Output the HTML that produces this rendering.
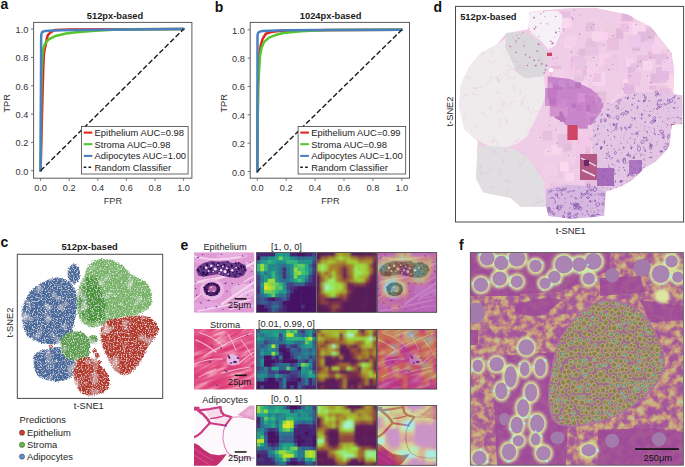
<!DOCTYPE html><html><head><meta charset="utf-8"><style>html,body{margin:0;padding:0;background:#fff;overflow:hidden}svg{display:block}</style></head><body><svg width="685" height="467" viewBox="0 0 685 467" font-family='"Liberation Sans", sans-serif'>
<rect width="685" height="467" fill="#fff"/>
<text x="115.0" y="19.0" font-size="9.3" text-anchor="middle" font-weight="bold" fill="#1a1a1a">512px-based</text>
<text x="0.4" y="8.7" font-size="14" text-anchor="start" font-weight="bold" fill="#111">a</text>
<g fill="none" stroke-width="2.5" stroke-linejoin="round" stroke-linecap="round">
<path d="M40.60,170.70 L41.32,142.38 L42.03,114.06 L42.60,92.82 L43.17,71.58 L43.75,56.00 L44.60,49.63 L45.61,45.24 L46.61,39.72 L47.61,35.61 L49.18,33.63 L50.75,32.36 L52.76,30.94 L55.33,29.95 L69.20,29.38 L183.60,29.10" stroke="#e0261d"/>
<path d="M40.60,170.70 L41.17,99.90 L41.74,71.58 L42.40,56.00 L43.17,49.63 L44.32,45.24 L46.32,41.84 L48.75,39.44 L52.04,37.60 L55.33,36.04 L66.05,33.49 L76.35,32.22 L91.79,30.94 L113.53,29.81 L140.70,29.24 L183.60,29.10" stroke="#57c52c"/>
<path d="M40.60,170.70 L40.89,99.90 L41.10,56.00 L41.14,39.01 L41.24,35.47 L41.53,33.63 L42.03,32.36 L43.46,31.37 L45.46,30.94 L48.75,30.66 L60.05,30.23 L99.94,29.81 L183.60,29.10" stroke="#4a80c0"/>
</g>
<line x1="40.60" y1="170.70" x2="183.60" y2="29.10" stroke="#1a1a1a" stroke-width="1.4" stroke-dasharray="5.2 2.4"/>
<rect x="33.6" y="22.4" width="158.3" height="155.8" fill="none" stroke="#5a5a5a" stroke-width="1"/>
<line x1="31.0" y1="170.70" x2="33.6" y2="170.70" stroke="#666" stroke-width="0.9"/>
<line x1="40.60" y1="178.2" x2="40.60" y2="180.8" stroke="#666" stroke-width="0.9"/>
<text x="28.3" y="174.7" font-size="9.2" text-anchor="end" font-weight="normal" fill="#333">0.0</text>
<text x="40.6" y="191.2" font-size="9.2" text-anchor="middle" font-weight="normal" fill="#333">0.0</text>
<line x1="31.0" y1="142.38" x2="33.6" y2="142.38" stroke="#666" stroke-width="0.9"/>
<line x1="69.20" y1="178.2" x2="69.20" y2="180.8" stroke="#666" stroke-width="0.9"/>
<text x="28.3" y="146.38" font-size="9.2" text-anchor="end" font-weight="normal" fill="#333">0.2</text>
<text x="69.2" y="191.2" font-size="9.2" text-anchor="middle" font-weight="normal" fill="#333">0.2</text>
<line x1="31.0" y1="114.06" x2="33.6" y2="114.06" stroke="#666" stroke-width="0.9"/>
<line x1="97.80" y1="178.2" x2="97.80" y2="180.8" stroke="#666" stroke-width="0.9"/>
<text x="28.3" y="118.06" font-size="9.2" text-anchor="end" font-weight="normal" fill="#333">0.4</text>
<text x="97.8" y="191.2" font-size="9.2" text-anchor="middle" font-weight="normal" fill="#333">0.4</text>
<line x1="31.0" y1="85.74" x2="33.6" y2="85.74" stroke="#666" stroke-width="0.9"/>
<line x1="126.40" y1="178.2" x2="126.40" y2="180.8" stroke="#666" stroke-width="0.9"/>
<text x="28.3" y="89.74" font-size="9.2" text-anchor="end" font-weight="normal" fill="#333">0.6</text>
<text x="126.4" y="191.2" font-size="9.2" text-anchor="middle" font-weight="normal" fill="#333">0.6</text>
<line x1="31.0" y1="57.42" x2="33.6" y2="57.42" stroke="#666" stroke-width="0.9"/>
<line x1="155.00" y1="178.2" x2="155.00" y2="180.8" stroke="#666" stroke-width="0.9"/>
<text x="28.3" y="61.42" font-size="9.2" text-anchor="end" font-weight="normal" fill="#333">0.8</text>
<text x="155.0" y="191.2" font-size="9.2" text-anchor="middle" font-weight="normal" fill="#333">0.8</text>
<line x1="31.0" y1="29.10" x2="33.6" y2="29.10" stroke="#666" stroke-width="0.9"/>
<line x1="183.60" y1="178.2" x2="183.60" y2="180.8" stroke="#666" stroke-width="0.9"/>
<text x="28.3" y="33.1" font-size="9.2" text-anchor="end" font-weight="normal" fill="#333">1.0</text>
<text x="183.6" y="191.2" font-size="9.2" text-anchor="middle" font-weight="normal" fill="#333">1.0</text>
<text x="112.9" y="204.1" font-size="9.2" text-anchor="middle" font-weight="normal" fill="#333">FPR</text>
<text x="10.1" y="103.3" font-size="9.2" text-anchor="middle" font-weight="normal" fill="#333" transform="rotate(-90 10.1 103.3)">TPR</text>
<rect x="81.5" y="126.5" width="106.6" height="47.5" fill="#fff" stroke="#444" stroke-width="0.8"/>
<line x1="83.7" y1="132.6" x2="92.3" y2="132.6" stroke="#e0261d" stroke-width="2.1"/>
<text x="94.6" y="135.9" font-size="9.4" text-anchor="start" font-weight="normal" fill="#222">Epithelium AUC=0.98</text>
<line x1="83.7" y1="144.2" x2="92.3" y2="144.2" stroke="#57c52c" stroke-width="2.1"/>
<text x="94.6" y="147.5" font-size="9.4" text-anchor="start" font-weight="normal" fill="#222">Stroma AUC=0.98</text>
<line x1="83.7" y1="155.9" x2="92.3" y2="155.9" stroke="#4a80c0" stroke-width="2.1"/>
<text x="94.6" y="159.2" font-size="9.4" text-anchor="start" font-weight="normal" fill="#222">Adipocytes AUC=1.00</text>
<line x1="83.7" y1="167.2" x2="92.3" y2="167.2" stroke="#1a1a1a" stroke-width="1.4" stroke-dasharray="2.6 2.2"/>
<text x="94.6" y="170.5" font-size="9.4" text-anchor="start" font-weight="normal" fill="#222">Random Classifier</text>
<text x="330.6" y="19.0" font-size="9.3" text-anchor="middle" font-weight="bold" fill="#1a1a1a">1024px-based</text>
<text x="214.8" y="11.6" font-size="14" text-anchor="start" font-weight="bold" fill="#111">b</text>
<g fill="none" stroke-width="2.5" stroke-linejoin="round" stroke-linecap="round">
<path d="M257.30,171.50 L257.59,128.99 L258.02,86.48 L259.11,56.01 L260.70,45.39 L262.65,38.87 L265.83,33.77 L271.03,32.07 L278.69,31.08 L300.65,30.23 L401.80,29.80" stroke="#e0261d"/>
<path d="M257.30,171.50 L257.59,128.99 L258.17,86.48 L260.05,56.01 L261.35,48.50 L263.95,42.13 L269.00,37.59 L275.51,35.04 L283.02,33.06 L301.23,31.22 L326.95,30.08 L401.80,29.80" stroke="#57c52c"/>
<path d="M257.30,171.50 L257.44,100.65 L257.50,43.97 L257.53,36.18 L257.73,33.77 L258.46,32.49 L259.90,31.64 L262.65,31.08 L283.02,30.37 L329.55,30.08 L401.80,29.80" stroke="#4a80c0"/>
</g>
<line x1="257.30" y1="171.50" x2="401.80" y2="29.80" stroke="#1a1a1a" stroke-width="1.4" stroke-dasharray="5.2 2.4"/>
<rect x="250.2" y="22.4" width="159.3" height="155.8" fill="none" stroke="#5a5a5a" stroke-width="1"/>
<line x1="247.6" y1="171.50" x2="250.2" y2="171.50" stroke="#666" stroke-width="0.9"/>
<line x1="257.30" y1="178.2" x2="257.30" y2="180.8" stroke="#666" stroke-width="0.9"/>
<text x="244.9" y="175.5" font-size="9.2" text-anchor="end" font-weight="normal" fill="#333">0.0</text>
<text x="257.3" y="191.2" font-size="9.2" text-anchor="middle" font-weight="normal" fill="#333">0.0</text>
<line x1="247.6" y1="143.16" x2="250.2" y2="143.16" stroke="#666" stroke-width="0.9"/>
<line x1="286.20" y1="178.2" x2="286.20" y2="180.8" stroke="#666" stroke-width="0.9"/>
<text x="244.9" y="147.16" font-size="9.2" text-anchor="end" font-weight="normal" fill="#333">0.2</text>
<text x="286.2" y="191.2" font-size="9.2" text-anchor="middle" font-weight="normal" fill="#333">0.2</text>
<line x1="247.6" y1="114.82" x2="250.2" y2="114.82" stroke="#666" stroke-width="0.9"/>
<line x1="315.10" y1="178.2" x2="315.10" y2="180.8" stroke="#666" stroke-width="0.9"/>
<text x="244.9" y="118.82" font-size="9.2" text-anchor="end" font-weight="normal" fill="#333">0.4</text>
<text x="315.1" y="191.2" font-size="9.2" text-anchor="middle" font-weight="normal" fill="#333">0.4</text>
<line x1="247.6" y1="86.48" x2="250.2" y2="86.48" stroke="#666" stroke-width="0.9"/>
<line x1="344.00" y1="178.2" x2="344.00" y2="180.8" stroke="#666" stroke-width="0.9"/>
<text x="244.9" y="90.48" font-size="9.2" text-anchor="end" font-weight="normal" fill="#333">0.6</text>
<text x="344.0" y="191.2" font-size="9.2" text-anchor="middle" font-weight="normal" fill="#333">0.6</text>
<line x1="247.6" y1="58.14" x2="250.2" y2="58.14" stroke="#666" stroke-width="0.9"/>
<line x1="372.90" y1="178.2" x2="372.90" y2="180.8" stroke="#666" stroke-width="0.9"/>
<text x="244.9" y="62.14" font-size="9.2" text-anchor="end" font-weight="normal" fill="#333">0.8</text>
<text x="372.9" y="191.2" font-size="9.2" text-anchor="middle" font-weight="normal" fill="#333">0.8</text>
<line x1="247.6" y1="29.80" x2="250.2" y2="29.80" stroke="#666" stroke-width="0.9"/>
<line x1="401.80" y1="178.2" x2="401.80" y2="180.8" stroke="#666" stroke-width="0.9"/>
<text x="244.9" y="33.8" font-size="9.2" text-anchor="end" font-weight="normal" fill="#333">1.0</text>
<text x="401.8" y="191.2" font-size="9.2" text-anchor="middle" font-weight="normal" fill="#333">1.0</text>
<text x="330.35" y="204.1" font-size="9.2" text-anchor="middle" font-weight="normal" fill="#333">FPR</text>
<text x="226.7" y="103.3" font-size="9.2" text-anchor="middle" font-weight="normal" fill="#333" transform="rotate(-90 226.7 103.3)">TPR</text>
<rect x="298.1" y="126.5" width="107.6" height="47.5" fill="#fff" stroke="#444" stroke-width="0.8"/>
<line x1="300.3" y1="132.6" x2="308.9" y2="132.6" stroke="#e0261d" stroke-width="2.1"/>
<text x="311.2" y="135.9" font-size="9.4" text-anchor="start" font-weight="normal" fill="#222">Epithelium AUC=0.99</text>
<line x1="300.3" y1="144.2" x2="308.9" y2="144.2" stroke="#57c52c" stroke-width="2.1"/>
<text x="311.2" y="147.5" font-size="9.4" text-anchor="start" font-weight="normal" fill="#222">Stroma AUC=0.98</text>
<line x1="300.3" y1="155.9" x2="308.9" y2="155.9" stroke="#4a80c0" stroke-width="2.1"/>
<text x="311.2" y="159.2" font-size="9.4" text-anchor="start" font-weight="normal" fill="#222">Adipocytes AUC=1.00</text>
<line x1="300.3" y1="167.2" x2="308.9" y2="167.2" stroke="#1a1a1a" stroke-width="1.4" stroke-dasharray="2.6 2.2"/>
<text x="311.2" y="170.5" font-size="9.4" text-anchor="start" font-weight="normal" fill="#222">Random Classifier</text>
<defs><filter id="speck" x="-5%" y="-5%" width="110%" height="110%"><feTurbulence type="fractalNoise" baseFrequency="0.75" numOctaves="2" seed="3" result="n"/><feTurbulence type="fractalNoise" baseFrequency="0.09" numOctaves="2" seed="8" result="n2"/><feDisplacementMap in="SourceGraphic" in2="n" scale="4" xChannelSelector="R" yChannelSelector="G" result="d"/><feColorMatrix in="n" type="matrix" values="0 0 0 0 1  0 0 0 0 1  0 0 0 0 1  2.3 0 0 0 -1.15" result="m1"/><feColorMatrix in="n2" type="matrix" values="0 0 0 0 1  0 0 0 0 1  0 0 0 0 1  1.6 0 0 0 -0.92" result="m2"/><feComposite in="m1" in2="m2" operator="arithmetic" k2="1" k3="1" result="m"/><feComposite in="m" in2="d" operator="in" result="w"/><feMerge><feMergeNode in="d"/><feMergeNode in="w"/></feMerge></filter></defs>
<text x="89.6" y="249.8" font-size="9.3" text-anchor="middle" font-weight="bold" fill="#1a1a1a">512px-based</text>
<text x="0.6" y="246.8" font-size="14" text-anchor="start" font-weight="bold" fill="#111">c</text>
<g filter="url(#speck)">
<path d="M23.2,325.4 C22.4,321.8 20.8,317.7 21.3,313.0 C21.9,308.3 23.9,301.9 26.3,297.5 C28.7,293.1 32.3,289.5 35.6,286.6 C39.0,283.8 43.1,282.0 46.5,280.4 C49.9,278.8 52.5,277.3 55.8,277.3 C59.2,277.3 63.5,278.6 66.7,280.4 C69.8,282.2 73.1,284.8 74.8,288.2 C76.5,291.5 76.7,296.4 76.9,300.6 C77.1,304.7 76.6,308.9 76.0,313.0 C75.4,317.1 74.6,321.8 73.5,325.4 C72.5,329.1 72.0,331.9 69.8,334.7 C67.6,337.6 64.1,341.0 60.5,342.5 C56.9,344.1 52.2,344.3 48.1,344.1 C43.9,343.8 39.3,342.5 35.6,341.0 C32.0,339.4 28.4,337.3 26.3,334.7 C24.2,332.2 24.0,329.1 23.2,325.4Z" fill="#46689a"/>
<ellipse cx="73.8" cy="273.9" rx="6.2" ry="10.0" fill="#46689a"/>
<path d="M35.0,354.0 C37.4,351.7 43.8,349.9 48.1,348.7 C52.3,347.6 56.8,346.5 60.5,347.2 C64.2,347.8 68.0,350.2 70.4,352.8 C72.8,355.3 74.3,359.2 74.8,362.7 C75.2,366.2 74.2,370.7 72.9,373.6 C71.6,376.4 69.8,378.5 66.7,379.8 C63.6,381.1 58.4,381.6 54.3,381.3 C50.1,381.1 45.0,379.8 41.8,378.2 C38.7,376.7 37.0,374.6 35.6,372.0 C34.3,369.4 33.9,365.7 33.8,362.7 C33.7,359.7 32.6,356.3 35.0,354.0Z" fill="#46689a"/>
<path d="M78.5,288.8 C79.4,285.2 81.3,282.5 82.8,278.8 C84.4,275.2 85.8,270.1 87.8,267.0 C89.8,263.9 90.9,261.5 94.6,260.2 C98.4,259.0 105.5,258.7 110.2,259.6 C114.8,260.5 118.9,263.2 122.6,265.8 C126.3,268.4 128.9,272.5 132.5,275.1 C136.2,277.7 141.2,278.6 144.3,281.3 C147.4,284.0 150.0,287.5 151.2,291.3 C152.3,295.0 152.2,300.5 151.2,303.7 C150.1,306.9 147.6,308.6 145.0,310.5 C142.3,312.4 138.7,314.1 135.0,315.2 C131.3,316.2 126.7,315.9 122.6,316.7 C118.4,317.6 113.8,319.0 110.2,320.5 C106.5,321.9 104.0,324.3 100.9,325.4 C97.7,326.6 94.6,327.8 91.5,327.3 C88.4,326.8 84.5,324.7 82.2,322.3 C79.9,319.9 78.7,316.6 77.9,313.0 C77.0,309.4 77.1,304.6 77.2,300.6 C77.4,296.5 77.6,292.4 78.5,288.8Z" fill="#78b468"/>
<path d="M80.7,288.2 C81.7,284.8 83.5,280.8 85.3,278.8 C87.1,276.9 89.4,275.8 91.5,276.4 C93.7,276.9 96.6,278.9 98.4,282.0 C100.2,285.0 101.2,290.2 102.4,294.4 C103.6,298.5 105.3,302.9 105.5,306.8 C105.8,310.7 105.5,315.1 104.0,317.7 C102.4,320.3 99.0,321.8 96.2,322.3 C93.3,322.8 89.5,322.6 86.9,320.8 C84.3,319.0 82.0,315.1 80.7,311.5 C79.4,307.8 79.1,302.9 79.1,299.0 C79.1,295.1 79.6,291.5 80.7,288.2Z" fill="#4a9438"/>
<path d="M100.9,329.2 C101.7,325.3 104.0,322.6 107.1,320.8 C110.2,318.9 115.3,318.8 119.5,318.0 C123.6,317.2 127.8,316.5 131.9,316.1 C136.0,315.7 140.7,315.1 144.3,315.8 C148.0,316.5 151.3,318.1 153.6,320.5 C156.0,322.8 158.5,327.1 158.6,330.1 C158.7,333.1 156.1,335.5 154.3,338.5 C152.4,341.4 149.5,344.3 147.4,347.8 C145.4,351.3 143.9,356.0 141.8,359.6 C139.8,363.2 137.7,366.9 135.0,369.5 C132.3,372.1 128.8,374.7 125.7,375.1 C122.6,375.5 119.0,374.1 116.4,372.0 C113.8,369.9 112.0,365.8 110.2,362.7 C108.4,359.6 106.9,356.5 105.5,353.4 C104.2,350.3 102.9,348.1 102.1,344.1 C101.3,340.0 100.0,333.0 100.9,329.2Z" fill="#b4372b"/>
<path d="M60.5,342.5 C60.5,339.2 61.5,337.2 63.6,335.4 C65.7,333.6 69.5,332.0 72.9,331.6 C76.3,331.3 80.9,331.4 83.8,333.2 C86.6,335.0 89.1,338.9 90.0,342.5 C90.9,346.1 90.3,352.1 89.0,354.9 C87.8,357.8 85.2,358.7 82.2,359.6 C79.3,360.5 74.5,361.0 71.3,360.2 C68.2,359.4 65.4,357.9 63.6,354.9 C61.8,352.0 60.5,345.8 60.5,342.5Z" fill="#5c9e4c"/>
<path d="M74.5,364.2 C75.4,361.6 76.5,360.0 79.1,359.0 C81.7,357.9 86.6,357.2 90.0,358.0 C93.3,358.9 96.5,361.7 99.3,364.2 C102.1,366.8 105.4,370.2 107.1,373.6 C108.8,376.9 110.1,381.3 109.5,384.4 C109.0,387.5 106.7,390.4 104.0,392.2 C101.2,394.0 96.7,395.0 93.1,395.3 C89.5,395.6 85.1,395.6 82.2,393.8 C79.4,391.9 77.5,387.5 76.0,384.4 C74.6,381.3 73.8,378.5 73.5,375.1 C73.3,371.8 73.5,366.9 74.5,364.2Z" fill="#b4372b"/>
<circle cx="93.1" cy="339.4" r="4.5" fill="#5c9e4c"/>
<circle cx="94.6" cy="350.9" r="2.2" fill="#b4372b"/>
<circle cx="97.1" cy="355.9" r="2.5" fill="#b4372b"/>
<circle cx="98.4" cy="362.7" r="2.6" fill="#b4372b"/>
<circle cx="95.3" cy="359.6" r="1.6" fill="#b4372b"/>
<circle cx="50.5" cy="346.5" r="1.6" fill="#b4372b"/>
<circle cx="51.8" cy="345.6" r="1.2" fill="#b4372b"/>
</g>
<rect x="17.3" y="254.3" width="145.4" height="144.1" fill="none" stroke="#4a4a4a" stroke-width="1"/>
<text x="88.8" y="409.3" font-size="9.3" text-anchor="middle" font-weight="normal" fill="#262626">t-SNE1</text>
<text x="12.9" y="322.6" font-size="9.3" text-anchor="middle" font-weight="normal" fill="#262626" transform="rotate(-90 12.9 322.6)">t-SNE2</text>
<text x="19.6" y="422.9" font-size="9.4" text-anchor="start" font-weight="normal" fill="#262626">Predictions</text>
<circle cx="22.0" cy="432.7" r="2.6" fill="#d93b2b" stroke="#333" stroke-width="0.5"/>
<text x="27.0" y="436.0" font-size="9.4" text-anchor="start" font-weight="normal" fill="#262626">Epithelium</text>
<circle cx="22.0" cy="444.8" r="2.6" fill="#5cc23a" stroke="#333" stroke-width="0.5"/>
<text x="27.0" y="448.1" font-size="9.4" text-anchor="start" font-weight="normal" fill="#262626">Stroma</text>
<circle cx="22.0" cy="456.6" r="2.6" fill="#5a8fd0" stroke="#333" stroke-width="0.5"/>
<text x="27.0" y="459.9" font-size="9.4" text-anchor="start" font-weight="normal" fill="#262626">Adipocytes</text>
<defs><clipPath id="dout"><polygon points="529.6,11.6 564.6,8.3 595.0,7.4 627.6,14.4 651.0,27.0 660.3,38.7 671.9,52.7 674.3,71.3 673.5,94.6 682.5,95.2 682.5,124.0 671.5,125.0 669.6,146.0 665.6,151.4 655.0,162.0 644.0,168.5 633.5,179.0 622.8,185.7 605.7,192.0 604.3,216.0 571.6,219.0 548.3,216.0 546.0,206.7 520.0,206.7 511.0,198.2 483.0,192.6 476.0,178.6 477.4,141.3 464.3,129.6 458.7,106.3 460.6,85.3 469.0,66.6 480.7,52.7 497.0,44.3 506.3,33.0 527.3,29.3 529.6,20.0"/></clipPath><filter id="hetex" x="0" y="0" width="100%" height="100%" color-interpolation-filters="sRGB"><feTurbulence type="fractalNoise" baseFrequency="0.3" numOctaves="2" seed="17" result="n"/><feColorMatrix in="n" type="matrix" values="0 0 0 0 0.52  0 0 0 0 0.28  0 0 0 0 0.66  4.0 0 0 0 -2.45" result="m"/><feComposite in="m" in2="SourceGraphic" operator="in" result="w"/><feMerge><feMergeNode in="SourceGraphic"/><feMergeNode in="w"/></feMerge></filter></defs>
<g clip-path="url(#dout)">
<polygon points="529.6,11.6 564.6,8.3 595.0,7.4 627.6,14.4 651.0,27.0 660.3,38.7 671.9,52.7 674.3,71.3 673.5,94.6 682.5,95.2 682.5,124.0 671.5,125.0 669.6,146.0 665.6,151.4 655.0,162.0 644.0,168.5 633.5,179.0 622.8,185.7 605.7,192.0 604.3,216.0 571.6,219.0 548.3,216.0 546.0,206.7 520.0,206.7 511.0,198.2 483.0,192.6 476.0,178.6 477.4,141.3 464.3,129.6 458.7,106.3 460.6,85.3 469.0,66.6 480.7,52.7 497.0,44.3 506.3,33.0 527.3,29.3 529.6,20.0" fill="#f0cde7"/>
<rect x="562.4" y="139.8" width="11.1" height="11.1" fill="#edc9e6"/>
<rect x="609.7" y="104.0" width="7.9" height="7.9" fill="#e1b8d8"/>
<rect x="648.0" y="51.1" width="7.9" height="7.9" fill="#e6bade"/>
<rect x="623.8" y="12.6" width="8.6" height="8.6" fill="#edcbe4"/>
<rect x="561.1" y="164.6" width="7.0" height="7.0" fill="#fad7ed"/>
<rect x="605.9" y="42.3" width="6.3" height="6.3" fill="#f7d6eb"/>
<rect x="643.7" y="118.7" width="11.8" height="11.8" fill="#e5bddb"/>
<rect x="589.7" y="93.6" width="9.1" height="9.1" fill="#fbd6ed"/>
<rect x="606.8" y="112.8" width="12.0" height="12.0" fill="#e8bfe0"/>
<rect x="564.6" y="39.0" width="8.8" height="8.8" fill="#f9d7ed"/>
<rect x="554.0" y="18.7" width="12.5" height="12.5" fill="#f5d2ec"/>
<rect x="660.1" y="101.2" width="9.0" height="9.0" fill="#ebbddd"/>
<rect x="649.5" y="156.1" width="9.9" height="9.9" fill="#f5d2eb"/>
<rect x="597.1" y="39.1" width="6.6" height="6.6" fill="#edc5e3"/>
<rect x="605.1" y="54.9" width="13.7" height="13.7" fill="#f1c6e4"/>
<rect x="621.8" y="88.7" width="10.6" height="10.6" fill="#f7d4eb"/>
<rect x="627.6" y="171.2" width="10.7" height="10.7" fill="#e8c3e2"/>
<rect x="558.2" y="24.4" width="6.8" height="6.8" fill="#e2b6dd"/>
<rect x="629.1" y="30.5" width="10.3" height="10.3" fill="#eac0df"/>
<rect x="565.0" y="79.3" width="11.7" height="11.7" fill="#eecbe8"/>
<rect x="645.3" y="159.4" width="6.1" height="6.1" fill="#ebc8e2"/>
<rect x="636.8" y="55.1" width="11.6" height="11.6" fill="#e7c1e0"/>
<rect x="662.5" y="63.2" width="10.0" height="10.0" fill="#f3c7e7"/>
<rect x="609.1" y="148.5" width="13.7" height="13.7" fill="#ebc2e1"/>
<rect x="548.7" y="164.0" width="13.8" height="13.8" fill="#eac6e0"/>
<rect x="550.4" y="20.2" width="12.5" height="12.5" fill="#f5d2e8"/>
<rect x="627.7" y="91.9" width="10.1" height="10.1" fill="#ecc3e0"/>
<rect x="599.0" y="53.9" width="11.6" height="11.6" fill="#f9d2ea"/>
<rect x="592.4" y="100.4" width="11.1" height="11.1" fill="#f9d8ef"/>
<rect x="625.2" y="153.2" width="11.3" height="11.3" fill="#fad5eb"/>
<rect x="664.7" y="80.9" width="10.9" height="10.9" fill="#fad6e9"/>
<rect x="582.5" y="66.5" width="9.1" height="9.1" fill="#e6b9dc"/>
<rect x="554.7" y="191.5" width="11.6" height="11.6" fill="#e6bfe0"/>
<rect x="575.5" y="190.5" width="8.6" height="8.6" fill="#ebbee1"/>
<rect x="567.2" y="122.0" width="8.2" height="8.2" fill="#eec4e2"/>
<rect x="623.9" y="60.4" width="7.4" height="7.4" fill="#ebc2e5"/>
<rect x="544.7" y="163.2" width="13.5" height="13.5" fill="#f1cfe6"/>
<rect x="622.7" y="141.9" width="7.9" height="7.9" fill="#e2b5da"/>
<rect x="601.8" y="179.5" width="9.0" height="9.0" fill="#e7bede"/>
<rect x="546.7" y="42.4" width="9.2" height="9.2" fill="#efcce8"/>
<rect x="619.2" y="21.6" width="13.2" height="13.2" fill="#f7cee7"/>
<rect x="650.9" y="123.7" width="11.0" height="11.0" fill="#f0c6e3"/>
<rect x="588.0" y="63.8" width="11.0" height="11.0" fill="#f7d3ed"/>
<rect x="632.2" y="42.8" width="8.2" height="8.2" fill="#e1b9dd"/>
<rect x="628.8" y="36.7" width="6.8" height="6.8" fill="#fad6ef"/>
<rect x="639.0" y="107.8" width="6.6" height="6.6" fill="#f6d0eb"/>
<rect x="612.4" y="127.9" width="7.4" height="7.4" fill="#f4cdeb"/>
<rect x="569.6" y="156.9" width="13.2" height="13.2" fill="#f2cce5"/>
<rect x="541.5" y="74.3" width="10.9" height="10.9" fill="#f3cde5"/>
<rect x="666.6" y="110.0" width="13.1" height="13.1" fill="#eabee1"/>
<rect x="551.3" y="84.7" width="7.4" height="7.4" fill="#f2c9e4"/>
<rect x="543.7" y="88.1" width="10.6" height="10.6" fill="#e4b6d9"/>
<rect x="666.2" y="107.5" width="13.2" height="13.2" fill="#edc7e5"/>
<rect x="627.2" y="155.6" width="12.0" height="12.0" fill="#f1cde7"/>
<rect x="606.6" y="57.5" width="10.3" height="10.3" fill="#ebc9e5"/>
<rect x="649.2" y="148.9" width="11.8" height="11.8" fill="#fbd8ec"/>
<rect x="630.4" y="118.8" width="10.6" height="10.6" fill="#fad7f1"/>
<rect x="650.5" y="99.7" width="6.4" height="6.4" fill="#eec4e2"/>
<rect x="593.0" y="127.9" width="10.8" height="10.8" fill="#f6d0e8"/>
<rect x="574.1" y="157.7" width="12.3" height="12.3" fill="#f8d9f0"/>
<rect x="550.5" y="65.7" width="11.1" height="11.1" fill="#e8bbdf"/>
<rect x="580.2" y="48.3" width="7.7" height="7.7" fill="#f0c6e6"/>
<rect x="585.6" y="132.0" width="8.9" height="8.9" fill="#e5bbe0"/>
<rect x="596.3" y="29.9" width="13.0" height="13.0" fill="#f0cfe9"/>
<rect x="600.4" y="103.1" width="13.7" height="13.7" fill="#edc5e2"/>
<rect x="587.1" y="152.5" width="11.1" height="11.1" fill="#eec5e6"/>
<rect x="542.7" y="130.8" width="9.6" height="9.6" fill="#e8bfdd"/>
<rect x="606.7" y="38.0" width="12.4" height="12.4" fill="#e9c0df"/>
<rect x="565.4" y="35.4" width="11.0" height="11.0" fill="#f6d1ec"/>
<rect x="555.7" y="84.6" width="12.1" height="12.1" fill="#e8bedc"/>
<rect x="573.0" y="122.3" width="6.8" height="6.8" fill="#e8c0df"/>
<rect x="583.3" y="183.2" width="8.9" height="8.9" fill="#f4d2ed"/>
<rect x="644.9" y="118.5" width="7.5" height="7.5" fill="#f8d9f0"/>
<rect x="637.9" y="108.9" width="7.3" height="7.3" fill="#ecc4e1"/>
<rect x="552.3" y="69.0" width="12.3" height="12.3" fill="#f3cfe8"/>
<rect x="630.0" y="91.9" width="7.9" height="7.9" fill="#eec3e4"/>
<rect x="625.4" y="97.9" width="10.5" height="10.5" fill="#eac3e1"/>
<rect x="584.9" y="42.2" width="13.3" height="13.3" fill="#ebc3e2"/>
<rect x="658.1" y="71.4" width="11.3" height="11.3" fill="#e9bfe1"/>
<rect x="611.9" y="78.8" width="8.2" height="8.2" fill="#f3cce7"/>
<rect x="584.7" y="178.9" width="12.8" height="12.8" fill="#e7bedf"/>
<rect x="625.1" y="58.9" width="8.1" height="8.1" fill="#f7d3ed"/>
<rect x="673.1" y="102.9" width="11.6" height="11.6" fill="#f2c9e5"/>
<rect x="630.3" y="63.2" width="7.0" height="7.0" fill="#eac1e0"/>
<rect x="601.8" y="154.1" width="6.4" height="6.4" fill="#f0cde7"/>
<rect x="600.6" y="144.1" width="9.3" height="9.3" fill="#eec2e2"/>
<rect x="575.0" y="127.3" width="8.5" height="8.5" fill="#f6cde8"/>
<rect x="667.3" y="74.4" width="11.1" height="11.1" fill="#f6d4e9"/>
<rect x="586.3" y="38.4" width="8.8" height="8.8" fill="#e5c0dd"/>
<rect x="618.0" y="113.5" width="12.8" height="12.8" fill="#f9d2ee"/>
<rect x="553.3" y="186.1" width="8.5" height="8.5" fill="#e7bfe2"/>
<rect x="573.2" y="68.3" width="8.4" height="8.4" fill="#f0c9e1"/>
<rect x="634.2" y="158.2" width="7.5" height="7.5" fill="#f5ceea"/>
<rect x="551.5" y="144.6" width="9.9" height="9.9" fill="#f8d6eb"/>
<rect x="649.4" y="146.2" width="6.2" height="6.2" fill="#e8c2e2"/>
<rect x="548.5" y="190.5" width="13.7" height="13.7" fill="#eec5e4"/>
<rect x="594.2" y="91.5" width="12.0" height="12.0" fill="#e6bfdd"/>
<rect x="549.4" y="182.8" width="7.3" height="7.3" fill="#ecc4e2"/>
<rect x="613.1" y="28.5" width="10.3" height="10.3" fill="#e1b7da"/>
<rect x="586.4" y="62.5" width="12.7" height="12.7" fill="#f3cfe9"/>
<rect x="582.9" y="125.5" width="12.0" height="12.0" fill="#f1cae8"/>
<rect x="575.9" y="136.3" width="13.8" height="13.8" fill="#f2c7e7"/>
<rect x="576.1" y="151.6" width="9.4" height="9.4" fill="#eec8e8"/>
<rect x="627.5" y="128.0" width="6.9" height="6.9" fill="#ecbfe1"/>
<rect x="634.7" y="105.0" width="10.4" height="10.4" fill="#fdd6ee"/>
<rect x="597.1" y="138.6" width="11.4" height="11.4" fill="#eac0dd"/>
<rect x="579.7" y="79.1" width="7.6" height="7.6" fill="#f6d0e9"/>
<rect x="656.6" y="101.4" width="10.7" height="10.7" fill="#f7d4ec"/>
<rect x="586.4" y="89.0" width="6.5" height="6.5" fill="#f6cce7"/>
<rect x="585.5" y="160.5" width="7.8" height="7.8" fill="#f4d2ec"/>
<rect x="631.6" y="22.4" width="13.7" height="13.7" fill="#f8d6ed"/>
<rect x="562.9" y="83.0" width="12.6" height="12.6" fill="#ebc5e2"/>
<rect x="619.7" y="130.9" width="9.6" height="9.6" fill="#efc4e4"/>
<rect x="567.8" y="105.7" width="7.4" height="7.4" fill="#e4b9dc"/>
<rect x="628.8" y="112.5" width="12.4" height="12.4" fill="#ecc9e4"/>
<rect x="574.1" y="75.4" width="10.0" height="10.0" fill="#e8c1e2"/>
<rect x="649.0" y="85.8" width="11.2" height="11.2" fill="#e5bada"/>
<rect x="604.2" y="58.7" width="12.4" height="12.4" fill="#efc8e5"/>
<rect x="591.7" y="72.4" width="13.6" height="13.6" fill="#f8d5ef"/>
<rect x="642.9" y="60.9" width="9.6" height="9.6" fill="#f9d6f0"/>
<rect x="570.9" y="56.4" width="12.3" height="12.3" fill="#e6bedc"/>
<rect x="625.5" y="108.8" width="13.7" height="13.7" fill="#efcbe7"/>
<rect x="559.7" y="161.9" width="9.2" height="9.2" fill="#fed8ee"/>
<rect x="570.9" y="59.6" width="7.6" height="7.6" fill="#e8badf"/>
<rect x="621.3" y="148.7" width="10.5" height="10.5" fill="#f9d4ee"/>
<rect x="576.6" y="197.7" width="13.4" height="13.4" fill="#f6cde9"/>
<rect x="592.1" y="73.0" width="9.0" height="9.0" fill="#efc4e5"/>
<rect x="557.4" y="193.9" width="10.4" height="10.4" fill="#f0cce8"/>
<rect x="663.8" y="118.6" width="8.2" height="8.2" fill="#f0cee7"/>
<rect x="637.8" y="31.6" width="10.8" height="10.8" fill="#e4bbe0"/>
<rect x="592.9" y="107.4" width="12.3" height="12.3" fill="#fad9f1"/>
<rect x="648.0" y="73.3" width="9.8" height="9.8" fill="#f5d2ec"/>
<rect x="655.8" y="53.3" width="11.3" height="11.3" fill="#e6bee0"/>
<rect x="612.1" y="99.1" width="8.1" height="8.1" fill="#f8d5eb"/>
<rect x="627.5" y="133.6" width="7.8" height="7.8" fill="#fbd4f0"/>
<rect x="656.1" y="66.9" width="12.9" height="12.9" fill="#e4bbe0"/>
<rect x="580.6" y="80.8" width="7.7" height="7.7" fill="#f5d5eb"/>
<rect x="614.8" y="176.1" width="8.1" height="8.1" fill="#f1c9e5"/>
<rect x="627.8" y="67.0" width="7.2" height="7.2" fill="#e3b8dd"/>
<rect x="561.3" y="136.5" width="9.6" height="9.6" fill="#f2c9e5"/>
<rect x="627.8" y="34.7" width="13.0" height="13.0" fill="#edc8e8"/>
<rect x="667.3" y="61.2" width="6.1" height="6.1" fill="#e8c0dd"/>
<rect x="585.5" y="147.2" width="8.8" height="8.8" fill="#e8bddf"/>
<rect x="605.9" y="163.6" width="10.1" height="10.1" fill="#fdd9ef"/>
<rect x="622.9" y="79.1" width="6.6" height="6.6" fill="#fbd7ef"/>
<rect x="617.7" y="164.8" width="10.2" height="10.2" fill="#f6d3ed"/>
<rect x="621.6" y="10.0" width="11.3" height="11.3" fill="#e1b5dc"/>
<rect x="562.9" y="145.5" width="6.6" height="6.6" fill="#e9c1dc"/>
<rect x="623.6" y="83.1" width="11.0" height="11.0" fill="#e1b7df"/>
<rect x="606.7" y="124.8" width="7.1" height="7.1" fill="#f6cceb"/>
<rect x="627.7" y="72.9" width="12.2" height="12.2" fill="#ebc2e4"/>
<rect x="647.1" y="24.6" width="7.4" height="7.4" fill="#ebc4e1"/>
<rect x="616.0" y="93.7" width="8.4" height="8.4" fill="#f2d0e6"/>
<rect x="662.2" y="129.6" width="9.7" height="9.7" fill="#e5bcdb"/>
<rect x="636.9" y="109.1" width="6.7" height="6.7" fill="#f7d4ee"/>
<rect x="655.2" y="35.6" width="10.4" height="10.4" fill="#efc7e5"/>
<rect x="650.3" y="73.4" width="9.6" height="9.6" fill="#e4b9de"/>
<rect x="557.6" y="183.5" width="10.8" height="10.8" fill="#ebc6e4"/>
<rect x="559.6" y="195.5" width="8.9" height="8.9" fill="#ecc5e2"/>
<rect x="621.3" y="99.0" width="8.6" height="8.6" fill="#ecc6e4"/>
<rect x="644.3" y="89.5" width="9.3" height="9.3" fill="#f2cee6"/>
<rect x="623.9" y="110.6" width="11.2" height="11.2" fill="#fbd8eb"/>
<rect x="669.7" y="92.3" width="8.9" height="8.9" fill="#f0c9e6"/>
<rect x="581.0" y="29.0" width="7.6" height="7.6" fill="#f5cbe6"/>
<rect x="603.3" y="25.0" width="12.5" height="12.5" fill="#f0cce3"/>
<rect x="569.3" y="158.7" width="10.9" height="10.9" fill="#edc7e6"/>
<rect x="557.9" y="11.5" width="12.6" height="12.6" fill="#e9bfe3"/>
<rect x="600.2" y="32.1" width="7.6" height="7.6" fill="#fbd3f0"/>
<rect x="590.6" y="147.1" width="10.5" height="10.5" fill="#f8d1ed"/>
<rect x="655.8" y="85.7" width="12.6" height="12.6" fill="#edc5e2"/>
<rect x="644.4" y="40.8" width="9.0" height="9.0" fill="#f0c8e9"/>
<rect x="557.6" y="133.8" width="13.8" height="13.8" fill="#e8c0e1"/>
<rect x="661.9" y="59.7" width="11.3" height="11.3" fill="#f2cdeb"/>
<rect x="553.7" y="108.2" width="6.9" height="6.9" fill="#e8c2e1"/>
<rect x="578.7" y="48.9" width="6.5" height="6.5" fill="#e0bbd8"/>
<rect x="637.4" y="94.5" width="10.7" height="10.7" fill="#edc3e0"/>
<rect x="598.7" y="184.1" width="7.3" height="7.3" fill="#f9d5ed"/>
<rect x="620.4" y="23.6" width="8.0" height="8.0" fill="#eac1e3"/>
<rect x="597.3" y="149.8" width="9.1" height="9.1" fill="#f9d7ee"/>
<rect x="647.6" y="31.4" width="10.4" height="10.4" fill="#efc5e4"/>
<rect x="671.5" y="92.9" width="6.6" height="6.6" fill="#f2c5e6"/>
<rect x="646.1" y="28.4" width="10.8" height="10.8" fill="#e3bcdc"/>
<rect x="629.6" y="108.2" width="7.8" height="7.8" fill="#f7d8ec"/>
<rect x="662.3" y="123.8" width="9.7" height="9.7" fill="#eac1e2"/>
<rect x="630.6" y="71.7" width="10.8" height="10.8" fill="#edc3e4"/>
<rect x="585.6" y="22.6" width="8.7" height="8.7" fill="#e5bedc"/>
<rect x="572.4" y="62.4" width="9.7" height="9.7" fill="#f5c9e5"/>
<rect x="565.3" y="195.4" width="9.8" height="9.8" fill="#f4cee7"/>
<rect x="602.6" y="159.0" width="8.1" height="8.1" fill="#ecc4e3"/>
<rect x="586.8" y="72.5" width="6.8" height="6.8" fill="#f5d1e9"/>
<rect x="574.3" y="58.0" width="11.6" height="11.6" fill="#e9c4e4"/>
<rect x="562.4" y="18.2" width="9.3" height="9.3" fill="#f8d5ef"/>
<rect x="643.5" y="93.7" width="6.4" height="6.4" fill="#eec7e3"/>
<rect x="651.7" y="44.9" width="9.1" height="9.1" fill="#f7d0eb"/>
<rect x="543.2" y="17.3" width="10.0" height="10.0" fill="#e5b6db"/>
<rect x="659.3" y="88.5" width="12.1" height="12.1" fill="#e6bede"/>
<rect x="565.2" y="172.6" width="8.9" height="8.9" fill="#f9d8eb"/>
<rect x="596.3" y="196.3" width="13.7" height="13.7" fill="#f6d0ec"/>
<rect x="558.2" y="17.7" width="10.4" height="10.4" fill="#f9d9f1"/>
<rect x="564.6" y="144.2" width="6.8" height="6.8" fill="#e3bbdc"/>
<rect x="654.6" y="35.7" width="13.2" height="13.2" fill="#f6d2ec"/>
<rect x="556.6" y="186.8" width="9.5" height="9.5" fill="#f2c6e4"/>
<rect x="544.2" y="148.9" width="7.7" height="7.7" fill="#f6d2e8"/>
<rect x="596.3" y="158.9" width="9.6" height="9.6" fill="#e8bfde"/>
<rect x="591.9" y="31.6" width="9.2" height="9.2" fill="#f7d6eb"/>
<rect x="604.7" y="157.1" width="13.3" height="13.3" fill="#f7d3ea"/>
<rect x="613.2" y="164.9" width="7.5" height="7.5" fill="#e8c1e1"/>
<rect x="567.2" y="90.9" width="11.6" height="11.6" fill="#e4bad9"/>
<rect x="567.6" y="158.1" width="7.3" height="7.3" fill="#f2ccea"/>
<polygon points="458.7,106.3 460.6,85.3 469.0,66.6 480.7,52.7 497.0,44.3 506.3,38.0 511.0,59.6 518.0,73.6 525.0,78.3 543.6,76.0 546.0,95.0 540.0,110.0 527.0,136.4 517.3,143.6 507.8,147.2 495.8,148.4 483.8,143.6 474.2,138.8 464.3,129.6" fill="#efebed"/>
<polygon points="506.3,32.8 522.6,31.7 532.0,35.2 541.3,44.5 547.1,52.7 547.1,66.6 543.6,76.0 525.0,78.3 518.0,73.6 511.0,59.6 505.2,48.0" fill="#dbd8db"/>
<polygon points="528.5,11.8 557.6,10.7 562.3,15.3 561.1,31.7 555.3,45.7 548.3,49.2 541.3,41.0 532.0,34.0 527.3,24.7" fill="#f6f1f6"/>
<polygon points="477.2,146.0 491.0,146.0 512.6,148.4 527.0,155.6 536.5,170.0 544.0,182.0 546.0,206.7 520.0,206.7 511.0,198.2 483.0,192.6 476.0,178.6" fill="#e0dee0"/>
<polygon points="547.7,76.3 570.0,79.0 591.4,89.1 601.6,99.4 601.6,111.4 591.4,125.0 565.7,125.0 550.3,108.0 547.7,94.2" fill="#c886ca"/>
<rect x="568.0" y="119.7" width="9.1" height="9.1" fill="#c786cd"/>
<rect x="560.3" y="104.7" width="6.0" height="6.0" fill="#d191d0"/>
<rect x="570.7" y="103.2" width="8.5" height="8.5" fill="#ce8bcb"/>
<rect x="594.8" y="111.0" width="5.8" height="5.8" fill="#c984c6"/>
<rect x="595.2" y="112.0" width="6.0" height="6.0" fill="#d08ed1"/>
<rect x="548.5" y="82.7" width="5.2" height="5.2" fill="#d799d6"/>
<rect x="571.3" y="103.3" width="5.1" height="5.1" fill="#bd74bf"/>
<rect x="575.1" y="82.4" width="5.9" height="5.9" fill="#ba76be"/>
<rect x="585.9" y="111.2" width="9.0" height="9.0" fill="#d18fcf"/>
<rect x="561.1" y="91.5" width="8.0" height="8.0" fill="#c783ca"/>
<rect x="585.3" y="115.6" width="7.7" height="7.7" fill="#ce8ace"/>
<rect x="556.1" y="106.5" width="9.1" height="9.1" fill="#c584cb"/>
<rect x="566.9" y="81.4" width="7.7" height="7.7" fill="#c17ec4"/>
<rect x="557.7" y="107.1" width="9.9" height="9.9" fill="#d392d0"/>
<rect x="557.7" y="113.8" width="6.1" height="6.1" fill="#b975bf"/>
<rect x="568.8" y="80.5" width="5.9" height="5.9" fill="#cb89cd"/>
<rect x="578.2" y="119.1" width="9.6" height="9.6" fill="#c886c8"/>
<rect x="555.2" y="111.5" width="7.2" height="7.2" fill="#b870ba"/>
<rect x="593.7" y="105.0" width="6.1" height="6.1" fill="#cb89cc"/>
<rect x="552.8" y="79.8" width="9.9" height="9.9" fill="#be75c0"/>
<rect x="551.5" y="109.4" width="6.0" height="6.0" fill="#c888c7"/>
<rect x="586.4" y="104.8" width="6.6" height="6.6" fill="#b673bb"/>
<rect x="549.1" y="89.2" width="6.1" height="6.1" fill="#c787cb"/>
<rect x="576.1" y="105.0" width="6.2" height="6.2" fill="#c67fc8"/>
<rect x="556.0" y="98.8" width="9.5" height="9.5" fill="#cc8bcc"/>
<rect x="588.6" y="93.0" width="9.2" height="9.2" fill="#d08dcd"/>
<rect x="584.9" y="96.7" width="5.3" height="5.3" fill="#c580c6"/>
<rect x="578.8" y="94.1" width="7.8" height="7.8" fill="#c27dc3"/>
<rect x="577.2" y="93.4" width="8.9" height="8.9" fill="#d591d4"/>
<rect x="557.7" y="79.8" width="7.1" height="7.1" fill="#ca8cd0"/>
<rect x="590.2" y="117.0" width="5.8" height="5.8" fill="#c17dc7"/>
<rect x="551.8" y="79.2" width="5.7" height="5.7" fill="#c585c7"/>
<rect x="588.8" y="104.0" width="6.9" height="6.9" fill="#bc74bd"/>
<rect x="549.8" y="106.8" width="9.7" height="9.7" fill="#d292cd"/>
<rect x="555.7" y="98.2" width="5.6" height="5.6" fill="#c983ca"/>
<rect x="559.8" y="116.4" width="5.4" height="5.4" fill="#b976bc"/>
<rect x="585.3" y="95.7" width="9.5" height="9.5" fill="#c682c5"/>
<rect x="590.2" y="105.2" width="8.0" height="8.0" fill="#c482c7"/>
<rect x="597.8" y="103.0" width="5.5" height="5.5" fill="#c888ca"/>
<rect x="549.7" y="98.1" width="5.2" height="5.2" fill="#bc74c0"/>
<g filter="url(#hetex)">
<polygon points="635.0,92.0 665.0,93.0 682.5,95.2 682.5,124.0 672.0,125.0 669.6,146.0 665.6,151.4 655.0,162.0 644.0,168.5 633.5,179.0 622.8,185.7 605.7,192.0 597.0,188.0 592.0,164.6 593.0,122.0 606.0,106.0 622.0,97.0" fill="#e2c6e4"/>
<polygon points="546.0,189.0 570.0,185.0 595.0,186.0 606.0,192.0 604.3,216.0 571.6,219.0 548.3,216.0 546.0,206.7" fill="#d6b8e0"/>
</g>
<ellipse cx="603.7" cy="176.6" rx="1.9" ry="0.7" transform="rotate(123 603.7 176.6)" fill="none" stroke="#9058b0" stroke-width="0.8" opacity="0.8"/>
<ellipse cx="548.5" cy="208.4" rx="1.4" ry="1.0" transform="rotate(83 548.5 208.4)" fill="none" stroke="#9058b0" stroke-width="0.8" opacity="0.8"/>
<ellipse cx="553.8" cy="214.1" rx="1.0" ry="1.2" transform="rotate(100 553.8 214.1)" fill="none" stroke="#9058b0" stroke-width="0.8" opacity="0.8"/>
<ellipse cx="575.8" cy="198.3" rx="1.1" ry="0.7" transform="rotate(42 575.8 198.3)" fill="none" stroke="#9058b0" stroke-width="0.8" opacity="0.8"/>
<ellipse cx="658.2" cy="107.8" rx="2.2" ry="0.7" transform="rotate(147 658.2 107.8)" fill="none" stroke="#9058b0" stroke-width="0.8" opacity="0.8"/>
<ellipse cx="569.4" cy="218.1" rx="1.5" ry="1.2" transform="rotate(149 569.4 218.1)" fill="none" stroke="#9058b0" stroke-width="0.8" opacity="0.8"/>
<ellipse cx="587.7" cy="192.7" rx="1.2" ry="1.1" transform="rotate(31 587.7 192.7)" fill="none" stroke="#9058b0" stroke-width="0.8" opacity="0.8"/>
<ellipse cx="609.3" cy="116.3" rx="1.0" ry="1.4" transform="rotate(152 609.3 116.3)" fill="none" stroke="#9058b0" stroke-width="0.8" opacity="0.8"/>
<ellipse cx="650.9" cy="147.1" rx="2.5" ry="1.1" transform="rotate(100 650.9 147.1)" fill="none" stroke="#9058b0" stroke-width="0.8" opacity="0.8"/>
<ellipse cx="559.0" cy="207.4" rx="2.5" ry="1.2" transform="rotate(57 559.0 207.4)" fill="none" stroke="#9058b0" stroke-width="0.8" opacity="0.8"/>
<ellipse cx="659.9" cy="100.4" rx="2.2" ry="0.6" transform="rotate(174 659.9 100.4)" fill="none" stroke="#9058b0" stroke-width="0.8" opacity="0.8"/>
<ellipse cx="574.9" cy="207.4" rx="1.5" ry="1.4" transform="rotate(97 574.9 207.4)" fill="none" stroke="#9058b0" stroke-width="0.8" opacity="0.8"/>
<ellipse cx="602.4" cy="194.5" rx="1.3" ry="1.6" transform="rotate(61 602.4 194.5)" fill="none" stroke="#9058b0" stroke-width="0.8" opacity="0.8"/>
<ellipse cx="618.1" cy="161.1" rx="1.3" ry="1.1" transform="rotate(49 618.1 161.1)" fill="none" stroke="#9058b0" stroke-width="0.8" opacity="0.8"/>
<ellipse cx="591.8" cy="216.6" rx="2.5" ry="0.9" transform="rotate(140 591.8 216.6)" fill="none" stroke="#9058b0" stroke-width="0.8" opacity="0.8"/>
<ellipse cx="575.3" cy="216.3" rx="1.8" ry="1.5" transform="rotate(19 575.3 216.3)" fill="none" stroke="#9058b0" stroke-width="0.8" opacity="0.8"/>
<ellipse cx="617.2" cy="107.3" rx="2.1" ry="1.1" transform="rotate(58 617.2 107.3)" fill="none" stroke="#9058b0" stroke-width="0.8" opacity="0.8"/>
<ellipse cx="615.3" cy="153.0" rx="1.4" ry="1.1" transform="rotate(112 615.3 153.0)" fill="none" stroke="#9058b0" stroke-width="0.8" opacity="0.8"/>
<ellipse cx="577.5" cy="207.5" rx="1.9" ry="1.3" transform="rotate(78 577.5 207.5)" fill="none" stroke="#9058b0" stroke-width="0.8" opacity="0.8"/>
<ellipse cx="576.3" cy="204.4" rx="2.2" ry="0.9" transform="rotate(51 576.3 204.4)" fill="none" stroke="#9058b0" stroke-width="0.8" opacity="0.8"/>
<ellipse cx="629.9" cy="155.8" rx="0.9" ry="1.1" transform="rotate(165 629.9 155.8)" fill="none" stroke="#9058b0" stroke-width="0.8" opacity="0.8"/>
<ellipse cx="588.0" cy="197.6" rx="0.9" ry="1.4" transform="rotate(97 588.0 197.6)" fill="none" stroke="#9058b0" stroke-width="0.8" opacity="0.8"/>
<ellipse cx="640.0" cy="169.7" rx="2.6" ry="0.9" transform="rotate(103 640.0 169.7)" fill="none" stroke="#9058b0" stroke-width="0.8" opacity="0.8"/>
<ellipse cx="656.7" cy="94.9" rx="1.4" ry="1.0" transform="rotate(144 656.7 94.9)" fill="none" stroke="#9058b0" stroke-width="0.8" opacity="0.8"/>
<ellipse cx="579.3" cy="207.6" rx="0.8" ry="1.0" transform="rotate(81 579.3 207.6)" fill="none" stroke="#9058b0" stroke-width="0.8" opacity="0.8"/>
<ellipse cx="562.8" cy="189.4" rx="1.1" ry="1.0" transform="rotate(119 562.8 189.4)" fill="none" stroke="#9058b0" stroke-width="0.8" opacity="0.8"/>
<ellipse cx="661.6" cy="131.5" rx="2.2" ry="1.3" transform="rotate(19 661.6 131.5)" fill="none" stroke="#9058b0" stroke-width="0.8" opacity="0.8"/>
<ellipse cx="603.0" cy="204.1" rx="1.1" ry="1.2" transform="rotate(105 603.0 204.1)" fill="none" stroke="#9058b0" stroke-width="0.8" opacity="0.8"/>
<ellipse cx="595.0" cy="189.6" rx="2.1" ry="1.5" transform="rotate(120 595.0 189.6)" fill="none" stroke="#9058b0" stroke-width="0.8" opacity="0.8"/>
<ellipse cx="671.2" cy="100.7" rx="1.6" ry="1.6" transform="rotate(54 671.2 100.7)" fill="none" stroke="#9058b0" stroke-width="0.8" opacity="0.8"/>
<ellipse cx="616.1" cy="128.3" rx="1.5" ry="1.0" transform="rotate(91 616.1 128.3)" fill="none" stroke="#9058b0" stroke-width="0.8" opacity="0.8"/>
<ellipse cx="608.1" cy="155.0" rx="2.5" ry="0.9" transform="rotate(45 608.1 155.0)" fill="none" stroke="#9058b0" stroke-width="0.8" opacity="0.8"/>
<ellipse cx="593.5" cy="216.1" rx="2.6" ry="0.9" transform="rotate(0 593.5 216.1)" fill="none" stroke="#9058b0" stroke-width="0.8" opacity="0.8"/>
<ellipse cx="569.3" cy="215.8" rx="2.2" ry="1.2" transform="rotate(110 569.3 215.8)" fill="none" stroke="#9058b0" stroke-width="0.8" opacity="0.8"/>
<ellipse cx="622.7" cy="113.8" rx="1.3" ry="1.3" transform="rotate(89 622.7 113.8)" fill="none" stroke="#9058b0" stroke-width="0.8" opacity="0.8"/>
<ellipse cx="631.9" cy="175.1" rx="2.5" ry="0.7" transform="rotate(17 631.9 175.1)" fill="none" stroke="#9058b0" stroke-width="0.8" opacity="0.8"/>
<ellipse cx="654.2" cy="118.2" rx="1.8" ry="1.1" transform="rotate(121 654.2 118.2)" fill="none" stroke="#9058b0" stroke-width="0.8" opacity="0.8"/>
<ellipse cx="642.5" cy="141.9" rx="1.9" ry="1.5" transform="rotate(151 642.5 141.9)" fill="none" stroke="#9058b0" stroke-width="0.8" opacity="0.8"/>
<ellipse cx="563.4" cy="216.4" rx="0.8" ry="1.2" transform="rotate(138 563.4 216.4)" fill="none" stroke="#9058b0" stroke-width="0.8" opacity="0.8"/>
<ellipse cx="576.7" cy="205.6" rx="2.2" ry="1.0" transform="rotate(115 576.7 205.6)" fill="none" stroke="#9058b0" stroke-width="0.8" opacity="0.8"/>
<ellipse cx="550.7" cy="191.1" rx="1.5" ry="0.7" transform="rotate(141 550.7 191.1)" fill="none" stroke="#9058b0" stroke-width="0.8" opacity="0.8"/>
<ellipse cx="646.7" cy="139.9" rx="1.1" ry="1.0" transform="rotate(157 646.7 139.9)" fill="none" stroke="#9058b0" stroke-width="0.8" opacity="0.8"/>
<ellipse cx="569.1" cy="213.4" rx="1.7" ry="0.9" transform="rotate(162 569.1 213.4)" fill="none" stroke="#9058b0" stroke-width="0.8" opacity="0.8"/>
<ellipse cx="645.4" cy="97.3" rx="0.9" ry="1.1" transform="rotate(140 645.4 97.3)" fill="none" stroke="#9058b0" stroke-width="0.8" opacity="0.8"/>
<ellipse cx="624.4" cy="159.0" rx="1.0" ry="1.2" transform="rotate(74 624.4 159.0)" fill="none" stroke="#9058b0" stroke-width="0.8" opacity="0.8"/>
<ellipse cx="617.5" cy="117.5" rx="1.9" ry="1.4" transform="rotate(96 617.5 117.5)" fill="none" stroke="#9058b0" stroke-width="0.8" opacity="0.8"/>
<ellipse cx="639.6" cy="162.4" rx="2.1" ry="1.3" transform="rotate(2 639.6 162.4)" fill="none" stroke="#9058b0" stroke-width="0.8" opacity="0.8"/>
<ellipse cx="549.0" cy="209.6" rx="2.2" ry="1.0" transform="rotate(108 549.0 209.6)" fill="none" stroke="#9058b0" stroke-width="0.8" opacity="0.8"/>
<ellipse cx="588.6" cy="185.9" rx="2.0" ry="1.4" transform="rotate(85 588.6 185.9)" fill="none" stroke="#9058b0" stroke-width="0.8" opacity="0.8"/>
<ellipse cx="667.8" cy="143.9" rx="0.8" ry="0.7" transform="rotate(58 667.8 143.9)" fill="none" stroke="#9058b0" stroke-width="0.8" opacity="0.8"/>
<ellipse cx="605.2" cy="120.0" rx="1.0" ry="1.2" transform="rotate(160 605.2 120.0)" fill="none" stroke="#9058b0" stroke-width="0.8" opacity="0.8"/>
<ellipse cx="668.6" cy="136.0" rx="1.7" ry="1.1" transform="rotate(108 668.6 136.0)" fill="none" stroke="#9058b0" stroke-width="0.8" opacity="0.8"/>
<ellipse cx="650.6" cy="146.2" rx="0.8" ry="0.9" transform="rotate(2 650.6 146.2)" fill="none" stroke="#9058b0" stroke-width="0.8" opacity="0.8"/>
<ellipse cx="580.3" cy="208.5" rx="1.8" ry="1.6" transform="rotate(30 580.3 208.5)" fill="none" stroke="#9058b0" stroke-width="0.8" opacity="0.8"/>
<ellipse cx="636.4" cy="133.3" rx="1.6" ry="0.8" transform="rotate(141 636.4 133.3)" fill="none" stroke="#9058b0" stroke-width="0.8" opacity="0.8"/>
<ellipse cx="615.0" cy="124.9" rx="2.3" ry="0.6" transform="rotate(34 615.0 124.9)" fill="none" stroke="#9058b0" stroke-width="0.8" opacity="0.8"/>
<ellipse cx="558.1" cy="189.5" rx="2.0" ry="1.4" transform="rotate(180 558.1 189.5)" fill="none" stroke="#9058b0" stroke-width="0.8" opacity="0.8"/>
<ellipse cx="551.1" cy="211.8" rx="1.6" ry="1.1" transform="rotate(4 551.1 211.8)" fill="none" stroke="#9058b0" stroke-width="0.8" opacity="0.8"/>
<ellipse cx="584.7" cy="194.2" rx="2.5" ry="0.7" transform="rotate(157 584.7 194.2)" fill="none" stroke="#9058b0" stroke-width="0.8" opacity="0.8"/>
<ellipse cx="668.9" cy="101.5" rx="2.3" ry="1.2" transform="rotate(78 668.9 101.5)" fill="none" stroke="#9058b0" stroke-width="0.8" opacity="0.8"/>
<ellipse cx="624.3" cy="161.1" rx="2.5" ry="1.4" transform="rotate(85 624.3 161.1)" fill="none" stroke="#9058b0" stroke-width="0.8" opacity="0.8"/>
<ellipse cx="626.3" cy="112.9" rx="1.8" ry="1.5" transform="rotate(114 626.3 112.9)" fill="none" stroke="#9058b0" stroke-width="0.8" opacity="0.8"/>
<ellipse cx="638.9" cy="148.7" rx="2.6" ry="1.5" transform="rotate(93 638.9 148.7)" fill="none" stroke="#9058b0" stroke-width="0.8" opacity="0.8"/>
<ellipse cx="561.4" cy="206.4" rx="1.3" ry="1.4" transform="rotate(55 561.4 206.4)" fill="none" stroke="#9058b0" stroke-width="0.8" opacity="0.8"/>
<ellipse cx="577.7" cy="204.3" rx="1.9" ry="0.9" transform="rotate(4 577.7 204.3)" fill="none" stroke="#9058b0" stroke-width="0.8" opacity="0.8"/>
<ellipse cx="625.7" cy="128.2" rx="1.6" ry="0.8" transform="rotate(37 625.7 128.2)" fill="none" stroke="#9058b0" stroke-width="0.8" opacity="0.8"/>
<ellipse cx="590.9" cy="189.8" rx="1.0" ry="1.3" transform="rotate(79 590.9 189.8)" fill="none" stroke="#9058b0" stroke-width="0.8" opacity="0.8"/>
<ellipse cx="657.0" cy="92.8" rx="1.7" ry="1.2" transform="rotate(40 657.0 92.8)" fill="none" stroke="#9058b0" stroke-width="0.8" opacity="0.8"/>
<ellipse cx="649.4" cy="115.5" rx="1.0" ry="0.8" transform="rotate(8 649.4 115.5)" fill="none" stroke="#9058b0" stroke-width="0.8" opacity="0.8"/>
<ellipse cx="556.4" cy="194.6" rx="1.4" ry="0.8" transform="rotate(157 556.4 194.6)" fill="none" stroke="#9058b0" stroke-width="0.8" opacity="0.8"/>
<ellipse cx="660.1" cy="105.6" rx="2.0" ry="1.5" transform="rotate(2 660.1 105.6)" fill="none" stroke="#9058b0" stroke-width="0.8" opacity="0.8"/>
<ellipse cx="565.0" cy="189.2" rx="1.6" ry="0.8" transform="rotate(132 565.0 189.2)" fill="none" stroke="#9058b0" stroke-width="0.8" opacity="0.8"/>
<ellipse cx="619.3" cy="100.8" rx="1.8" ry="1.1" transform="rotate(133 619.3 100.8)" fill="none" stroke="#9058b0" stroke-width="0.8" opacity="0.8"/>
<ellipse cx="652.0" cy="122.2" rx="1.5" ry="1.3" transform="rotate(174 652.0 122.2)" fill="none" stroke="#9058b0" stroke-width="0.8" opacity="0.8"/>
<ellipse cx="634.7" cy="169.3" rx="1.4" ry="1.0" transform="rotate(57 634.7 169.3)" fill="none" stroke="#9058b0" stroke-width="0.8" opacity="0.8"/>
<ellipse cx="629.6" cy="127.2" rx="1.4" ry="0.6" transform="rotate(16 629.6 127.2)" fill="none" stroke="#9058b0" stroke-width="0.8" opacity="0.8"/>
<ellipse cx="663.0" cy="135.1" rx="2.5" ry="0.8" transform="rotate(65 663.0 135.1)" fill="none" stroke="#9058b0" stroke-width="0.8" opacity="0.8"/>
<ellipse cx="665.4" cy="147.8" rx="2.0" ry="1.4" transform="rotate(70 665.4 147.8)" fill="none" stroke="#9058b0" stroke-width="0.8" opacity="0.8"/>
<ellipse cx="597.8" cy="204.5" rx="2.2" ry="1.6" transform="rotate(157 597.8 204.5)" fill="none" stroke="#9058b0" stroke-width="0.8" opacity="0.8"/>
<rect x="597" y="168" width="17" height="18" fill="#9a5cb4" opacity="0.85"/>
<rect x="629" y="160" width="13" height="14" fill="#a064b8" opacity="0.8"/>
<rect x="545" y="88" width="12" height="18" fill="#c070c0" opacity="0.6"/>
<rect x="567.4" y="125" width="10.3" height="15" fill="#cf4565"/>
<rect x="580" y="154" width="17" height="26" fill="#b25a84"/>
<path d="M581,158 L596,166 M582,170 L595,176" stroke="#f4e0f0" stroke-width="1.4"/>
<rect x="584" y="160" width="5" height="6" fill="#6a2a68"/>
<rect x="547" y="52.7" width="5" height="3.3" fill="#d04060"/>
<circle cx="551" cy="70" r="2.2" fill="#fff"/>
<rect x="671" y="124" width="3" height="12" fill="#c84870"/>
<g fill="none" stroke="#d890c8" stroke-width="0.5" opacity="0.35">
<path d="M511.5,49.4 L512.3,49.3 L508.3,44.5 L506.7,43.2"/>
<path d="M536.2,203.8 L540.4,202.0 L543.9,200.9 L542.6,201.6"/>
<path d="M525.0,40.6 L526.4,40.7 L524.9,43.5 L523.1,40.4"/>
<path d="M495.9,94.0 L499.1,91.0 L498.1,93.8 L497.7,92.2"/>
<path d="M472.8,91.5 L473.1,94.3 L478.1,94.7 L478.1,97.2"/>
<path d="M500.5,74.5 L502.5,77.8 L499.7,81.4 L495.3,78.3"/>
<path d="M492.8,188.4 L492.6,186.8 L490.0,186.5 L490.6,187.5"/>
<path d="M537.7,51.6 L539.8,56.3 L540.9,58.4 L544.0,62.2"/>
<path d="M487.7,109.3 L491.1,105.8 L490.6,110.5 L489.6,109.8"/>
<path d="M496.9,114.1 L499.6,110.2 L499.2,109.4 L503.8,113.0"/>
<path d="M485.6,85.8 L490.5,80.9 L492.5,76.0 L490.4,77.5"/>
<path d="M518.8,141.3 L516.0,140.4 L519.6,138.1 L520.0,138.7"/>
<path d="M534.6,170.8 L537.5,169.2 L539.9,173.1 L535.6,175.3"/>
<path d="M500.3,97.4 L501.7,100.5 L505.8,103.5 L510.1,107.1"/>
<path d="M504.4,151.1 L508.6,152.0 L504.3,151.0 L506.1,146.2"/>
<path d="M519.6,33.2 L522.4,34.3 L521.2,35.7 L517.1,32.1"/>
<path d="M513.7,106.4 L510.7,102.7 L515.1,100.6 L514.2,100.7"/>
<path d="M540.9,60.6 L538.8,58.3 L541.7,62.0 L543.0,63.3"/>
<path d="M512.2,35.2 L513.9,39.7 L517.7,43.9 L514.0,46.0"/>
<path d="M481.1,56.8 L482.8,55.0 L484.1,52.5 L481.4,53.4"/>
<path d="M497.8,146.9 L498.4,144.3 L495.5,140.1 L491.2,142.2"/>
<path d="M514.5,67.4 L517.4,71.3 L513.0,68.1 L514.7,70.9"/>
<path d="M483.1,114.3 L481.5,113.1 L484.8,113.9 L486.2,117.9"/>
<path d="M463.0,94.7 L467.7,94.4 L463.0,96.1 L463.6,98.4"/>
<path d="M508.4,79.4 L507.1,75.8 L506.3,75.8 L502.6,71.3"/>
<path d="M515.0,141.6 L517.8,141.3 L513.6,141.5 L511.6,145.5"/>
<path d="M478.9,171.6 L480.3,169.6 L481.3,165.2 L479.0,167.3"/>
<path d="M538.7,198.5 L541.4,201.8 L539.5,200.4 L537.2,196.0"/>
<path d="M479.0,88.0 L477.8,87.8 L481.1,86.5 L480.8,89.5"/>
<path d="M499.0,156.5 L503.7,160.5 L501.5,163.9 L505.8,161.3"/>
<path d="M517.7,66.0 L522.5,65.6 L527.3,65.6 L529.5,62.0"/>
<path d="M530.4,107.4 L527.6,106.6 L529.2,110.5 L531.8,114.7"/>
<path d="M526.2,95.4 L522.9,99.5 L522.3,104.1 L524.0,107.0"/>
<path d="M511.0,65.0 L510.9,66.7 L507.0,65.4 L509.9,62.5"/>
<path d="M497.8,79.2 L498.1,76.9 L497.4,81.1 L500.7,83.7"/>
<path d="M498.3,126.9 L501.3,123.9 L499.9,120.3 L499.5,118.4"/>
<path d="M518.5,93.5 L520.0,94.3 L520.9,93.6 L520.1,89.9"/>
<path d="M516.3,86.4 L514.1,90.3 L513.3,86.4 L514.5,85.4"/>
<path d="M493.5,135.8 L493.5,139.8 L491.5,142.9 L495.0,140.5"/>
<path d="M506.2,181.7 L505.9,179.1 L506.8,182.0 L511.0,182.6"/>
<path d="M476.7,127.2 L476.7,124.3 L472.7,128.0 L470.5,131.7"/>
<path d="M538.6,201.7 L535.4,203.6 L530.8,207.5 L527.2,208.7"/>
<path d="M525.1,133.0 L528.9,129.8 L533.6,131.3 L529.8,126.7"/>
<path d="M493.4,51.5 L491.3,55.1 L493.3,52.9 L489.5,48.8"/>
<path d="M488.4,175.4 L484.0,171.9 L479.5,172.3 L483.2,175.8"/>
<path d="M491.8,169.5 L490.7,169.7 L488.5,168.0 L489.9,166.9"/>
<path d="M477.3,88.9 L472.7,87.7 L476.8,88.3 L474.5,88.0"/>
<path d="M506.3,55.3 L506.7,53.1 L502.8,50.3 L501.2,52.5"/>
<path d="M464.2,114.6 L465.0,118.1 L461.4,120.9 L459.8,117.2"/>
<path d="M518.5,154.8 L523.4,152.3 L525.5,156.7 L525.8,158.7"/>
<path d="M470.7,80.8 L469.7,77.7 L465.9,76.4 L467.3,76.4"/>
<path d="M505.2,120.3 L507.7,122.7 L506.0,118.7 L502.3,117.3"/>
<path d="M496.5,152.3 L492.5,149.4 L494.9,152.9 L492.6,153.5"/>
<path d="M508.0,74.7 L507.9,70.2 L512.3,67.7 L516.4,71.6"/>
<path d="M495.7,59.2 L493.6,63.5 L489.1,61.2 L486.8,59.7"/>
<path d="M460.6,92.5 L459.0,89.4 L456.3,86.5 L460.2,87.2"/>
<path d="M498.8,81.5 L500.1,80.0 L495.3,76.6 L498.4,78.5"/>
<path d="M520.4,105.6 L521.6,100.8 L522.9,104.2 L524.1,104.4"/>
<path d="M520.3,167.0 L519.4,163.1 L520.7,164.5 L525.1,159.8"/>
<path d="M510.2,188.8 L505.6,190.6 L507.1,193.9 L507.5,195.7"/>
<path d="M528.6,67.8 L523.7,69.9 L520.3,66.1 L516.4,70.0"/>
<path d="M536.9,113.1 L539.2,111.0 L535.4,112.2 L533.1,107.7"/>
<path d="M517.3,62.5 L515.2,61.1 L517.6,62.5 L513.4,60.7"/>
<path d="M498.0,172.0 L501.2,174.5 L498.6,171.0 L501.6,168.2"/>
<path d="M502.9,103.5 L504.0,108.0 L501.2,103.7 L503.9,101.0"/>
<path d="M508.8,77.0 L512.4,78.3 L515.6,76.9 L512.6,78.6"/>
</g>
<circle cx="535.8" cy="65.6" r="0.9" fill="#b040a8" opacity="0.8"/>
<circle cx="554.2" cy="37.5" r="0.4" fill="#b040a8" opacity="0.8"/>
<circle cx="539.8" cy="44.1" r="0.5" fill="#b040a8" opacity="0.8"/>
<circle cx="556.0" cy="32.5" r="0.9" fill="#b040a8" opacity="0.8"/>
<circle cx="534.2" cy="60.4" r="0.8" fill="#b040a8" opacity="0.8"/>
<circle cx="555.7" cy="16.4" r="0.6" fill="#b040a8" opacity="0.8"/>
<circle cx="515.8" cy="52.2" r="0.8" fill="#b040a8" opacity="0.8"/>
<circle cx="552.2" cy="43.6" r="0.9" fill="#b040a8" opacity="0.8"/>
<circle cx="538.7" cy="60.6" r="0.6" fill="#b040a8" opacity="0.8"/>
<circle cx="537.2" cy="51.1" r="0.8" fill="#b040a8" opacity="0.8"/>
<circle cx="516.7" cy="34.9" r="0.5" fill="#b040a8" opacity="0.8"/>
<circle cx="559.6" cy="28.4" r="0.6" fill="#b040a8" opacity="0.8"/>
<circle cx="534.2" cy="33.8" r="0.4" fill="#b040a8" opacity="0.8"/>
<circle cx="535.7" cy="27.0" r="0.8" fill="#b040a8" opacity="0.8"/>
<circle cx="543.8" cy="11.8" r="0.6" fill="#b040a8" opacity="0.8"/>
<circle cx="553.2" cy="42.8" r="0.7" fill="#b040a8" opacity="0.8"/>
<circle cx="534.4" cy="28.8" r="0.9" fill="#b040a8" opacity="0.8"/>
<circle cx="529.0" cy="13.4" r="0.8" fill="#b040a8" opacity="0.8"/>
<circle cx="534.1" cy="17.6" r="0.9" fill="#b040a8" opacity="0.8"/>
<circle cx="546.4" cy="65.4" r="0.9" fill="#b040a8" opacity="0.8"/>
<circle cx="538.8" cy="36.6" r="0.6" fill="#b040a8" opacity="0.8"/>
<circle cx="524.0" cy="45.9" r="0.7" fill="#b040a8" opacity="0.8"/>
<circle cx="538.4" cy="44.2" r="0.8" fill="#b040a8" opacity="0.8"/>
<circle cx="518.7" cy="38.4" r="0.7" fill="#b040a8" opacity="0.8"/>
<circle cx="522.9" cy="32.3" r="0.5" fill="#b040a8" opacity="0.8"/>
<circle cx="544.1" cy="72.7" r="0.7" fill="#b040a8" opacity="0.8"/>
<circle cx="515.5" cy="41.9" r="0.5" fill="#b040a8" opacity="0.8"/>
<circle cx="529.8" cy="57.3" r="0.7" fill="#b040a8" opacity="0.8"/>
<circle cx="545.4" cy="70.0" r="0.8" fill="#b040a8" opacity="0.8"/>
<circle cx="525.5" cy="54.7" r="0.7" fill="#b040a8" opacity="0.8"/>
<circle cx="541.7" cy="63.9" r="0.8" fill="#b040a8" opacity="0.8"/>
<circle cx="527.5" cy="65.4" r="0.6" fill="#b040a8" opacity="0.8"/>
<circle cx="550.8" cy="41.2" r="0.8" fill="#b040a8" opacity="0.8"/>
<circle cx="545.0" cy="16.8" r="0.5" fill="#b040a8" opacity="0.8"/>
<circle cx="516.2" cy="40.3" r="0.5" fill="#b040a8" opacity="0.8"/>
<circle cx="510.2" cy="46.5" r="0.8" fill="#b040a8" opacity="0.8"/>
<circle cx="549.5" cy="171.1" r="0.4" fill="#9050a8" opacity="0.6"/>
<circle cx="594.0" cy="86.4" r="0.5" fill="#9050a8" opacity="0.6"/>
<circle cx="651.0" cy="132.0" r="0.4" fill="#9050a8" opacity="0.6"/>
<circle cx="548.5" cy="151.5" r="0.5" fill="#9050a8" opacity="0.6"/>
<circle cx="607.9" cy="30.6" r="0.4" fill="#9050a8" opacity="0.6"/>
<circle cx="585.4" cy="96.3" r="0.7" fill="#9050a8" opacity="0.6"/>
<circle cx="647.8" cy="75.7" r="0.6" fill="#9050a8" opacity="0.6"/>
<circle cx="579.6" cy="34.2" r="0.7" fill="#9050a8" opacity="0.6"/>
<circle cx="591.0" cy="212.0" r="0.6" fill="#9050a8" opacity="0.6"/>
<circle cx="596.7" cy="113.4" r="0.4" fill="#9050a8" opacity="0.6"/>
<circle cx="558.7" cy="85.7" r="0.5" fill="#9050a8" opacity="0.6"/>
<circle cx="587.3" cy="167.9" r="0.6" fill="#9050a8" opacity="0.6"/>
<circle cx="605.3" cy="121.4" r="0.7" fill="#9050a8" opacity="0.6"/>
<circle cx="608.0" cy="103.4" r="0.6" fill="#9050a8" opacity="0.6"/>
<circle cx="567.1" cy="115.3" r="0.3" fill="#9050a8" opacity="0.6"/>
<circle cx="602.9" cy="201.8" r="0.5" fill="#9050a8" opacity="0.6"/>
<circle cx="591.6" cy="27.6" r="0.5" fill="#9050a8" opacity="0.6"/>
<circle cx="588.1" cy="159.4" r="0.6" fill="#9050a8" opacity="0.6"/>
<circle cx="554.7" cy="116.9" r="0.5" fill="#9050a8" opacity="0.6"/>
<circle cx="593.4" cy="102.3" r="0.7" fill="#9050a8" opacity="0.6"/>
<circle cx="593.7" cy="93.4" r="0.5" fill="#9050a8" opacity="0.6"/>
<circle cx="662.3" cy="137.5" r="0.7" fill="#9050a8" opacity="0.6"/>
<circle cx="589.3" cy="174.2" r="0.6" fill="#9050a8" opacity="0.6"/>
<circle cx="612.6" cy="64.6" r="0.5" fill="#9050a8" opacity="0.6"/>
<circle cx="628.2" cy="27.6" r="0.6" fill="#9050a8" opacity="0.6"/>
<circle cx="639.4" cy="62.4" r="0.4" fill="#9050a8" opacity="0.6"/>
<circle cx="610.3" cy="123.4" r="0.4" fill="#9050a8" opacity="0.6"/>
<circle cx="650.5" cy="57.2" r="0.6" fill="#9050a8" opacity="0.6"/>
<circle cx="540.8" cy="13.7" r="0.7" fill="#9050a8" opacity="0.6"/>
<circle cx="540.7" cy="23.3" r="0.6" fill="#9050a8" opacity="0.6"/>
<circle cx="612.7" cy="35.8" r="0.6" fill="#9050a8" opacity="0.6"/>
<circle cx="554.8" cy="102.6" r="0.6" fill="#9050a8" opacity="0.6"/>
<circle cx="650.2" cy="152.6" r="0.5" fill="#9050a8" opacity="0.6"/>
<circle cx="556.7" cy="57.4" r="0.5" fill="#9050a8" opacity="0.6"/>
<circle cx="609.1" cy="69.5" r="0.7" fill="#9050a8" opacity="0.6"/>
<circle cx="570.1" cy="207.7" r="0.7" fill="#9050a8" opacity="0.6"/>
<circle cx="572.4" cy="50.7" r="0.3" fill="#9050a8" opacity="0.6"/>
<circle cx="664.4" cy="62.5" r="0.4" fill="#9050a8" opacity="0.6"/>
<circle cx="635.3" cy="120.2" r="0.3" fill="#9050a8" opacity="0.6"/>
<circle cx="623.5" cy="89.4" r="0.6" fill="#9050a8" opacity="0.6"/>
<circle cx="638.3" cy="85.3" r="0.4" fill="#9050a8" opacity="0.6"/>
<circle cx="540.4" cy="137.5" r="0.6" fill="#9050a8" opacity="0.6"/>
<circle cx="668.0" cy="146.0" r="0.7" fill="#9050a8" opacity="0.6"/>
<circle cx="607.9" cy="23.0" r="0.4" fill="#9050a8" opacity="0.6"/>
<circle cx="549.4" cy="125.4" r="0.5" fill="#9050a8" opacity="0.6"/>
<circle cx="613.2" cy="35.7" r="0.5" fill="#9050a8" opacity="0.6"/>
<circle cx="574.2" cy="10.2" r="0.6" fill="#9050a8" opacity="0.6"/>
<circle cx="581.0" cy="15.7" r="0.4" fill="#9050a8" opacity="0.6"/>
<circle cx="604.4" cy="45.0" r="0.6" fill="#9050a8" opacity="0.6"/>
<circle cx="632.1" cy="120.2" r="0.5" fill="#9050a8" opacity="0.6"/>
<circle cx="589.8" cy="111.5" r="0.4" fill="#9050a8" opacity="0.6"/>
<circle cx="637.5" cy="61.4" r="0.5" fill="#9050a8" opacity="0.6"/>
<circle cx="609.4" cy="100.0" r="0.3" fill="#9050a8" opacity="0.6"/>
<circle cx="649.0" cy="65.0" r="0.4" fill="#9050a8" opacity="0.6"/>
<circle cx="547.2" cy="23.7" r="0.7" fill="#9050a8" opacity="0.6"/>
<circle cx="637.3" cy="66.1" r="0.7" fill="#9050a8" opacity="0.6"/>
<circle cx="592.4" cy="178.4" r="0.3" fill="#9050a8" opacity="0.6"/>
<circle cx="594.3" cy="212.2" r="0.7" fill="#9050a8" opacity="0.6"/>
<circle cx="555.4" cy="63.5" r="0.4" fill="#9050a8" opacity="0.6"/>
<circle cx="657.4" cy="109.6" r="0.7" fill="#9050a8" opacity="0.6"/>
<circle cx="650.4" cy="37.7" r="0.5" fill="#9050a8" opacity="0.6"/>
<circle cx="566.1" cy="42.8" r="0.4" fill="#9050a8" opacity="0.6"/>
<circle cx="651.5" cy="82.7" r="0.5" fill="#9050a8" opacity="0.6"/>
<circle cx="596.6" cy="64.9" r="0.6" fill="#9050a8" opacity="0.6"/>
<circle cx="594.6" cy="92.0" r="0.4" fill="#9050a8" opacity="0.6"/>
<circle cx="570.8" cy="213.8" r="0.3" fill="#9050a8" opacity="0.6"/>
<circle cx="621.5" cy="153.0" r="0.6" fill="#9050a8" opacity="0.6"/>
<circle cx="572.9" cy="19.3" r="0.7" fill="#9050a8" opacity="0.6"/>
<circle cx="618.6" cy="170.5" r="0.7" fill="#9050a8" opacity="0.6"/>
<circle cx="572.0" cy="17.8" r="0.7" fill="#9050a8" opacity="0.6"/>
<circle cx="633.9" cy="105.7" r="0.3" fill="#9050a8" opacity="0.6"/>
<circle cx="590.6" cy="75.7" r="0.6" fill="#9050a8" opacity="0.6"/>
<circle cx="553.0" cy="58.6" r="0.6" fill="#9050a8" opacity="0.6"/>
<circle cx="578.9" cy="142.2" r="0.5" fill="#9050a8" opacity="0.6"/>
<circle cx="634.1" cy="52.8" r="0.4" fill="#9050a8" opacity="0.6"/>
<circle cx="590.9" cy="209.0" r="0.4" fill="#9050a8" opacity="0.6"/>
<circle cx="632.3" cy="173.3" r="0.7" fill="#9050a8" opacity="0.6"/>
<circle cx="559.0" cy="31.6" r="0.5" fill="#9050a8" opacity="0.6"/>
<circle cx="649.4" cy="142.8" r="0.6" fill="#9050a8" opacity="0.6"/>
<circle cx="600.4" cy="194.0" r="0.5" fill="#9050a8" opacity="0.6"/>
<circle cx="626.9" cy="31.1" r="0.4" fill="#9050a8" opacity="0.6"/>
<circle cx="667.6" cy="57.7" r="0.7" fill="#9050a8" opacity="0.6"/>
<circle cx="551.6" cy="151.3" r="0.3" fill="#9050a8" opacity="0.6"/>
<circle cx="572.6" cy="209.8" r="0.6" fill="#9050a8" opacity="0.6"/>
<circle cx="577.4" cy="52.9" r="0.5" fill="#9050a8" opacity="0.6"/>
<circle cx="557.3" cy="143.2" r="0.6" fill="#9050a8" opacity="0.6"/>
<circle cx="593.9" cy="24.6" r="0.6" fill="#9050a8" opacity="0.6"/>
<circle cx="586.1" cy="66.8" r="0.6" fill="#9050a8" opacity="0.6"/>
<circle cx="636.2" cy="24.4" r="0.6" fill="#9050a8" opacity="0.6"/>
<circle cx="664.5" cy="138.3" r="0.4" fill="#9050a8" opacity="0.6"/>
<circle cx="573.8" cy="89.7" r="0.5" fill="#9050a8" opacity="0.6"/>
<circle cx="555.7" cy="129.6" r="0.6" fill="#9050a8" opacity="0.6"/>
<circle cx="619.5" cy="149.3" r="0.7" fill="#9050a8" opacity="0.6"/>
<circle cx="612.1" cy="97.9" r="0.3" fill="#9050a8" opacity="0.6"/>
<circle cx="651.9" cy="93.5" r="0.3" fill="#9050a8" opacity="0.6"/>
<circle cx="621.2" cy="118.0" r="0.4" fill="#9050a8" opacity="0.6"/>
<circle cx="630.1" cy="75.7" r="0.7" fill="#9050a8" opacity="0.6"/>
<circle cx="571.2" cy="97.7" r="0.5" fill="#9050a8" opacity="0.6"/>
<circle cx="593.9" cy="130.3" r="0.5" fill="#9050a8" opacity="0.6"/>
<circle cx="649.9" cy="82.6" r="0.6" fill="#9050a8" opacity="0.6"/>
<circle cx="591.7" cy="99.1" r="0.3" fill="#9050a8" opacity="0.6"/>
<circle cx="597.0" cy="162.2" r="0.6" fill="#9050a8" opacity="0.6"/>
<circle cx="621.1" cy="109.6" r="0.5" fill="#9050a8" opacity="0.6"/>
<circle cx="627.9" cy="76.9" r="0.4" fill="#9050a8" opacity="0.6"/>
<circle cx="649.3" cy="37.2" r="0.6" fill="#9050a8" opacity="0.6"/>
<circle cx="640.5" cy="61.2" r="0.6" fill="#9050a8" opacity="0.6"/>
<circle cx="614.0" cy="149.2" r="0.6" fill="#9050a8" opacity="0.6"/>
<circle cx="603.1" cy="118.9" r="0.4" fill="#9050a8" opacity="0.6"/>
<circle cx="578.7" cy="14.5" r="0.5" fill="#9050a8" opacity="0.6"/>
<circle cx="629.8" cy="78.1" r="0.3" fill="#9050a8" opacity="0.6"/>
<circle cx="621.7" cy="88.0" r="0.6" fill="#9050a8" opacity="0.6"/>
<circle cx="543.5" cy="176.8" r="0.3" fill="#9050a8" opacity="0.6"/>
<circle cx="607.2" cy="169.1" r="0.5" fill="#9050a8" opacity="0.6"/>
<circle cx="568.5" cy="155.5" r="0.5" fill="#9050a8" opacity="0.6"/>
<circle cx="631.2" cy="109.9" r="0.7" fill="#9050a8" opacity="0.6"/>
<circle cx="593.5" cy="57.4" r="0.6" fill="#9050a8" opacity="0.6"/>
<circle cx="636.0" cy="118.4" r="0.3" fill="#9050a8" opacity="0.6"/>
<circle cx="571.4" cy="52.2" r="0.7" fill="#9050a8" opacity="0.6"/>
<circle cx="668.1" cy="50.2" r="0.5" fill="#9050a8" opacity="0.6"/>
</g>
<rect x="455.5" y="6.4" width="228.1" height="215.6" fill="none" stroke="#4a4a4a" stroke-width="1"/>
<text x="460.2" y="19.6" font-size="9.3" text-anchor="start" font-weight="bold" fill="#1a1a1a">512px-based</text>
<text x="433.6" y="11.6" font-size="14" text-anchor="start" font-weight="bold" fill="#111">d</text>
<text x="570.8" y="233.9" font-size="9.3" text-anchor="middle" font-weight="normal" fill="#262626">t-SNE1</text>
<text x="452.6" y="111.5" font-size="9.3" text-anchor="middle" font-weight="normal" fill="#262626" transform="rotate(-90 452.6 111.5)">t-SNE2</text>
<defs><filter id="hblur" x="-10%" y="-10%" width="120%" height="120%"><feGaussianBlur stdDeviation="1.1"/></filter>
<clipPath id="ce00"><rect x="194.0" y="252.2" width="60.4" height="60.5"/></clipPath>
<clipPath id="ce01"><rect x="256.6" y="252.7" width="59.4" height="59.5"/></clipPath>
<clipPath id="ce02"><rect x="317.0" y="252.7" width="59.3" height="59.5"/></clipPath>
<clipPath id="ce03"><rect x="377.3" y="252.7" width="59.3" height="59.5"/></clipPath>
<clipPath id="ce10"><rect x="194.0" y="329.0" width="60.4" height="60.5"/></clipPath>
<clipPath id="ce11"><rect x="256.6" y="329.5" width="59.4" height="59.5"/></clipPath>
<clipPath id="ce12"><rect x="317.0" y="329.5" width="59.3" height="59.5"/></clipPath>
<clipPath id="ce13"><rect x="377.3" y="329.5" width="59.3" height="59.5"/></clipPath>
<clipPath id="ce20"><rect x="194.0" y="405.2" width="60.4" height="60.5"/></clipPath>
<clipPath id="ce21"><rect x="256.6" y="405.7" width="59.4" height="59.5"/></clipPath>
<clipPath id="ce22"><rect x="317.0" y="405.7" width="59.3" height="59.5"/></clipPath>
<clipPath id="ce23"><rect x="377.3" y="405.7" width="59.3" height="59.5"/></clipPath>
<g id="hv0">
<rect x="0.00" y="0.00" width="4.31" height="4.32" fill="#482475"/>
<rect x="3.71" y="0.00" width="4.31" height="4.32" fill="#482475"/>
<rect x="7.42" y="0.00" width="4.31" height="4.32" fill="#482475"/>
<rect x="11.14" y="0.00" width="4.31" height="4.32" fill="#482475"/>
<rect x="14.85" y="0.00" width="4.31" height="4.32" fill="#482475"/>
<rect x="18.56" y="0.00" width="4.31" height="4.32" fill="#21918c"/>
<rect x="22.27" y="0.00" width="4.31" height="4.32" fill="#229c88"/>
<rect x="25.99" y="0.00" width="4.31" height="4.32" fill="#21918c"/>
<rect x="29.70" y="0.00" width="4.31" height="4.32" fill="#21918c"/>
<rect x="33.41" y="0.00" width="4.31" height="4.32" fill="#482475"/>
<rect x="37.12" y="0.00" width="4.31" height="4.32" fill="#482475"/>
<rect x="40.84" y="0.00" width="4.31" height="4.32" fill="#461264"/>
<rect x="44.55" y="0.00" width="4.31" height="4.32" fill="#461264"/>
<rect x="48.26" y="0.00" width="4.31" height="4.32" fill="#482475"/>
<rect x="51.98" y="0.00" width="4.31" height="4.32" fill="#482475"/>
<rect x="55.69" y="0.00" width="3.71" height="4.32" fill="#414487"/>
<rect x="0.00" y="3.72" width="4.31" height="4.32" fill="#461264"/>
<rect x="3.71" y="3.72" width="4.31" height="4.32" fill="#2a788e"/>
<rect x="7.42" y="3.72" width="4.31" height="4.32" fill="#2a788e"/>
<rect x="11.14" y="3.72" width="4.31" height="4.32" fill="#21918c"/>
<rect x="14.85" y="3.72" width="4.31" height="4.32" fill="#21918c"/>
<rect x="18.56" y="3.72" width="4.31" height="4.32" fill="#22a884"/>
<rect x="22.27" y="3.72" width="4.31" height="4.32" fill="#7ad151"/>
<rect x="25.99" y="3.72" width="4.31" height="4.32" fill="#22a884"/>
<rect x="29.70" y="3.72" width="4.31" height="4.32" fill="#22a884"/>
<rect x="33.41" y="3.72" width="4.31" height="4.32" fill="#21918c"/>
<rect x="37.12" y="3.72" width="4.31" height="4.32" fill="#26848d"/>
<rect x="40.84" y="3.72" width="4.31" height="4.32" fill="#306c8e"/>
<rect x="44.55" y="3.72" width="4.31" height="4.32" fill="#306c8e"/>
<rect x="48.26" y="3.72" width="4.31" height="4.32" fill="#2a788e"/>
<rect x="51.98" y="3.72" width="4.31" height="4.32" fill="#2a788e"/>
<rect x="55.69" y="3.72" width="3.71" height="4.32" fill="#355f8d"/>
<rect x="0.00" y="7.44" width="4.31" height="4.32" fill="#306c8e"/>
<rect x="3.71" y="7.44" width="4.31" height="4.32" fill="#229c88"/>
<rect x="7.42" y="7.44" width="4.31" height="4.32" fill="#229c88"/>
<rect x="11.14" y="7.44" width="4.31" height="4.32" fill="#33b47a"/>
<rect x="14.85" y="7.44" width="4.31" height="4.32" fill="#22a884"/>
<rect x="18.56" y="7.44" width="4.31" height="4.32" fill="#21918c"/>
<rect x="22.27" y="7.44" width="4.31" height="4.32" fill="#21918c"/>
<rect x="25.99" y="7.44" width="4.31" height="4.32" fill="#21918c"/>
<rect x="29.70" y="7.44" width="4.31" height="4.32" fill="#33b47a"/>
<rect x="33.41" y="7.44" width="4.31" height="4.32" fill="#33b47a"/>
<rect x="37.12" y="7.44" width="4.31" height="4.32" fill="#33b47a"/>
<rect x="40.84" y="7.44" width="4.31" height="4.32" fill="#21918c"/>
<rect x="44.55" y="7.44" width="4.31" height="4.32" fill="#21918c"/>
<rect x="48.26" y="7.44" width="4.31" height="4.32" fill="#21918c"/>
<rect x="51.98" y="7.44" width="4.31" height="4.32" fill="#21918c"/>
<rect x="55.69" y="7.44" width="3.71" height="4.32" fill="#414487"/>
<rect x="0.00" y="11.16" width="4.31" height="4.32" fill="#33b47a"/>
<rect x="3.71" y="11.16" width="4.31" height="4.32" fill="#9bd83c"/>
<rect x="7.42" y="11.16" width="4.31" height="4.32" fill="#33b47a"/>
<rect x="11.14" y="11.16" width="4.31" height="4.32" fill="#21918c"/>
<rect x="14.85" y="11.16" width="4.31" height="4.32" fill="#26848d"/>
<rect x="18.56" y="11.16" width="4.31" height="4.32" fill="#26848d"/>
<rect x="22.27" y="11.16" width="4.31" height="4.32" fill="#2a788e"/>
<rect x="25.99" y="11.16" width="4.31" height="4.32" fill="#306c8e"/>
<rect x="29.70" y="11.16" width="4.31" height="4.32" fill="#26848d"/>
<rect x="33.41" y="11.16" width="4.31" height="4.32" fill="#21918c"/>
<rect x="37.12" y="11.16" width="4.31" height="4.32" fill="#44bf70"/>
<rect x="40.84" y="11.16" width="4.31" height="4.32" fill="#5fc860"/>
<rect x="44.55" y="11.16" width="4.31" height="4.32" fill="#5fc860"/>
<rect x="48.26" y="11.16" width="4.31" height="4.32" fill="#22a884"/>
<rect x="51.98" y="11.16" width="4.31" height="4.32" fill="#306c8e"/>
<rect x="55.69" y="11.16" width="3.71" height="4.32" fill="#44347e"/>
<rect x="0.00" y="14.88" width="4.31" height="4.32" fill="#33b47a"/>
<rect x="3.71" y="14.88" width="4.31" height="4.32" fill="#9bd83c"/>
<rect x="7.42" y="14.88" width="4.31" height="4.32" fill="#33b47a"/>
<rect x="11.14" y="14.88" width="4.31" height="4.32" fill="#26848d"/>
<rect x="14.85" y="14.88" width="4.31" height="4.32" fill="#21918c"/>
<rect x="18.56" y="14.88" width="4.31" height="4.32" fill="#26848d"/>
<rect x="22.27" y="14.88" width="4.31" height="4.32" fill="#306c8e"/>
<rect x="25.99" y="14.88" width="4.31" height="4.32" fill="#44347e"/>
<rect x="29.70" y="14.88" width="4.31" height="4.32" fill="#2a788e"/>
<rect x="33.41" y="14.88" width="4.31" height="4.32" fill="#21918c"/>
<rect x="37.12" y="14.88" width="4.31" height="4.32" fill="#9bd83c"/>
<rect x="40.84" y="14.88" width="4.31" height="4.32" fill="#44bf70"/>
<rect x="44.55" y="14.88" width="4.31" height="4.32" fill="#44bf70"/>
<rect x="48.26" y="14.88" width="4.31" height="4.32" fill="#22a884"/>
<rect x="51.98" y="14.88" width="4.31" height="4.32" fill="#26848d"/>
<rect x="55.69" y="14.88" width="3.71" height="4.32" fill="#414487"/>
<rect x="0.00" y="18.59" width="4.31" height="4.32" fill="#306c8e"/>
<rect x="3.71" y="18.59" width="4.31" height="4.32" fill="#229c88"/>
<rect x="7.42" y="18.59" width="4.31" height="4.32" fill="#2a788e"/>
<rect x="11.14" y="18.59" width="4.31" height="4.32" fill="#21918c"/>
<rect x="14.85" y="18.59" width="4.31" height="4.32" fill="#33b47a"/>
<rect x="18.56" y="18.59" width="4.31" height="4.32" fill="#26848d"/>
<rect x="22.27" y="18.59" width="4.31" height="4.32" fill="#306c8e"/>
<rect x="25.99" y="18.59" width="4.31" height="4.32" fill="#44347e"/>
<rect x="29.70" y="18.59" width="4.31" height="4.32" fill="#2a788e"/>
<rect x="33.41" y="18.59" width="4.31" height="4.32" fill="#21918c"/>
<rect x="37.12" y="18.59" width="4.31" height="4.32" fill="#7ad151"/>
<rect x="40.84" y="18.59" width="4.31" height="4.32" fill="#9bd83c"/>
<rect x="44.55" y="18.59" width="4.31" height="4.32" fill="#44bf70"/>
<rect x="48.26" y="18.59" width="4.31" height="4.32" fill="#33b47a"/>
<rect x="51.98" y="18.59" width="4.31" height="4.32" fill="#2a788e"/>
<rect x="55.69" y="18.59" width="3.71" height="4.32" fill="#44347e"/>
<rect x="0.00" y="22.31" width="4.31" height="4.32" fill="#414487"/>
<rect x="3.71" y="22.31" width="4.31" height="4.32" fill="#26848d"/>
<rect x="7.42" y="22.31" width="4.31" height="4.32" fill="#229c88"/>
<rect x="11.14" y="22.31" width="4.31" height="4.32" fill="#26848d"/>
<rect x="14.85" y="22.31" width="4.31" height="4.32" fill="#33b47a"/>
<rect x="18.56" y="22.31" width="4.31" height="4.32" fill="#21918c"/>
<rect x="22.27" y="22.31" width="4.31" height="4.32" fill="#2a788e"/>
<rect x="25.99" y="22.31" width="4.31" height="4.32" fill="#44347e"/>
<rect x="29.70" y="22.31" width="4.31" height="4.32" fill="#306c8e"/>
<rect x="33.41" y="22.31" width="4.31" height="4.32" fill="#26848d"/>
<rect x="37.12" y="22.31" width="4.31" height="4.32" fill="#7ad151"/>
<rect x="40.84" y="22.31" width="4.31" height="4.32" fill="#22a884"/>
<rect x="44.55" y="22.31" width="4.31" height="4.32" fill="#22a884"/>
<rect x="48.26" y="22.31" width="4.31" height="4.32" fill="#21918c"/>
<rect x="51.98" y="22.31" width="4.31" height="4.32" fill="#414487"/>
<rect x="55.69" y="22.31" width="3.71" height="4.32" fill="#482475"/>
<rect x="0.00" y="26.03" width="4.31" height="4.32" fill="#414487"/>
<rect x="3.71" y="26.03" width="4.31" height="4.32" fill="#2a788e"/>
<rect x="7.42" y="26.03" width="4.31" height="4.32" fill="#229c88"/>
<rect x="11.14" y="26.03" width="4.31" height="4.32" fill="#9bd83c"/>
<rect x="14.85" y="26.03" width="4.31" height="4.32" fill="#9bd83c"/>
<rect x="18.56" y="26.03" width="4.31" height="4.32" fill="#21918c"/>
<rect x="22.27" y="26.03" width="4.31" height="4.32" fill="#2a788e"/>
<rect x="25.99" y="26.03" width="4.31" height="4.32" fill="#306c8e"/>
<rect x="29.70" y="26.03" width="4.31" height="4.32" fill="#2a788e"/>
<rect x="33.41" y="26.03" width="4.31" height="4.32" fill="#21918c"/>
<rect x="37.12" y="26.03" width="4.31" height="4.32" fill="#22a884"/>
<rect x="40.84" y="26.03" width="4.31" height="4.32" fill="#44bf70"/>
<rect x="44.55" y="26.03" width="4.31" height="4.32" fill="#22a884"/>
<rect x="48.26" y="26.03" width="4.31" height="4.32" fill="#306c8e"/>
<rect x="51.98" y="26.03" width="4.31" height="4.32" fill="#414487"/>
<rect x="55.69" y="26.03" width="3.71" height="4.32" fill="#482475"/>
<rect x="0.00" y="29.75" width="4.31" height="4.32" fill="#414487"/>
<rect x="3.71" y="29.75" width="4.31" height="4.32" fill="#229c88"/>
<rect x="7.42" y="29.75" width="4.31" height="4.32" fill="#bddf26"/>
<rect x="11.14" y="29.75" width="4.31" height="4.32" fill="#9bd83c"/>
<rect x="14.85" y="29.75" width="4.31" height="4.32" fill="#7ad151"/>
<rect x="18.56" y="29.75" width="4.31" height="4.32" fill="#5fc860"/>
<rect x="22.27" y="29.75" width="4.31" height="4.32" fill="#33b47a"/>
<rect x="25.99" y="29.75" width="4.31" height="4.32" fill="#21918c"/>
<rect x="29.70" y="29.75" width="4.31" height="4.32" fill="#414487"/>
<rect x="33.41" y="29.75" width="4.31" height="4.32" fill="#414487"/>
<rect x="37.12" y="29.75" width="4.31" height="4.32" fill="#355f8d"/>
<rect x="40.84" y="29.75" width="4.31" height="4.32" fill="#355f8d"/>
<rect x="44.55" y="29.75" width="4.31" height="4.32" fill="#355f8d"/>
<rect x="48.26" y="29.75" width="4.31" height="4.32" fill="#44347e"/>
<rect x="51.98" y="29.75" width="4.31" height="4.32" fill="#482475"/>
<rect x="55.69" y="29.75" width="3.71" height="4.32" fill="#482475"/>
<rect x="0.00" y="33.47" width="4.31" height="4.32" fill="#44347e"/>
<rect x="3.71" y="33.47" width="4.31" height="4.32" fill="#21918c"/>
<rect x="7.42" y="33.47" width="4.31" height="4.32" fill="#dde326"/>
<rect x="11.14" y="33.47" width="4.31" height="4.32" fill="#bddf26"/>
<rect x="14.85" y="33.47" width="4.31" height="4.32" fill="#9bd83c"/>
<rect x="18.56" y="33.47" width="4.31" height="4.32" fill="#44bf70"/>
<rect x="22.27" y="33.47" width="4.31" height="4.32" fill="#5fc860"/>
<rect x="25.99" y="33.47" width="4.31" height="4.32" fill="#21918c"/>
<rect x="29.70" y="33.47" width="4.31" height="4.32" fill="#414487"/>
<rect x="33.41" y="33.47" width="4.31" height="4.32" fill="#44347e"/>
<rect x="37.12" y="33.47" width="4.31" height="4.32" fill="#482475"/>
<rect x="40.84" y="33.47" width="4.31" height="4.32" fill="#461264"/>
<rect x="44.55" y="33.47" width="4.31" height="4.32" fill="#461264"/>
<rect x="48.26" y="33.47" width="4.31" height="4.32" fill="#461264"/>
<rect x="51.98" y="33.47" width="4.31" height="4.32" fill="#461264"/>
<rect x="55.69" y="33.47" width="3.71" height="4.32" fill="#461264"/>
<rect x="0.00" y="37.19" width="4.31" height="4.32" fill="#44347e"/>
<rect x="3.71" y="37.19" width="4.31" height="4.32" fill="#21918c"/>
<rect x="7.42" y="37.19" width="4.31" height="4.32" fill="#7ad151"/>
<rect x="11.14" y="37.19" width="4.31" height="4.32" fill="#7ad151"/>
<rect x="14.85" y="37.19" width="4.31" height="4.32" fill="#5fc860"/>
<rect x="18.56" y="37.19" width="4.31" height="4.32" fill="#33b47a"/>
<rect x="22.27" y="37.19" width="4.31" height="4.32" fill="#229c88"/>
<rect x="25.99" y="37.19" width="4.31" height="4.32" fill="#229c88"/>
<rect x="29.70" y="37.19" width="4.31" height="4.32" fill="#355f8d"/>
<rect x="33.41" y="37.19" width="4.31" height="4.32" fill="#44347e"/>
<rect x="37.12" y="37.19" width="4.31" height="4.32" fill="#461264"/>
<rect x="40.84" y="37.19" width="4.31" height="4.32" fill="#461264"/>
<rect x="44.55" y="37.19" width="4.31" height="4.32" fill="#461264"/>
<rect x="48.26" y="37.19" width="4.31" height="4.32" fill="#461264"/>
<rect x="51.98" y="37.19" width="4.31" height="4.32" fill="#461264"/>
<rect x="55.69" y="37.19" width="3.71" height="4.32" fill="#461264"/>
<rect x="0.00" y="40.91" width="4.31" height="4.32" fill="#3b528a"/>
<rect x="3.71" y="40.91" width="4.31" height="4.32" fill="#306c8e"/>
<rect x="7.42" y="40.91" width="4.31" height="4.32" fill="#26848d"/>
<rect x="11.14" y="40.91" width="4.31" height="4.32" fill="#22a884"/>
<rect x="14.85" y="40.91" width="4.31" height="4.32" fill="#5fc860"/>
<rect x="18.56" y="40.91" width="4.31" height="4.32" fill="#26848d"/>
<rect x="22.27" y="40.91" width="4.31" height="4.32" fill="#306c8e"/>
<rect x="25.99" y="40.91" width="4.31" height="4.32" fill="#2a788e"/>
<rect x="29.70" y="40.91" width="4.31" height="4.32" fill="#414487"/>
<rect x="33.41" y="40.91" width="4.31" height="4.32" fill="#461264"/>
<rect x="37.12" y="40.91" width="4.31" height="4.32" fill="#461264"/>
<rect x="40.84" y="40.91" width="4.31" height="4.32" fill="#461264"/>
<rect x="44.55" y="40.91" width="4.31" height="4.32" fill="#461264"/>
<rect x="48.26" y="40.91" width="4.31" height="4.32" fill="#461264"/>
<rect x="51.98" y="40.91" width="4.31" height="4.32" fill="#461264"/>
<rect x="55.69" y="40.91" width="3.71" height="4.32" fill="#461264"/>
<rect x="0.00" y="44.62" width="4.31" height="4.32" fill="#414487"/>
<rect x="3.71" y="44.62" width="4.31" height="4.32" fill="#355f8d"/>
<rect x="7.42" y="44.62" width="4.31" height="4.32" fill="#414487"/>
<rect x="11.14" y="44.62" width="4.31" height="4.32" fill="#482475"/>
<rect x="14.85" y="44.62" width="4.31" height="4.32" fill="#461264"/>
<rect x="18.56" y="44.62" width="4.31" height="4.32" fill="#44347e"/>
<rect x="22.27" y="44.62" width="4.31" height="4.32" fill="#414487"/>
<rect x="25.99" y="44.62" width="4.31" height="4.32" fill="#355f8d"/>
<rect x="29.70" y="44.62" width="4.31" height="4.32" fill="#44347e"/>
<rect x="33.41" y="44.62" width="4.31" height="4.32" fill="#461264"/>
<rect x="37.12" y="44.62" width="4.31" height="4.32" fill="#461264"/>
<rect x="40.84" y="44.62" width="4.31" height="4.32" fill="#461264"/>
<rect x="44.55" y="44.62" width="4.31" height="4.32" fill="#461264"/>
<rect x="48.26" y="44.62" width="4.31" height="4.32" fill="#461264"/>
<rect x="51.98" y="44.62" width="4.31" height="4.32" fill="#461264"/>
<rect x="55.69" y="44.62" width="3.71" height="4.32" fill="#461264"/>
<rect x="0.00" y="48.34" width="4.31" height="4.32" fill="#414487"/>
<rect x="3.71" y="48.34" width="4.31" height="4.32" fill="#355f8d"/>
<rect x="7.42" y="48.34" width="4.31" height="4.32" fill="#355f8d"/>
<rect x="11.14" y="48.34" width="4.31" height="4.32" fill="#414487"/>
<rect x="14.85" y="48.34" width="4.31" height="4.32" fill="#3b528a"/>
<rect x="18.56" y="48.34" width="4.31" height="4.32" fill="#3b528a"/>
<rect x="22.27" y="48.34" width="4.31" height="4.32" fill="#414487"/>
<rect x="25.99" y="48.34" width="4.31" height="4.32" fill="#461264"/>
<rect x="29.70" y="48.34" width="4.31" height="4.32" fill="#461264"/>
<rect x="33.41" y="48.34" width="4.31" height="4.32" fill="#461264"/>
<rect x="37.12" y="48.34" width="4.31" height="4.32" fill="#461264"/>
<rect x="40.84" y="48.34" width="4.31" height="4.32" fill="#461264"/>
<rect x="44.55" y="48.34" width="4.31" height="4.32" fill="#461264"/>
<rect x="48.26" y="48.34" width="4.31" height="4.32" fill="#461264"/>
<rect x="51.98" y="48.34" width="4.31" height="4.32" fill="#461264"/>
<rect x="55.69" y="48.34" width="3.71" height="4.32" fill="#461264"/>
<rect x="0.00" y="52.06" width="4.31" height="4.32" fill="#461264"/>
<rect x="3.71" y="52.06" width="4.31" height="4.32" fill="#461264"/>
<rect x="7.42" y="52.06" width="4.31" height="4.32" fill="#44347e"/>
<rect x="11.14" y="52.06" width="4.31" height="4.32" fill="#414487"/>
<rect x="14.85" y="52.06" width="4.31" height="4.32" fill="#306c8e"/>
<rect x="18.56" y="52.06" width="4.31" height="4.32" fill="#306c8e"/>
<rect x="22.27" y="52.06" width="4.31" height="4.32" fill="#414487"/>
<rect x="25.99" y="52.06" width="4.31" height="4.32" fill="#482475"/>
<rect x="29.70" y="52.06" width="4.31" height="4.32" fill="#461264"/>
<rect x="33.41" y="52.06" width="4.31" height="4.32" fill="#461264"/>
<rect x="37.12" y="52.06" width="4.31" height="4.32" fill="#461264"/>
<rect x="40.84" y="52.06" width="4.31" height="4.32" fill="#461264"/>
<rect x="44.55" y="52.06" width="4.31" height="4.32" fill="#44347e"/>
<rect x="48.26" y="52.06" width="4.31" height="4.32" fill="#461264"/>
<rect x="51.98" y="52.06" width="4.31" height="4.32" fill="#461264"/>
<rect x="55.69" y="52.06" width="3.71" height="4.32" fill="#461264"/>
<rect x="0.00" y="55.78" width="4.31" height="3.72" fill="#461264"/>
<rect x="3.71" y="55.78" width="4.31" height="3.72" fill="#461264"/>
<rect x="7.42" y="55.78" width="4.31" height="3.72" fill="#461264"/>
<rect x="11.14" y="55.78" width="4.31" height="3.72" fill="#44347e"/>
<rect x="14.85" y="55.78" width="4.31" height="3.72" fill="#355f8d"/>
<rect x="18.56" y="55.78" width="4.31" height="3.72" fill="#414487"/>
<rect x="22.27" y="55.78" width="4.31" height="3.72" fill="#44347e"/>
<rect x="25.99" y="55.78" width="4.31" height="3.72" fill="#482475"/>
<rect x="29.70" y="55.78" width="4.31" height="3.72" fill="#461264"/>
<rect x="33.41" y="55.78" width="4.31" height="3.72" fill="#461264"/>
<rect x="37.12" y="55.78" width="4.31" height="3.72" fill="#461264"/>
<rect x="40.84" y="55.78" width="4.31" height="3.72" fill="#461264"/>
<rect x="44.55" y="55.78" width="4.31" height="3.72" fill="#461264"/>
<rect x="48.26" y="55.78" width="4.31" height="3.72" fill="#461264"/>
<rect x="51.98" y="55.78" width="4.31" height="3.72" fill="#461264"/>
<rect x="55.69" y="55.78" width="3.71" height="3.72" fill="#461264"/>
</g>
<g id="hh0" filter="url(#hblur)">
<rect x="-4.00" y="-4.00" width="8.31" height="8.32" fill="#5a1c5a"/>
<rect x="3.71" y="-4.00" width="4.31" height="8.32" fill="#5a1c5a"/>
<rect x="7.41" y="-4.00" width="4.31" height="8.32" fill="#5a1c5a"/>
<rect x="11.12" y="-4.00" width="4.31" height="8.32" fill="#5a1c5a"/>
<rect x="14.82" y="-4.00" width="4.31" height="8.32" fill="#5a1c5a"/>
<rect x="18.53" y="-4.00" width="4.31" height="8.32" fill="#a4912d"/>
<rect x="22.24" y="-4.00" width="4.31" height="8.32" fill="#a6a82e"/>
<rect x="25.94" y="-4.00" width="4.31" height="8.32" fill="#a4912d"/>
<rect x="29.65" y="-4.00" width="4.31" height="8.32" fill="#a4912d"/>
<rect x="33.36" y="-4.00" width="4.31" height="8.32" fill="#5a1c5a"/>
<rect x="37.06" y="-4.00" width="4.31" height="8.32" fill="#5a1c5a"/>
<rect x="40.77" y="-4.00" width="4.31" height="8.32" fill="#561a58"/>
<rect x="44.47" y="-4.00" width="4.31" height="8.32" fill="#561a58"/>
<rect x="48.18" y="-4.00" width="4.31" height="8.32" fill="#5a1c5a"/>
<rect x="51.89" y="-4.00" width="4.31" height="8.32" fill="#5a1c5a"/>
<rect x="55.59" y="-4.00" width="7.71" height="8.32" fill="#702751"/>
<rect x="-4.00" y="3.72" width="8.31" height="4.32" fill="#561a58"/>
<rect x="3.71" y="3.72" width="4.31" height="4.32" fill="#9b6533"/>
<rect x="7.41" y="3.72" width="4.31" height="4.32" fill="#9b6533"/>
<rect x="11.12" y="3.72" width="4.31" height="4.32" fill="#a4912d"/>
<rect x="14.82" y="3.72" width="4.31" height="4.32" fill="#a4912d"/>
<rect x="18.53" y="3.72" width="4.31" height="4.32" fill="#a4ba32"/>
<rect x="22.24" y="3.72" width="4.31" height="4.32" fill="#98e448"/>
<rect x="25.94" y="3.72" width="4.31" height="4.32" fill="#a4ba32"/>
<rect x="29.65" y="3.72" width="4.31" height="4.32" fill="#a4ba32"/>
<rect x="33.36" y="3.72" width="4.31" height="4.32" fill="#a4912d"/>
<rect x="37.06" y="3.72" width="4.31" height="4.32" fill="#a27a2c"/>
<rect x="40.77" y="3.72" width="4.31" height="4.32" fill="#94503a"/>
<rect x="44.47" y="3.72" width="4.31" height="4.32" fill="#94503a"/>
<rect x="48.18" y="3.72" width="4.31" height="4.32" fill="#9b6533"/>
<rect x="51.89" y="3.72" width="4.31" height="4.32" fill="#9b6533"/>
<rect x="55.59" y="3.72" width="7.71" height="4.32" fill="#884142"/>
<rect x="-4.00" y="7.44" width="8.31" height="4.32" fill="#94503a"/>
<rect x="3.71" y="7.44" width="4.31" height="4.32" fill="#a6a82e"/>
<rect x="7.41" y="7.44" width="4.31" height="4.32" fill="#a6a82e"/>
<rect x="11.12" y="7.44" width="4.31" height="4.32" fill="#a2cc36"/>
<rect x="14.82" y="7.44" width="4.31" height="4.32" fill="#a4ba32"/>
<rect x="18.53" y="7.44" width="4.31" height="4.32" fill="#a4912d"/>
<rect x="22.24" y="7.44" width="4.31" height="4.32" fill="#a4912d"/>
<rect x="25.94" y="7.44" width="4.31" height="4.32" fill="#a4912d"/>
<rect x="29.65" y="7.44" width="4.31" height="4.32" fill="#a2cc36"/>
<rect x="33.36" y="7.44" width="4.31" height="4.32" fill="#a2cc36"/>
<rect x="37.06" y="7.44" width="4.31" height="4.32" fill="#a2cc36"/>
<rect x="40.77" y="7.44" width="4.31" height="4.32" fill="#a4912d"/>
<rect x="44.47" y="7.44" width="4.31" height="4.32" fill="#a4912d"/>
<rect x="48.18" y="7.44" width="4.31" height="4.32" fill="#a4912d"/>
<rect x="51.89" y="7.44" width="4.31" height="4.32" fill="#a4912d"/>
<rect x="55.59" y="7.44" width="7.71" height="4.32" fill="#702751"/>
<rect x="-4.00" y="11.16" width="8.31" height="4.32" fill="#a2cc36"/>
<rect x="3.71" y="11.16" width="4.31" height="4.32" fill="#96e869"/>
<rect x="7.41" y="11.16" width="4.31" height="4.32" fill="#a2cc36"/>
<rect x="11.12" y="11.16" width="4.31" height="4.32" fill="#a4912d"/>
<rect x="14.82" y="11.16" width="4.31" height="4.32" fill="#a27a2c"/>
<rect x="18.53" y="11.16" width="4.31" height="4.32" fill="#a27a2c"/>
<rect x="22.24" y="11.16" width="4.31" height="4.32" fill="#9b6533"/>
<rect x="25.94" y="11.16" width="4.31" height="4.32" fill="#94503a"/>
<rect x="29.65" y="11.16" width="4.31" height="4.32" fill="#a27a2c"/>
<rect x="33.36" y="11.16" width="4.31" height="4.32" fill="#a4912d"/>
<rect x="37.06" y="11.16" width="4.31" height="4.32" fill="#9fd43c"/>
<rect x="40.77" y="11.16" width="4.31" height="4.32" fill="#9bdc42"/>
<rect x="44.47" y="11.16" width="4.31" height="4.32" fill="#9bdc42"/>
<rect x="48.18" y="11.16" width="4.31" height="4.32" fill="#a4ba32"/>
<rect x="51.89" y="11.16" width="4.31" height="4.32" fill="#94503a"/>
<rect x="55.59" y="11.16" width="7.71" height="4.32" fill="#652155"/>
<rect x="-4.00" y="14.88" width="8.31" height="4.32" fill="#a2cc36"/>
<rect x="3.71" y="14.88" width="4.31" height="4.32" fill="#96e869"/>
<rect x="7.41" y="14.88" width="4.31" height="4.32" fill="#a2cc36"/>
<rect x="11.12" y="14.88" width="4.31" height="4.32" fill="#a27a2c"/>
<rect x="14.82" y="14.88" width="4.31" height="4.32" fill="#a4912d"/>
<rect x="18.53" y="14.88" width="4.31" height="4.32" fill="#a27a2c"/>
<rect x="22.24" y="14.88" width="4.31" height="4.32" fill="#94503a"/>
<rect x="25.94" y="14.88" width="4.31" height="4.32" fill="#652155"/>
<rect x="29.65" y="14.88" width="4.31" height="4.32" fill="#9b6533"/>
<rect x="33.36" y="14.88" width="4.31" height="4.32" fill="#a4912d"/>
<rect x="37.06" y="14.88" width="4.31" height="4.32" fill="#96e869"/>
<rect x="40.77" y="14.88" width="4.31" height="4.32" fill="#9fd43c"/>
<rect x="44.47" y="14.88" width="4.31" height="4.32" fill="#9fd43c"/>
<rect x="48.18" y="14.88" width="4.31" height="4.32" fill="#a4ba32"/>
<rect x="51.89" y="14.88" width="4.31" height="4.32" fill="#a27a2c"/>
<rect x="55.59" y="14.88" width="7.71" height="4.32" fill="#702751"/>
<rect x="-4.00" y="18.59" width="8.31" height="4.32" fill="#94503a"/>
<rect x="3.71" y="18.59" width="4.31" height="4.32" fill="#a6a82e"/>
<rect x="7.41" y="18.59" width="4.31" height="4.32" fill="#9b6533"/>
<rect x="11.12" y="18.59" width="4.31" height="4.32" fill="#a4912d"/>
<rect x="14.82" y="18.59" width="4.31" height="4.32" fill="#a2cc36"/>
<rect x="18.53" y="18.59" width="4.31" height="4.32" fill="#a27a2c"/>
<rect x="22.24" y="18.59" width="4.31" height="4.32" fill="#94503a"/>
<rect x="25.94" y="18.59" width="4.31" height="4.32" fill="#652155"/>
<rect x="29.65" y="18.59" width="4.31" height="4.32" fill="#9b6533"/>
<rect x="33.36" y="18.59" width="4.31" height="4.32" fill="#a4912d"/>
<rect x="37.06" y="18.59" width="4.31" height="4.32" fill="#98e448"/>
<rect x="40.77" y="18.59" width="4.31" height="4.32" fill="#96e869"/>
<rect x="44.47" y="18.59" width="4.31" height="4.32" fill="#9fd43c"/>
<rect x="48.18" y="18.59" width="4.31" height="4.32" fill="#a2cc36"/>
<rect x="51.89" y="18.59" width="4.31" height="4.32" fill="#9b6533"/>
<rect x="55.59" y="18.59" width="7.71" height="4.32" fill="#652155"/>
<rect x="-4.00" y="22.31" width="8.31" height="4.32" fill="#702751"/>
<rect x="3.71" y="22.31" width="4.31" height="4.32" fill="#a27a2c"/>
<rect x="7.41" y="22.31" width="4.31" height="4.32" fill="#a6a82e"/>
<rect x="11.12" y="22.31" width="4.31" height="4.32" fill="#a27a2c"/>
<rect x="14.82" y="22.31" width="4.31" height="4.32" fill="#a2cc36"/>
<rect x="18.53" y="22.31" width="4.31" height="4.32" fill="#a4912d"/>
<rect x="22.24" y="22.31" width="4.31" height="4.32" fill="#9b6533"/>
<rect x="25.94" y="22.31" width="4.31" height="4.32" fill="#652155"/>
<rect x="29.65" y="22.31" width="4.31" height="4.32" fill="#94503a"/>
<rect x="33.36" y="22.31" width="4.31" height="4.32" fill="#a27a2c"/>
<rect x="37.06" y="22.31" width="4.31" height="4.32" fill="#98e448"/>
<rect x="40.77" y="22.31" width="4.31" height="4.32" fill="#a4ba32"/>
<rect x="44.47" y="22.31" width="4.31" height="4.32" fill="#a4ba32"/>
<rect x="48.18" y="22.31" width="4.31" height="4.32" fill="#a4912d"/>
<rect x="51.89" y="22.31" width="4.31" height="4.32" fill="#702751"/>
<rect x="55.59" y="22.31" width="7.71" height="4.32" fill="#5a1c5a"/>
<rect x="-4.00" y="26.03" width="8.31" height="4.32" fill="#702751"/>
<rect x="3.71" y="26.03" width="4.31" height="4.32" fill="#9b6533"/>
<rect x="7.41" y="26.03" width="4.31" height="4.32" fill="#a6a82e"/>
<rect x="11.12" y="26.03" width="4.31" height="4.32" fill="#96e869"/>
<rect x="14.82" y="26.03" width="4.31" height="4.32" fill="#96e869"/>
<rect x="18.53" y="26.03" width="4.31" height="4.32" fill="#a4912d"/>
<rect x="22.24" y="26.03" width="4.31" height="4.32" fill="#9b6533"/>
<rect x="25.94" y="26.03" width="4.31" height="4.32" fill="#94503a"/>
<rect x="29.65" y="26.03" width="4.31" height="4.32" fill="#9b6533"/>
<rect x="33.36" y="26.03" width="4.31" height="4.32" fill="#a4912d"/>
<rect x="37.06" y="26.03" width="4.31" height="4.32" fill="#a4ba32"/>
<rect x="40.77" y="26.03" width="4.31" height="4.32" fill="#9fd43c"/>
<rect x="44.47" y="26.03" width="4.31" height="4.32" fill="#a4ba32"/>
<rect x="48.18" y="26.03" width="4.31" height="4.32" fill="#94503a"/>
<rect x="51.89" y="26.03" width="4.31" height="4.32" fill="#702751"/>
<rect x="55.59" y="26.03" width="7.71" height="4.32" fill="#5a1c5a"/>
<rect x="-4.00" y="29.75" width="8.31" height="4.32" fill="#702751"/>
<rect x="3.71" y="29.75" width="4.31" height="4.32" fill="#a6a82e"/>
<rect x="7.41" y="29.75" width="4.31" height="4.32" fill="#94ec8a"/>
<rect x="11.12" y="29.75" width="4.31" height="4.32" fill="#96e869"/>
<rect x="14.82" y="29.75" width="4.31" height="4.32" fill="#98e448"/>
<rect x="18.53" y="29.75" width="4.31" height="4.32" fill="#9bdc42"/>
<rect x="22.24" y="29.75" width="4.31" height="4.32" fill="#a2cc36"/>
<rect x="25.94" y="29.75" width="4.31" height="4.32" fill="#a4912d"/>
<rect x="29.65" y="29.75" width="4.31" height="4.32" fill="#702751"/>
<rect x="33.36" y="29.75" width="4.31" height="4.32" fill="#702751"/>
<rect x="37.06" y="29.75" width="4.31" height="4.32" fill="#884142"/>
<rect x="40.77" y="29.75" width="4.31" height="4.32" fill="#884142"/>
<rect x="44.47" y="29.75" width="4.31" height="4.32" fill="#884142"/>
<rect x="48.18" y="29.75" width="4.31" height="4.32" fill="#652155"/>
<rect x="51.89" y="29.75" width="4.31" height="4.32" fill="#5a1c5a"/>
<rect x="55.59" y="29.75" width="7.71" height="4.32" fill="#5a1c5a"/>
<rect x="-4.00" y="33.47" width="8.31" height="4.32" fill="#652155"/>
<rect x="3.71" y="33.47" width="4.31" height="4.32" fill="#a4912d"/>
<rect x="7.41" y="33.47" width="4.31" height="4.32" fill="#a4f0bd"/>
<rect x="11.12" y="33.47" width="4.31" height="4.32" fill="#94ec8a"/>
<rect x="14.82" y="33.47" width="4.31" height="4.32" fill="#96e869"/>
<rect x="18.53" y="33.47" width="4.31" height="4.32" fill="#9fd43c"/>
<rect x="22.24" y="33.47" width="4.31" height="4.32" fill="#9bdc42"/>
<rect x="25.94" y="33.47" width="4.31" height="4.32" fill="#a4912d"/>
<rect x="29.65" y="33.47" width="4.31" height="4.32" fill="#702751"/>
<rect x="33.36" y="33.47" width="4.31" height="4.32" fill="#652155"/>
<rect x="37.06" y="33.47" width="4.31" height="4.32" fill="#5a1c5a"/>
<rect x="40.77" y="33.47" width="4.31" height="4.32" fill="#561a58"/>
<rect x="44.47" y="33.47" width="4.31" height="4.32" fill="#561a58"/>
<rect x="48.18" y="33.47" width="4.31" height="4.32" fill="#561a58"/>
<rect x="51.89" y="33.47" width="4.31" height="4.32" fill="#561a58"/>
<rect x="55.59" y="33.47" width="7.71" height="4.32" fill="#561a58"/>
<rect x="-4.00" y="37.19" width="8.31" height="4.32" fill="#652155"/>
<rect x="3.71" y="37.19" width="4.31" height="4.32" fill="#a4912d"/>
<rect x="7.41" y="37.19" width="4.31" height="4.32" fill="#98e448"/>
<rect x="11.12" y="37.19" width="4.31" height="4.32" fill="#98e448"/>
<rect x="14.82" y="37.19" width="4.31" height="4.32" fill="#9bdc42"/>
<rect x="18.53" y="37.19" width="4.31" height="4.32" fill="#a2cc36"/>
<rect x="22.24" y="37.19" width="4.31" height="4.32" fill="#a6a82e"/>
<rect x="25.94" y="37.19" width="4.31" height="4.32" fill="#a6a82e"/>
<rect x="29.65" y="37.19" width="4.31" height="4.32" fill="#884142"/>
<rect x="33.36" y="37.19" width="4.31" height="4.32" fill="#652155"/>
<rect x="37.06" y="37.19" width="4.31" height="4.32" fill="#561a58"/>
<rect x="40.77" y="37.19" width="4.31" height="4.32" fill="#561a58"/>
<rect x="44.47" y="37.19" width="4.31" height="4.32" fill="#561a58"/>
<rect x="48.18" y="37.19" width="4.31" height="4.32" fill="#561a58"/>
<rect x="51.89" y="37.19" width="4.31" height="4.32" fill="#561a58"/>
<rect x="55.59" y="37.19" width="7.71" height="4.32" fill="#561a58"/>
<rect x="-4.00" y="40.91" width="8.31" height="4.32" fill="#7b324a"/>
<rect x="3.71" y="40.91" width="4.31" height="4.32" fill="#94503a"/>
<rect x="7.41" y="40.91" width="4.31" height="4.32" fill="#a27a2c"/>
<rect x="11.12" y="40.91" width="4.31" height="4.32" fill="#a4ba32"/>
<rect x="14.82" y="40.91" width="4.31" height="4.32" fill="#9bdc42"/>
<rect x="18.53" y="40.91" width="4.31" height="4.32" fill="#a27a2c"/>
<rect x="22.24" y="40.91" width="4.31" height="4.32" fill="#94503a"/>
<rect x="25.94" y="40.91" width="4.31" height="4.32" fill="#9b6533"/>
<rect x="29.65" y="40.91" width="4.31" height="4.32" fill="#702751"/>
<rect x="33.36" y="40.91" width="4.31" height="4.32" fill="#561a58"/>
<rect x="37.06" y="40.91" width="4.31" height="4.32" fill="#561a58"/>
<rect x="40.77" y="40.91" width="4.31" height="4.32" fill="#561a58"/>
<rect x="44.47" y="40.91" width="4.31" height="4.32" fill="#561a58"/>
<rect x="48.18" y="40.91" width="4.31" height="4.32" fill="#561a58"/>
<rect x="51.89" y="40.91" width="4.31" height="4.32" fill="#561a58"/>
<rect x="55.59" y="40.91" width="7.71" height="4.32" fill="#561a58"/>
<rect x="-4.00" y="44.62" width="8.31" height="4.32" fill="#702751"/>
<rect x="3.71" y="44.62" width="4.31" height="4.32" fill="#884142"/>
<rect x="7.41" y="44.62" width="4.31" height="4.32" fill="#702751"/>
<rect x="11.12" y="44.62" width="4.31" height="4.32" fill="#5a1c5a"/>
<rect x="14.82" y="44.62" width="4.31" height="4.32" fill="#561a58"/>
<rect x="18.53" y="44.62" width="4.31" height="4.32" fill="#652155"/>
<rect x="22.24" y="44.62" width="4.31" height="4.32" fill="#702751"/>
<rect x="25.94" y="44.62" width="4.31" height="4.32" fill="#884142"/>
<rect x="29.65" y="44.62" width="4.31" height="4.32" fill="#652155"/>
<rect x="33.36" y="44.62" width="4.31" height="4.32" fill="#561a58"/>
<rect x="37.06" y="44.62" width="4.31" height="4.32" fill="#561a58"/>
<rect x="40.77" y="44.62" width="4.31" height="4.32" fill="#561a58"/>
<rect x="44.47" y="44.62" width="4.31" height="4.32" fill="#561a58"/>
<rect x="48.18" y="44.62" width="4.31" height="4.32" fill="#561a58"/>
<rect x="51.89" y="44.62" width="4.31" height="4.32" fill="#561a58"/>
<rect x="55.59" y="44.62" width="7.71" height="4.32" fill="#561a58"/>
<rect x="-4.00" y="48.34" width="8.31" height="4.32" fill="#702751"/>
<rect x="3.71" y="48.34" width="4.31" height="4.32" fill="#884142"/>
<rect x="7.41" y="48.34" width="4.31" height="4.32" fill="#884142"/>
<rect x="11.12" y="48.34" width="4.31" height="4.32" fill="#702751"/>
<rect x="14.82" y="48.34" width="4.31" height="4.32" fill="#7b324a"/>
<rect x="18.53" y="48.34" width="4.31" height="4.32" fill="#7b324a"/>
<rect x="22.24" y="48.34" width="4.31" height="4.32" fill="#702751"/>
<rect x="25.94" y="48.34" width="4.31" height="4.32" fill="#561a58"/>
<rect x="29.65" y="48.34" width="4.31" height="4.32" fill="#561a58"/>
<rect x="33.36" y="48.34" width="4.31" height="4.32" fill="#561a58"/>
<rect x="37.06" y="48.34" width="4.31" height="4.32" fill="#561a58"/>
<rect x="40.77" y="48.34" width="4.31" height="4.32" fill="#561a58"/>
<rect x="44.47" y="48.34" width="4.31" height="4.32" fill="#561a58"/>
<rect x="48.18" y="48.34" width="4.31" height="4.32" fill="#561a58"/>
<rect x="51.89" y="48.34" width="4.31" height="4.32" fill="#561a58"/>
<rect x="55.59" y="48.34" width="7.71" height="4.32" fill="#561a58"/>
<rect x="-4.00" y="52.06" width="8.31" height="4.32" fill="#561a58"/>
<rect x="3.71" y="52.06" width="4.31" height="4.32" fill="#561a58"/>
<rect x="7.41" y="52.06" width="4.31" height="4.32" fill="#652155"/>
<rect x="11.12" y="52.06" width="4.31" height="4.32" fill="#702751"/>
<rect x="14.82" y="52.06" width="4.31" height="4.32" fill="#94503a"/>
<rect x="18.53" y="52.06" width="4.31" height="4.32" fill="#94503a"/>
<rect x="22.24" y="52.06" width="4.31" height="4.32" fill="#702751"/>
<rect x="25.94" y="52.06" width="4.31" height="4.32" fill="#5a1c5a"/>
<rect x="29.65" y="52.06" width="4.31" height="4.32" fill="#561a58"/>
<rect x="33.36" y="52.06" width="4.31" height="4.32" fill="#561a58"/>
<rect x="37.06" y="52.06" width="4.31" height="4.32" fill="#561a58"/>
<rect x="40.77" y="52.06" width="4.31" height="4.32" fill="#561a58"/>
<rect x="44.47" y="52.06" width="4.31" height="4.32" fill="#652155"/>
<rect x="48.18" y="52.06" width="4.31" height="4.32" fill="#561a58"/>
<rect x="51.89" y="52.06" width="4.31" height="4.32" fill="#561a58"/>
<rect x="55.59" y="52.06" width="7.71" height="4.32" fill="#561a58"/>
<rect x="-4.00" y="55.78" width="8.31" height="7.72" fill="#561a58"/>
<rect x="3.71" y="55.78" width="4.31" height="7.72" fill="#561a58"/>
<rect x="7.41" y="55.78" width="4.31" height="7.72" fill="#561a58"/>
<rect x="11.12" y="55.78" width="4.31" height="7.72" fill="#652155"/>
<rect x="14.82" y="55.78" width="4.31" height="7.72" fill="#884142"/>
<rect x="18.53" y="55.78" width="4.31" height="7.72" fill="#702751"/>
<rect x="22.24" y="55.78" width="4.31" height="7.72" fill="#652155"/>
<rect x="25.94" y="55.78" width="4.31" height="7.72" fill="#5a1c5a"/>
<rect x="29.65" y="55.78" width="4.31" height="7.72" fill="#561a58"/>
<rect x="33.36" y="55.78" width="4.31" height="7.72" fill="#561a58"/>
<rect x="37.06" y="55.78" width="4.31" height="7.72" fill="#561a58"/>
<rect x="40.77" y="55.78" width="4.31" height="7.72" fill="#561a58"/>
<rect x="44.47" y="55.78" width="4.31" height="7.72" fill="#561a58"/>
<rect x="48.18" y="55.78" width="4.31" height="7.72" fill="#561a58"/>
<rect x="51.89" y="55.78" width="4.31" height="7.72" fill="#561a58"/>
<rect x="55.59" y="55.78" width="7.71" height="7.72" fill="#561a58"/>
</g>
<g id="ho0" filter="url(#hblur)">
<rect x="-4.00" y="-4.00" width="8.31" height="8.32" fill="#983195"/>
<rect x="3.71" y="-4.00" width="4.31" height="8.32" fill="#983195"/>
<rect x="7.41" y="-4.00" width="4.31" height="8.32" fill="#983195"/>
<rect x="11.12" y="-4.00" width="4.31" height="8.32" fill="#983195"/>
<rect x="14.82" y="-4.00" width="4.31" height="8.32" fill="#983195"/>
<rect x="18.53" y="-4.00" width="4.31" height="8.32" fill="#b09d2f"/>
<rect x="22.24" y="-4.00" width="4.31" height="8.32" fill="#acb030"/>
<rect x="25.94" y="-4.00" width="4.31" height="8.32" fill="#b09d2f"/>
<rect x="29.65" y="-4.00" width="4.31" height="8.32" fill="#b09d2f"/>
<rect x="33.36" y="-4.00" width="4.31" height="8.32" fill="#983195"/>
<rect x="37.06" y="-4.00" width="4.31" height="8.32" fill="#983195"/>
<rect x="40.77" y="-4.00" width="4.31" height="8.32" fill="#96339b"/>
<rect x="44.47" y="-4.00" width="4.31" height="8.32" fill="#96339b"/>
<rect x="48.18" y="-4.00" width="4.31" height="8.32" fill="#983195"/>
<rect x="51.89" y="-4.00" width="4.31" height="8.32" fill="#983195"/>
<rect x="55.59" y="-4.00" width="7.71" height="8.32" fill="#9e367e"/>
<rect x="-4.00" y="3.72" width="8.31" height="4.32" fill="#96339b"/>
<rect x="3.71" y="3.72" width="4.31" height="4.32" fill="#b27536"/>
<rect x="7.41" y="3.72" width="4.31" height="4.32" fill="#b27536"/>
<rect x="11.12" y="3.72" width="4.31" height="4.32" fill="#b09d2f"/>
<rect x="14.82" y="3.72" width="4.31" height="4.32" fill="#b09d2f"/>
<rect x="18.53" y="3.72" width="4.31" height="4.32" fill="#a5c038"/>
<rect x="22.24" y="3.72" width="4.31" height="4.32" fill="#6be08c"/>
<rect x="25.94" y="3.72" width="4.31" height="4.32" fill="#a5c038"/>
<rect x="29.65" y="3.72" width="4.31" height="4.32" fill="#a5c038"/>
<rect x="33.36" y="3.72" width="4.31" height="4.32" fill="#b09d2f"/>
<rect x="37.06" y="3.72" width="4.31" height="4.32" fill="#b48a2e"/>
<rect x="40.77" y="3.72" width="4.31" height="4.32" fill="#b0603e"/>
<rect x="44.47" y="3.72" width="4.31" height="4.32" fill="#b0603e"/>
<rect x="48.18" y="3.72" width="4.31" height="4.32" fill="#b27536"/>
<rect x="51.89" y="3.72" width="4.31" height="4.32" fill="#b27536"/>
<rect x="55.59" y="3.72" width="7.71" height="4.32" fill="#a94e55"/>
<rect x="-4.00" y="7.44" width="8.31" height="4.32" fill="#b0603e"/>
<rect x="3.71" y="7.44" width="4.31" height="4.32" fill="#acb030"/>
<rect x="7.41" y="7.44" width="4.31" height="4.32" fill="#acb030"/>
<rect x="11.12" y="7.44" width="4.31" height="4.32" fill="#9ed040"/>
<rect x="14.82" y="7.44" width="4.31" height="4.32" fill="#a5c038"/>
<rect x="18.53" y="7.44" width="4.31" height="4.32" fill="#b09d2f"/>
<rect x="22.24" y="7.44" width="4.31" height="4.32" fill="#b09d2f"/>
<rect x="25.94" y="7.44" width="4.31" height="4.32" fill="#b09d2f"/>
<rect x="29.65" y="7.44" width="4.31" height="4.32" fill="#9ed040"/>
<rect x="33.36" y="7.44" width="4.31" height="4.32" fill="#9ed040"/>
<rect x="37.06" y="7.44" width="4.31" height="4.32" fill="#9ed040"/>
<rect x="40.77" y="7.44" width="4.31" height="4.32" fill="#b09d2f"/>
<rect x="44.47" y="7.44" width="4.31" height="4.32" fill="#b09d2f"/>
<rect x="48.18" y="7.44" width="4.31" height="4.32" fill="#b09d2f"/>
<rect x="51.89" y="7.44" width="4.31" height="4.32" fill="#b09d2f"/>
<rect x="55.59" y="7.44" width="7.71" height="4.32" fill="#9e367e"/>
<rect x="-4.00" y="11.16" width="8.31" height="4.32" fill="#9ed040"/>
<rect x="3.71" y="11.16" width="4.31" height="4.32" fill="#5de0aa"/>
<rect x="7.41" y="11.16" width="4.31" height="4.32" fill="#9ed040"/>
<rect x="11.12" y="11.16" width="4.31" height="4.32" fill="#b09d2f"/>
<rect x="14.82" y="11.16" width="4.31" height="4.32" fill="#b48a2e"/>
<rect x="18.53" y="11.16" width="4.31" height="4.32" fill="#b48a2e"/>
<rect x="22.24" y="11.16" width="4.31" height="4.32" fill="#b27536"/>
<rect x="25.94" y="11.16" width="4.31" height="4.32" fill="#b0603e"/>
<rect x="29.65" y="11.16" width="4.31" height="4.32" fill="#b48a2e"/>
<rect x="33.36" y="11.16" width="4.31" height="4.32" fill="#b09d2f"/>
<rect x="37.06" y="11.16" width="4.31" height="4.32" fill="#8cd659"/>
<rect x="40.77" y="11.16" width="4.31" height="4.32" fill="#7bdc71"/>
<rect x="44.47" y="11.16" width="4.31" height="4.32" fill="#7bdc71"/>
<rect x="48.18" y="11.16" width="4.31" height="4.32" fill="#a5c038"/>
<rect x="51.89" y="11.16" width="4.31" height="4.32" fill="#b0603e"/>
<rect x="55.59" y="11.16" width="7.71" height="4.32" fill="#9a3090"/>
<rect x="-4.00" y="14.88" width="8.31" height="4.32" fill="#9ed040"/>
<rect x="3.71" y="14.88" width="4.31" height="4.32" fill="#5de0aa"/>
<rect x="7.41" y="14.88" width="4.31" height="4.32" fill="#9ed040"/>
<rect x="11.12" y="14.88" width="4.31" height="4.32" fill="#b48a2e"/>
<rect x="14.82" y="14.88" width="4.31" height="4.32" fill="#b09d2f"/>
<rect x="18.53" y="14.88" width="4.31" height="4.32" fill="#b48a2e"/>
<rect x="22.24" y="14.88" width="4.31" height="4.32" fill="#b0603e"/>
<rect x="25.94" y="14.88" width="4.31" height="4.32" fill="#9a3090"/>
<rect x="29.65" y="14.88" width="4.31" height="4.32" fill="#b27536"/>
<rect x="33.36" y="14.88" width="4.31" height="4.32" fill="#b09d2f"/>
<rect x="37.06" y="14.88" width="4.31" height="4.32" fill="#5de0aa"/>
<rect x="40.77" y="14.88" width="4.31" height="4.32" fill="#8cd659"/>
<rect x="44.47" y="14.88" width="4.31" height="4.32" fill="#8cd659"/>
<rect x="48.18" y="14.88" width="4.31" height="4.32" fill="#a5c038"/>
<rect x="51.89" y="14.88" width="4.31" height="4.32" fill="#b48a2e"/>
<rect x="55.59" y="14.88" width="7.71" height="4.32" fill="#9e367e"/>
<rect x="-4.00" y="18.59" width="8.31" height="4.32" fill="#b0603e"/>
<rect x="3.71" y="18.59" width="4.31" height="4.32" fill="#acb030"/>
<rect x="7.41" y="18.59" width="4.31" height="4.32" fill="#b27536"/>
<rect x="11.12" y="18.59" width="4.31" height="4.32" fill="#b09d2f"/>
<rect x="14.82" y="18.59" width="4.31" height="4.32" fill="#9ed040"/>
<rect x="18.53" y="18.59" width="4.31" height="4.32" fill="#b48a2e"/>
<rect x="22.24" y="18.59" width="4.31" height="4.32" fill="#b0603e"/>
<rect x="25.94" y="18.59" width="4.31" height="4.32" fill="#9a3090"/>
<rect x="29.65" y="18.59" width="4.31" height="4.32" fill="#b27536"/>
<rect x="33.36" y="18.59" width="4.31" height="4.32" fill="#b09d2f"/>
<rect x="37.06" y="18.59" width="4.31" height="4.32" fill="#6be08c"/>
<rect x="40.77" y="18.59" width="4.31" height="4.32" fill="#5de0aa"/>
<rect x="44.47" y="18.59" width="4.31" height="4.32" fill="#8cd659"/>
<rect x="48.18" y="18.59" width="4.31" height="4.32" fill="#9ed040"/>
<rect x="51.89" y="18.59" width="4.31" height="4.32" fill="#b27536"/>
<rect x="55.59" y="18.59" width="7.71" height="4.32" fill="#9a3090"/>
<rect x="-4.00" y="22.31" width="8.31" height="4.32" fill="#9e367e"/>
<rect x="3.71" y="22.31" width="4.31" height="4.32" fill="#b48a2e"/>
<rect x="7.41" y="22.31" width="4.31" height="4.32" fill="#acb030"/>
<rect x="11.12" y="22.31" width="4.31" height="4.32" fill="#b48a2e"/>
<rect x="14.82" y="22.31" width="4.31" height="4.32" fill="#9ed040"/>
<rect x="18.53" y="22.31" width="4.31" height="4.32" fill="#b09d2f"/>
<rect x="22.24" y="22.31" width="4.31" height="4.32" fill="#b27536"/>
<rect x="25.94" y="22.31" width="4.31" height="4.32" fill="#9a3090"/>
<rect x="29.65" y="22.31" width="4.31" height="4.32" fill="#b0603e"/>
<rect x="33.36" y="22.31" width="4.31" height="4.32" fill="#b48a2e"/>
<rect x="37.06" y="22.31" width="4.31" height="4.32" fill="#6be08c"/>
<rect x="40.77" y="22.31" width="4.31" height="4.32" fill="#a5c038"/>
<rect x="44.47" y="22.31" width="4.31" height="4.32" fill="#a5c038"/>
<rect x="48.18" y="22.31" width="4.31" height="4.32" fill="#b09d2f"/>
<rect x="51.89" y="22.31" width="4.31" height="4.32" fill="#9e367e"/>
<rect x="55.59" y="22.31" width="7.71" height="4.32" fill="#983195"/>
<rect x="-4.00" y="26.03" width="8.31" height="4.32" fill="#9e367e"/>
<rect x="3.71" y="26.03" width="4.31" height="4.32" fill="#b27536"/>
<rect x="7.41" y="26.03" width="4.31" height="4.32" fill="#acb030"/>
<rect x="11.12" y="26.03" width="4.31" height="4.32" fill="#5de0aa"/>
<rect x="14.82" y="26.03" width="4.31" height="4.32" fill="#5de0aa"/>
<rect x="18.53" y="26.03" width="4.31" height="4.32" fill="#b09d2f"/>
<rect x="22.24" y="26.03" width="4.31" height="4.32" fill="#b27536"/>
<rect x="25.94" y="26.03" width="4.31" height="4.32" fill="#b0603e"/>
<rect x="29.65" y="26.03" width="4.31" height="4.32" fill="#b27536"/>
<rect x="33.36" y="26.03" width="4.31" height="4.32" fill="#b09d2f"/>
<rect x="37.06" y="26.03" width="4.31" height="4.32" fill="#a5c038"/>
<rect x="40.77" y="26.03" width="4.31" height="4.32" fill="#8cd659"/>
<rect x="44.47" y="26.03" width="4.31" height="4.32" fill="#a5c038"/>
<rect x="48.18" y="26.03" width="4.31" height="4.32" fill="#b0603e"/>
<rect x="51.89" y="26.03" width="4.31" height="4.32" fill="#9e367e"/>
<rect x="55.59" y="26.03" width="7.71" height="4.32" fill="#983195"/>
<rect x="-4.00" y="29.75" width="8.31" height="4.32" fill="#9e367e"/>
<rect x="3.71" y="29.75" width="4.31" height="4.32" fill="#acb030"/>
<rect x="7.41" y="29.75" width="4.31" height="4.32" fill="#50e0c8"/>
<rect x="11.12" y="29.75" width="4.31" height="4.32" fill="#5de0aa"/>
<rect x="14.82" y="29.75" width="4.31" height="4.32" fill="#6be08c"/>
<rect x="18.53" y="29.75" width="4.31" height="4.32" fill="#7bdc71"/>
<rect x="22.24" y="29.75" width="4.31" height="4.32" fill="#9ed040"/>
<rect x="25.94" y="29.75" width="4.31" height="4.32" fill="#b09d2f"/>
<rect x="29.65" y="29.75" width="4.31" height="4.32" fill="#9e367e"/>
<rect x="33.36" y="29.75" width="4.31" height="4.32" fill="#9e367e"/>
<rect x="37.06" y="29.75" width="4.31" height="4.32" fill="#a94e55"/>
<rect x="40.77" y="29.75" width="4.31" height="4.32" fill="#a94e55"/>
<rect x="44.47" y="29.75" width="4.31" height="4.32" fill="#a94e55"/>
<rect x="48.18" y="29.75" width="4.31" height="4.32" fill="#9a3090"/>
<rect x="51.89" y="29.75" width="4.31" height="4.32" fill="#983195"/>
<rect x="55.59" y="29.75" width="7.71" height="4.32" fill="#983195"/>
<rect x="-4.00" y="33.47" width="8.31" height="4.32" fill="#9a3090"/>
<rect x="3.71" y="33.47" width="4.31" height="4.32" fill="#b09d2f"/>
<rect x="7.41" y="33.47" width="4.31" height="4.32" fill="#58e8de"/>
<rect x="11.12" y="33.47" width="4.31" height="4.32" fill="#50e0c8"/>
<rect x="14.82" y="33.47" width="4.31" height="4.32" fill="#5de0aa"/>
<rect x="18.53" y="33.47" width="4.31" height="4.32" fill="#8cd659"/>
<rect x="22.24" y="33.47" width="4.31" height="4.32" fill="#7bdc71"/>
<rect x="25.94" y="33.47" width="4.31" height="4.32" fill="#b09d2f"/>
<rect x="29.65" y="33.47" width="4.31" height="4.32" fill="#9e367e"/>
<rect x="33.36" y="33.47" width="4.31" height="4.32" fill="#9a3090"/>
<rect x="37.06" y="33.47" width="4.31" height="4.32" fill="#983195"/>
<rect x="40.77" y="33.47" width="4.31" height="4.32" fill="#96339b"/>
<rect x="44.47" y="33.47" width="4.31" height="4.32" fill="#96339b"/>
<rect x="48.18" y="33.47" width="4.31" height="4.32" fill="#96339b"/>
<rect x="51.89" y="33.47" width="4.31" height="4.32" fill="#96339b"/>
<rect x="55.59" y="33.47" width="7.71" height="4.32" fill="#96339b"/>
<rect x="-4.00" y="37.19" width="8.31" height="4.32" fill="#9a3090"/>
<rect x="3.71" y="37.19" width="4.31" height="4.32" fill="#b09d2f"/>
<rect x="7.41" y="37.19" width="4.31" height="4.32" fill="#6be08c"/>
<rect x="11.12" y="37.19" width="4.31" height="4.32" fill="#6be08c"/>
<rect x="14.82" y="37.19" width="4.31" height="4.32" fill="#7bdc71"/>
<rect x="18.53" y="37.19" width="4.31" height="4.32" fill="#9ed040"/>
<rect x="22.24" y="37.19" width="4.31" height="4.32" fill="#acb030"/>
<rect x="25.94" y="37.19" width="4.31" height="4.32" fill="#acb030"/>
<rect x="29.65" y="37.19" width="4.31" height="4.32" fill="#a94e55"/>
<rect x="33.36" y="37.19" width="4.31" height="4.32" fill="#9a3090"/>
<rect x="37.06" y="37.19" width="4.31" height="4.32" fill="#96339b"/>
<rect x="40.77" y="37.19" width="4.31" height="4.32" fill="#96339b"/>
<rect x="44.47" y="37.19" width="4.31" height="4.32" fill="#96339b"/>
<rect x="48.18" y="37.19" width="4.31" height="4.32" fill="#96339b"/>
<rect x="51.89" y="37.19" width="4.31" height="4.32" fill="#96339b"/>
<rect x="55.59" y="37.19" width="7.71" height="4.32" fill="#96339b"/>
<rect x="-4.00" y="40.91" width="8.31" height="4.32" fill="#a23c6c"/>
<rect x="3.71" y="40.91" width="4.31" height="4.32" fill="#b0603e"/>
<rect x="7.41" y="40.91" width="4.31" height="4.32" fill="#b48a2e"/>
<rect x="11.12" y="40.91" width="4.31" height="4.32" fill="#a5c038"/>
<rect x="14.82" y="40.91" width="4.31" height="4.32" fill="#7bdc71"/>
<rect x="18.53" y="40.91" width="4.31" height="4.32" fill="#b48a2e"/>
<rect x="22.24" y="40.91" width="4.31" height="4.32" fill="#b0603e"/>
<rect x="25.94" y="40.91" width="4.31" height="4.32" fill="#b27536"/>
<rect x="29.65" y="40.91" width="4.31" height="4.32" fill="#9e367e"/>
<rect x="33.36" y="40.91" width="4.31" height="4.32" fill="#96339b"/>
<rect x="37.06" y="40.91" width="4.31" height="4.32" fill="#96339b"/>
<rect x="40.77" y="40.91" width="4.31" height="4.32" fill="#96339b"/>
<rect x="44.47" y="40.91" width="4.31" height="4.32" fill="#96339b"/>
<rect x="48.18" y="40.91" width="4.31" height="4.32" fill="#96339b"/>
<rect x="51.89" y="40.91" width="4.31" height="4.32" fill="#96339b"/>
<rect x="55.59" y="40.91" width="7.71" height="4.32" fill="#96339b"/>
<rect x="-4.00" y="44.62" width="8.31" height="4.32" fill="#9e367e"/>
<rect x="3.71" y="44.62" width="4.31" height="4.32" fill="#a94e55"/>
<rect x="7.41" y="44.62" width="4.31" height="4.32" fill="#9e367e"/>
<rect x="11.12" y="44.62" width="4.31" height="4.32" fill="#983195"/>
<rect x="14.82" y="44.62" width="4.31" height="4.32" fill="#96339b"/>
<rect x="18.53" y="44.62" width="4.31" height="4.32" fill="#9a3090"/>
<rect x="22.24" y="44.62" width="4.31" height="4.32" fill="#9e367e"/>
<rect x="25.94" y="44.62" width="4.31" height="4.32" fill="#a94e55"/>
<rect x="29.65" y="44.62" width="4.31" height="4.32" fill="#9a3090"/>
<rect x="33.36" y="44.62" width="4.31" height="4.32" fill="#96339b"/>
<rect x="37.06" y="44.62" width="4.31" height="4.32" fill="#96339b"/>
<rect x="40.77" y="44.62" width="4.31" height="4.32" fill="#96339b"/>
<rect x="44.47" y="44.62" width="4.31" height="4.32" fill="#96339b"/>
<rect x="48.18" y="44.62" width="4.31" height="4.32" fill="#96339b"/>
<rect x="51.89" y="44.62" width="4.31" height="4.32" fill="#96339b"/>
<rect x="55.59" y="44.62" width="7.71" height="4.32" fill="#96339b"/>
<rect x="-4.00" y="48.34" width="8.31" height="4.32" fill="#9e367e"/>
<rect x="3.71" y="48.34" width="4.31" height="4.32" fill="#a94e55"/>
<rect x="7.41" y="48.34" width="4.31" height="4.32" fill="#a94e55"/>
<rect x="11.12" y="48.34" width="4.31" height="4.32" fill="#9e367e"/>
<rect x="14.82" y="48.34" width="4.31" height="4.32" fill="#a23c6c"/>
<rect x="18.53" y="48.34" width="4.31" height="4.32" fill="#a23c6c"/>
<rect x="22.24" y="48.34" width="4.31" height="4.32" fill="#9e367e"/>
<rect x="25.94" y="48.34" width="4.31" height="4.32" fill="#96339b"/>
<rect x="29.65" y="48.34" width="4.31" height="4.32" fill="#96339b"/>
<rect x="33.36" y="48.34" width="4.31" height="4.32" fill="#96339b"/>
<rect x="37.06" y="48.34" width="4.31" height="4.32" fill="#96339b"/>
<rect x="40.77" y="48.34" width="4.31" height="4.32" fill="#96339b"/>
<rect x="44.47" y="48.34" width="4.31" height="4.32" fill="#96339b"/>
<rect x="48.18" y="48.34" width="4.31" height="4.32" fill="#96339b"/>
<rect x="51.89" y="48.34" width="4.31" height="4.32" fill="#96339b"/>
<rect x="55.59" y="48.34" width="7.71" height="4.32" fill="#96339b"/>
<rect x="-4.00" y="52.06" width="8.31" height="4.32" fill="#96339b"/>
<rect x="3.71" y="52.06" width="4.31" height="4.32" fill="#96339b"/>
<rect x="7.41" y="52.06" width="4.31" height="4.32" fill="#9a3090"/>
<rect x="11.12" y="52.06" width="4.31" height="4.32" fill="#9e367e"/>
<rect x="14.82" y="52.06" width="4.31" height="4.32" fill="#b0603e"/>
<rect x="18.53" y="52.06" width="4.31" height="4.32" fill="#b0603e"/>
<rect x="22.24" y="52.06" width="4.31" height="4.32" fill="#9e367e"/>
<rect x="25.94" y="52.06" width="4.31" height="4.32" fill="#983195"/>
<rect x="29.65" y="52.06" width="4.31" height="4.32" fill="#96339b"/>
<rect x="33.36" y="52.06" width="4.31" height="4.32" fill="#96339b"/>
<rect x="37.06" y="52.06" width="4.31" height="4.32" fill="#96339b"/>
<rect x="40.77" y="52.06" width="4.31" height="4.32" fill="#96339b"/>
<rect x="44.47" y="52.06" width="4.31" height="4.32" fill="#9a3090"/>
<rect x="48.18" y="52.06" width="4.31" height="4.32" fill="#96339b"/>
<rect x="51.89" y="52.06" width="4.31" height="4.32" fill="#96339b"/>
<rect x="55.59" y="52.06" width="7.71" height="4.32" fill="#96339b"/>
<rect x="-4.00" y="55.78" width="8.31" height="7.72" fill="#96339b"/>
<rect x="3.71" y="55.78" width="4.31" height="7.72" fill="#96339b"/>
<rect x="7.41" y="55.78" width="4.31" height="7.72" fill="#96339b"/>
<rect x="11.12" y="55.78" width="4.31" height="7.72" fill="#9a3090"/>
<rect x="14.82" y="55.78" width="4.31" height="7.72" fill="#a94e55"/>
<rect x="18.53" y="55.78" width="4.31" height="7.72" fill="#9e367e"/>
<rect x="22.24" y="55.78" width="4.31" height="7.72" fill="#9a3090"/>
<rect x="25.94" y="55.78" width="4.31" height="7.72" fill="#983195"/>
<rect x="29.65" y="55.78" width="4.31" height="7.72" fill="#96339b"/>
<rect x="33.36" y="55.78" width="4.31" height="7.72" fill="#96339b"/>
<rect x="37.06" y="55.78" width="4.31" height="7.72" fill="#96339b"/>
<rect x="40.77" y="55.78" width="4.31" height="7.72" fill="#96339b"/>
<rect x="44.47" y="55.78" width="4.31" height="7.72" fill="#96339b"/>
<rect x="48.18" y="55.78" width="4.31" height="7.72" fill="#96339b"/>
<rect x="51.89" y="55.78" width="4.31" height="7.72" fill="#96339b"/>
<rect x="55.59" y="55.78" width="7.71" height="7.72" fill="#96339b"/>
</g>
<g id="hv1">
<rect x="0.00" y="0.00" width="4.31" height="4.32" fill="#355f8d"/>
<rect x="3.71" y="0.00" width="4.31" height="4.32" fill="#21918c"/>
<rect x="7.42" y="0.00" width="4.31" height="4.32" fill="#229c88"/>
<rect x="11.14" y="0.00" width="4.31" height="4.32" fill="#21918c"/>
<rect x="14.85" y="0.00" width="4.31" height="4.32" fill="#229c88"/>
<rect x="18.56" y="0.00" width="4.31" height="4.32" fill="#229c88"/>
<rect x="22.27" y="0.00" width="4.31" height="4.32" fill="#21918c"/>
<rect x="25.99" y="0.00" width="4.31" height="4.32" fill="#21918c"/>
<rect x="29.70" y="0.00" width="4.31" height="4.32" fill="#5fc860"/>
<rect x="33.41" y="0.00" width="4.31" height="4.32" fill="#33b47a"/>
<rect x="37.12" y="0.00" width="4.31" height="4.32" fill="#5fc860"/>
<rect x="40.84" y="0.00" width="4.31" height="4.32" fill="#355f8d"/>
<rect x="44.55" y="0.00" width="4.31" height="4.32" fill="#44347e"/>
<rect x="48.26" y="0.00" width="4.31" height="4.32" fill="#26848d"/>
<rect x="51.98" y="0.00" width="4.31" height="4.32" fill="#229c88"/>
<rect x="55.69" y="0.00" width="3.71" height="4.32" fill="#355f8d"/>
<rect x="0.00" y="3.72" width="4.31" height="4.32" fill="#26848d"/>
<rect x="3.71" y="3.72" width="4.31" height="4.32" fill="#306c8e"/>
<rect x="7.42" y="3.72" width="4.31" height="4.32" fill="#26848d"/>
<rect x="11.14" y="3.72" width="4.31" height="4.32" fill="#21918c"/>
<rect x="14.85" y="3.72" width="4.31" height="4.32" fill="#229c88"/>
<rect x="18.56" y="3.72" width="4.31" height="4.32" fill="#22a884"/>
<rect x="22.27" y="3.72" width="4.31" height="4.32" fill="#414487"/>
<rect x="25.99" y="3.72" width="4.31" height="4.32" fill="#229c88"/>
<rect x="29.70" y="3.72" width="4.31" height="4.32" fill="#bddf26"/>
<rect x="33.41" y="3.72" width="4.31" height="4.32" fill="#bddf26"/>
<rect x="37.12" y="3.72" width="4.31" height="4.32" fill="#21918c"/>
<rect x="40.84" y="3.72" width="4.31" height="4.32" fill="#2a788e"/>
<rect x="44.55" y="3.72" width="4.31" height="4.32" fill="#355f8d"/>
<rect x="48.26" y="3.72" width="4.31" height="4.32" fill="#2a788e"/>
<rect x="51.98" y="3.72" width="4.31" height="4.32" fill="#229c88"/>
<rect x="55.69" y="3.72" width="3.71" height="4.32" fill="#44347e"/>
<rect x="0.00" y="7.44" width="4.31" height="4.32" fill="#229c88"/>
<rect x="3.71" y="7.44" width="4.31" height="4.32" fill="#21918c"/>
<rect x="7.42" y="7.44" width="4.31" height="4.32" fill="#2a788e"/>
<rect x="11.14" y="7.44" width="4.31" height="4.32" fill="#2a788e"/>
<rect x="14.85" y="7.44" width="4.31" height="4.32" fill="#2a788e"/>
<rect x="18.56" y="7.44" width="4.31" height="4.32" fill="#26848d"/>
<rect x="22.27" y="7.44" width="4.31" height="4.32" fill="#3b528a"/>
<rect x="25.99" y="7.44" width="4.31" height="4.32" fill="#26848d"/>
<rect x="29.70" y="7.44" width="4.31" height="4.32" fill="#33b47a"/>
<rect x="33.41" y="7.44" width="4.31" height="4.32" fill="#33b47a"/>
<rect x="37.12" y="7.44" width="4.31" height="4.32" fill="#33b47a"/>
<rect x="40.84" y="7.44" width="4.31" height="4.32" fill="#33b47a"/>
<rect x="44.55" y="7.44" width="4.31" height="4.32" fill="#22a884"/>
<rect x="48.26" y="7.44" width="4.31" height="4.32" fill="#5fc860"/>
<rect x="51.98" y="7.44" width="4.31" height="4.32" fill="#bddf26"/>
<rect x="55.69" y="7.44" width="3.71" height="4.32" fill="#21918c"/>
<rect x="0.00" y="11.16" width="4.31" height="4.32" fill="#2a788e"/>
<rect x="3.71" y="11.16" width="4.31" height="4.32" fill="#2a788e"/>
<rect x="7.42" y="11.16" width="4.31" height="4.32" fill="#414487"/>
<rect x="11.14" y="11.16" width="4.31" height="4.32" fill="#355f8d"/>
<rect x="14.85" y="11.16" width="4.31" height="4.32" fill="#306c8e"/>
<rect x="18.56" y="11.16" width="4.31" height="4.32" fill="#306c8e"/>
<rect x="22.27" y="11.16" width="4.31" height="4.32" fill="#306c8e"/>
<rect x="25.99" y="11.16" width="4.31" height="4.32" fill="#2a788e"/>
<rect x="29.70" y="11.16" width="4.31" height="4.32" fill="#21918c"/>
<rect x="33.41" y="11.16" width="4.31" height="4.32" fill="#21918c"/>
<rect x="37.12" y="11.16" width="4.31" height="4.32" fill="#2a788e"/>
<rect x="40.84" y="11.16" width="4.31" height="4.32" fill="#306c8e"/>
<rect x="44.55" y="11.16" width="4.31" height="4.32" fill="#2a788e"/>
<rect x="48.26" y="11.16" width="4.31" height="4.32" fill="#5fc860"/>
<rect x="51.98" y="11.16" width="4.31" height="4.32" fill="#22a884"/>
<rect x="55.69" y="11.16" width="3.71" height="4.32" fill="#355f8d"/>
<rect x="0.00" y="14.88" width="4.31" height="4.32" fill="#306c8e"/>
<rect x="3.71" y="14.88" width="4.31" height="4.32" fill="#3b528a"/>
<rect x="7.42" y="14.88" width="4.31" height="4.32" fill="#306c8e"/>
<rect x="11.14" y="14.88" width="4.31" height="4.32" fill="#21918c"/>
<rect x="14.85" y="14.88" width="4.31" height="4.32" fill="#bddf26"/>
<rect x="18.56" y="14.88" width="4.31" height="4.32" fill="#21918c"/>
<rect x="22.27" y="14.88" width="4.31" height="4.32" fill="#482475"/>
<rect x="25.99" y="14.88" width="4.31" height="4.32" fill="#482475"/>
<rect x="29.70" y="14.88" width="4.31" height="4.32" fill="#355f8d"/>
<rect x="33.41" y="14.88" width="4.31" height="4.32" fill="#414487"/>
<rect x="37.12" y="14.88" width="4.31" height="4.32" fill="#44347e"/>
<rect x="40.84" y="14.88" width="4.31" height="4.32" fill="#306c8e"/>
<rect x="44.55" y="14.88" width="4.31" height="4.32" fill="#21918c"/>
<rect x="48.26" y="14.88" width="4.31" height="4.32" fill="#229c88"/>
<rect x="51.98" y="14.88" width="4.31" height="4.32" fill="#229c88"/>
<rect x="55.69" y="14.88" width="3.71" height="4.32" fill="#306c8e"/>
<rect x="0.00" y="18.59" width="4.31" height="4.32" fill="#355f8d"/>
<rect x="3.71" y="18.59" width="4.31" height="4.32" fill="#26848d"/>
<rect x="7.42" y="18.59" width="4.31" height="4.32" fill="#2a788e"/>
<rect x="11.14" y="18.59" width="4.31" height="4.32" fill="#21918c"/>
<rect x="14.85" y="18.59" width="4.31" height="4.32" fill="#26848d"/>
<rect x="18.56" y="18.59" width="4.31" height="4.32" fill="#306c8e"/>
<rect x="22.27" y="18.59" width="4.31" height="4.32" fill="#461264"/>
<rect x="25.99" y="18.59" width="4.31" height="4.32" fill="#461264"/>
<rect x="29.70" y="18.59" width="4.31" height="4.32" fill="#482475"/>
<rect x="33.41" y="18.59" width="4.31" height="4.32" fill="#355f8d"/>
<rect x="37.12" y="18.59" width="4.31" height="4.32" fill="#355f8d"/>
<rect x="40.84" y="18.59" width="4.31" height="4.32" fill="#414487"/>
<rect x="44.55" y="18.59" width="4.31" height="4.32" fill="#2a788e"/>
<rect x="48.26" y="18.59" width="4.31" height="4.32" fill="#2a788e"/>
<rect x="51.98" y="18.59" width="4.31" height="4.32" fill="#355f8d"/>
<rect x="55.69" y="18.59" width="3.71" height="4.32" fill="#2a788e"/>
<rect x="0.00" y="22.31" width="4.31" height="4.32" fill="#355f8d"/>
<rect x="3.71" y="22.31" width="4.31" height="4.32" fill="#229c88"/>
<rect x="7.42" y="22.31" width="4.31" height="4.32" fill="#26848d"/>
<rect x="11.14" y="22.31" width="4.31" height="4.32" fill="#26848d"/>
<rect x="14.85" y="22.31" width="4.31" height="4.32" fill="#9bd83c"/>
<rect x="18.56" y="22.31" width="4.31" height="4.32" fill="#229c88"/>
<rect x="22.27" y="22.31" width="4.31" height="4.32" fill="#44347e"/>
<rect x="25.99" y="22.31" width="4.31" height="4.32" fill="#461264"/>
<rect x="29.70" y="22.31" width="4.31" height="4.32" fill="#461264"/>
<rect x="33.41" y="22.31" width="4.31" height="4.32" fill="#414487"/>
<rect x="37.12" y="22.31" width="4.31" height="4.32" fill="#355f8d"/>
<rect x="40.84" y="22.31" width="4.31" height="4.32" fill="#355f8d"/>
<rect x="44.55" y="22.31" width="4.31" height="4.32" fill="#2a788e"/>
<rect x="48.26" y="22.31" width="4.31" height="4.32" fill="#26848d"/>
<rect x="51.98" y="22.31" width="4.31" height="4.32" fill="#306c8e"/>
<rect x="55.69" y="22.31" width="3.71" height="4.32" fill="#26848d"/>
<rect x="0.00" y="26.03" width="4.31" height="4.32" fill="#355f8d"/>
<rect x="3.71" y="26.03" width="4.31" height="4.32" fill="#306c8e"/>
<rect x="7.42" y="26.03" width="4.31" height="4.32" fill="#461264"/>
<rect x="11.14" y="26.03" width="4.31" height="4.32" fill="#461264"/>
<rect x="14.85" y="26.03" width="4.31" height="4.32" fill="#3b528a"/>
<rect x="18.56" y="26.03" width="4.31" height="4.32" fill="#482475"/>
<rect x="22.27" y="26.03" width="4.31" height="4.32" fill="#2a788e"/>
<rect x="25.99" y="26.03" width="4.31" height="4.32" fill="#461264"/>
<rect x="29.70" y="26.03" width="4.31" height="4.32" fill="#461264"/>
<rect x="33.41" y="26.03" width="4.31" height="4.32" fill="#44347e"/>
<rect x="37.12" y="26.03" width="4.31" height="4.32" fill="#355f8d"/>
<rect x="40.84" y="26.03" width="4.31" height="4.32" fill="#26848d"/>
<rect x="44.55" y="26.03" width="4.31" height="4.32" fill="#306c8e"/>
<rect x="48.26" y="26.03" width="4.31" height="4.32" fill="#2a788e"/>
<rect x="51.98" y="26.03" width="4.31" height="4.32" fill="#414487"/>
<rect x="55.69" y="26.03" width="3.71" height="4.32" fill="#355f8d"/>
<rect x="0.00" y="29.75" width="4.31" height="4.32" fill="#355f8d"/>
<rect x="3.71" y="29.75" width="4.31" height="4.32" fill="#21918c"/>
<rect x="7.42" y="29.75" width="4.31" height="4.32" fill="#461264"/>
<rect x="11.14" y="29.75" width="4.31" height="4.32" fill="#461264"/>
<rect x="14.85" y="29.75" width="4.31" height="4.32" fill="#461264"/>
<rect x="18.56" y="29.75" width="4.31" height="4.32" fill="#482475"/>
<rect x="22.27" y="29.75" width="4.31" height="4.32" fill="#44347e"/>
<rect x="25.99" y="29.75" width="4.31" height="4.32" fill="#461264"/>
<rect x="29.70" y="29.75" width="4.31" height="4.32" fill="#461264"/>
<rect x="33.41" y="29.75" width="4.31" height="4.32" fill="#461264"/>
<rect x="37.12" y="29.75" width="4.31" height="4.32" fill="#461264"/>
<rect x="40.84" y="29.75" width="4.31" height="4.32" fill="#3b528a"/>
<rect x="44.55" y="29.75" width="4.31" height="4.32" fill="#3b528a"/>
<rect x="48.26" y="29.75" width="4.31" height="4.32" fill="#44347e"/>
<rect x="51.98" y="29.75" width="4.31" height="4.32" fill="#2a788e"/>
<rect x="55.69" y="29.75" width="3.71" height="4.32" fill="#414487"/>
<rect x="0.00" y="33.47" width="4.31" height="4.32" fill="#355f8d"/>
<rect x="3.71" y="33.47" width="4.31" height="4.32" fill="#26848d"/>
<rect x="7.42" y="33.47" width="4.31" height="4.32" fill="#461264"/>
<rect x="11.14" y="33.47" width="4.31" height="4.32" fill="#461264"/>
<rect x="14.85" y="33.47" width="4.31" height="4.32" fill="#44347e"/>
<rect x="18.56" y="33.47" width="4.31" height="4.32" fill="#3b528a"/>
<rect x="22.27" y="33.47" width="4.31" height="4.32" fill="#306c8e"/>
<rect x="25.99" y="33.47" width="4.31" height="4.32" fill="#306c8e"/>
<rect x="29.70" y="33.47" width="4.31" height="4.32" fill="#306c8e"/>
<rect x="33.41" y="33.47" width="4.31" height="4.32" fill="#44347e"/>
<rect x="37.12" y="33.47" width="4.31" height="4.32" fill="#3b528a"/>
<rect x="40.84" y="33.47" width="4.31" height="4.32" fill="#26848d"/>
<rect x="44.55" y="33.47" width="4.31" height="4.32" fill="#7ad151"/>
<rect x="48.26" y="33.47" width="4.31" height="4.32" fill="#44bf70"/>
<rect x="51.98" y="33.47" width="4.31" height="4.32" fill="#21918c"/>
<rect x="55.69" y="33.47" width="3.71" height="4.32" fill="#44347e"/>
<rect x="0.00" y="37.19" width="4.31" height="4.32" fill="#414487"/>
<rect x="3.71" y="37.19" width="4.31" height="4.32" fill="#355f8d"/>
<rect x="7.42" y="37.19" width="4.31" height="4.32" fill="#26848d"/>
<rect x="11.14" y="37.19" width="4.31" height="4.32" fill="#414487"/>
<rect x="14.85" y="37.19" width="4.31" height="4.32" fill="#22a884"/>
<rect x="18.56" y="37.19" width="4.31" height="4.32" fill="#22a884"/>
<rect x="22.27" y="37.19" width="4.31" height="4.32" fill="#355f8d"/>
<rect x="25.99" y="37.19" width="4.31" height="4.32" fill="#355f8d"/>
<rect x="29.70" y="37.19" width="4.31" height="4.32" fill="#5fc860"/>
<rect x="33.41" y="37.19" width="4.31" height="4.32" fill="#26848d"/>
<rect x="37.12" y="37.19" width="4.31" height="4.32" fill="#306c8e"/>
<rect x="40.84" y="37.19" width="4.31" height="4.32" fill="#461264"/>
<rect x="44.55" y="37.19" width="4.31" height="4.32" fill="#229c88"/>
<rect x="48.26" y="37.19" width="4.31" height="4.32" fill="#21918c"/>
<rect x="51.98" y="37.19" width="4.31" height="4.32" fill="#2a788e"/>
<rect x="55.69" y="37.19" width="3.71" height="4.32" fill="#44347e"/>
<rect x="0.00" y="40.91" width="4.31" height="4.32" fill="#355f8d"/>
<rect x="3.71" y="40.91" width="4.31" height="4.32" fill="#2a788e"/>
<rect x="7.42" y="40.91" width="4.31" height="4.32" fill="#2a788e"/>
<rect x="11.14" y="40.91" width="4.31" height="4.32" fill="#414487"/>
<rect x="14.85" y="40.91" width="4.31" height="4.32" fill="#414487"/>
<rect x="18.56" y="40.91" width="4.31" height="4.32" fill="#3b528a"/>
<rect x="22.27" y="40.91" width="4.31" height="4.32" fill="#482475"/>
<rect x="25.99" y="40.91" width="4.31" height="4.32" fill="#482475"/>
<rect x="29.70" y="40.91" width="4.31" height="4.32" fill="#482475"/>
<rect x="33.41" y="40.91" width="4.31" height="4.32" fill="#414487"/>
<rect x="37.12" y="40.91" width="4.31" height="4.32" fill="#414487"/>
<rect x="40.84" y="40.91" width="4.31" height="4.32" fill="#3b528a"/>
<rect x="44.55" y="40.91" width="4.31" height="4.32" fill="#21918c"/>
<rect x="48.26" y="40.91" width="4.31" height="4.32" fill="#21918c"/>
<rect x="51.98" y="40.91" width="4.31" height="4.32" fill="#33b47a"/>
<rect x="55.69" y="40.91" width="3.71" height="4.32" fill="#355f8d"/>
<rect x="0.00" y="44.62" width="4.31" height="4.32" fill="#26848d"/>
<rect x="3.71" y="44.62" width="4.31" height="4.32" fill="#21918c"/>
<rect x="7.42" y="44.62" width="4.31" height="4.32" fill="#26848d"/>
<rect x="11.14" y="44.62" width="4.31" height="4.32" fill="#355f8d"/>
<rect x="14.85" y="44.62" width="4.31" height="4.32" fill="#355f8d"/>
<rect x="18.56" y="44.62" width="4.31" height="4.32" fill="#229c88"/>
<rect x="22.27" y="44.62" width="4.31" height="4.32" fill="#2a788e"/>
<rect x="25.99" y="44.62" width="4.31" height="4.32" fill="#355f8d"/>
<rect x="29.70" y="44.62" width="4.31" height="4.32" fill="#414487"/>
<rect x="33.41" y="44.62" width="4.31" height="4.32" fill="#44347e"/>
<rect x="37.12" y="44.62" width="4.31" height="4.32" fill="#44347e"/>
<rect x="40.84" y="44.62" width="4.31" height="4.32" fill="#3b528a"/>
<rect x="44.55" y="44.62" width="4.31" height="4.32" fill="#2a788e"/>
<rect x="48.26" y="44.62" width="4.31" height="4.32" fill="#26848d"/>
<rect x="51.98" y="44.62" width="4.31" height="4.32" fill="#22a884"/>
<rect x="55.69" y="44.62" width="3.71" height="4.32" fill="#229c88"/>
<rect x="0.00" y="48.34" width="4.31" height="4.32" fill="#355f8d"/>
<rect x="3.71" y="48.34" width="4.31" height="4.32" fill="#2a788e"/>
<rect x="7.42" y="48.34" width="4.31" height="4.32" fill="#44347e"/>
<rect x="11.14" y="48.34" width="4.31" height="4.32" fill="#461264"/>
<rect x="14.85" y="48.34" width="4.31" height="4.32" fill="#461264"/>
<rect x="18.56" y="48.34" width="4.31" height="4.32" fill="#414487"/>
<rect x="22.27" y="48.34" width="4.31" height="4.32" fill="#44347e"/>
<rect x="25.99" y="48.34" width="4.31" height="4.32" fill="#2a788e"/>
<rect x="29.70" y="48.34" width="4.31" height="4.32" fill="#44347e"/>
<rect x="33.41" y="48.34" width="4.31" height="4.32" fill="#482475"/>
<rect x="37.12" y="48.34" width="4.31" height="4.32" fill="#482475"/>
<rect x="40.84" y="48.34" width="4.31" height="4.32" fill="#461264"/>
<rect x="44.55" y="48.34" width="4.31" height="4.32" fill="#3b528a"/>
<rect x="48.26" y="48.34" width="4.31" height="4.32" fill="#2a788e"/>
<rect x="51.98" y="48.34" width="4.31" height="4.32" fill="#482475"/>
<rect x="55.69" y="48.34" width="3.71" height="4.32" fill="#355f8d"/>
<rect x="0.00" y="52.06" width="4.31" height="4.32" fill="#461264"/>
<rect x="3.71" y="52.06" width="4.31" height="4.32" fill="#461264"/>
<rect x="7.42" y="52.06" width="4.31" height="4.32" fill="#461264"/>
<rect x="11.14" y="52.06" width="4.31" height="4.32" fill="#461264"/>
<rect x="14.85" y="52.06" width="4.31" height="4.32" fill="#461264"/>
<rect x="18.56" y="52.06" width="4.31" height="4.32" fill="#461264"/>
<rect x="22.27" y="52.06" width="4.31" height="4.32" fill="#414487"/>
<rect x="25.99" y="52.06" width="4.31" height="4.32" fill="#2a788e"/>
<rect x="29.70" y="52.06" width="4.31" height="4.32" fill="#461264"/>
<rect x="33.41" y="52.06" width="4.31" height="4.32" fill="#461264"/>
<rect x="37.12" y="52.06" width="4.31" height="4.32" fill="#461264"/>
<rect x="40.84" y="52.06" width="4.31" height="4.32" fill="#414487"/>
<rect x="44.55" y="52.06" width="4.31" height="4.32" fill="#3b528a"/>
<rect x="48.26" y="52.06" width="4.31" height="4.32" fill="#2a788e"/>
<rect x="51.98" y="52.06" width="4.31" height="4.32" fill="#482475"/>
<rect x="55.69" y="52.06" width="3.71" height="4.32" fill="#3b528a"/>
<rect x="0.00" y="55.78" width="4.31" height="3.72" fill="#461264"/>
<rect x="3.71" y="55.78" width="4.31" height="3.72" fill="#414487"/>
<rect x="7.42" y="55.78" width="4.31" height="3.72" fill="#461264"/>
<rect x="11.14" y="55.78" width="4.31" height="3.72" fill="#461264"/>
<rect x="14.85" y="55.78" width="4.31" height="3.72" fill="#461264"/>
<rect x="18.56" y="55.78" width="4.31" height="3.72" fill="#461264"/>
<rect x="22.27" y="55.78" width="4.31" height="3.72" fill="#414487"/>
<rect x="25.99" y="55.78" width="4.31" height="3.72" fill="#2a788e"/>
<rect x="29.70" y="55.78" width="4.31" height="3.72" fill="#461264"/>
<rect x="33.41" y="55.78" width="4.31" height="3.72" fill="#414487"/>
<rect x="37.12" y="55.78" width="4.31" height="3.72" fill="#461264"/>
<rect x="40.84" y="55.78" width="4.31" height="3.72" fill="#355f8d"/>
<rect x="44.55" y="55.78" width="4.31" height="3.72" fill="#44347e"/>
<rect x="48.26" y="55.78" width="4.31" height="3.72" fill="#482475"/>
<rect x="51.98" y="55.78" width="4.31" height="3.72" fill="#482475"/>
<rect x="55.69" y="55.78" width="3.71" height="3.72" fill="#482475"/>
</g>
<g id="hh1" filter="url(#hblur)">
<rect x="-4.00" y="-4.00" width="8.31" height="8.32" fill="#94503a"/>
<rect x="3.71" y="-4.00" width="4.31" height="8.32" fill="#a6a82e"/>
<rect x="7.41" y="-4.00" width="4.31" height="8.32" fill="#a4ba32"/>
<rect x="11.12" y="-4.00" width="4.31" height="8.32" fill="#a6a82e"/>
<rect x="14.82" y="-4.00" width="4.31" height="8.32" fill="#a4ba32"/>
<rect x="18.53" y="-4.00" width="4.31" height="8.32" fill="#a4ba32"/>
<rect x="22.24" y="-4.00" width="4.31" height="8.32" fill="#a6a82e"/>
<rect x="25.94" y="-4.00" width="4.31" height="8.32" fill="#a6a82e"/>
<rect x="29.65" y="-4.00" width="4.31" height="8.32" fill="#98e448"/>
<rect x="33.36" y="-4.00" width="4.31" height="8.32" fill="#9fd43c"/>
<rect x="37.06" y="-4.00" width="4.31" height="8.32" fill="#98e448"/>
<rect x="40.77" y="-4.00" width="4.31" height="8.32" fill="#94503a"/>
<rect x="44.47" y="-4.00" width="4.31" height="8.32" fill="#702751"/>
<rect x="48.18" y="-4.00" width="4.31" height="8.32" fill="#a4912d"/>
<rect x="51.89" y="-4.00" width="4.31" height="8.32" fill="#a4ba32"/>
<rect x="55.59" y="-4.00" width="7.71" height="8.32" fill="#94503a"/>
<rect x="-4.00" y="3.72" width="8.31" height="4.32" fill="#a4912d"/>
<rect x="3.71" y="3.72" width="4.31" height="4.32" fill="#9b6533"/>
<rect x="7.41" y="3.72" width="4.31" height="4.32" fill="#a4912d"/>
<rect x="11.12" y="3.72" width="4.31" height="4.32" fill="#a6a82e"/>
<rect x="14.82" y="3.72" width="4.31" height="4.32" fill="#a4ba32"/>
<rect x="18.53" y="3.72" width="4.31" height="4.32" fill="#a2cc36"/>
<rect x="22.24" y="3.72" width="4.31" height="4.32" fill="#7b324a"/>
<rect x="25.94" y="3.72" width="4.31" height="4.32" fill="#a4ba32"/>
<rect x="29.65" y="3.72" width="4.31" height="4.32" fill="#a4f0bd"/>
<rect x="33.36" y="3.72" width="4.31" height="4.32" fill="#a4f0bd"/>
<rect x="37.06" y="3.72" width="4.31" height="4.32" fill="#a6a82e"/>
<rect x="40.77" y="3.72" width="4.31" height="4.32" fill="#a27a2c"/>
<rect x="44.47" y="3.72" width="4.31" height="4.32" fill="#94503a"/>
<rect x="48.18" y="3.72" width="4.31" height="4.32" fill="#a27a2c"/>
<rect x="51.89" y="3.72" width="4.31" height="4.32" fill="#a4ba32"/>
<rect x="55.59" y="3.72" width="7.71" height="4.32" fill="#702751"/>
<rect x="-4.00" y="7.44" width="8.31" height="4.32" fill="#a4ba32"/>
<rect x="3.71" y="7.44" width="4.31" height="4.32" fill="#a6a82e"/>
<rect x="7.41" y="7.44" width="4.31" height="4.32" fill="#a27a2c"/>
<rect x="11.12" y="7.44" width="4.31" height="4.32" fill="#a27a2c"/>
<rect x="14.82" y="7.44" width="4.31" height="4.32" fill="#a27a2c"/>
<rect x="18.53" y="7.44" width="4.31" height="4.32" fill="#a4912d"/>
<rect x="22.24" y="7.44" width="4.31" height="4.32" fill="#884142"/>
<rect x="25.94" y="7.44" width="4.31" height="4.32" fill="#a4912d"/>
<rect x="29.65" y="7.44" width="4.31" height="4.32" fill="#9fd43c"/>
<rect x="33.36" y="7.44" width="4.31" height="4.32" fill="#9fd43c"/>
<rect x="37.06" y="7.44" width="4.31" height="4.32" fill="#9fd43c"/>
<rect x="40.77" y="7.44" width="4.31" height="4.32" fill="#9fd43c"/>
<rect x="44.47" y="7.44" width="4.31" height="4.32" fill="#a2cc36"/>
<rect x="48.18" y="7.44" width="4.31" height="4.32" fill="#98e448"/>
<rect x="51.89" y="7.44" width="4.31" height="4.32" fill="#a4f0bd"/>
<rect x="55.59" y="7.44" width="7.71" height="4.32" fill="#a6a82e"/>
<rect x="-4.00" y="11.16" width="8.31" height="4.32" fill="#a27a2c"/>
<rect x="3.71" y="11.16" width="4.31" height="4.32" fill="#a27a2c"/>
<rect x="7.41" y="11.16" width="4.31" height="4.32" fill="#7b324a"/>
<rect x="11.12" y="11.16" width="4.31" height="4.32" fill="#94503a"/>
<rect x="14.82" y="11.16" width="4.31" height="4.32" fill="#9b6533"/>
<rect x="18.53" y="11.16" width="4.31" height="4.32" fill="#9b6533"/>
<rect x="22.24" y="11.16" width="4.31" height="4.32" fill="#9b6533"/>
<rect x="25.94" y="11.16" width="4.31" height="4.32" fill="#a27a2c"/>
<rect x="29.65" y="11.16" width="4.31" height="4.32" fill="#a6a82e"/>
<rect x="33.36" y="11.16" width="4.31" height="4.32" fill="#a6a82e"/>
<rect x="37.06" y="11.16" width="4.31" height="4.32" fill="#a27a2c"/>
<rect x="40.77" y="11.16" width="4.31" height="4.32" fill="#9b6533"/>
<rect x="44.47" y="11.16" width="4.31" height="4.32" fill="#a27a2c"/>
<rect x="48.18" y="11.16" width="4.31" height="4.32" fill="#98e448"/>
<rect x="51.89" y="11.16" width="4.31" height="4.32" fill="#a2cc36"/>
<rect x="55.59" y="11.16" width="7.71" height="4.32" fill="#94503a"/>
<rect x="-4.00" y="14.88" width="8.31" height="4.32" fill="#9b6533"/>
<rect x="3.71" y="14.88" width="4.31" height="4.32" fill="#884142"/>
<rect x="7.41" y="14.88" width="4.31" height="4.32" fill="#9b6533"/>
<rect x="11.12" y="14.88" width="4.31" height="4.32" fill="#a6a82e"/>
<rect x="14.82" y="14.88" width="4.31" height="4.32" fill="#a4f0bd"/>
<rect x="18.53" y="14.88" width="4.31" height="4.32" fill="#a6a82e"/>
<rect x="22.24" y="14.88" width="4.31" height="4.32" fill="#652155"/>
<rect x="25.94" y="14.88" width="4.31" height="4.32" fill="#652155"/>
<rect x="29.65" y="14.88" width="4.31" height="4.32" fill="#94503a"/>
<rect x="33.36" y="14.88" width="4.31" height="4.32" fill="#7b324a"/>
<rect x="37.06" y="14.88" width="4.31" height="4.32" fill="#702751"/>
<rect x="40.77" y="14.88" width="4.31" height="4.32" fill="#9b6533"/>
<rect x="44.47" y="14.88" width="4.31" height="4.32" fill="#a6a82e"/>
<rect x="48.18" y="14.88" width="4.31" height="4.32" fill="#a4ba32"/>
<rect x="51.89" y="14.88" width="4.31" height="4.32" fill="#a4ba32"/>
<rect x="55.59" y="14.88" width="7.71" height="4.32" fill="#9b6533"/>
<rect x="-4.00" y="18.59" width="8.31" height="4.32" fill="#94503a"/>
<rect x="3.71" y="18.59" width="4.31" height="4.32" fill="#a4912d"/>
<rect x="7.41" y="18.59" width="4.31" height="4.32" fill="#a27a2c"/>
<rect x="11.12" y="18.59" width="4.31" height="4.32" fill="#a6a82e"/>
<rect x="14.82" y="18.59" width="4.31" height="4.32" fill="#a4912d"/>
<rect x="18.53" y="18.59" width="4.31" height="4.32" fill="#9b6533"/>
<rect x="22.24" y="18.59" width="4.31" height="4.32" fill="#5a1c5a"/>
<rect x="25.94" y="18.59" width="4.31" height="4.32" fill="#5a1c5a"/>
<rect x="29.65" y="18.59" width="4.31" height="4.32" fill="#652155"/>
<rect x="33.36" y="18.59" width="4.31" height="4.32" fill="#94503a"/>
<rect x="37.06" y="18.59" width="4.31" height="4.32" fill="#94503a"/>
<rect x="40.77" y="18.59" width="4.31" height="4.32" fill="#7b324a"/>
<rect x="44.47" y="18.59" width="4.31" height="4.32" fill="#a27a2c"/>
<rect x="48.18" y="18.59" width="4.31" height="4.32" fill="#a27a2c"/>
<rect x="51.89" y="18.59" width="4.31" height="4.32" fill="#94503a"/>
<rect x="55.59" y="18.59" width="7.71" height="4.32" fill="#a27a2c"/>
<rect x="-4.00" y="22.31" width="8.31" height="4.32" fill="#94503a"/>
<rect x="3.71" y="22.31" width="4.31" height="4.32" fill="#a4ba32"/>
<rect x="7.41" y="22.31" width="4.31" height="4.32" fill="#a4912d"/>
<rect x="11.12" y="22.31" width="4.31" height="4.32" fill="#a4912d"/>
<rect x="14.82" y="22.31" width="4.31" height="4.32" fill="#94ec8a"/>
<rect x="18.53" y="22.31" width="4.31" height="4.32" fill="#a4ba32"/>
<rect x="22.24" y="22.31" width="4.31" height="4.32" fill="#702751"/>
<rect x="25.94" y="22.31" width="4.31" height="4.32" fill="#5a1c5a"/>
<rect x="29.65" y="22.31" width="4.31" height="4.32" fill="#5a1c5a"/>
<rect x="33.36" y="22.31" width="4.31" height="4.32" fill="#7b324a"/>
<rect x="37.06" y="22.31" width="4.31" height="4.32" fill="#94503a"/>
<rect x="40.77" y="22.31" width="4.31" height="4.32" fill="#94503a"/>
<rect x="44.47" y="22.31" width="4.31" height="4.32" fill="#a27a2c"/>
<rect x="48.18" y="22.31" width="4.31" height="4.32" fill="#a4912d"/>
<rect x="51.89" y="22.31" width="4.31" height="4.32" fill="#9b6533"/>
<rect x="55.59" y="22.31" width="7.71" height="4.32" fill="#a4912d"/>
<rect x="-4.00" y="26.03" width="8.31" height="4.32" fill="#94503a"/>
<rect x="3.71" y="26.03" width="4.31" height="4.32" fill="#9b6533"/>
<rect x="7.41" y="26.03" width="4.31" height="4.32" fill="#5a1c5a"/>
<rect x="11.12" y="26.03" width="4.31" height="4.32" fill="#5a1c5a"/>
<rect x="14.82" y="26.03" width="4.31" height="4.32" fill="#884142"/>
<rect x="18.53" y="26.03" width="4.31" height="4.32" fill="#652155"/>
<rect x="22.24" y="26.03" width="4.31" height="4.32" fill="#a27a2c"/>
<rect x="25.94" y="26.03" width="4.31" height="4.32" fill="#5a1c5a"/>
<rect x="29.65" y="26.03" width="4.31" height="4.32" fill="#5a1c5a"/>
<rect x="33.36" y="26.03" width="4.31" height="4.32" fill="#702751"/>
<rect x="37.06" y="26.03" width="4.31" height="4.32" fill="#94503a"/>
<rect x="40.77" y="26.03" width="4.31" height="4.32" fill="#a4912d"/>
<rect x="44.47" y="26.03" width="4.31" height="4.32" fill="#9b6533"/>
<rect x="48.18" y="26.03" width="4.31" height="4.32" fill="#a27a2c"/>
<rect x="51.89" y="26.03" width="4.31" height="4.32" fill="#7b324a"/>
<rect x="55.59" y="26.03" width="7.71" height="4.32" fill="#94503a"/>
<rect x="-4.00" y="29.75" width="8.31" height="4.32" fill="#94503a"/>
<rect x="3.71" y="29.75" width="4.31" height="4.32" fill="#a6a82e"/>
<rect x="7.41" y="29.75" width="4.31" height="4.32" fill="#5a1c5a"/>
<rect x="11.12" y="29.75" width="4.31" height="4.32" fill="#5a1c5a"/>
<rect x="14.82" y="29.75" width="4.31" height="4.32" fill="#5a1c5a"/>
<rect x="18.53" y="29.75" width="4.31" height="4.32" fill="#652155"/>
<rect x="22.24" y="29.75" width="4.31" height="4.32" fill="#702751"/>
<rect x="25.94" y="29.75" width="4.31" height="4.32" fill="#5a1c5a"/>
<rect x="29.65" y="29.75" width="4.31" height="4.32" fill="#5a1c5a"/>
<rect x="33.36" y="29.75" width="4.31" height="4.32" fill="#5a1c5a"/>
<rect x="37.06" y="29.75" width="4.31" height="4.32" fill="#5a1c5a"/>
<rect x="40.77" y="29.75" width="4.31" height="4.32" fill="#884142"/>
<rect x="44.47" y="29.75" width="4.31" height="4.32" fill="#884142"/>
<rect x="48.18" y="29.75" width="4.31" height="4.32" fill="#702751"/>
<rect x="51.89" y="29.75" width="4.31" height="4.32" fill="#a27a2c"/>
<rect x="55.59" y="29.75" width="7.71" height="4.32" fill="#7b324a"/>
<rect x="-4.00" y="33.47" width="8.31" height="4.32" fill="#94503a"/>
<rect x="3.71" y="33.47" width="4.31" height="4.32" fill="#a4912d"/>
<rect x="7.41" y="33.47" width="4.31" height="4.32" fill="#5a1c5a"/>
<rect x="11.12" y="33.47" width="4.31" height="4.32" fill="#5a1c5a"/>
<rect x="14.82" y="33.47" width="4.31" height="4.32" fill="#702751"/>
<rect x="18.53" y="33.47" width="4.31" height="4.32" fill="#884142"/>
<rect x="22.24" y="33.47" width="4.31" height="4.32" fill="#9b6533"/>
<rect x="25.94" y="33.47" width="4.31" height="4.32" fill="#9b6533"/>
<rect x="29.65" y="33.47" width="4.31" height="4.32" fill="#9b6533"/>
<rect x="33.36" y="33.47" width="4.31" height="4.32" fill="#702751"/>
<rect x="37.06" y="33.47" width="4.31" height="4.32" fill="#884142"/>
<rect x="40.77" y="33.47" width="4.31" height="4.32" fill="#a4912d"/>
<rect x="44.47" y="33.47" width="4.31" height="4.32" fill="#96e869"/>
<rect x="48.18" y="33.47" width="4.31" height="4.32" fill="#9bdc42"/>
<rect x="51.89" y="33.47" width="4.31" height="4.32" fill="#a6a82e"/>
<rect x="55.59" y="33.47" width="7.71" height="4.32" fill="#702751"/>
<rect x="-4.00" y="37.19" width="8.31" height="4.32" fill="#7b324a"/>
<rect x="3.71" y="37.19" width="4.31" height="4.32" fill="#94503a"/>
<rect x="7.41" y="37.19" width="4.31" height="4.32" fill="#a4912d"/>
<rect x="11.12" y="37.19" width="4.31" height="4.32" fill="#7b324a"/>
<rect x="14.82" y="37.19" width="4.31" height="4.32" fill="#a2cc36"/>
<rect x="18.53" y="37.19" width="4.31" height="4.32" fill="#a2cc36"/>
<rect x="22.24" y="37.19" width="4.31" height="4.32" fill="#94503a"/>
<rect x="25.94" y="37.19" width="4.31" height="4.32" fill="#94503a"/>
<rect x="29.65" y="37.19" width="4.31" height="4.32" fill="#98e448"/>
<rect x="33.36" y="37.19" width="4.31" height="4.32" fill="#a4912d"/>
<rect x="37.06" y="37.19" width="4.31" height="4.32" fill="#9b6533"/>
<rect x="40.77" y="37.19" width="4.31" height="4.32" fill="#5a1c5a"/>
<rect x="44.47" y="37.19" width="4.31" height="4.32" fill="#a4ba32"/>
<rect x="48.18" y="37.19" width="4.31" height="4.32" fill="#a6a82e"/>
<rect x="51.89" y="37.19" width="4.31" height="4.32" fill="#a27a2c"/>
<rect x="55.59" y="37.19" width="7.71" height="4.32" fill="#702751"/>
<rect x="-4.00" y="40.91" width="8.31" height="4.32" fill="#94503a"/>
<rect x="3.71" y="40.91" width="4.31" height="4.32" fill="#a27a2c"/>
<rect x="7.41" y="40.91" width="4.31" height="4.32" fill="#a27a2c"/>
<rect x="11.12" y="40.91" width="4.31" height="4.32" fill="#7b324a"/>
<rect x="14.82" y="40.91" width="4.31" height="4.32" fill="#7b324a"/>
<rect x="18.53" y="40.91" width="4.31" height="4.32" fill="#884142"/>
<rect x="22.24" y="40.91" width="4.31" height="4.32" fill="#652155"/>
<rect x="25.94" y="40.91" width="4.31" height="4.32" fill="#652155"/>
<rect x="29.65" y="40.91" width="4.31" height="4.32" fill="#652155"/>
<rect x="33.36" y="40.91" width="4.31" height="4.32" fill="#7b324a"/>
<rect x="37.06" y="40.91" width="4.31" height="4.32" fill="#7b324a"/>
<rect x="40.77" y="40.91" width="4.31" height="4.32" fill="#884142"/>
<rect x="44.47" y="40.91" width="4.31" height="4.32" fill="#a6a82e"/>
<rect x="48.18" y="40.91" width="4.31" height="4.32" fill="#a6a82e"/>
<rect x="51.89" y="40.91" width="4.31" height="4.32" fill="#9fd43c"/>
<rect x="55.59" y="40.91" width="7.71" height="4.32" fill="#94503a"/>
<rect x="-4.00" y="44.62" width="8.31" height="4.32" fill="#a4912d"/>
<rect x="3.71" y="44.62" width="4.31" height="4.32" fill="#a6a82e"/>
<rect x="7.41" y="44.62" width="4.31" height="4.32" fill="#a4912d"/>
<rect x="11.12" y="44.62" width="4.31" height="4.32" fill="#94503a"/>
<rect x="14.82" y="44.62" width="4.31" height="4.32" fill="#94503a"/>
<rect x="18.53" y="44.62" width="4.31" height="4.32" fill="#a4ba32"/>
<rect x="22.24" y="44.62" width="4.31" height="4.32" fill="#a27a2c"/>
<rect x="25.94" y="44.62" width="4.31" height="4.32" fill="#94503a"/>
<rect x="29.65" y="44.62" width="4.31" height="4.32" fill="#7b324a"/>
<rect x="33.36" y="44.62" width="4.31" height="4.32" fill="#702751"/>
<rect x="37.06" y="44.62" width="4.31" height="4.32" fill="#702751"/>
<rect x="40.77" y="44.62" width="4.31" height="4.32" fill="#884142"/>
<rect x="44.47" y="44.62" width="4.31" height="4.32" fill="#a27a2c"/>
<rect x="48.18" y="44.62" width="4.31" height="4.32" fill="#a4912d"/>
<rect x="51.89" y="44.62" width="4.31" height="4.32" fill="#a2cc36"/>
<rect x="55.59" y="44.62" width="7.71" height="4.32" fill="#a4ba32"/>
<rect x="-4.00" y="48.34" width="8.31" height="4.32" fill="#94503a"/>
<rect x="3.71" y="48.34" width="4.31" height="4.32" fill="#a27a2c"/>
<rect x="7.41" y="48.34" width="4.31" height="4.32" fill="#702751"/>
<rect x="11.12" y="48.34" width="4.31" height="4.32" fill="#5a1c5a"/>
<rect x="14.82" y="48.34" width="4.31" height="4.32" fill="#5a1c5a"/>
<rect x="18.53" y="48.34" width="4.31" height="4.32" fill="#7b324a"/>
<rect x="22.24" y="48.34" width="4.31" height="4.32" fill="#702751"/>
<rect x="25.94" y="48.34" width="4.31" height="4.32" fill="#a27a2c"/>
<rect x="29.65" y="48.34" width="4.31" height="4.32" fill="#702751"/>
<rect x="33.36" y="48.34" width="4.31" height="4.32" fill="#652155"/>
<rect x="37.06" y="48.34" width="4.31" height="4.32" fill="#652155"/>
<rect x="40.77" y="48.34" width="4.31" height="4.32" fill="#5a1c5a"/>
<rect x="44.47" y="48.34" width="4.31" height="4.32" fill="#884142"/>
<rect x="48.18" y="48.34" width="4.31" height="4.32" fill="#a27a2c"/>
<rect x="51.89" y="48.34" width="4.31" height="4.32" fill="#652155"/>
<rect x="55.59" y="48.34" width="7.71" height="4.32" fill="#94503a"/>
<rect x="-4.00" y="52.06" width="8.31" height="4.32" fill="#5a1c5a"/>
<rect x="3.71" y="52.06" width="4.31" height="4.32" fill="#5a1c5a"/>
<rect x="7.41" y="52.06" width="4.31" height="4.32" fill="#5a1c5a"/>
<rect x="11.12" y="52.06" width="4.31" height="4.32" fill="#5a1c5a"/>
<rect x="14.82" y="52.06" width="4.31" height="4.32" fill="#5a1c5a"/>
<rect x="18.53" y="52.06" width="4.31" height="4.32" fill="#5a1c5a"/>
<rect x="22.24" y="52.06" width="4.31" height="4.32" fill="#7b324a"/>
<rect x="25.94" y="52.06" width="4.31" height="4.32" fill="#a27a2c"/>
<rect x="29.65" y="52.06" width="4.31" height="4.32" fill="#5a1c5a"/>
<rect x="33.36" y="52.06" width="4.31" height="4.32" fill="#5a1c5a"/>
<rect x="37.06" y="52.06" width="4.31" height="4.32" fill="#5a1c5a"/>
<rect x="40.77" y="52.06" width="4.31" height="4.32" fill="#7b324a"/>
<rect x="44.47" y="52.06" width="4.31" height="4.32" fill="#884142"/>
<rect x="48.18" y="52.06" width="4.31" height="4.32" fill="#a27a2c"/>
<rect x="51.89" y="52.06" width="4.31" height="4.32" fill="#652155"/>
<rect x="55.59" y="52.06" width="7.71" height="4.32" fill="#884142"/>
<rect x="-4.00" y="55.78" width="8.31" height="7.72" fill="#5a1c5a"/>
<rect x="3.71" y="55.78" width="4.31" height="7.72" fill="#7b324a"/>
<rect x="7.41" y="55.78" width="4.31" height="7.72" fill="#5a1c5a"/>
<rect x="11.12" y="55.78" width="4.31" height="7.72" fill="#5a1c5a"/>
<rect x="14.82" y="55.78" width="4.31" height="7.72" fill="#5a1c5a"/>
<rect x="18.53" y="55.78" width="4.31" height="7.72" fill="#5a1c5a"/>
<rect x="22.24" y="55.78" width="4.31" height="7.72" fill="#7b324a"/>
<rect x="25.94" y="55.78" width="4.31" height="7.72" fill="#a27a2c"/>
<rect x="29.65" y="55.78" width="4.31" height="7.72" fill="#5a1c5a"/>
<rect x="33.36" y="55.78" width="4.31" height="7.72" fill="#7b324a"/>
<rect x="37.06" y="55.78" width="4.31" height="7.72" fill="#5a1c5a"/>
<rect x="40.77" y="55.78" width="4.31" height="7.72" fill="#94503a"/>
<rect x="44.47" y="55.78" width="4.31" height="7.72" fill="#702751"/>
<rect x="48.18" y="55.78" width="4.31" height="7.72" fill="#652155"/>
<rect x="51.89" y="55.78" width="4.31" height="7.72" fill="#652155"/>
<rect x="55.59" y="55.78" width="7.71" height="7.72" fill="#652155"/>
</g>
<g id="ho1" filter="url(#hblur)">
<rect x="-4.00" y="-4.00" width="8.31" height="8.32" fill="#b0603e"/>
<rect x="3.71" y="-4.00" width="4.31" height="8.32" fill="#acb030"/>
<rect x="7.41" y="-4.00" width="4.31" height="8.32" fill="#a5c038"/>
<rect x="11.12" y="-4.00" width="4.31" height="8.32" fill="#acb030"/>
<rect x="14.82" y="-4.00" width="4.31" height="8.32" fill="#a5c038"/>
<rect x="18.53" y="-4.00" width="4.31" height="8.32" fill="#a5c038"/>
<rect x="22.24" y="-4.00" width="4.31" height="8.32" fill="#acb030"/>
<rect x="25.94" y="-4.00" width="4.31" height="8.32" fill="#acb030"/>
<rect x="29.65" y="-4.00" width="4.31" height="8.32" fill="#6be08c"/>
<rect x="33.36" y="-4.00" width="4.31" height="8.32" fill="#8cd659"/>
<rect x="37.06" y="-4.00" width="4.31" height="8.32" fill="#6be08c"/>
<rect x="40.77" y="-4.00" width="4.31" height="8.32" fill="#b0603e"/>
<rect x="44.47" y="-4.00" width="4.31" height="8.32" fill="#9e367e"/>
<rect x="48.18" y="-4.00" width="4.31" height="8.32" fill="#b09d2f"/>
<rect x="51.89" y="-4.00" width="4.31" height="8.32" fill="#a5c038"/>
<rect x="55.59" y="-4.00" width="7.71" height="8.32" fill="#b0603e"/>
<rect x="-4.00" y="3.72" width="8.31" height="4.32" fill="#b09d2f"/>
<rect x="3.71" y="3.72" width="4.31" height="4.32" fill="#b27536"/>
<rect x="7.41" y="3.72" width="4.31" height="4.32" fill="#b09d2f"/>
<rect x="11.12" y="3.72" width="4.31" height="4.32" fill="#acb030"/>
<rect x="14.82" y="3.72" width="4.31" height="4.32" fill="#a5c038"/>
<rect x="18.53" y="3.72" width="4.31" height="4.32" fill="#9ed040"/>
<rect x="22.24" y="3.72" width="4.31" height="4.32" fill="#a23c6c"/>
<rect x="25.94" y="3.72" width="4.31" height="4.32" fill="#a5c038"/>
<rect x="29.65" y="3.72" width="4.31" height="4.32" fill="#58e8de"/>
<rect x="33.36" y="3.72" width="4.31" height="4.32" fill="#58e8de"/>
<rect x="37.06" y="3.72" width="4.31" height="4.32" fill="#acb030"/>
<rect x="40.77" y="3.72" width="4.31" height="4.32" fill="#b48a2e"/>
<rect x="44.47" y="3.72" width="4.31" height="4.32" fill="#b0603e"/>
<rect x="48.18" y="3.72" width="4.31" height="4.32" fill="#b48a2e"/>
<rect x="51.89" y="3.72" width="4.31" height="4.32" fill="#a5c038"/>
<rect x="55.59" y="3.72" width="7.71" height="4.32" fill="#9e367e"/>
<rect x="-4.00" y="7.44" width="8.31" height="4.32" fill="#a5c038"/>
<rect x="3.71" y="7.44" width="4.31" height="4.32" fill="#acb030"/>
<rect x="7.41" y="7.44" width="4.31" height="4.32" fill="#b48a2e"/>
<rect x="11.12" y="7.44" width="4.31" height="4.32" fill="#b48a2e"/>
<rect x="14.82" y="7.44" width="4.31" height="4.32" fill="#b48a2e"/>
<rect x="18.53" y="7.44" width="4.31" height="4.32" fill="#b09d2f"/>
<rect x="22.24" y="7.44" width="4.31" height="4.32" fill="#a94e55"/>
<rect x="25.94" y="7.44" width="4.31" height="4.32" fill="#b09d2f"/>
<rect x="29.65" y="7.44" width="4.31" height="4.32" fill="#8cd659"/>
<rect x="33.36" y="7.44" width="4.31" height="4.32" fill="#8cd659"/>
<rect x="37.06" y="7.44" width="4.31" height="4.32" fill="#8cd659"/>
<rect x="40.77" y="7.44" width="4.31" height="4.32" fill="#8cd659"/>
<rect x="44.47" y="7.44" width="4.31" height="4.32" fill="#9ed040"/>
<rect x="48.18" y="7.44" width="4.31" height="4.32" fill="#6be08c"/>
<rect x="51.89" y="7.44" width="4.31" height="4.32" fill="#58e8de"/>
<rect x="55.59" y="7.44" width="7.71" height="4.32" fill="#acb030"/>
<rect x="-4.00" y="11.16" width="8.31" height="4.32" fill="#b48a2e"/>
<rect x="3.71" y="11.16" width="4.31" height="4.32" fill="#b48a2e"/>
<rect x="7.41" y="11.16" width="4.31" height="4.32" fill="#a23c6c"/>
<rect x="11.12" y="11.16" width="4.31" height="4.32" fill="#b0603e"/>
<rect x="14.82" y="11.16" width="4.31" height="4.32" fill="#b27536"/>
<rect x="18.53" y="11.16" width="4.31" height="4.32" fill="#b27536"/>
<rect x="22.24" y="11.16" width="4.31" height="4.32" fill="#b27536"/>
<rect x="25.94" y="11.16" width="4.31" height="4.32" fill="#b48a2e"/>
<rect x="29.65" y="11.16" width="4.31" height="4.32" fill="#acb030"/>
<rect x="33.36" y="11.16" width="4.31" height="4.32" fill="#acb030"/>
<rect x="37.06" y="11.16" width="4.31" height="4.32" fill="#b48a2e"/>
<rect x="40.77" y="11.16" width="4.31" height="4.32" fill="#b27536"/>
<rect x="44.47" y="11.16" width="4.31" height="4.32" fill="#b48a2e"/>
<rect x="48.18" y="11.16" width="4.31" height="4.32" fill="#6be08c"/>
<rect x="51.89" y="11.16" width="4.31" height="4.32" fill="#9ed040"/>
<rect x="55.59" y="11.16" width="7.71" height="4.32" fill="#b0603e"/>
<rect x="-4.00" y="14.88" width="8.31" height="4.32" fill="#b27536"/>
<rect x="3.71" y="14.88" width="4.31" height="4.32" fill="#a94e55"/>
<rect x="7.41" y="14.88" width="4.31" height="4.32" fill="#b27536"/>
<rect x="11.12" y="14.88" width="4.31" height="4.32" fill="#acb030"/>
<rect x="14.82" y="14.88" width="4.31" height="4.32" fill="#58e8de"/>
<rect x="18.53" y="14.88" width="4.31" height="4.32" fill="#acb030"/>
<rect x="22.24" y="14.88" width="4.31" height="4.32" fill="#9a3090"/>
<rect x="25.94" y="14.88" width="4.31" height="4.32" fill="#9a3090"/>
<rect x="29.65" y="14.88" width="4.31" height="4.32" fill="#b0603e"/>
<rect x="33.36" y="14.88" width="4.31" height="4.32" fill="#a23c6c"/>
<rect x="37.06" y="14.88" width="4.31" height="4.32" fill="#9e367e"/>
<rect x="40.77" y="14.88" width="4.31" height="4.32" fill="#b27536"/>
<rect x="44.47" y="14.88" width="4.31" height="4.32" fill="#acb030"/>
<rect x="48.18" y="14.88" width="4.31" height="4.32" fill="#a5c038"/>
<rect x="51.89" y="14.88" width="4.31" height="4.32" fill="#a5c038"/>
<rect x="55.59" y="14.88" width="7.71" height="4.32" fill="#b27536"/>
<rect x="-4.00" y="18.59" width="8.31" height="4.32" fill="#b0603e"/>
<rect x="3.71" y="18.59" width="4.31" height="4.32" fill="#b09d2f"/>
<rect x="7.41" y="18.59" width="4.31" height="4.32" fill="#b48a2e"/>
<rect x="11.12" y="18.59" width="4.31" height="4.32" fill="#acb030"/>
<rect x="14.82" y="18.59" width="4.31" height="4.32" fill="#b09d2f"/>
<rect x="18.53" y="18.59" width="4.31" height="4.32" fill="#b27536"/>
<rect x="22.24" y="18.59" width="4.31" height="4.32" fill="#983195"/>
<rect x="25.94" y="18.59" width="4.31" height="4.32" fill="#983195"/>
<rect x="29.65" y="18.59" width="4.31" height="4.32" fill="#9a3090"/>
<rect x="33.36" y="18.59" width="4.31" height="4.32" fill="#b0603e"/>
<rect x="37.06" y="18.59" width="4.31" height="4.32" fill="#b0603e"/>
<rect x="40.77" y="18.59" width="4.31" height="4.32" fill="#a23c6c"/>
<rect x="44.47" y="18.59" width="4.31" height="4.32" fill="#b48a2e"/>
<rect x="48.18" y="18.59" width="4.31" height="4.32" fill="#b48a2e"/>
<rect x="51.89" y="18.59" width="4.31" height="4.32" fill="#b0603e"/>
<rect x="55.59" y="18.59" width="7.71" height="4.32" fill="#b48a2e"/>
<rect x="-4.00" y="22.31" width="8.31" height="4.32" fill="#b0603e"/>
<rect x="3.71" y="22.31" width="4.31" height="4.32" fill="#a5c038"/>
<rect x="7.41" y="22.31" width="4.31" height="4.32" fill="#b09d2f"/>
<rect x="11.12" y="22.31" width="4.31" height="4.32" fill="#b09d2f"/>
<rect x="14.82" y="22.31" width="4.31" height="4.32" fill="#50e0c8"/>
<rect x="18.53" y="22.31" width="4.31" height="4.32" fill="#a5c038"/>
<rect x="22.24" y="22.31" width="4.31" height="4.32" fill="#9e367e"/>
<rect x="25.94" y="22.31" width="4.31" height="4.32" fill="#983195"/>
<rect x="29.65" y="22.31" width="4.31" height="4.32" fill="#983195"/>
<rect x="33.36" y="22.31" width="4.31" height="4.32" fill="#a23c6c"/>
<rect x="37.06" y="22.31" width="4.31" height="4.32" fill="#b0603e"/>
<rect x="40.77" y="22.31" width="4.31" height="4.32" fill="#b0603e"/>
<rect x="44.47" y="22.31" width="4.31" height="4.32" fill="#b48a2e"/>
<rect x="48.18" y="22.31" width="4.31" height="4.32" fill="#b09d2f"/>
<rect x="51.89" y="22.31" width="4.31" height="4.32" fill="#b27536"/>
<rect x="55.59" y="22.31" width="7.71" height="4.32" fill="#b09d2f"/>
<rect x="-4.00" y="26.03" width="8.31" height="4.32" fill="#b0603e"/>
<rect x="3.71" y="26.03" width="4.31" height="4.32" fill="#b27536"/>
<rect x="7.41" y="26.03" width="4.31" height="4.32" fill="#983195"/>
<rect x="11.12" y="26.03" width="4.31" height="4.32" fill="#983195"/>
<rect x="14.82" y="26.03" width="4.31" height="4.32" fill="#a94e55"/>
<rect x="18.53" y="26.03" width="4.31" height="4.32" fill="#9a3090"/>
<rect x="22.24" y="26.03" width="4.31" height="4.32" fill="#b48a2e"/>
<rect x="25.94" y="26.03" width="4.31" height="4.32" fill="#983195"/>
<rect x="29.65" y="26.03" width="4.31" height="4.32" fill="#983195"/>
<rect x="33.36" y="26.03" width="4.31" height="4.32" fill="#9e367e"/>
<rect x="37.06" y="26.03" width="4.31" height="4.32" fill="#b0603e"/>
<rect x="40.77" y="26.03" width="4.31" height="4.32" fill="#b09d2f"/>
<rect x="44.47" y="26.03" width="4.31" height="4.32" fill="#b27536"/>
<rect x="48.18" y="26.03" width="4.31" height="4.32" fill="#b48a2e"/>
<rect x="51.89" y="26.03" width="4.31" height="4.32" fill="#a23c6c"/>
<rect x="55.59" y="26.03" width="7.71" height="4.32" fill="#b0603e"/>
<rect x="-4.00" y="29.75" width="8.31" height="4.32" fill="#b0603e"/>
<rect x="3.71" y="29.75" width="4.31" height="4.32" fill="#acb030"/>
<rect x="7.41" y="29.75" width="4.31" height="4.32" fill="#983195"/>
<rect x="11.12" y="29.75" width="4.31" height="4.32" fill="#983195"/>
<rect x="14.82" y="29.75" width="4.31" height="4.32" fill="#983195"/>
<rect x="18.53" y="29.75" width="4.31" height="4.32" fill="#9a3090"/>
<rect x="22.24" y="29.75" width="4.31" height="4.32" fill="#9e367e"/>
<rect x="25.94" y="29.75" width="4.31" height="4.32" fill="#983195"/>
<rect x="29.65" y="29.75" width="4.31" height="4.32" fill="#983195"/>
<rect x="33.36" y="29.75" width="4.31" height="4.32" fill="#983195"/>
<rect x="37.06" y="29.75" width="4.31" height="4.32" fill="#983195"/>
<rect x="40.77" y="29.75" width="4.31" height="4.32" fill="#a94e55"/>
<rect x="44.47" y="29.75" width="4.31" height="4.32" fill="#a94e55"/>
<rect x="48.18" y="29.75" width="4.31" height="4.32" fill="#9e367e"/>
<rect x="51.89" y="29.75" width="4.31" height="4.32" fill="#b48a2e"/>
<rect x="55.59" y="29.75" width="7.71" height="4.32" fill="#a23c6c"/>
<rect x="-4.00" y="33.47" width="8.31" height="4.32" fill="#b0603e"/>
<rect x="3.71" y="33.47" width="4.31" height="4.32" fill="#b09d2f"/>
<rect x="7.41" y="33.47" width="4.31" height="4.32" fill="#983195"/>
<rect x="11.12" y="33.47" width="4.31" height="4.32" fill="#983195"/>
<rect x="14.82" y="33.47" width="4.31" height="4.32" fill="#9e367e"/>
<rect x="18.53" y="33.47" width="4.31" height="4.32" fill="#a94e55"/>
<rect x="22.24" y="33.47" width="4.31" height="4.32" fill="#b27536"/>
<rect x="25.94" y="33.47" width="4.31" height="4.32" fill="#b27536"/>
<rect x="29.65" y="33.47" width="4.31" height="4.32" fill="#b27536"/>
<rect x="33.36" y="33.47" width="4.31" height="4.32" fill="#9e367e"/>
<rect x="37.06" y="33.47" width="4.31" height="4.32" fill="#a94e55"/>
<rect x="40.77" y="33.47" width="4.31" height="4.32" fill="#b09d2f"/>
<rect x="44.47" y="33.47" width="4.31" height="4.32" fill="#5de0aa"/>
<rect x="48.18" y="33.47" width="4.31" height="4.32" fill="#7bdc71"/>
<rect x="51.89" y="33.47" width="4.31" height="4.32" fill="#acb030"/>
<rect x="55.59" y="33.47" width="7.71" height="4.32" fill="#9e367e"/>
<rect x="-4.00" y="37.19" width="8.31" height="4.32" fill="#a23c6c"/>
<rect x="3.71" y="37.19" width="4.31" height="4.32" fill="#b0603e"/>
<rect x="7.41" y="37.19" width="4.31" height="4.32" fill="#b09d2f"/>
<rect x="11.12" y="37.19" width="4.31" height="4.32" fill="#a23c6c"/>
<rect x="14.82" y="37.19" width="4.31" height="4.32" fill="#9ed040"/>
<rect x="18.53" y="37.19" width="4.31" height="4.32" fill="#9ed040"/>
<rect x="22.24" y="37.19" width="4.31" height="4.32" fill="#b0603e"/>
<rect x="25.94" y="37.19" width="4.31" height="4.32" fill="#b0603e"/>
<rect x="29.65" y="37.19" width="4.31" height="4.32" fill="#6be08c"/>
<rect x="33.36" y="37.19" width="4.31" height="4.32" fill="#b09d2f"/>
<rect x="37.06" y="37.19" width="4.31" height="4.32" fill="#b27536"/>
<rect x="40.77" y="37.19" width="4.31" height="4.32" fill="#983195"/>
<rect x="44.47" y="37.19" width="4.31" height="4.32" fill="#a5c038"/>
<rect x="48.18" y="37.19" width="4.31" height="4.32" fill="#acb030"/>
<rect x="51.89" y="37.19" width="4.31" height="4.32" fill="#b48a2e"/>
<rect x="55.59" y="37.19" width="7.71" height="4.32" fill="#9e367e"/>
<rect x="-4.00" y="40.91" width="8.31" height="4.32" fill="#b0603e"/>
<rect x="3.71" y="40.91" width="4.31" height="4.32" fill="#b48a2e"/>
<rect x="7.41" y="40.91" width="4.31" height="4.32" fill="#b48a2e"/>
<rect x="11.12" y="40.91" width="4.31" height="4.32" fill="#a23c6c"/>
<rect x="14.82" y="40.91" width="4.31" height="4.32" fill="#a23c6c"/>
<rect x="18.53" y="40.91" width="4.31" height="4.32" fill="#a94e55"/>
<rect x="22.24" y="40.91" width="4.31" height="4.32" fill="#9a3090"/>
<rect x="25.94" y="40.91" width="4.31" height="4.32" fill="#9a3090"/>
<rect x="29.65" y="40.91" width="4.31" height="4.32" fill="#9a3090"/>
<rect x="33.36" y="40.91" width="4.31" height="4.32" fill="#a23c6c"/>
<rect x="37.06" y="40.91" width="4.31" height="4.32" fill="#a23c6c"/>
<rect x="40.77" y="40.91" width="4.31" height="4.32" fill="#a94e55"/>
<rect x="44.47" y="40.91" width="4.31" height="4.32" fill="#acb030"/>
<rect x="48.18" y="40.91" width="4.31" height="4.32" fill="#acb030"/>
<rect x="51.89" y="40.91" width="4.31" height="4.32" fill="#8cd659"/>
<rect x="55.59" y="40.91" width="7.71" height="4.32" fill="#b0603e"/>
<rect x="-4.00" y="44.62" width="8.31" height="4.32" fill="#b09d2f"/>
<rect x="3.71" y="44.62" width="4.31" height="4.32" fill="#acb030"/>
<rect x="7.41" y="44.62" width="4.31" height="4.32" fill="#b09d2f"/>
<rect x="11.12" y="44.62" width="4.31" height="4.32" fill="#b0603e"/>
<rect x="14.82" y="44.62" width="4.31" height="4.32" fill="#b0603e"/>
<rect x="18.53" y="44.62" width="4.31" height="4.32" fill="#a5c038"/>
<rect x="22.24" y="44.62" width="4.31" height="4.32" fill="#b48a2e"/>
<rect x="25.94" y="44.62" width="4.31" height="4.32" fill="#b0603e"/>
<rect x="29.65" y="44.62" width="4.31" height="4.32" fill="#a23c6c"/>
<rect x="33.36" y="44.62" width="4.31" height="4.32" fill="#9e367e"/>
<rect x="37.06" y="44.62" width="4.31" height="4.32" fill="#9e367e"/>
<rect x="40.77" y="44.62" width="4.31" height="4.32" fill="#a94e55"/>
<rect x="44.47" y="44.62" width="4.31" height="4.32" fill="#b48a2e"/>
<rect x="48.18" y="44.62" width="4.31" height="4.32" fill="#b09d2f"/>
<rect x="51.89" y="44.62" width="4.31" height="4.32" fill="#9ed040"/>
<rect x="55.59" y="44.62" width="7.71" height="4.32" fill="#a5c038"/>
<rect x="-4.00" y="48.34" width="8.31" height="4.32" fill="#b0603e"/>
<rect x="3.71" y="48.34" width="4.31" height="4.32" fill="#b48a2e"/>
<rect x="7.41" y="48.34" width="4.31" height="4.32" fill="#9e367e"/>
<rect x="11.12" y="48.34" width="4.31" height="4.32" fill="#983195"/>
<rect x="14.82" y="48.34" width="4.31" height="4.32" fill="#983195"/>
<rect x="18.53" y="48.34" width="4.31" height="4.32" fill="#a23c6c"/>
<rect x="22.24" y="48.34" width="4.31" height="4.32" fill="#9e367e"/>
<rect x="25.94" y="48.34" width="4.31" height="4.32" fill="#b48a2e"/>
<rect x="29.65" y="48.34" width="4.31" height="4.32" fill="#9e367e"/>
<rect x="33.36" y="48.34" width="4.31" height="4.32" fill="#9a3090"/>
<rect x="37.06" y="48.34" width="4.31" height="4.32" fill="#9a3090"/>
<rect x="40.77" y="48.34" width="4.31" height="4.32" fill="#983195"/>
<rect x="44.47" y="48.34" width="4.31" height="4.32" fill="#a94e55"/>
<rect x="48.18" y="48.34" width="4.31" height="4.32" fill="#b48a2e"/>
<rect x="51.89" y="48.34" width="4.31" height="4.32" fill="#9a3090"/>
<rect x="55.59" y="48.34" width="7.71" height="4.32" fill="#b0603e"/>
<rect x="-4.00" y="52.06" width="8.31" height="4.32" fill="#983195"/>
<rect x="3.71" y="52.06" width="4.31" height="4.32" fill="#983195"/>
<rect x="7.41" y="52.06" width="4.31" height="4.32" fill="#983195"/>
<rect x="11.12" y="52.06" width="4.31" height="4.32" fill="#983195"/>
<rect x="14.82" y="52.06" width="4.31" height="4.32" fill="#983195"/>
<rect x="18.53" y="52.06" width="4.31" height="4.32" fill="#983195"/>
<rect x="22.24" y="52.06" width="4.31" height="4.32" fill="#a23c6c"/>
<rect x="25.94" y="52.06" width="4.31" height="4.32" fill="#b48a2e"/>
<rect x="29.65" y="52.06" width="4.31" height="4.32" fill="#983195"/>
<rect x="33.36" y="52.06" width="4.31" height="4.32" fill="#983195"/>
<rect x="37.06" y="52.06" width="4.31" height="4.32" fill="#983195"/>
<rect x="40.77" y="52.06" width="4.31" height="4.32" fill="#a23c6c"/>
<rect x="44.47" y="52.06" width="4.31" height="4.32" fill="#a94e55"/>
<rect x="48.18" y="52.06" width="4.31" height="4.32" fill="#b48a2e"/>
<rect x="51.89" y="52.06" width="4.31" height="4.32" fill="#9a3090"/>
<rect x="55.59" y="52.06" width="7.71" height="4.32" fill="#a94e55"/>
<rect x="-4.00" y="55.78" width="8.31" height="7.72" fill="#983195"/>
<rect x="3.71" y="55.78" width="4.31" height="7.72" fill="#a23c6c"/>
<rect x="7.41" y="55.78" width="4.31" height="7.72" fill="#983195"/>
<rect x="11.12" y="55.78" width="4.31" height="7.72" fill="#983195"/>
<rect x="14.82" y="55.78" width="4.31" height="7.72" fill="#983195"/>
<rect x="18.53" y="55.78" width="4.31" height="7.72" fill="#983195"/>
<rect x="22.24" y="55.78" width="4.31" height="7.72" fill="#a23c6c"/>
<rect x="25.94" y="55.78" width="4.31" height="7.72" fill="#b48a2e"/>
<rect x="29.65" y="55.78" width="4.31" height="7.72" fill="#983195"/>
<rect x="33.36" y="55.78" width="4.31" height="7.72" fill="#a23c6c"/>
<rect x="37.06" y="55.78" width="4.31" height="7.72" fill="#983195"/>
<rect x="40.77" y="55.78" width="4.31" height="7.72" fill="#b0603e"/>
<rect x="44.47" y="55.78" width="4.31" height="7.72" fill="#9e367e"/>
<rect x="48.18" y="55.78" width="4.31" height="7.72" fill="#9a3090"/>
<rect x="51.89" y="55.78" width="4.31" height="7.72" fill="#9a3090"/>
<rect x="55.59" y="55.78" width="7.71" height="7.72" fill="#9a3090"/>
</g>
<g id="hv2">
<rect x="0.00" y="0.00" width="4.31" height="4.32" fill="#9bd83c"/>
<rect x="3.71" y="0.00" width="4.31" height="4.32" fill="#33b47a"/>
<rect x="7.42" y="0.00" width="4.31" height="4.32" fill="#22a884"/>
<rect x="11.14" y="0.00" width="4.31" height="4.32" fill="#21918c"/>
<rect x="14.85" y="0.00" width="4.31" height="4.32" fill="#21918c"/>
<rect x="18.56" y="0.00" width="4.31" height="4.32" fill="#22a884"/>
<rect x="22.27" y="0.00" width="4.31" height="4.32" fill="#229c88"/>
<rect x="25.99" y="0.00" width="4.31" height="4.32" fill="#2a788e"/>
<rect x="29.70" y="0.00" width="4.31" height="4.32" fill="#44347e"/>
<rect x="33.41" y="0.00" width="4.31" height="4.32" fill="#461264"/>
<rect x="37.12" y="0.00" width="4.31" height="4.32" fill="#461264"/>
<rect x="40.84" y="0.00" width="4.31" height="4.32" fill="#482475"/>
<rect x="44.55" y="0.00" width="4.31" height="4.32" fill="#355f8d"/>
<rect x="48.26" y="0.00" width="4.31" height="4.32" fill="#21918c"/>
<rect x="51.98" y="0.00" width="4.31" height="4.32" fill="#26848d"/>
<rect x="55.69" y="0.00" width="3.71" height="4.32" fill="#414487"/>
<rect x="0.00" y="3.72" width="4.31" height="4.32" fill="#9bd83c"/>
<rect x="3.71" y="3.72" width="4.31" height="4.32" fill="#44bf70"/>
<rect x="7.42" y="3.72" width="4.31" height="4.32" fill="#9bd83c"/>
<rect x="11.14" y="3.72" width="4.31" height="4.32" fill="#22a884"/>
<rect x="14.85" y="3.72" width="4.31" height="4.32" fill="#22a884"/>
<rect x="18.56" y="3.72" width="4.31" height="4.32" fill="#33b47a"/>
<rect x="22.27" y="3.72" width="4.31" height="4.32" fill="#22a884"/>
<rect x="25.99" y="3.72" width="4.31" height="4.32" fill="#22a884"/>
<rect x="29.70" y="3.72" width="4.31" height="4.32" fill="#22a884"/>
<rect x="33.41" y="3.72" width="4.31" height="4.32" fill="#3b528a"/>
<rect x="37.12" y="3.72" width="4.31" height="4.32" fill="#2a788e"/>
<rect x="40.84" y="3.72" width="4.31" height="4.32" fill="#21918c"/>
<rect x="44.55" y="3.72" width="4.31" height="4.32" fill="#21918c"/>
<rect x="48.26" y="3.72" width="4.31" height="4.32" fill="#26848d"/>
<rect x="51.98" y="3.72" width="4.31" height="4.32" fill="#26848d"/>
<rect x="55.69" y="3.72" width="3.71" height="4.32" fill="#355f8d"/>
<rect x="0.00" y="7.44" width="4.31" height="4.32" fill="#229c88"/>
<rect x="3.71" y="7.44" width="4.31" height="4.32" fill="#22a884"/>
<rect x="7.42" y="7.44" width="4.31" height="4.32" fill="#22a884"/>
<rect x="11.14" y="7.44" width="4.31" height="4.32" fill="#26848d"/>
<rect x="14.85" y="7.44" width="4.31" height="4.32" fill="#21918c"/>
<rect x="18.56" y="7.44" width="4.31" height="4.32" fill="#2a788e"/>
<rect x="22.27" y="7.44" width="4.31" height="4.32" fill="#26848d"/>
<rect x="25.99" y="7.44" width="4.31" height="4.32" fill="#21918c"/>
<rect x="29.70" y="7.44" width="4.31" height="4.32" fill="#229c88"/>
<rect x="33.41" y="7.44" width="4.31" height="4.32" fill="#229c88"/>
<rect x="37.12" y="7.44" width="4.31" height="4.32" fill="#229c88"/>
<rect x="40.84" y="7.44" width="4.31" height="4.32" fill="#2a788e"/>
<rect x="44.55" y="7.44" width="4.31" height="4.32" fill="#21918c"/>
<rect x="48.26" y="7.44" width="4.31" height="4.32" fill="#21918c"/>
<rect x="51.98" y="7.44" width="4.31" height="4.32" fill="#2a788e"/>
<rect x="55.69" y="7.44" width="3.71" height="4.32" fill="#355f8d"/>
<rect x="0.00" y="11.16" width="4.31" height="4.32" fill="#482475"/>
<rect x="3.71" y="11.16" width="4.31" height="4.32" fill="#2a788e"/>
<rect x="7.42" y="11.16" width="4.31" height="4.32" fill="#5fc860"/>
<rect x="11.14" y="11.16" width="4.31" height="4.32" fill="#22a884"/>
<rect x="14.85" y="11.16" width="4.31" height="4.32" fill="#33b47a"/>
<rect x="18.56" y="11.16" width="4.31" height="4.32" fill="#26848d"/>
<rect x="22.27" y="11.16" width="4.31" height="4.32" fill="#21918c"/>
<rect x="25.99" y="11.16" width="4.31" height="4.32" fill="#26848d"/>
<rect x="29.70" y="11.16" width="4.31" height="4.32" fill="#33b47a"/>
<rect x="33.41" y="11.16" width="4.31" height="4.32" fill="#33b47a"/>
<rect x="37.12" y="11.16" width="4.31" height="4.32" fill="#229c88"/>
<rect x="40.84" y="11.16" width="4.31" height="4.32" fill="#21918c"/>
<rect x="44.55" y="11.16" width="4.31" height="4.32" fill="#21918c"/>
<rect x="48.26" y="11.16" width="4.31" height="4.32" fill="#229c88"/>
<rect x="51.98" y="11.16" width="4.31" height="4.32" fill="#21918c"/>
<rect x="55.69" y="11.16" width="3.71" height="4.32" fill="#355f8d"/>
<rect x="0.00" y="14.88" width="4.31" height="4.32" fill="#482475"/>
<rect x="3.71" y="14.88" width="4.31" height="4.32" fill="#2a788e"/>
<rect x="7.42" y="14.88" width="4.31" height="4.32" fill="#22a884"/>
<rect x="11.14" y="14.88" width="4.31" height="4.32" fill="#21918c"/>
<rect x="14.85" y="14.88" width="4.31" height="4.32" fill="#229c88"/>
<rect x="18.56" y="14.88" width="4.31" height="4.32" fill="#306c8e"/>
<rect x="22.27" y="14.88" width="4.31" height="4.32" fill="#229c88"/>
<rect x="25.99" y="14.88" width="4.31" height="4.32" fill="#9bd83c"/>
<rect x="29.70" y="14.88" width="4.31" height="4.32" fill="#dde326"/>
<rect x="33.41" y="14.88" width="4.31" height="4.32" fill="#bddf26"/>
<rect x="37.12" y="14.88" width="4.31" height="4.32" fill="#2a788e"/>
<rect x="40.84" y="14.88" width="4.31" height="4.32" fill="#306c8e"/>
<rect x="44.55" y="14.88" width="4.31" height="4.32" fill="#355f8d"/>
<rect x="48.26" y="14.88" width="4.31" height="4.32" fill="#306c8e"/>
<rect x="51.98" y="14.88" width="4.31" height="4.32" fill="#2a788e"/>
<rect x="55.69" y="14.88" width="3.71" height="4.32" fill="#414487"/>
<rect x="0.00" y="18.59" width="4.31" height="4.32" fill="#44347e"/>
<rect x="3.71" y="18.59" width="4.31" height="4.32" fill="#306c8e"/>
<rect x="7.42" y="18.59" width="4.31" height="4.32" fill="#26848d"/>
<rect x="11.14" y="18.59" width="4.31" height="4.32" fill="#21918c"/>
<rect x="14.85" y="18.59" width="4.31" height="4.32" fill="#22a884"/>
<rect x="18.56" y="18.59" width="4.31" height="4.32" fill="#2a788e"/>
<rect x="22.27" y="18.59" width="4.31" height="4.32" fill="#22a884"/>
<rect x="25.99" y="18.59" width="4.31" height="4.32" fill="#dde326"/>
<rect x="29.70" y="18.59" width="4.31" height="4.32" fill="#dde326"/>
<rect x="33.41" y="18.59" width="4.31" height="4.32" fill="#bddf26"/>
<rect x="37.12" y="18.59" width="4.31" height="4.32" fill="#414487"/>
<rect x="40.84" y="18.59" width="4.31" height="4.32" fill="#482475"/>
<rect x="44.55" y="18.59" width="4.31" height="4.32" fill="#482475"/>
<rect x="48.26" y="18.59" width="4.31" height="4.32" fill="#482475"/>
<rect x="51.98" y="18.59" width="4.31" height="4.32" fill="#44347e"/>
<rect x="55.69" y="18.59" width="3.71" height="4.32" fill="#482475"/>
<rect x="0.00" y="22.31" width="4.31" height="4.32" fill="#2a788e"/>
<rect x="3.71" y="22.31" width="4.31" height="4.32" fill="#26848d"/>
<rect x="7.42" y="22.31" width="4.31" height="4.32" fill="#355f8d"/>
<rect x="11.14" y="22.31" width="4.31" height="4.32" fill="#44347e"/>
<rect x="14.85" y="22.31" width="4.31" height="4.32" fill="#44347e"/>
<rect x="18.56" y="22.31" width="4.31" height="4.32" fill="#414487"/>
<rect x="22.27" y="22.31" width="4.31" height="4.32" fill="#22a884"/>
<rect x="25.99" y="22.31" width="4.31" height="4.32" fill="#5fc860"/>
<rect x="29.70" y="22.31" width="4.31" height="4.32" fill="#7ad151"/>
<rect x="33.41" y="22.31" width="4.31" height="4.32" fill="#33b47a"/>
<rect x="37.12" y="22.31" width="4.31" height="4.32" fill="#482475"/>
<rect x="40.84" y="22.31" width="4.31" height="4.32" fill="#482475"/>
<rect x="44.55" y="22.31" width="4.31" height="4.32" fill="#482475"/>
<rect x="48.26" y="22.31" width="4.31" height="4.32" fill="#482475"/>
<rect x="51.98" y="22.31" width="4.31" height="4.32" fill="#482475"/>
<rect x="55.69" y="22.31" width="3.71" height="4.32" fill="#482475"/>
<rect x="0.00" y="26.03" width="4.31" height="4.32" fill="#229c88"/>
<rect x="3.71" y="26.03" width="4.31" height="4.32" fill="#21918c"/>
<rect x="7.42" y="26.03" width="4.31" height="4.32" fill="#414487"/>
<rect x="11.14" y="26.03" width="4.31" height="4.32" fill="#461264"/>
<rect x="14.85" y="26.03" width="4.31" height="4.32" fill="#461264"/>
<rect x="18.56" y="26.03" width="4.31" height="4.32" fill="#482475"/>
<rect x="22.27" y="26.03" width="4.31" height="4.32" fill="#2a788e"/>
<rect x="25.99" y="26.03" width="4.31" height="4.32" fill="#2a788e"/>
<rect x="29.70" y="26.03" width="4.31" height="4.32" fill="#2a788e"/>
<rect x="33.41" y="26.03" width="4.31" height="4.32" fill="#2a788e"/>
<rect x="37.12" y="26.03" width="4.31" height="4.32" fill="#482475"/>
<rect x="40.84" y="26.03" width="4.31" height="4.32" fill="#482475"/>
<rect x="44.55" y="26.03" width="4.31" height="4.32" fill="#482475"/>
<rect x="48.26" y="26.03" width="4.31" height="4.32" fill="#461264"/>
<rect x="51.98" y="26.03" width="4.31" height="4.32" fill="#482475"/>
<rect x="55.69" y="26.03" width="3.71" height="4.32" fill="#482475"/>
<rect x="0.00" y="29.75" width="4.31" height="4.32" fill="#229c88"/>
<rect x="3.71" y="29.75" width="4.31" height="4.32" fill="#44bf70"/>
<rect x="7.42" y="29.75" width="4.31" height="4.32" fill="#355f8d"/>
<rect x="11.14" y="29.75" width="4.31" height="4.32" fill="#461264"/>
<rect x="14.85" y="29.75" width="4.31" height="4.32" fill="#461264"/>
<rect x="18.56" y="29.75" width="4.31" height="4.32" fill="#461264"/>
<rect x="22.27" y="29.75" width="4.31" height="4.32" fill="#306c8e"/>
<rect x="25.99" y="29.75" width="4.31" height="4.32" fill="#355f8d"/>
<rect x="29.70" y="29.75" width="4.31" height="4.32" fill="#355f8d"/>
<rect x="33.41" y="29.75" width="4.31" height="4.32" fill="#355f8d"/>
<rect x="37.12" y="29.75" width="4.31" height="4.32" fill="#482475"/>
<rect x="40.84" y="29.75" width="4.31" height="4.32" fill="#461264"/>
<rect x="44.55" y="29.75" width="4.31" height="4.32" fill="#482475"/>
<rect x="48.26" y="29.75" width="4.31" height="4.32" fill="#482475"/>
<rect x="51.98" y="29.75" width="4.31" height="4.32" fill="#482475"/>
<rect x="55.69" y="29.75" width="3.71" height="4.32" fill="#461264"/>
<rect x="0.00" y="33.47" width="4.31" height="4.32" fill="#bddf26"/>
<rect x="3.71" y="33.47" width="4.31" height="4.32" fill="#bddf26"/>
<rect x="7.42" y="33.47" width="4.31" height="4.32" fill="#355f8d"/>
<rect x="11.14" y="33.47" width="4.31" height="4.32" fill="#461264"/>
<rect x="14.85" y="33.47" width="4.31" height="4.32" fill="#461264"/>
<rect x="18.56" y="33.47" width="4.31" height="4.32" fill="#461264"/>
<rect x="22.27" y="33.47" width="4.31" height="4.32" fill="#355f8d"/>
<rect x="25.99" y="33.47" width="4.31" height="4.32" fill="#355f8d"/>
<rect x="29.70" y="33.47" width="4.31" height="4.32" fill="#355f8d"/>
<rect x="33.41" y="33.47" width="4.31" height="4.32" fill="#355f8d"/>
<rect x="37.12" y="33.47" width="4.31" height="4.32" fill="#482475"/>
<rect x="40.84" y="33.47" width="4.31" height="4.32" fill="#461264"/>
<rect x="44.55" y="33.47" width="4.31" height="4.32" fill="#461264"/>
<rect x="48.26" y="33.47" width="4.31" height="4.32" fill="#482475"/>
<rect x="51.98" y="33.47" width="4.31" height="4.32" fill="#482475"/>
<rect x="55.69" y="33.47" width="3.71" height="4.32" fill="#461264"/>
<rect x="0.00" y="37.19" width="4.31" height="4.32" fill="#5fc860"/>
<rect x="3.71" y="37.19" width="4.31" height="4.32" fill="#22a884"/>
<rect x="7.42" y="37.19" width="4.31" height="4.32" fill="#2a788e"/>
<rect x="11.14" y="37.19" width="4.31" height="4.32" fill="#44347e"/>
<rect x="14.85" y="37.19" width="4.31" height="4.32" fill="#482475"/>
<rect x="18.56" y="37.19" width="4.31" height="4.32" fill="#44347e"/>
<rect x="22.27" y="37.19" width="4.31" height="4.32" fill="#26848d"/>
<rect x="25.99" y="37.19" width="4.31" height="4.32" fill="#229c88"/>
<rect x="29.70" y="37.19" width="4.31" height="4.32" fill="#229c88"/>
<rect x="33.41" y="37.19" width="4.31" height="4.32" fill="#229c88"/>
<rect x="37.12" y="37.19" width="4.31" height="4.32" fill="#355f8d"/>
<rect x="40.84" y="37.19" width="4.31" height="4.32" fill="#461264"/>
<rect x="44.55" y="37.19" width="4.31" height="4.32" fill="#482475"/>
<rect x="48.26" y="37.19" width="4.31" height="4.32" fill="#482475"/>
<rect x="51.98" y="37.19" width="4.31" height="4.32" fill="#482475"/>
<rect x="55.69" y="37.19" width="3.71" height="4.32" fill="#461264"/>
<rect x="0.00" y="40.91" width="4.31" height="4.32" fill="#2a788e"/>
<rect x="3.71" y="40.91" width="4.31" height="4.32" fill="#306c8e"/>
<rect x="7.42" y="40.91" width="4.31" height="4.32" fill="#2a788e"/>
<rect x="11.14" y="40.91" width="4.31" height="4.32" fill="#306c8e"/>
<rect x="14.85" y="40.91" width="4.31" height="4.32" fill="#3b528a"/>
<rect x="18.56" y="40.91" width="4.31" height="4.32" fill="#306c8e"/>
<rect x="22.27" y="40.91" width="4.31" height="4.32" fill="#21918c"/>
<rect x="25.99" y="40.91" width="4.31" height="4.32" fill="#33b47a"/>
<rect x="29.70" y="40.91" width="4.31" height="4.32" fill="#22a884"/>
<rect x="33.41" y="40.91" width="4.31" height="4.32" fill="#5fc860"/>
<rect x="37.12" y="40.91" width="4.31" height="4.32" fill="#7ad151"/>
<rect x="40.84" y="40.91" width="4.31" height="4.32" fill="#2a788e"/>
<rect x="44.55" y="40.91" width="4.31" height="4.32" fill="#355f8d"/>
<rect x="48.26" y="40.91" width="4.31" height="4.32" fill="#306c8e"/>
<rect x="51.98" y="40.91" width="4.31" height="4.32" fill="#355f8d"/>
<rect x="55.69" y="40.91" width="3.71" height="4.32" fill="#414487"/>
<rect x="0.00" y="44.62" width="4.31" height="4.32" fill="#44347e"/>
<rect x="3.71" y="44.62" width="4.31" height="4.32" fill="#44347e"/>
<rect x="7.42" y="44.62" width="4.31" height="4.32" fill="#44347e"/>
<rect x="11.14" y="44.62" width="4.31" height="4.32" fill="#2a788e"/>
<rect x="14.85" y="44.62" width="4.31" height="4.32" fill="#21918c"/>
<rect x="18.56" y="44.62" width="4.31" height="4.32" fill="#44bf70"/>
<rect x="22.27" y="44.62" width="4.31" height="4.32" fill="#9bd83c"/>
<rect x="25.99" y="44.62" width="4.31" height="4.32" fill="#9bd83c"/>
<rect x="29.70" y="44.62" width="4.31" height="4.32" fill="#5fc860"/>
<rect x="33.41" y="44.62" width="4.31" height="4.32" fill="#44bf70"/>
<rect x="37.12" y="44.62" width="4.31" height="4.32" fill="#22a884"/>
<rect x="40.84" y="44.62" width="4.31" height="4.32" fill="#2a788e"/>
<rect x="44.55" y="44.62" width="4.31" height="4.32" fill="#2a788e"/>
<rect x="48.26" y="44.62" width="4.31" height="4.32" fill="#9bd83c"/>
<rect x="51.98" y="44.62" width="4.31" height="4.32" fill="#bddf26"/>
<rect x="55.69" y="44.62" width="3.71" height="4.32" fill="#9bd83c"/>
<rect x="0.00" y="48.34" width="4.31" height="4.32" fill="#461264"/>
<rect x="3.71" y="48.34" width="4.31" height="4.32" fill="#482475"/>
<rect x="7.42" y="48.34" width="4.31" height="4.32" fill="#482475"/>
<rect x="11.14" y="48.34" width="4.31" height="4.32" fill="#306c8e"/>
<rect x="14.85" y="48.34" width="4.31" height="4.32" fill="#306c8e"/>
<rect x="18.56" y="48.34" width="4.31" height="4.32" fill="#229c88"/>
<rect x="22.27" y="48.34" width="4.31" height="4.32" fill="#44bf70"/>
<rect x="25.99" y="48.34" width="4.31" height="4.32" fill="#bddf26"/>
<rect x="29.70" y="48.34" width="4.31" height="4.32" fill="#bddf26"/>
<rect x="33.41" y="48.34" width="4.31" height="4.32" fill="#bddf26"/>
<rect x="37.12" y="48.34" width="4.31" height="4.32" fill="#22a884"/>
<rect x="40.84" y="48.34" width="4.31" height="4.32" fill="#2a788e"/>
<rect x="44.55" y="48.34" width="4.31" height="4.32" fill="#2a788e"/>
<rect x="48.26" y="48.34" width="4.31" height="4.32" fill="#9bd83c"/>
<rect x="51.98" y="48.34" width="4.31" height="4.32" fill="#bddf26"/>
<rect x="55.69" y="48.34" width="3.71" height="4.32" fill="#9bd83c"/>
<rect x="0.00" y="52.06" width="4.31" height="4.32" fill="#44347e"/>
<rect x="3.71" y="52.06" width="4.31" height="4.32" fill="#44347e"/>
<rect x="7.42" y="52.06" width="4.31" height="4.32" fill="#482475"/>
<rect x="11.14" y="52.06" width="4.31" height="4.32" fill="#482475"/>
<rect x="14.85" y="52.06" width="4.31" height="4.32" fill="#414487"/>
<rect x="18.56" y="52.06" width="4.31" height="4.32" fill="#26848d"/>
<rect x="22.27" y="52.06" width="4.31" height="4.32" fill="#21918c"/>
<rect x="25.99" y="52.06" width="4.31" height="4.32" fill="#5fc860"/>
<rect x="29.70" y="52.06" width="4.31" height="4.32" fill="#26848d"/>
<rect x="33.41" y="52.06" width="4.31" height="4.32" fill="#44347e"/>
<rect x="37.12" y="52.06" width="4.31" height="4.32" fill="#44347e"/>
<rect x="40.84" y="52.06" width="4.31" height="4.32" fill="#306c8e"/>
<rect x="44.55" y="52.06" width="4.31" height="4.32" fill="#3b528a"/>
<rect x="48.26" y="52.06" width="4.31" height="4.32" fill="#22a884"/>
<rect x="51.98" y="52.06" width="4.31" height="4.32" fill="#229c88"/>
<rect x="55.69" y="52.06" width="3.71" height="4.32" fill="#44bf70"/>
<rect x="0.00" y="55.78" width="4.31" height="3.72" fill="#482475"/>
<rect x="3.71" y="55.78" width="4.31" height="3.72" fill="#482475"/>
<rect x="7.42" y="55.78" width="4.31" height="3.72" fill="#482475"/>
<rect x="11.14" y="55.78" width="4.31" height="3.72" fill="#482475"/>
<rect x="14.85" y="55.78" width="4.31" height="3.72" fill="#482475"/>
<rect x="18.56" y="55.78" width="4.31" height="3.72" fill="#355f8d"/>
<rect x="22.27" y="55.78" width="4.31" height="3.72" fill="#2a788e"/>
<rect x="25.99" y="55.78" width="4.31" height="3.72" fill="#2a788e"/>
<rect x="29.70" y="55.78" width="4.31" height="3.72" fill="#482475"/>
<rect x="33.41" y="55.78" width="4.31" height="3.72" fill="#461264"/>
<rect x="37.12" y="55.78" width="4.31" height="3.72" fill="#461264"/>
<rect x="40.84" y="55.78" width="4.31" height="3.72" fill="#482475"/>
<rect x="44.55" y="55.78" width="4.31" height="3.72" fill="#482475"/>
<rect x="48.26" y="55.78" width="4.31" height="3.72" fill="#355f8d"/>
<rect x="51.98" y="55.78" width="4.31" height="3.72" fill="#355f8d"/>
<rect x="55.69" y="55.78" width="3.71" height="3.72" fill="#414487"/>
</g>
<g id="hh2" filter="url(#hblur)">
<rect x="-4.00" y="-4.00" width="8.31" height="8.32" fill="#95ea76"/>
<rect x="3.71" y="-4.00" width="4.31" height="8.32" fill="#a1cf38"/>
<rect x="7.41" y="-4.00" width="4.31" height="8.32" fill="#a3c134"/>
<rect x="11.12" y="-4.00" width="4.31" height="8.32" fill="#a59a2d"/>
<rect x="14.82" y="-4.00" width="4.31" height="8.32" fill="#a59a2d"/>
<rect x="18.53" y="-4.00" width="4.31" height="8.32" fill="#a3c134"/>
<rect x="22.24" y="-4.00" width="4.31" height="8.32" fill="#a5af30"/>
<rect x="25.94" y="-4.00" width="4.31" height="8.32" fill="#9e6d30"/>
<rect x="29.65" y="-4.00" width="4.31" height="8.32" fill="#692454"/>
<rect x="33.36" y="-4.00" width="4.31" height="8.32" fill="#581a58"/>
<rect x="37.06" y="-4.00" width="4.31" height="8.32" fill="#581a58"/>
<rect x="40.77" y="-4.00" width="4.31" height="8.32" fill="#5e1e58"/>
<rect x="44.47" y="-4.00" width="4.31" height="8.32" fill="#8d473f"/>
<rect x="48.18" y="-4.00" width="4.31" height="8.32" fill="#a59a2d"/>
<rect x="51.89" y="-4.00" width="4.31" height="8.32" fill="#a3832c"/>
<rect x="55.59" y="-4.00" width="7.71" height="8.32" fill="#74294f"/>
<rect x="-4.00" y="3.72" width="8.31" height="4.32" fill="#95ea76"/>
<rect x="3.71" y="3.72" width="4.31" height="4.32" fill="#9dd73e"/>
<rect x="7.41" y="3.72" width="4.31" height="4.32" fill="#95ea76"/>
<rect x="11.12" y="3.72" width="4.31" height="4.32" fill="#a3c134"/>
<rect x="14.82" y="3.72" width="4.31" height="4.32" fill="#a3c134"/>
<rect x="18.53" y="3.72" width="4.31" height="4.32" fill="#a1cf38"/>
<rect x="22.24" y="3.72" width="4.31" height="4.32" fill="#a3c134"/>
<rect x="25.94" y="3.72" width="4.31" height="4.32" fill="#a3c134"/>
<rect x="29.65" y="3.72" width="4.31" height="4.32" fill="#a3c134"/>
<rect x="33.36" y="3.72" width="4.31" height="4.32" fill="#803847"/>
<rect x="37.06" y="3.72" width="4.31" height="4.32" fill="#9e6d30"/>
<rect x="40.77" y="3.72" width="4.31" height="4.32" fill="#a59a2d"/>
<rect x="44.47" y="3.72" width="4.31" height="4.32" fill="#a59a2d"/>
<rect x="48.18" y="3.72" width="4.31" height="4.32" fill="#a3832c"/>
<rect x="51.89" y="3.72" width="4.31" height="4.32" fill="#a3832c"/>
<rect x="55.59" y="3.72" width="7.71" height="4.32" fill="#8d473f"/>
<rect x="-4.00" y="7.44" width="8.31" height="4.32" fill="#a5af30"/>
<rect x="3.71" y="7.44" width="4.31" height="4.32" fill="#a3c134"/>
<rect x="7.41" y="7.44" width="4.31" height="4.32" fill="#a3c134"/>
<rect x="11.12" y="7.44" width="4.31" height="4.32" fill="#a3832c"/>
<rect x="14.82" y="7.44" width="4.31" height="4.32" fill="#a59a2d"/>
<rect x="18.53" y="7.44" width="4.31" height="4.32" fill="#9e6d30"/>
<rect x="22.24" y="7.44" width="4.31" height="4.32" fill="#a3832c"/>
<rect x="25.94" y="7.44" width="4.31" height="4.32" fill="#a59a2d"/>
<rect x="29.65" y="7.44" width="4.31" height="4.32" fill="#a5af30"/>
<rect x="33.36" y="7.44" width="4.31" height="4.32" fill="#a5af30"/>
<rect x="37.06" y="7.44" width="4.31" height="4.32" fill="#a5af30"/>
<rect x="40.77" y="7.44" width="4.31" height="4.32" fill="#9e6d30"/>
<rect x="44.47" y="7.44" width="4.31" height="4.32" fill="#a59a2d"/>
<rect x="48.18" y="7.44" width="4.31" height="4.32" fill="#a59a2d"/>
<rect x="51.89" y="7.44" width="4.31" height="4.32" fill="#9e6d30"/>
<rect x="55.59" y="7.44" width="7.71" height="4.32" fill="#8d473f"/>
<rect x="-4.00" y="11.16" width="8.31" height="4.32" fill="#5e1e58"/>
<rect x="3.71" y="11.16" width="4.31" height="4.32" fill="#9e6d30"/>
<rect x="7.41" y="11.16" width="4.31" height="4.32" fill="#9adf44"/>
<rect x="11.12" y="11.16" width="4.31" height="4.32" fill="#a3c134"/>
<rect x="14.82" y="11.16" width="4.31" height="4.32" fill="#a1cf38"/>
<rect x="18.53" y="11.16" width="4.31" height="4.32" fill="#a3832c"/>
<rect x="22.24" y="11.16" width="4.31" height="4.32" fill="#a59a2d"/>
<rect x="25.94" y="11.16" width="4.31" height="4.32" fill="#a3832c"/>
<rect x="29.65" y="11.16" width="4.31" height="4.32" fill="#a1cf38"/>
<rect x="33.36" y="11.16" width="4.31" height="4.32" fill="#a1cf38"/>
<rect x="37.06" y="11.16" width="4.31" height="4.32" fill="#a5af30"/>
<rect x="40.77" y="11.16" width="4.31" height="4.32" fill="#a59a2d"/>
<rect x="44.47" y="11.16" width="4.31" height="4.32" fill="#a59a2d"/>
<rect x="48.18" y="11.16" width="4.31" height="4.32" fill="#a5af30"/>
<rect x="51.89" y="11.16" width="4.31" height="4.32" fill="#a59a2d"/>
<rect x="55.59" y="11.16" width="7.71" height="4.32" fill="#8d473f"/>
<rect x="-4.00" y="14.88" width="8.31" height="4.32" fill="#5e1e58"/>
<rect x="3.71" y="14.88" width="4.31" height="4.32" fill="#9e6d30"/>
<rect x="7.41" y="14.88" width="4.31" height="4.32" fill="#a3c134"/>
<rect x="11.12" y="14.88" width="4.31" height="4.32" fill="#a59a2d"/>
<rect x="14.82" y="14.88" width="4.31" height="4.32" fill="#a5af30"/>
<rect x="18.53" y="14.88" width="4.31" height="4.32" fill="#975837"/>
<rect x="22.24" y="14.88" width="4.31" height="4.32" fill="#a5af30"/>
<rect x="25.94" y="14.88" width="4.31" height="4.32" fill="#95ea76"/>
<rect x="29.65" y="14.88" width="4.31" height="4.32" fill="#aaf2d1"/>
<rect x="33.36" y="14.88" width="4.31" height="4.32" fill="#9aee9e"/>
<rect x="37.06" y="14.88" width="4.31" height="4.32" fill="#9e6d30"/>
<rect x="40.77" y="14.88" width="4.31" height="4.32" fill="#975837"/>
<rect x="44.47" y="14.88" width="4.31" height="4.32" fill="#8d473f"/>
<rect x="48.18" y="14.88" width="4.31" height="4.32" fill="#975837"/>
<rect x="51.89" y="14.88" width="4.31" height="4.32" fill="#9e6d30"/>
<rect x="55.59" y="14.88" width="7.71" height="4.32" fill="#74294f"/>
<rect x="-4.00" y="18.59" width="8.31" height="4.32" fill="#692454"/>
<rect x="3.71" y="18.59" width="4.31" height="4.32" fill="#975837"/>
<rect x="7.41" y="18.59" width="4.31" height="4.32" fill="#a3832c"/>
<rect x="11.12" y="18.59" width="4.31" height="4.32" fill="#a59a2d"/>
<rect x="14.82" y="18.59" width="4.31" height="4.32" fill="#a3c134"/>
<rect x="18.53" y="18.59" width="4.31" height="4.32" fill="#9e6d30"/>
<rect x="22.24" y="18.59" width="4.31" height="4.32" fill="#a3c134"/>
<rect x="25.94" y="18.59" width="4.31" height="4.32" fill="#aaf2d1"/>
<rect x="29.65" y="18.59" width="4.31" height="4.32" fill="#aaf2d1"/>
<rect x="33.36" y="18.59" width="4.31" height="4.32" fill="#9aee9e"/>
<rect x="37.06" y="18.59" width="4.31" height="4.32" fill="#74294f"/>
<rect x="40.77" y="18.59" width="4.31" height="4.32" fill="#5e1e58"/>
<rect x="44.47" y="18.59" width="4.31" height="4.32" fill="#5e1e58"/>
<rect x="48.18" y="18.59" width="4.31" height="4.32" fill="#5e1e58"/>
<rect x="51.89" y="18.59" width="4.31" height="4.32" fill="#692454"/>
<rect x="55.59" y="18.59" width="7.71" height="4.32" fill="#5e1e58"/>
<rect x="-4.00" y="22.31" width="8.31" height="4.32" fill="#9e6d30"/>
<rect x="3.71" y="22.31" width="4.31" height="4.32" fill="#a3832c"/>
<rect x="7.41" y="22.31" width="4.31" height="4.32" fill="#8d473f"/>
<rect x="11.12" y="22.31" width="4.31" height="4.32" fill="#692454"/>
<rect x="14.82" y="22.31" width="4.31" height="4.32" fill="#692454"/>
<rect x="18.53" y="22.31" width="4.31" height="4.32" fill="#74294f"/>
<rect x="22.24" y="22.31" width="4.31" height="4.32" fill="#a3c134"/>
<rect x="25.94" y="22.31" width="4.31" height="4.32" fill="#9adf44"/>
<rect x="29.65" y="22.31" width="4.31" height="4.32" fill="#97e655"/>
<rect x="33.36" y="22.31" width="4.31" height="4.32" fill="#a1cf38"/>
<rect x="37.06" y="22.31" width="4.31" height="4.32" fill="#5e1e58"/>
<rect x="40.77" y="22.31" width="4.31" height="4.32" fill="#5e1e58"/>
<rect x="44.47" y="22.31" width="4.31" height="4.32" fill="#5e1e58"/>
<rect x="48.18" y="22.31" width="4.31" height="4.32" fill="#5e1e58"/>
<rect x="51.89" y="22.31" width="4.31" height="4.32" fill="#5e1e58"/>
<rect x="55.59" y="22.31" width="7.71" height="4.32" fill="#5e1e58"/>
<rect x="-4.00" y="26.03" width="8.31" height="4.32" fill="#a5af30"/>
<rect x="3.71" y="26.03" width="4.31" height="4.32" fill="#a59a2d"/>
<rect x="7.41" y="26.03" width="4.31" height="4.32" fill="#74294f"/>
<rect x="11.12" y="26.03" width="4.31" height="4.32" fill="#581a58"/>
<rect x="14.82" y="26.03" width="4.31" height="4.32" fill="#581a58"/>
<rect x="18.53" y="26.03" width="4.31" height="4.32" fill="#5e1e58"/>
<rect x="22.24" y="26.03" width="4.31" height="4.32" fill="#9e6d30"/>
<rect x="25.94" y="26.03" width="4.31" height="4.32" fill="#9e6d30"/>
<rect x="29.65" y="26.03" width="4.31" height="4.32" fill="#9e6d30"/>
<rect x="33.36" y="26.03" width="4.31" height="4.32" fill="#9e6d30"/>
<rect x="37.06" y="26.03" width="4.31" height="4.32" fill="#5e1e58"/>
<rect x="40.77" y="26.03" width="4.31" height="4.32" fill="#5e1e58"/>
<rect x="44.47" y="26.03" width="4.31" height="4.32" fill="#5e1e58"/>
<rect x="48.18" y="26.03" width="4.31" height="4.32" fill="#581a58"/>
<rect x="51.89" y="26.03" width="4.31" height="4.32" fill="#5e1e58"/>
<rect x="55.59" y="26.03" width="7.71" height="4.32" fill="#5e1e58"/>
<rect x="-4.00" y="29.75" width="8.31" height="4.32" fill="#a5af30"/>
<rect x="3.71" y="29.75" width="4.31" height="4.32" fill="#9dd73e"/>
<rect x="7.41" y="29.75" width="4.31" height="4.32" fill="#8d473f"/>
<rect x="11.12" y="29.75" width="4.31" height="4.32" fill="#581a58"/>
<rect x="14.82" y="29.75" width="4.31" height="4.32" fill="#581a58"/>
<rect x="18.53" y="29.75" width="4.31" height="4.32" fill="#581a58"/>
<rect x="22.24" y="29.75" width="4.31" height="4.32" fill="#975837"/>
<rect x="25.94" y="29.75" width="4.31" height="4.32" fill="#8d473f"/>
<rect x="29.65" y="29.75" width="4.31" height="4.32" fill="#8d473f"/>
<rect x="33.36" y="29.75" width="4.31" height="4.32" fill="#8d473f"/>
<rect x="37.06" y="29.75" width="4.31" height="4.32" fill="#5e1e58"/>
<rect x="40.77" y="29.75" width="4.31" height="4.32" fill="#581a58"/>
<rect x="44.47" y="29.75" width="4.31" height="4.32" fill="#5e1e58"/>
<rect x="48.18" y="29.75" width="4.31" height="4.32" fill="#5e1e58"/>
<rect x="51.89" y="29.75" width="4.31" height="4.32" fill="#5e1e58"/>
<rect x="55.59" y="29.75" width="7.71" height="4.32" fill="#581a58"/>
<rect x="-4.00" y="33.47" width="8.31" height="4.32" fill="#9aee9e"/>
<rect x="3.71" y="33.47" width="4.31" height="4.32" fill="#9aee9e"/>
<rect x="7.41" y="33.47" width="4.31" height="4.32" fill="#8d473f"/>
<rect x="11.12" y="33.47" width="4.31" height="4.32" fill="#581a58"/>
<rect x="14.82" y="33.47" width="4.31" height="4.32" fill="#581a58"/>
<rect x="18.53" y="33.47" width="4.31" height="4.32" fill="#581a58"/>
<rect x="22.24" y="33.47" width="4.31" height="4.32" fill="#8d473f"/>
<rect x="25.94" y="33.47" width="4.31" height="4.32" fill="#8d473f"/>
<rect x="29.65" y="33.47" width="4.31" height="4.32" fill="#8d473f"/>
<rect x="33.36" y="33.47" width="4.31" height="4.32" fill="#8d473f"/>
<rect x="37.06" y="33.47" width="4.31" height="4.32" fill="#5e1e58"/>
<rect x="40.77" y="33.47" width="4.31" height="4.32" fill="#581a58"/>
<rect x="44.47" y="33.47" width="4.31" height="4.32" fill="#581a58"/>
<rect x="48.18" y="33.47" width="4.31" height="4.32" fill="#5e1e58"/>
<rect x="51.89" y="33.47" width="4.31" height="4.32" fill="#5e1e58"/>
<rect x="55.59" y="33.47" width="7.71" height="4.32" fill="#581a58"/>
<rect x="-4.00" y="37.19" width="8.31" height="4.32" fill="#9adf44"/>
<rect x="3.71" y="37.19" width="4.31" height="4.32" fill="#a3c134"/>
<rect x="7.41" y="37.19" width="4.31" height="4.32" fill="#9e6d30"/>
<rect x="11.12" y="37.19" width="4.31" height="4.32" fill="#692454"/>
<rect x="14.82" y="37.19" width="4.31" height="4.32" fill="#5e1e58"/>
<rect x="18.53" y="37.19" width="4.31" height="4.32" fill="#692454"/>
<rect x="22.24" y="37.19" width="4.31" height="4.32" fill="#a3832c"/>
<rect x="25.94" y="37.19" width="4.31" height="4.32" fill="#a5af30"/>
<rect x="29.65" y="37.19" width="4.31" height="4.32" fill="#a5af30"/>
<rect x="33.36" y="37.19" width="4.31" height="4.32" fill="#a5af30"/>
<rect x="37.06" y="37.19" width="4.31" height="4.32" fill="#8d473f"/>
<rect x="40.77" y="37.19" width="4.31" height="4.32" fill="#581a58"/>
<rect x="44.47" y="37.19" width="4.31" height="4.32" fill="#5e1e58"/>
<rect x="48.18" y="37.19" width="4.31" height="4.32" fill="#5e1e58"/>
<rect x="51.89" y="37.19" width="4.31" height="4.32" fill="#5e1e58"/>
<rect x="55.59" y="37.19" width="7.71" height="4.32" fill="#581a58"/>
<rect x="-4.00" y="40.91" width="8.31" height="4.32" fill="#9e6d30"/>
<rect x="3.71" y="40.91" width="4.31" height="4.32" fill="#975837"/>
<rect x="7.41" y="40.91" width="4.31" height="4.32" fill="#9e6d30"/>
<rect x="11.12" y="40.91" width="4.31" height="4.32" fill="#975837"/>
<rect x="14.82" y="40.91" width="4.31" height="4.32" fill="#803847"/>
<rect x="18.53" y="40.91" width="4.31" height="4.32" fill="#975837"/>
<rect x="22.24" y="40.91" width="4.31" height="4.32" fill="#a59a2d"/>
<rect x="25.94" y="40.91" width="4.31" height="4.32" fill="#a1cf38"/>
<rect x="29.65" y="40.91" width="4.31" height="4.32" fill="#a3c134"/>
<rect x="33.36" y="40.91" width="4.31" height="4.32" fill="#9adf44"/>
<rect x="37.06" y="40.91" width="4.31" height="4.32" fill="#97e655"/>
<rect x="40.77" y="40.91" width="4.31" height="4.32" fill="#9e6d30"/>
<rect x="44.47" y="40.91" width="4.31" height="4.32" fill="#8d473f"/>
<rect x="48.18" y="40.91" width="4.31" height="4.32" fill="#975837"/>
<rect x="51.89" y="40.91" width="4.31" height="4.32" fill="#8d473f"/>
<rect x="55.59" y="40.91" width="7.71" height="4.32" fill="#74294f"/>
<rect x="-4.00" y="44.62" width="8.31" height="4.32" fill="#692454"/>
<rect x="3.71" y="44.62" width="4.31" height="4.32" fill="#692454"/>
<rect x="7.41" y="44.62" width="4.31" height="4.32" fill="#692454"/>
<rect x="11.12" y="44.62" width="4.31" height="4.32" fill="#9e6d30"/>
<rect x="14.82" y="44.62" width="4.31" height="4.32" fill="#a59a2d"/>
<rect x="18.53" y="44.62" width="4.31" height="4.32" fill="#9dd73e"/>
<rect x="22.24" y="44.62" width="4.31" height="4.32" fill="#95ea76"/>
<rect x="25.94" y="44.62" width="4.31" height="4.32" fill="#95ea76"/>
<rect x="29.65" y="44.62" width="4.31" height="4.32" fill="#9adf44"/>
<rect x="33.36" y="44.62" width="4.31" height="4.32" fill="#9dd73e"/>
<rect x="37.06" y="44.62" width="4.31" height="4.32" fill="#a3c134"/>
<rect x="40.77" y="44.62" width="4.31" height="4.32" fill="#9e6d30"/>
<rect x="44.47" y="44.62" width="4.31" height="4.32" fill="#9e6d30"/>
<rect x="48.18" y="44.62" width="4.31" height="4.32" fill="#95ea76"/>
<rect x="51.89" y="44.62" width="4.31" height="4.32" fill="#9aee9e"/>
<rect x="55.59" y="44.62" width="7.71" height="4.32" fill="#95ea76"/>
<rect x="-4.00" y="48.34" width="8.31" height="4.32" fill="#581a58"/>
<rect x="3.71" y="48.34" width="4.31" height="4.32" fill="#5e1e58"/>
<rect x="7.41" y="48.34" width="4.31" height="4.32" fill="#5e1e58"/>
<rect x="11.12" y="48.34" width="4.31" height="4.32" fill="#975837"/>
<rect x="14.82" y="48.34" width="4.31" height="4.32" fill="#975837"/>
<rect x="18.53" y="48.34" width="4.31" height="4.32" fill="#a5af30"/>
<rect x="22.24" y="48.34" width="4.31" height="4.32" fill="#9dd73e"/>
<rect x="25.94" y="48.34" width="4.31" height="4.32" fill="#9aee9e"/>
<rect x="29.65" y="48.34" width="4.31" height="4.32" fill="#9aee9e"/>
<rect x="33.36" y="48.34" width="4.31" height="4.32" fill="#9aee9e"/>
<rect x="37.06" y="48.34" width="4.31" height="4.32" fill="#a3c134"/>
<rect x="40.77" y="48.34" width="4.31" height="4.32" fill="#9e6d30"/>
<rect x="44.47" y="48.34" width="4.31" height="4.32" fill="#9e6d30"/>
<rect x="48.18" y="48.34" width="4.31" height="4.32" fill="#95ea76"/>
<rect x="51.89" y="48.34" width="4.31" height="4.32" fill="#9aee9e"/>
<rect x="55.59" y="48.34" width="7.71" height="4.32" fill="#95ea76"/>
<rect x="-4.00" y="52.06" width="8.31" height="4.32" fill="#692454"/>
<rect x="3.71" y="52.06" width="4.31" height="4.32" fill="#692454"/>
<rect x="7.41" y="52.06" width="4.31" height="4.32" fill="#5e1e58"/>
<rect x="11.12" y="52.06" width="4.31" height="4.32" fill="#5e1e58"/>
<rect x="14.82" y="52.06" width="4.31" height="4.32" fill="#74294f"/>
<rect x="18.53" y="52.06" width="4.31" height="4.32" fill="#a3832c"/>
<rect x="22.24" y="52.06" width="4.31" height="4.32" fill="#a59a2d"/>
<rect x="25.94" y="52.06" width="4.31" height="4.32" fill="#9adf44"/>
<rect x="29.65" y="52.06" width="4.31" height="4.32" fill="#a3832c"/>
<rect x="33.36" y="52.06" width="4.31" height="4.32" fill="#692454"/>
<rect x="37.06" y="52.06" width="4.31" height="4.32" fill="#692454"/>
<rect x="40.77" y="52.06" width="4.31" height="4.32" fill="#975837"/>
<rect x="44.47" y="52.06" width="4.31" height="4.32" fill="#803847"/>
<rect x="48.18" y="52.06" width="4.31" height="4.32" fill="#a3c134"/>
<rect x="51.89" y="52.06" width="4.31" height="4.32" fill="#a5af30"/>
<rect x="55.59" y="52.06" width="7.71" height="4.32" fill="#9dd73e"/>
<rect x="-4.00" y="55.78" width="8.31" height="7.72" fill="#5e1e58"/>
<rect x="3.71" y="55.78" width="4.31" height="7.72" fill="#5e1e58"/>
<rect x="7.41" y="55.78" width="4.31" height="7.72" fill="#5e1e58"/>
<rect x="11.12" y="55.78" width="4.31" height="7.72" fill="#5e1e58"/>
<rect x="14.82" y="55.78" width="4.31" height="7.72" fill="#5e1e58"/>
<rect x="18.53" y="55.78" width="4.31" height="7.72" fill="#8d473f"/>
<rect x="22.24" y="55.78" width="4.31" height="7.72" fill="#9e6d30"/>
<rect x="25.94" y="55.78" width="4.31" height="7.72" fill="#9e6d30"/>
<rect x="29.65" y="55.78" width="4.31" height="7.72" fill="#5e1e58"/>
<rect x="33.36" y="55.78" width="4.31" height="7.72" fill="#581a58"/>
<rect x="37.06" y="55.78" width="4.31" height="7.72" fill="#581a58"/>
<rect x="40.77" y="55.78" width="4.31" height="7.72" fill="#5e1e58"/>
<rect x="44.47" y="55.78" width="4.31" height="7.72" fill="#5e1e58"/>
<rect x="48.18" y="55.78" width="4.31" height="7.72" fill="#8d473f"/>
<rect x="51.89" y="55.78" width="4.31" height="7.72" fill="#8d473f"/>
<rect x="55.59" y="55.78" width="7.71" height="7.72" fill="#74294f"/>
</g>
<g id="ho2" filter="url(#hblur)">
<rect x="-4.00" y="-4.00" width="8.31" height="8.32" fill="#58e0b6"/>
<rect x="3.71" y="-4.00" width="4.31" height="8.32" fill="#97d24a"/>
<rect x="7.41" y="-4.00" width="4.31" height="8.32" fill="#a2c63b"/>
<rect x="11.12" y="-4.00" width="4.31" height="8.32" fill="#aea52f"/>
<rect x="14.82" y="-4.00" width="4.31" height="8.32" fill="#aea52f"/>
<rect x="18.53" y="-4.00" width="4.31" height="8.32" fill="#a2c63b"/>
<rect x="22.24" y="-4.00" width="4.31" height="8.32" fill="#a9b633"/>
<rect x="25.94" y="-4.00" width="4.31" height="8.32" fill="#b37d33"/>
<rect x="29.65" y="-4.00" width="4.31" height="8.32" fill="#9c3289"/>
<rect x="33.36" y="-4.00" width="4.31" height="8.32" fill="#973299"/>
<rect x="37.06" y="-4.00" width="4.31" height="8.32" fill="#973299"/>
<rect x="40.77" y="-4.00" width="4.31" height="8.32" fill="#993193"/>
<rect x="44.47" y="-4.00" width="4.31" height="8.32" fill="#ac554c"/>
<rect x="48.18" y="-4.00" width="4.31" height="8.32" fill="#aea52f"/>
<rect x="51.89" y="-4.00" width="4.31" height="8.32" fill="#b2922e"/>
<rect x="55.59" y="-4.00" width="7.71" height="8.32" fill="#a03877"/>
<rect x="-4.00" y="3.72" width="8.31" height="4.32" fill="#58e0b6"/>
<rect x="3.71" y="3.72" width="4.31" height="4.32" fill="#85d962"/>
<rect x="7.41" y="3.72" width="4.31" height="4.32" fill="#58e0b6"/>
<rect x="11.12" y="3.72" width="4.31" height="4.32" fill="#a2c63b"/>
<rect x="14.82" y="3.72" width="4.31" height="4.32" fill="#a2c63b"/>
<rect x="18.53" y="3.72" width="4.31" height="4.32" fill="#97d24a"/>
<rect x="22.24" y="3.72" width="4.31" height="4.32" fill="#a2c63b"/>
<rect x="25.94" y="3.72" width="4.31" height="4.32" fill="#a2c63b"/>
<rect x="29.65" y="3.72" width="4.31" height="4.32" fill="#a2c63b"/>
<rect x="33.36" y="3.72" width="4.31" height="4.32" fill="#a54363"/>
<rect x="37.06" y="3.72" width="4.31" height="4.32" fill="#b37d33"/>
<rect x="40.77" y="3.72" width="4.31" height="4.32" fill="#aea52f"/>
<rect x="44.47" y="3.72" width="4.31" height="4.32" fill="#aea52f"/>
<rect x="48.18" y="3.72" width="4.31" height="4.32" fill="#b2922e"/>
<rect x="51.89" y="3.72" width="4.31" height="4.32" fill="#b2922e"/>
<rect x="55.59" y="3.72" width="7.71" height="4.32" fill="#ac554c"/>
<rect x="-4.00" y="7.44" width="8.31" height="4.32" fill="#a9b633"/>
<rect x="3.71" y="7.44" width="4.31" height="4.32" fill="#a2c63b"/>
<rect x="7.41" y="7.44" width="4.31" height="4.32" fill="#a2c63b"/>
<rect x="11.12" y="7.44" width="4.31" height="4.32" fill="#b2922e"/>
<rect x="14.82" y="7.44" width="4.31" height="4.32" fill="#aea52f"/>
<rect x="18.53" y="7.44" width="4.31" height="4.32" fill="#b37d33"/>
<rect x="22.24" y="7.44" width="4.31" height="4.32" fill="#b2922e"/>
<rect x="25.94" y="7.44" width="4.31" height="4.32" fill="#aea52f"/>
<rect x="29.65" y="7.44" width="4.31" height="4.32" fill="#a9b633"/>
<rect x="33.36" y="7.44" width="4.31" height="4.32" fill="#a9b633"/>
<rect x="37.06" y="7.44" width="4.31" height="4.32" fill="#a9b633"/>
<rect x="40.77" y="7.44" width="4.31" height="4.32" fill="#b37d33"/>
<rect x="44.47" y="7.44" width="4.31" height="4.32" fill="#aea52f"/>
<rect x="48.18" y="7.44" width="4.31" height="4.32" fill="#aea52f"/>
<rect x="51.89" y="7.44" width="4.31" height="4.32" fill="#b37d33"/>
<rect x="55.59" y="7.44" width="7.71" height="4.32" fill="#ac554c"/>
<rect x="-4.00" y="11.16" width="8.31" height="4.32" fill="#993193"/>
<rect x="3.71" y="11.16" width="4.31" height="4.32" fill="#b37d33"/>
<rect x="7.41" y="11.16" width="4.31" height="4.32" fill="#74df7b"/>
<rect x="11.12" y="11.16" width="4.31" height="4.32" fill="#a2c63b"/>
<rect x="14.82" y="11.16" width="4.31" height="4.32" fill="#97d24a"/>
<rect x="18.53" y="11.16" width="4.31" height="4.32" fill="#b2922e"/>
<rect x="22.24" y="11.16" width="4.31" height="4.32" fill="#aea52f"/>
<rect x="25.94" y="11.16" width="4.31" height="4.32" fill="#b2922e"/>
<rect x="29.65" y="11.16" width="4.31" height="4.32" fill="#97d24a"/>
<rect x="33.36" y="11.16" width="4.31" height="4.32" fill="#97d24a"/>
<rect x="37.06" y="11.16" width="4.31" height="4.32" fill="#a9b633"/>
<rect x="40.77" y="11.16" width="4.31" height="4.32" fill="#aea52f"/>
<rect x="44.47" y="11.16" width="4.31" height="4.32" fill="#aea52f"/>
<rect x="48.18" y="11.16" width="4.31" height="4.32" fill="#a9b633"/>
<rect x="51.89" y="11.16" width="4.31" height="4.32" fill="#aea52f"/>
<rect x="55.59" y="11.16" width="7.71" height="4.32" fill="#ac554c"/>
<rect x="-4.00" y="14.88" width="8.31" height="4.32" fill="#993193"/>
<rect x="3.71" y="14.88" width="4.31" height="4.32" fill="#b37d33"/>
<rect x="7.41" y="14.88" width="4.31" height="4.32" fill="#a2c63b"/>
<rect x="11.12" y="14.88" width="4.31" height="4.32" fill="#aea52f"/>
<rect x="14.82" y="14.88" width="4.31" height="4.32" fill="#a9b633"/>
<rect x="18.53" y="14.88" width="4.31" height="4.32" fill="#b1683b"/>
<rect x="22.24" y="14.88" width="4.31" height="4.32" fill="#a9b633"/>
<rect x="25.94" y="14.88" width="4.31" height="4.32" fill="#58e0b6"/>
<rect x="29.65" y="14.88" width="4.31" height="4.32" fill="#5bebe7"/>
<rect x="33.36" y="14.88" width="4.31" height="4.32" fill="#53e3d1"/>
<rect x="37.06" y="14.88" width="4.31" height="4.32" fill="#b37d33"/>
<rect x="40.77" y="14.88" width="4.31" height="4.32" fill="#b1683b"/>
<rect x="44.47" y="14.88" width="4.31" height="4.32" fill="#ac554c"/>
<rect x="48.18" y="14.88" width="4.31" height="4.32" fill="#b1683b"/>
<rect x="51.89" y="14.88" width="4.31" height="4.32" fill="#b37d33"/>
<rect x="55.59" y="14.88" width="7.71" height="4.32" fill="#a03877"/>
<rect x="-4.00" y="18.59" width="8.31" height="4.32" fill="#9c3289"/>
<rect x="3.71" y="18.59" width="4.31" height="4.32" fill="#b1683b"/>
<rect x="7.41" y="18.59" width="4.31" height="4.32" fill="#b2922e"/>
<rect x="11.12" y="18.59" width="4.31" height="4.32" fill="#aea52f"/>
<rect x="14.82" y="18.59" width="4.31" height="4.32" fill="#a2c63b"/>
<rect x="18.53" y="18.59" width="4.31" height="4.32" fill="#b37d33"/>
<rect x="22.24" y="18.59" width="4.31" height="4.32" fill="#a2c63b"/>
<rect x="25.94" y="18.59" width="4.31" height="4.32" fill="#5bebe7"/>
<rect x="29.65" y="18.59" width="4.31" height="4.32" fill="#5bebe7"/>
<rect x="33.36" y="18.59" width="4.31" height="4.32" fill="#53e3d1"/>
<rect x="37.06" y="18.59" width="4.31" height="4.32" fill="#a03877"/>
<rect x="40.77" y="18.59" width="4.31" height="4.32" fill="#993193"/>
<rect x="44.47" y="18.59" width="4.31" height="4.32" fill="#993193"/>
<rect x="48.18" y="18.59" width="4.31" height="4.32" fill="#993193"/>
<rect x="51.89" y="18.59" width="4.31" height="4.32" fill="#9c3289"/>
<rect x="55.59" y="18.59" width="7.71" height="4.32" fill="#993193"/>
<rect x="-4.00" y="22.31" width="8.31" height="4.32" fill="#b37d33"/>
<rect x="3.71" y="22.31" width="4.31" height="4.32" fill="#b2922e"/>
<rect x="7.41" y="22.31" width="4.31" height="4.32" fill="#ac554c"/>
<rect x="11.12" y="22.31" width="4.31" height="4.32" fill="#9c3289"/>
<rect x="14.82" y="22.31" width="4.31" height="4.32" fill="#9c3289"/>
<rect x="18.53" y="22.31" width="4.31" height="4.32" fill="#a03877"/>
<rect x="22.24" y="22.31" width="4.31" height="4.32" fill="#a2c63b"/>
<rect x="25.94" y="22.31" width="4.31" height="4.32" fill="#74df7b"/>
<rect x="29.65" y="22.31" width="4.31" height="4.32" fill="#65e098"/>
<rect x="33.36" y="22.31" width="4.31" height="4.32" fill="#97d24a"/>
<rect x="37.06" y="22.31" width="4.31" height="4.32" fill="#993193"/>
<rect x="40.77" y="22.31" width="4.31" height="4.32" fill="#993193"/>
<rect x="44.47" y="22.31" width="4.31" height="4.32" fill="#993193"/>
<rect x="48.18" y="22.31" width="4.31" height="4.32" fill="#993193"/>
<rect x="51.89" y="22.31" width="4.31" height="4.32" fill="#993193"/>
<rect x="55.59" y="22.31" width="7.71" height="4.32" fill="#993193"/>
<rect x="-4.00" y="26.03" width="8.31" height="4.32" fill="#a9b633"/>
<rect x="3.71" y="26.03" width="4.31" height="4.32" fill="#aea52f"/>
<rect x="7.41" y="26.03" width="4.31" height="4.32" fill="#a03877"/>
<rect x="11.12" y="26.03" width="4.31" height="4.32" fill="#973299"/>
<rect x="14.82" y="26.03" width="4.31" height="4.32" fill="#973299"/>
<rect x="18.53" y="26.03" width="4.31" height="4.32" fill="#993193"/>
<rect x="22.24" y="26.03" width="4.31" height="4.32" fill="#b37d33"/>
<rect x="25.94" y="26.03" width="4.31" height="4.32" fill="#b37d33"/>
<rect x="29.65" y="26.03" width="4.31" height="4.32" fill="#b37d33"/>
<rect x="33.36" y="26.03" width="4.31" height="4.32" fill="#b37d33"/>
<rect x="37.06" y="26.03" width="4.31" height="4.32" fill="#993193"/>
<rect x="40.77" y="26.03" width="4.31" height="4.32" fill="#993193"/>
<rect x="44.47" y="26.03" width="4.31" height="4.32" fill="#993193"/>
<rect x="48.18" y="26.03" width="4.31" height="4.32" fill="#973299"/>
<rect x="51.89" y="26.03" width="4.31" height="4.32" fill="#993193"/>
<rect x="55.59" y="26.03" width="7.71" height="4.32" fill="#993193"/>
<rect x="-4.00" y="29.75" width="8.31" height="4.32" fill="#a9b633"/>
<rect x="3.71" y="29.75" width="4.31" height="4.32" fill="#85d962"/>
<rect x="7.41" y="29.75" width="4.31" height="4.32" fill="#ac554c"/>
<rect x="11.12" y="29.75" width="4.31" height="4.32" fill="#973299"/>
<rect x="14.82" y="29.75" width="4.31" height="4.32" fill="#973299"/>
<rect x="18.53" y="29.75" width="4.31" height="4.32" fill="#973299"/>
<rect x="22.24" y="29.75" width="4.31" height="4.32" fill="#b1683b"/>
<rect x="25.94" y="29.75" width="4.31" height="4.32" fill="#ac554c"/>
<rect x="29.65" y="29.75" width="4.31" height="4.32" fill="#ac554c"/>
<rect x="33.36" y="29.75" width="4.31" height="4.32" fill="#ac554c"/>
<rect x="37.06" y="29.75" width="4.31" height="4.32" fill="#993193"/>
<rect x="40.77" y="29.75" width="4.31" height="4.32" fill="#973299"/>
<rect x="44.47" y="29.75" width="4.31" height="4.32" fill="#993193"/>
<rect x="48.18" y="29.75" width="4.31" height="4.32" fill="#993193"/>
<rect x="51.89" y="29.75" width="4.31" height="4.32" fill="#993193"/>
<rect x="55.59" y="29.75" width="7.71" height="4.32" fill="#973299"/>
<rect x="-4.00" y="33.47" width="8.31" height="4.32" fill="#53e3d1"/>
<rect x="3.71" y="33.47" width="4.31" height="4.32" fill="#53e3d1"/>
<rect x="7.41" y="33.47" width="4.31" height="4.32" fill="#ac554c"/>
<rect x="11.12" y="33.47" width="4.31" height="4.32" fill="#973299"/>
<rect x="14.82" y="33.47" width="4.31" height="4.32" fill="#973299"/>
<rect x="18.53" y="33.47" width="4.31" height="4.32" fill="#973299"/>
<rect x="22.24" y="33.47" width="4.31" height="4.32" fill="#ac554c"/>
<rect x="25.94" y="33.47" width="4.31" height="4.32" fill="#ac554c"/>
<rect x="29.65" y="33.47" width="4.31" height="4.32" fill="#ac554c"/>
<rect x="33.36" y="33.47" width="4.31" height="4.32" fill="#ac554c"/>
<rect x="37.06" y="33.47" width="4.31" height="4.32" fill="#993193"/>
<rect x="40.77" y="33.47" width="4.31" height="4.32" fill="#973299"/>
<rect x="44.47" y="33.47" width="4.31" height="4.32" fill="#973299"/>
<rect x="48.18" y="33.47" width="4.31" height="4.32" fill="#993193"/>
<rect x="51.89" y="33.47" width="4.31" height="4.32" fill="#993193"/>
<rect x="55.59" y="33.47" width="7.71" height="4.32" fill="#973299"/>
<rect x="-4.00" y="37.19" width="8.31" height="4.32" fill="#74df7b"/>
<rect x="3.71" y="37.19" width="4.31" height="4.32" fill="#a2c63b"/>
<rect x="7.41" y="37.19" width="4.31" height="4.32" fill="#b37d33"/>
<rect x="11.12" y="37.19" width="4.31" height="4.32" fill="#9c3289"/>
<rect x="14.82" y="37.19" width="4.31" height="4.32" fill="#993193"/>
<rect x="18.53" y="37.19" width="4.31" height="4.32" fill="#9c3289"/>
<rect x="22.24" y="37.19" width="4.31" height="4.32" fill="#b2922e"/>
<rect x="25.94" y="37.19" width="4.31" height="4.32" fill="#a9b633"/>
<rect x="29.65" y="37.19" width="4.31" height="4.32" fill="#a9b633"/>
<rect x="33.36" y="37.19" width="4.31" height="4.32" fill="#a9b633"/>
<rect x="37.06" y="37.19" width="4.31" height="4.32" fill="#ac554c"/>
<rect x="40.77" y="37.19" width="4.31" height="4.32" fill="#973299"/>
<rect x="44.47" y="37.19" width="4.31" height="4.32" fill="#993193"/>
<rect x="48.18" y="37.19" width="4.31" height="4.32" fill="#993193"/>
<rect x="51.89" y="37.19" width="4.31" height="4.32" fill="#993193"/>
<rect x="55.59" y="37.19" width="7.71" height="4.32" fill="#973299"/>
<rect x="-4.00" y="40.91" width="8.31" height="4.32" fill="#b37d33"/>
<rect x="3.71" y="40.91" width="4.31" height="4.32" fill="#b1683b"/>
<rect x="7.41" y="40.91" width="4.31" height="4.32" fill="#b37d33"/>
<rect x="11.12" y="40.91" width="4.31" height="4.32" fill="#b1683b"/>
<rect x="14.82" y="40.91" width="4.31" height="4.32" fill="#a54363"/>
<rect x="18.53" y="40.91" width="4.31" height="4.32" fill="#b1683b"/>
<rect x="22.24" y="40.91" width="4.31" height="4.32" fill="#aea52f"/>
<rect x="25.94" y="40.91" width="4.31" height="4.32" fill="#97d24a"/>
<rect x="29.65" y="40.91" width="4.31" height="4.32" fill="#a2c63b"/>
<rect x="33.36" y="40.91" width="4.31" height="4.32" fill="#74df7b"/>
<rect x="37.06" y="40.91" width="4.31" height="4.32" fill="#65e098"/>
<rect x="40.77" y="40.91" width="4.31" height="4.32" fill="#b37d33"/>
<rect x="44.47" y="40.91" width="4.31" height="4.32" fill="#ac554c"/>
<rect x="48.18" y="40.91" width="4.31" height="4.32" fill="#b1683b"/>
<rect x="51.89" y="40.91" width="4.31" height="4.32" fill="#ac554c"/>
<rect x="55.59" y="40.91" width="7.71" height="4.32" fill="#a03877"/>
<rect x="-4.00" y="44.62" width="8.31" height="4.32" fill="#9c3289"/>
<rect x="3.71" y="44.62" width="4.31" height="4.32" fill="#9c3289"/>
<rect x="7.41" y="44.62" width="4.31" height="4.32" fill="#9c3289"/>
<rect x="11.12" y="44.62" width="4.31" height="4.32" fill="#b37d33"/>
<rect x="14.82" y="44.62" width="4.31" height="4.32" fill="#aea52f"/>
<rect x="18.53" y="44.62" width="4.31" height="4.32" fill="#85d962"/>
<rect x="22.24" y="44.62" width="4.31" height="4.32" fill="#58e0b6"/>
<rect x="25.94" y="44.62" width="4.31" height="4.32" fill="#58e0b6"/>
<rect x="29.65" y="44.62" width="4.31" height="4.32" fill="#74df7b"/>
<rect x="33.36" y="44.62" width="4.31" height="4.32" fill="#85d962"/>
<rect x="37.06" y="44.62" width="4.31" height="4.32" fill="#a2c63b"/>
<rect x="40.77" y="44.62" width="4.31" height="4.32" fill="#b37d33"/>
<rect x="44.47" y="44.62" width="4.31" height="4.32" fill="#b37d33"/>
<rect x="48.18" y="44.62" width="4.31" height="4.32" fill="#58e0b6"/>
<rect x="51.89" y="44.62" width="4.31" height="4.32" fill="#53e3d1"/>
<rect x="55.59" y="44.62" width="7.71" height="4.32" fill="#58e0b6"/>
<rect x="-4.00" y="48.34" width="8.31" height="4.32" fill="#973299"/>
<rect x="3.71" y="48.34" width="4.31" height="4.32" fill="#993193"/>
<rect x="7.41" y="48.34" width="4.31" height="4.32" fill="#993193"/>
<rect x="11.12" y="48.34" width="4.31" height="4.32" fill="#b1683b"/>
<rect x="14.82" y="48.34" width="4.31" height="4.32" fill="#b1683b"/>
<rect x="18.53" y="48.34" width="4.31" height="4.32" fill="#a9b633"/>
<rect x="22.24" y="48.34" width="4.31" height="4.32" fill="#85d962"/>
<rect x="25.94" y="48.34" width="4.31" height="4.32" fill="#53e3d1"/>
<rect x="29.65" y="48.34" width="4.31" height="4.32" fill="#53e3d1"/>
<rect x="33.36" y="48.34" width="4.31" height="4.32" fill="#53e3d1"/>
<rect x="37.06" y="48.34" width="4.31" height="4.32" fill="#a2c63b"/>
<rect x="40.77" y="48.34" width="4.31" height="4.32" fill="#b37d33"/>
<rect x="44.47" y="48.34" width="4.31" height="4.32" fill="#b37d33"/>
<rect x="48.18" y="48.34" width="4.31" height="4.32" fill="#58e0b6"/>
<rect x="51.89" y="48.34" width="4.31" height="4.32" fill="#53e3d1"/>
<rect x="55.59" y="48.34" width="7.71" height="4.32" fill="#58e0b6"/>
<rect x="-4.00" y="52.06" width="8.31" height="4.32" fill="#9c3289"/>
<rect x="3.71" y="52.06" width="4.31" height="4.32" fill="#9c3289"/>
<rect x="7.41" y="52.06" width="4.31" height="4.32" fill="#993193"/>
<rect x="11.12" y="52.06" width="4.31" height="4.32" fill="#993193"/>
<rect x="14.82" y="52.06" width="4.31" height="4.32" fill="#a03877"/>
<rect x="18.53" y="52.06" width="4.31" height="4.32" fill="#b2922e"/>
<rect x="22.24" y="52.06" width="4.31" height="4.32" fill="#aea52f"/>
<rect x="25.94" y="52.06" width="4.31" height="4.32" fill="#74df7b"/>
<rect x="29.65" y="52.06" width="4.31" height="4.32" fill="#b2922e"/>
<rect x="33.36" y="52.06" width="4.31" height="4.32" fill="#9c3289"/>
<rect x="37.06" y="52.06" width="4.31" height="4.32" fill="#9c3289"/>
<rect x="40.77" y="52.06" width="4.31" height="4.32" fill="#b1683b"/>
<rect x="44.47" y="52.06" width="4.31" height="4.32" fill="#a54363"/>
<rect x="48.18" y="52.06" width="4.31" height="4.32" fill="#a2c63b"/>
<rect x="51.89" y="52.06" width="4.31" height="4.32" fill="#a9b633"/>
<rect x="55.59" y="52.06" width="7.71" height="4.32" fill="#85d962"/>
<rect x="-4.00" y="55.78" width="8.31" height="7.72" fill="#993193"/>
<rect x="3.71" y="55.78" width="4.31" height="7.72" fill="#993193"/>
<rect x="7.41" y="55.78" width="4.31" height="7.72" fill="#993193"/>
<rect x="11.12" y="55.78" width="4.31" height="7.72" fill="#993193"/>
<rect x="14.82" y="55.78" width="4.31" height="7.72" fill="#993193"/>
<rect x="18.53" y="55.78" width="4.31" height="7.72" fill="#ac554c"/>
<rect x="22.24" y="55.78" width="4.31" height="7.72" fill="#b37d33"/>
<rect x="25.94" y="55.78" width="4.31" height="7.72" fill="#b37d33"/>
<rect x="29.65" y="55.78" width="4.31" height="7.72" fill="#993193"/>
<rect x="33.36" y="55.78" width="4.31" height="7.72" fill="#973299"/>
<rect x="37.06" y="55.78" width="4.31" height="7.72" fill="#973299"/>
<rect x="40.77" y="55.78" width="4.31" height="7.72" fill="#993193"/>
<rect x="44.47" y="55.78" width="4.31" height="7.72" fill="#993193"/>
<rect x="48.18" y="55.78" width="4.31" height="7.72" fill="#ac554c"/>
<rect x="51.89" y="55.78" width="4.31" height="7.72" fill="#ac554c"/>
<rect x="55.59" y="55.78" width="7.71" height="7.72" fill="#a03877"/>
</g>
</defs>
<g clip-path="url(#ce00)">
<g id="he0">
<rect x="194" y="252.2" width="60.4" height="60.5" fill="#df9ad4"/>
<ellipse cx="242.6" cy="291.2" rx="11.7" ry="7.8" fill="#eab8e4" opacity="0.8"/>
<ellipse cx="200.8" cy="259.8" rx="9.1" ry="3.9" fill="#e6aade" opacity="0.8"/>
<ellipse cx="232.2" cy="255.9" rx="15.7" ry="3.3" fill="#e8b2e0" opacity="0.8"/>
<ellipse cx="206.1" cy="306.8" rx="15.7" ry="5.2" fill="#e4a8dc" opacity="0.8"/>
<g fill="none" stroke="#f4d4ee" stroke-linecap="round">
<path d="M194,283 Q205,280 215,279 Q230,276 240,270 T256,262" stroke-width="2.6"/>
<path d="M222,304 Q238,293 256,281" stroke-width="2.2"/>
<path d="M194,256 Q215,262 240,257" stroke-width="1.8"/>
<path d="M198,311 Q225,306 250,300" stroke-width="1.3"/>
<path d="M236,300 Q245,291 256,289" stroke-width="1.5"/>
<path d="M244,282 Q250,278 256,275" stroke-width="1.2"/>
<path d="M194,300 Q200,296 204,290" stroke-width="1.2"/>
<path d="M230,310 Q242,305 254,306" stroke-width="1.0"/>
<path d="M246,262 Q250,268 256,270" stroke-width="1.0"/>
</g>
<ellipse cx="212" cy="289.5" rx="12" ry="10.5" fill="#eab6e2"/>
<polygon points="196.3,270.3 198.2,266.4 203.4,263.1 211.3,261.1 219.1,261.8 226.9,261.1 232.2,263.1 238.7,262.4 245.2,265.1 246.5,270.3 243.9,275.5 237.4,278.1 230.9,277.5 224.3,276.2 217.8,274.2 210.0,275.5 203.4,276.8 198.2,275.5" fill="#6a3c8c"/>
<circle cx="228.4" cy="274.8" r="1.0" fill="#2e0e4e"/>
<circle cx="201.9" cy="269.4" r="0.6" fill="#2e0e4e"/>
<circle cx="224.3" cy="271.5" r="0.5" fill="#2e0e4e"/>
<circle cx="207.3" cy="265.6" r="1.0" fill="#2e0e4e"/>
<circle cx="235.8" cy="263.2" r="1.0" fill="#2e0e4e"/>
<circle cx="203.2" cy="272.3" r="0.6" fill="#2e0e4e"/>
<circle cx="206.9" cy="264.3" r="1.1" fill="#2e0e4e"/>
<circle cx="241.4" cy="265.8" r="1.1" fill="#2e0e4e"/>
<circle cx="224.0" cy="273.6" r="0.6" fill="#2e0e4e"/>
<circle cx="211.5" cy="267.2" r="0.6" fill="#2e0e4e"/>
<circle cx="211.7" cy="272.1" r="0.5" fill="#2e0e4e"/>
<circle cx="231.3" cy="266.8" r="0.7" fill="#2e0e4e"/>
<circle cx="238.6" cy="269.6" r="0.7" fill="#2e0e4e"/>
<circle cx="221.0" cy="274.1" r="0.5" fill="#2e0e4e"/>
<circle cx="235.0" cy="276.9" r="0.5" fill="#2e0e4e"/>
<circle cx="237.0" cy="267.3" r="0.8" fill="#2e0e4e"/>
<circle cx="206.2" cy="275.1" r="1.1" fill="#2e0e4e"/>
<circle cx="245.0" cy="266.9" r="0.7" fill="#2e0e4e"/>
<circle cx="223.3" cy="275.5" r="0.6" fill="#2e0e4e"/>
<circle cx="234.9" cy="275.9" r="1.0" fill="#2e0e4e"/>
<circle cx="200.7" cy="266.8" r="0.9" fill="#2e0e4e"/>
<circle cx="243.7" cy="266.8" r="1.1" fill="#2e0e4e"/>
<circle cx="224.3" cy="266.2" r="0.7" fill="#2e0e4e"/>
<circle cx="203.7" cy="273.8" r="1.1" fill="#2e0e4e"/>
<circle cx="217.1" cy="264.7" r="0.9" fill="#2e0e4e"/>
<circle cx="239.0" cy="269.1" r="0.8" fill="#2e0e4e"/>
<circle cx="197.7" cy="269.9" r="1.0" fill="#2e0e4e"/>
<circle cx="202.8" cy="274.6" r="1.1" fill="#2e0e4e"/>
<circle cx="228.8" cy="275.8" r="0.6" fill="#2e0e4e"/>
<circle cx="218.6" cy="263.0" r="1.0" fill="#2e0e4e"/>
<circle cx="211.3" cy="269.1" r="1.1" fill="#2e0e4e"/>
<circle cx="219.6" cy="269.8" r="0.9" fill="#2e0e4e"/>
<circle cx="220.9" cy="265.8" r="0.7" fill="#2e0e4e"/>
<circle cx="203.6" cy="267.5" r="1.1" fill="#2e0e4e"/>
<circle cx="222.0" cy="266.8" r="0.6" fill="#2e0e4e"/>
<circle cx="241.1" cy="267.2" r="1.0" fill="#2e0e4e"/>
<circle cx="236.3" cy="273.9" r="0.9" fill="#2e0e4e"/>
<circle cx="235.5" cy="267.3" r="0.9" fill="#2e0e4e"/>
<circle cx="210.6" cy="269.7" r="1.0" fill="#2e0e4e"/>
<circle cx="231.9" cy="265.9" r="1.1" fill="#2e0e4e"/>
<circle cx="229.8" cy="271.6" r="0.5" fill="#2e0e4e"/>
<circle cx="224.4" cy="265.0" r="0.9" fill="#2e0e4e"/>
<circle cx="229.7" cy="276.0" r="0.7" fill="#2e0e4e"/>
<circle cx="229.5" cy="274.8" r="1.0" fill="#2e0e4e"/>
<circle cx="241.2" cy="273.8" r="1.1" fill="#2e0e4e"/>
<circle cx="245.7" cy="270.4" r="0.8" fill="#2e0e4e"/>
<circle cx="244.7" cy="269.5" r="0.9" fill="#2e0e4e"/>
<circle cx="233.4" cy="274.6" r="0.6" fill="#2e0e4e"/>
<circle cx="236.6" cy="271.6" r="0.9" fill="#2e0e4e"/>
<circle cx="217.9" cy="272.5" r="1.0" fill="#2e0e4e"/>
<circle cx="229.1" cy="274.4" r="0.5" fill="#2e0e4e"/>
<circle cx="204.3" cy="268.8" r="0.9" fill="#2e0e4e"/>
<circle cx="207.4" cy="273.7" r="0.9" fill="#2e0e4e"/>
<circle cx="198.2" cy="269.4" r="0.6" fill="#2e0e4e"/>
<circle cx="212.5" cy="263.6" r="0.6" fill="#2e0e4e"/>
<circle cx="197.9" cy="269.3" r="0.7" fill="#2e0e4e"/>
<circle cx="227.8" cy="271.8" r="0.6" fill="#2e0e4e"/>
<circle cx="217.1" cy="265.6" r="0.7" fill="#2e0e4e"/>
<circle cx="227.9" cy="261.9" r="0.8" fill="#2e0e4e"/>
<circle cx="213.6" cy="271.6" r="1.1" fill="#2e0e4e"/>
<circle cx="238.6" cy="268.4" r="1.0" fill="#2e0e4e"/>
<circle cx="229.4" cy="267.4" r="0.6" fill="#2e0e4e"/>
<circle cx="227.0" cy="271.3" r="1.1" fill="#2e0e4e"/>
<circle cx="225.4" cy="272.3" r="0.6" fill="#2e0e4e"/>
<circle cx="215.5" cy="268.6" r="0.6" fill="#2e0e4e"/>
<circle cx="243.5" cy="271.9" r="0.7" fill="#2e0e4e"/>
<circle cx="217.6" cy="266.4" r="1.1" fill="#2e0e4e"/>
<circle cx="221.6" cy="265.7" r="0.8" fill="#2e0e4e"/>
<circle cx="202.3" cy="272.4" r="0.8" fill="#2e0e4e"/>
<circle cx="223.7" cy="265.5" r="1.1" fill="#2e0e4e"/>
<circle cx="236.7" cy="264.9" r="0.7" fill="#2e0e4e"/>
<circle cx="211.2" cy="272.2" r="0.8" fill="#2e0e4e"/>
<circle cx="229.5" cy="272.1" r="0.9" fill="#2e0e4e"/>
<circle cx="202.1" cy="275.2" r="0.7" fill="#2e0e4e"/>
<circle cx="223.7" cy="266.7" r="0.7" fill="#2e0e4e"/>
<circle cx="223.6" cy="269.3" r="0.7" fill="#2e0e4e"/>
<circle cx="234.7" cy="271.8" r="0.5" fill="#2e0e4e"/>
<circle cx="209.1" cy="269.1" r="1.0" fill="#2e0e4e"/>
<circle cx="242.2" cy="270.9" r="0.5" fill="#2e0e4e"/>
<circle cx="236.5" cy="268.6" r="0.8" fill="#2e0e4e"/>
<circle cx="232.8" cy="272.6" r="0.8" fill="#2e0e4e"/>
<circle cx="243.4" cy="267.7" r="0.7" fill="#2e0e4e"/>
<circle cx="240.3" cy="263.9" r="0.7" fill="#2e0e4e"/>
<circle cx="239.5" cy="273.9" r="0.8" fill="#2e0e4e"/>
<circle cx="220.9" cy="271.0" r="0.8" fill="#2e0e4e"/>
<circle cx="213.2" cy="263.1" r="0.9" fill="#2e0e4e"/>
<circle cx="237.2" cy="273.3" r="0.5" fill="#2e0e4e"/>
<circle cx="207.4" cy="272.9" r="1.1" fill="#2e0e4e"/>
<circle cx="203.8" cy="272.2" r="0.7" fill="#2e0e4e"/>
<circle cx="204.4" cy="272.4" r="0.5" fill="#2e0e4e"/>
<circle cx="201.6" cy="267.6" r="0.5" fill="#2e0e4e"/>
<circle cx="199.0" cy="271.5" r="0.9" fill="#2e0e4e"/>
<circle cx="218.4" cy="266.3" r="0.9" fill="#2e0e4e"/>
<circle cx="228.8" cy="270.1" r="1.0" fill="#2e0e4e"/>
<circle cx="224.9" cy="272.4" r="0.7" fill="#2e0e4e"/>
<circle cx="224.7" cy="265.1" r="1.0" fill="#2e0e4e"/>
<circle cx="222.9" cy="262.7" r="0.6" fill="#2e0e4e"/>
<circle cx="205.3" cy="274.3" r="0.9" fill="#2e0e4e"/>
<circle cx="200.4" cy="273.4" r="0.6" fill="#2e0e4e"/>
<circle cx="202.5" cy="271.9" r="0.6" fill="#2e0e4e"/>
<circle cx="241.6" cy="269.6" r="0.7" fill="#2e0e4e"/>
<circle cx="231.4" cy="264.5" r="0.6" fill="#2e0e4e"/>
<circle cx="238.7" cy="262.8" r="0.9" fill="#2e0e4e"/>
<circle cx="214.4" cy="264.7" r="0.7" fill="#2e0e4e"/>
<circle cx="227.9" cy="267.0" r="0.7" fill="#2e0e4e"/>
<circle cx="206.1" cy="267.7" r="1.3" fill="#f2e2f2"/>
<circle cx="211.3" cy="265.7" r="1.2" fill="#f2e2f2"/>
<circle cx="215.2" cy="269.0" r="1.6" fill="#f2e2f2"/>
<circle cx="221.1" cy="270.3" r="1.3" fill="#f2e2f2"/>
<circle cx="225.0" cy="271.6" r="1.6" fill="#f2e2f2"/>
<circle cx="226.9" cy="268.3" r="1.0" fill="#f2e2f2"/>
<circle cx="232.2" cy="270.3" r="1.2" fill="#f2e2f2"/>
<circle cx="217.8" cy="265.1" r="0.9" fill="#f2e2f2"/>
<circle cx="208.7" cy="270.9" r="0.9" fill="#f2e2f2"/>
<circle cx="236.1" cy="267.7" r="0.9" fill="#f2e2f2"/>
<circle cx="228.2" cy="274.2" r="0.8" fill="#f2e2f2"/>
<circle cx="223.0" cy="266.4" r="0.9" fill="#f2e2f2"/>
<circle cx="213.2" cy="271.6" r="0.8" fill="#f2e2f2"/>
<circle cx="219.1" cy="272.9" r="0.8" fill="#f2e2f2"/>
<ellipse cx="211.9" cy="289.2" rx="8.3" ry="7.0" fill="#52246e"/>
<circle cx="216.9" cy="294.1" r="0.8" fill="#2e0e4e"/>
<circle cx="214.1" cy="283.9" r="0.9" fill="#2e0e4e"/>
<circle cx="205.0" cy="288.5" r="0.8" fill="#2e0e4e"/>
<circle cx="211.5" cy="283.7" r="0.5" fill="#2e0e4e"/>
<circle cx="217.8" cy="290.3" r="0.5" fill="#2e0e4e"/>
<circle cx="217.0" cy="285.5" r="0.9" fill="#2e0e4e"/>
<circle cx="218.6" cy="289.2" r="0.9" fill="#2e0e4e"/>
<circle cx="207.1" cy="285.4" r="0.7" fill="#2e0e4e"/>
<circle cx="216.7" cy="292.1" r="0.6" fill="#2e0e4e"/>
<circle cx="207.3" cy="293.1" r="0.9" fill="#2e0e4e"/>
<circle cx="215.4" cy="293.5" r="0.6" fill="#2e0e4e"/>
<circle cx="215.2" cy="293.7" r="0.6" fill="#2e0e4e"/>
<circle cx="206.4" cy="289.7" r="1.0" fill="#2e0e4e"/>
<circle cx="206.6" cy="294.1" r="0.8" fill="#2e0e4e"/>
<circle cx="208.8" cy="284.2" r="1.0" fill="#2e0e4e"/>
<circle cx="217.2" cy="293.3" r="0.6" fill="#2e0e4e"/>
<circle cx="208.6" cy="283.7" r="0.6" fill="#2e0e4e"/>
<circle cx="213.6" cy="293.7" r="0.6" fill="#2e0e4e"/>
<circle cx="217.6" cy="291.8" r="1.0" fill="#2e0e4e"/>
<circle cx="207.8" cy="293.2" r="0.7" fill="#2e0e4e"/>
<circle cx="210.4" cy="295.3" r="0.9" fill="#2e0e4e"/>
<circle cx="215.1" cy="293.6" r="0.8" fill="#2e0e4e"/>
<circle cx="218.5" cy="287.0" r="0.7" fill="#2e0e4e"/>
<circle cx="217.3" cy="288.5" r="0.5" fill="#2e0e4e"/>
<circle cx="213.1" cy="283.7" r="0.5" fill="#2e0e4e"/>
<circle cx="204.3" cy="287.2" r="0.8" fill="#2e0e4e"/>
<circle cx="208.5" cy="293.1" r="0.5" fill="#2e0e4e"/>
<circle cx="217.3" cy="285.8" r="1.0" fill="#2e0e4e"/>
<circle cx="217.7" cy="290.9" r="0.5" fill="#2e0e4e"/>
<circle cx="207.4" cy="292.1" r="0.6" fill="#2e0e4e"/>
<circle cx="206.7" cy="292.1" r="0.5" fill="#2e0e4e"/>
<circle cx="219.6" cy="290.8" r="0.6" fill="#2e0e4e"/>
<circle cx="205.4" cy="288.9" r="0.8" fill="#2e0e4e"/>
<circle cx="217.3" cy="291.9" r="0.6" fill="#2e0e4e"/>
<circle cx="204.4" cy="287.5" r="0.8" fill="#2e0e4e"/>
<circle cx="215.7" cy="285.2" r="0.5" fill="#2e0e4e"/>
<circle cx="205.4" cy="287.8" r="0.8" fill="#2e0e4e"/>
<circle cx="206.9" cy="293.4" r="0.9" fill="#2e0e4e"/>
<circle cx="217.3" cy="286.4" r="0.7" fill="#2e0e4e"/>
<circle cx="214.7" cy="284.6" r="0.6" fill="#2e0e4e"/>
<ellipse cx="212.5" cy="288.8" rx="4" ry="3.2" fill="#b868a8"/>
<circle cx="211.3" cy="287.2" r="0.8" fill="#f2e2f2"/>
<circle cx="213.9" cy="291.2" r="0.8" fill="#f2e2f2"/>
<circle cx="208.7" cy="291.2" r="0.8" fill="#f2e2f2"/>
<ellipse cx="198.2" cy="257.2" rx="1.3" ry="0.5" transform="rotate(-30 198.2 257.2)" fill="#5a2888"/>
<ellipse cx="202.8" cy="254.6" rx="1.0" ry="0.4" transform="rotate(-20 202.8 254.6)" fill="#5a2888"/>
<ellipse cx="221.7" cy="254.6" rx="1.2" ry="0.4" transform="rotate(0 221.7 254.6)" fill="#5a2888"/>
<ellipse cx="242.6" cy="255.9" rx="1.0" ry="0.4" transform="rotate(20 242.6 255.9)" fill="#5a2888"/>
<ellipse cx="195.6" cy="282.0" rx="1.0" ry="0.5" transform="rotate(0 195.6 282.0)" fill="#5a2888"/>
<ellipse cx="225.6" cy="283.3" rx="1.2" ry="0.5" transform="rotate(-30 225.6 283.3)" fill="#5a2888"/>
<ellipse cx="232.2" cy="283.3" rx="1.0" ry="0.4" transform="rotate(20 232.2 283.3)" fill="#5a2888"/>
<ellipse cx="226.9" cy="291.2" rx="0.8" ry="0.5" transform="rotate(0 226.9 291.2)" fill="#5a2888"/>
<ellipse cx="196.9" cy="295.1" rx="1.0" ry="0.4" transform="rotate(-20 196.9 295.1)" fill="#5a2888"/>
<ellipse cx="208.7" cy="300.3" rx="1.3" ry="0.5" transform="rotate(-10 208.7 300.3)" fill="#5a2888"/>
<ellipse cx="200.8" cy="302.9" rx="1.3" ry="0.5" transform="rotate(20 200.8 302.9)" fill="#5a2888"/>
<ellipse cx="216.5" cy="306.8" rx="1.2" ry="0.5" transform="rotate(0 216.5 306.8)" fill="#5a2888"/>
<ellipse cx="250.4" cy="282.0" rx="0.9" ry="0.4" transform="rotate(-40 250.4 282.0)" fill="#5a2888"/>
<ellipse cx="247.8" cy="295.1" rx="1.0" ry="0.4" transform="rotate(0 247.8 295.1)" fill="#5a2888"/>
<ellipse cx="206.1" cy="308.1" rx="1.0" ry="0.4" transform="rotate(10 206.1 308.1)" fill="#5a2888"/>
<ellipse cx="238.7" cy="284.6" rx="0.9" ry="0.4" transform="rotate(0 238.7 284.6)" fill="#5a2888"/>
<ellipse cx="250.4" cy="262.4" rx="0.8" ry="0.4" transform="rotate(0 250.4 262.4)" fill="#5a2888"/>
<ellipse cx="195.6" cy="288.6" rx="0.9" ry="0.4" transform="rotate(30 195.6 288.6)" fill="#5a2888"/>
<ellipse cx="251.7" cy="271.6" rx="0.8" ry="0.4" transform="rotate(-30 251.7 271.6)" fill="#5a2888"/>
<ellipse cx="236.1" cy="306.8" rx="0.9" ry="0.4" transform="rotate(10 236.1 306.8)" fill="#5a2888"/>
<ellipse cx="223.0" cy="309.4" rx="0.9" ry="0.4" transform="rotate(0 223.0 309.4)" fill="#5a2888"/>
</g>
</g>
<g clip-path="url(#ce01)"><use href="#hv0" transform="translate(256.60,252.70)"/></g>
<g clip-path="url(#ce02)"><use href="#hh0" transform="translate(317.00,252.70)"/></g>
<g clip-path="url(#ce03)"><use href="#he0" transform="translate(182.80,0)"/><use href="#ho0" opacity="0.5" transform="translate(377.30,252.70)"/></g>
<rect x="256.5" y="252.6" width="59.6" height="59.7" fill="none" stroke="#3a3a3a" stroke-width="0.8"/>
<rect x="316.9" y="252.6" width="59.5" height="59.7" fill="none" stroke="#3a3a3a" stroke-width="0.8"/>
<rect x="377.2" y="252.6" width="59.5" height="59.7" fill="none" stroke="#3a3a3a" stroke-width="0.8"/>
<rect x="234.7" y="298.1" width="11.9" height="1.5" fill="#111"/>
<text x="239.7" y="308.2" font-size="9.2" text-anchor="middle" fill="#111">25μm</text>
<text x="225.1" y="250.1" font-size="9.3" text-anchor="middle" fill="#262626">Epithelium</text>
<text x="286.4" y="249.6" font-size="9.3" text-anchor="middle" fill="#262626">[1, 0, 0]</text>
<g clip-path="url(#ce10)">
<g id="he1">
<clipPath id="cstr"><rect x="194" y="329" width="60.4" height="60.5"/></clipPath>
<filter id="fib" x="0" y="0" width="100%" height="100%" color-interpolation-filters="sRGB"><feTurbulence type="fractalNoise" baseFrequency="0.05 0.26" numOctaves="2" seed="4" result="n"/><feColorMatrix in="n" type="matrix" values="1 0 0 0 0  1 0 0 0 0  1 0 0 0 0  0 0 0 0 1" result="g"/><feComponentTransfer in="g" result="c"><feFuncR type="table" tableValues="0.86 0.86 0.87 0.89 0.93 0.98 0.99"/><feFuncG type="table" tableValues="0.22 0.22 0.25 0.33 0.50 0.80 0.88"/><feFuncB type="table" tableValues="0.45 0.45 0.47 0.53 0.64 0.88 0.92"/></feComponentTransfer><feComposite in="c" in2="SourceGraphic" operator="in"/></filter>
<g clip-path="url(#cstr)"><rect x="170" y="310" width="110" height="100" fill="#fff" filter="url(#fib)" transform="rotate(-22 224 359)"/></g>
<g fill="none" stroke="#f8d2e6" stroke-linecap="round" opacity="0.85">
<path d="M196,340 Q206,344 216,352" stroke-width="1.3"/>
<path d="M200,333 Q212,336 222,345" stroke-width="1.0"/>
<path d="M222,346 Q236,338 252,333" stroke-width="1.2"/>
<path d="M228,334 Q233,343 236,350" stroke-width="1.0"/>
<path d="M241,340 Q247,347 252,356" stroke-width="1.0"/>
<path d="M195,364 Q208,358 222,359" stroke-width="1.0"/>
<path d="M238,364 Q246,357 254,352" stroke-width="1.2"/>
<path d="M222,373 Q236,369 250,367" stroke-width="1.1"/>
<path d="M199,377 Q207,373 216,369" stroke-width="0.9"/>
<path d="M204,356 Q213,350 221,347" stroke-width="0.9"/>
</g>
<ellipse cx="233" cy="360" rx="6.5" ry="5.5" fill="#e6c4ea" opacity="0.9"/>
<ellipse cx="229" cy="357" rx="2.2" ry="1" transform="rotate(60 229 357)" fill="#5a2a80"/>
<ellipse cx="235" cy="362" rx="2" ry="1.2" transform="rotate(0 235 362)" fill="#5a2a80"/>
<ellipse cx="238" cy="358" rx="1.5" ry="1" transform="rotate(30 238 358)" fill="#5a2a80"/>
<ellipse cx="231" cy="363" rx="1.5" ry="0.8" transform="rotate(0 231 363)" fill="#5a2a80"/>
<ellipse cx="221" cy="348" rx="1.2" ry="0.6" transform="rotate(-40 221 348)" fill="#5a2a80"/>
<ellipse cx="212" cy="346" rx="1" ry="0.6" transform="rotate(0 212 346)" fill="#5a2a80"/>
<ellipse cx="210" cy="362" rx="1.5" ry="0.6" transform="rotate(-10 210 362)" fill="#5a2a80"/>
<ellipse cx="226" cy="371" rx="2" ry="0.6" transform="rotate(30 226 371)" fill="#5a2a80"/>
<ellipse cx="217" cy="385" rx="1.2" ry="0.6" transform="rotate(0 217 385)" fill="#5a2a80"/>
<ellipse cx="247" cy="335" rx="1" ry="0.5" transform="rotate(0 247 335)" fill="#5a2a80"/>
</g>
</g>
<g clip-path="url(#ce11)"><use href="#hv1" transform="translate(256.60,329.50)"/></g>
<g clip-path="url(#ce12)"><use href="#hh1" transform="translate(317.00,329.50)"/></g>
<g clip-path="url(#ce13)"><use href="#he1" transform="translate(182.80,0)"/><use href="#ho1" opacity="0.5" transform="translate(377.30,329.50)"/></g>
<rect x="256.5" y="329.4" width="59.6" height="59.7" fill="none" stroke="#3a3a3a" stroke-width="0.8"/>
<rect x="316.9" y="329.4" width="59.5" height="59.7" fill="none" stroke="#3a3a3a" stroke-width="0.8"/>
<rect x="377.2" y="329.4" width="59.5" height="59.7" fill="none" stroke="#3a3a3a" stroke-width="0.8"/>
<rect x="234.7" y="374.6" width="11.9" height="1.5" fill="#111"/>
<text x="239.7" y="384.7" font-size="9.2" text-anchor="middle" fill="#111">25μm</text>
<text x="225.1" y="327.8" font-size="9.3" text-anchor="middle" fill="#262626">Stroma</text>
<text x="286.4" y="327.3" font-size="9.3" text-anchor="middle" fill="#262626">[0.01, 0.99, 0]</text>
<g clip-path="url(#ce20)">
<g id="he2">
<rect x="194" y="405.2" width="60.4" height="60.6" fill="#fcf8fb"/>
<polygon points="237.5,414.8 244.2,410.1 249.6,405.6 256.3,405.3 256.3,420.8 252.3,419.5 246.9,417.5 240.2,416.1" fill="#e6a0cc"/>
<polygon points="242.9,413.4 249.6,408.7 253.7,409.4 252.3,416.1 246.9,415.5" fill="#eeb8da" opacity="0.8"/>
<polygon points="205.8,410.1 220.0,407.8 221.6,416.8 213.2,418.8 208.5,416.8" fill="#f6dcea"/>
<polygon points="213.2,419.1 222.0,416.8 228.7,418.8 226.0,424.2 214.6,422.9" fill="#f8e4ef"/>
<polygon points="193.0,442.4 198.4,445.1 203.8,449.8 210.5,453.9 218.6,455.2 226.7,454.1 222.9,459.3 219.3,463.3 214.6,467.3 193.0,467.3" fill="#c52f72"/>
<g fill="none" stroke="#e07aa8" stroke-width="0.8" opacity="0.7">
<path d="M194.3,448.5 L203.8,455.2 L213.2,460.6"/><path d="M194.3,455.2 L201.1,459.3 L209.2,464.7"/>
</g>
<g fill="none" stroke="#cc3c82" stroke-linecap="round" stroke-linejoin="round">
<path d="M193.0,409.4 L201.1,410.1 L209.2,409.1 L220.6,407.0" stroke-width="2.2"/>
<path d="M193.0,408.0 L198.4,408.0" stroke-width="2.5"/>
<path d="M198.4,410.7 L203.8,415.1 L207.8,419.5 L209.8,423.1" stroke-width="2.6"/>
<path d="M220.2,407.4 L221.6,412.4 L224.3,415.1 L231.4,417.2" stroke-width="2.4"/>
<path d="M209.4,423.1 L217.3,424.2 L225.3,425.6 L229.1,420.4 L231.4,417.5" stroke-width="2.0"/>
<path d="M209.4,423.5 L205.1,428.0 L201.1,432.6 L197.0,435.8 L193.0,437.7" stroke-width="2.2"/>
<path d="M210.5,418.6 L216.6,417.7 L222.0,416.4 L224.3,415.3" stroke-width="1.4"/>
</g>
<g fill="none" stroke="#d987c0" stroke-linecap="round">
<path d="M225.3,425.6 L223.5,431.0 L222.9,439.0 L224.7,447.1 L227.4,452.5 L229.7,454.4" stroke-width="1.1"/>
<path d="M231.4,417.5 L237.5,416.8 L246.9,417.7 L256.3,419.9" stroke-width="0.9"/>
<path d="M229.7,454.4 L236.1,456.8 L246.9,458.2 L256.3,457.9" stroke-width="0.9"/>
</g>
<circle cx="225.6" cy="425.8" r="1.0" fill="#5a2a80"/>
</g>
</g>
<g clip-path="url(#ce21)"><use href="#hv2" transform="translate(256.60,405.70)"/></g>
<g clip-path="url(#ce22)"><use href="#hh2" transform="translate(317.00,405.70)"/></g>
<g clip-path="url(#ce23)"><use href="#he2" transform="translate(182.80,0)"/><use href="#ho2" opacity="0.5" transform="translate(377.30,405.70)"/></g>
<rect x="256.5" y="405.6" width="59.6" height="59.7" fill="none" stroke="#3a3a3a" stroke-width="0.8"/>
<rect x="316.9" y="405.6" width="59.5" height="59.7" fill="none" stroke="#3a3a3a" stroke-width="0.8"/>
<rect x="377.2" y="405.6" width="59.5" height="59.7" fill="none" stroke="#3a3a3a" stroke-width="0.8"/>
<rect x="234.7" y="451.2" width="11.9" height="1.5" fill="#111"/>
<text x="239.7" y="461.3" font-size="9.2" text-anchor="middle" fill="#111">25μm</text>
<text x="225.1" y="402.9" font-size="9.3" text-anchor="middle" fill="#262626">Adipocytes</text>
<text x="286.4" y="402.4" font-size="9.3" text-anchor="middle" fill="#262626">[0, 0, 1]</text>
<text x="180.6" y="249.8" font-size="14" font-weight="bold" fill="#111">e</text>
<defs><clipPath id="fclip"><rect x="470.3" y="252.4" width="213.1" height="212.8"/></clipPath><clipPath id="lobclip"><path d="M612.4,300.0 C620.4,301.7 634.4,305.2 642.8,313.8 C651.2,322.4 660.0,341.2 663.0,351.8 C666.0,362.4 664.0,369.6 660.6,377.2 C657.2,384.8 650.0,391.1 642.8,397.5 C635.6,403.9 627.5,410.7 617.4,415.3 C607.2,419.9 592.0,424.1 581.9,425.4 C571.8,426.7 562.0,426.7 556.5,422.9 C551.0,419.1 549.8,411.1 548.9,402.6 C548.0,394.1 549.7,382.2 551.4,372.1 C553.1,362.0 554.8,351.0 559.0,341.7 C563.2,332.4 570.9,322.6 576.8,316.3 C582.7,310.0 588.7,306.3 594.6,303.6 C600.5,300.9 604.4,298.3 612.4,300.0Z"/></clipPath><filter id="mottle" x="0" y="0" width="100%" height="100%" color-interpolation-filters="sRGB"><feTurbulence type="fractalNoise" baseFrequency="0.13" numOctaves="3" seed="5" result="n"/><feColorMatrix in="n" type="matrix" values="1 0 0 0 0  1 0 0 0 0  1 0 0 0 0  0 0 0 0 1" result="g"/><feComponentTransfer in="g" result="c"><feFuncR type="table" tableValues="0.63 0.63 0.64 0.68 0.78 0.80 0.70 0.62"/><feFuncG type="table" tableValues="0.32 0.32 0.34 0.40 0.57 0.70 0.78 0.80"/><feFuncB type="table" tableValues="0.61 0.61 0.61 0.59 0.50 0.49 0.65 0.78"/></feComponentTransfer><feComposite in="c" in2="SourceGraphic" operator="in"/></filter><filter id="lob" x="0" y="0" width="100%" height="100%" color-interpolation-filters="sRGB"><feTurbulence type="fractalNoise" baseFrequency="0.13" numOctaves="2" seed="9" result="n"/><feColorMatrix in="n" type="matrix" values="1 0 0 0 0  1 0 0 0 0  1 0 0 0 0  0 0 0 0 1" result="g"/><feComponentTransfer in="g" result="c1"><feFuncR type="table" tableValues="0.52 0.52 0.56 0.64 0.66 0.66"/><feFuncG type="table" tableValues="0.50 0.50 0.46 0.40 0.36 0.36"/><feFuncB type="table" tableValues="0.34 0.34 0.42 0.54 0.58 0.58"/></feComponentTransfer><feTurbulence type="turbulence" baseFrequency="0.19" numOctaves="1" seed="3" result="n2"/><feColorMatrix in="n2" type="matrix" values="0 0 0 0 0.80  0 0 0 0 0.72  0 0 0 0 0.5  -4.5 0 0 0 0.72" result="ln"/><feComposite in="ln" in2="c1" operator="over" result="c"/><feComposite in="c" in2="SourceGraphic" operator="in"/></filter><filter id="lsoft" x="-5%" y="-5%" width="110%" height="110%"><feGaussianBlur stdDeviation="0.55"/></filter><filter id="fsoft" x="-20%" y="-20%" width="140%" height="140%"><feGaussianBlur stdDeviation="0.7"/></filter><filter id="fglow" x="-30%" y="-30%" width="160%" height="160%"><feGaussianBlur stdDeviation="1.7"/></filter></defs>
<g clip-path="url(#fclip)">
<rect x="470.3" y="252.4" width="213.1" height="212.8" fill="#fff" filter="url(#mottle)"/>
<g fill="#9e4a99" opacity="0.85" filter="url(#fsoft)">
<path d="M470,252 L610,252 L610,270 L560,292 L470,296 Z"/>
<path d="M470,289 L520,289 L520,296 L470,296 Z"/>
<path d="M515,305 Q530,300 550,297 L562,300 L545,315 Q528,318 515,312 Z"/>
<path d="M496,356 L560,352 L570,372 L566,466 L497,466 L494,400 Z"/>
<path d="M600,278 L640,276 L645,292 L600,296 Z"/>
<path d="M640,300 L684,306 L684,320 L650,322 Z"/>
<path d="M598,430 L650,428 L684,432 L684,466 L598,466 Z"/>
<path d="M470,330 L478,330 L478,345 L470,345 Z"/>
<path d="M560,330 L575,320 L578,340 L565,350 Z"/>
</g>
<path d="M612.4,300.0 C620.4,301.7 634.4,305.2 642.8,313.8 C651.2,322.4 660.0,341.2 663.0,351.8 C666.0,362.4 664.0,369.6 660.6,377.2 C657.2,384.8 650.0,391.1 642.8,397.5 C635.6,403.9 627.5,410.7 617.4,415.3 C607.2,419.9 592.0,424.1 581.9,425.4 C571.8,426.7 562.0,426.7 556.5,422.9 C551.0,419.1 549.8,411.1 548.9,402.6 C548.0,394.1 549.7,382.2 551.4,372.1 C553.1,362.0 554.8,351.0 559.0,341.7 C563.2,332.4 570.9,322.6 576.8,316.3 C582.7,310.0 588.7,306.3 594.6,303.6 C600.5,300.9 604.4,298.3 612.4,300.0Z" fill="#9c6e8c"/>
<g clip-path="url(#lobclip)" filter="url(#lsoft)">
<circle cx="545.9" cy="298.5" r="2.5" fill="#88844f" stroke="#c4ac7c" stroke-width="0.8"/>
<circle cx="545.3" cy="298.4" r="0.9" fill="#66b6c6"/>
<circle cx="552.8" cy="298.6" r="2.5" fill="#88844f" stroke="#c4ac7c" stroke-width="0.8"/>
<circle cx="558.1" cy="296.9" r="2.4" fill="#88844f" stroke="#c4ac7c" stroke-width="0.8"/>
<circle cx="558.6" cy="296.3" r="1.2" fill="#66b6c6"/>
<circle cx="562.0" cy="298.6" r="2.3" fill="#88844f" stroke="#c4ac7c" stroke-width="0.8"/>
<circle cx="570.3" cy="296.5" r="2.0" fill="#88844f" stroke="#c4ac7c" stroke-width="0.8"/>
<circle cx="575.0" cy="296.7" r="2.8" fill="#88844f" stroke="#c4ac7c" stroke-width="0.8"/>
<circle cx="579.6" cy="297.8" r="2.1" fill="#88844f" stroke="#c4ac7c" stroke-width="0.8"/>
<circle cx="579.7" cy="297.4" r="1.1" fill="#66b6c6"/>
<circle cx="585.2" cy="296.9" r="2.7" fill="#88844f" stroke="#c4ac7c" stroke-width="0.8"/>
<circle cx="592.1" cy="298.3" r="2.4" fill="#88844f" stroke="#c4ac7c" stroke-width="0.8"/>
<circle cx="591.6" cy="298.6" r="1.3" fill="#66b6c6"/>
<circle cx="599.7" cy="298.5" r="2.3" fill="#88844f" stroke="#c4ac7c" stroke-width="0.8"/>
<circle cx="600.0" cy="298.7" r="0.9" fill="#66b6c6"/>
<circle cx="603.2" cy="297.6" r="2.4" fill="#88844f" stroke="#c4ac7c" stroke-width="0.8"/>
<circle cx="609.8" cy="296.5" r="2.7" fill="#88844f" stroke="#c4ac7c" stroke-width="0.8"/>
<circle cx="615.7" cy="297.1" r="2.3" fill="#88844f" stroke="#c4ac7c" stroke-width="0.8"/>
<circle cx="616.0" cy="296.6" r="1.1" fill="#66b6c6"/>
<circle cx="620.4" cy="298.6" r="2.0" fill="#88844f" stroke="#c4ac7c" stroke-width="0.8"/>
<circle cx="620.2" cy="298.8" r="0.8" fill="#66b6c6"/>
<circle cx="627.1" cy="297.1" r="2.2" fill="#88844f" stroke="#c4ac7c" stroke-width="0.8"/>
<circle cx="634.5" cy="297.9" r="2.8" fill="#88844f" stroke="#c4ac7c" stroke-width="0.8"/>
<circle cx="635.0" cy="297.8" r="0.9" fill="#66b6c6"/>
<circle cx="639.6" cy="299.3" r="2.0" fill="#88844f" stroke="#c4ac7c" stroke-width="0.8"/>
<circle cx="639.9" cy="299.1" r="0.9" fill="#66b6c6"/>
<circle cx="643.0" cy="296.5" r="2.5" fill="#88844f" stroke="#c4ac7c" stroke-width="0.8"/>
<circle cx="652.0" cy="298.0" r="2.0" fill="#88844f" stroke="#c4ac7c" stroke-width="0.8"/>
<circle cx="652.3" cy="298.4" r="1.1" fill="#66b6c6"/>
<circle cx="655.3" cy="298.1" r="2.4" fill="#88844f" stroke="#c4ac7c" stroke-width="0.8"/>
<circle cx="661.2" cy="299.4" r="2.7" fill="#88844f" stroke="#c4ac7c" stroke-width="0.8"/>
<circle cx="661.0" cy="299.9" r="0.9" fill="#66b6c6"/>
<circle cx="550.2" cy="303.2" r="2.6" fill="#88844f" stroke="#c4ac7c" stroke-width="0.8"/>
<circle cx="553.7" cy="302.5" r="2.2" fill="#88844f" stroke="#c4ac7c" stroke-width="0.8"/>
<circle cx="561.0" cy="302.0" r="2.7" fill="#88844f" stroke="#c4ac7c" stroke-width="0.8"/>
<circle cx="565.4" cy="303.0" r="2.8" fill="#88844f" stroke="#c4ac7c" stroke-width="0.8"/>
<circle cx="572.4" cy="304.5" r="2.8" fill="#88844f" stroke="#c4ac7c" stroke-width="0.8"/>
<circle cx="577.5" cy="303.5" r="2.7" fill="#88844f" stroke="#c4ac7c" stroke-width="0.8"/>
<circle cx="583.9" cy="302.7" r="2.3" fill="#88844f" stroke="#c4ac7c" stroke-width="0.8"/>
<circle cx="589.6" cy="301.7" r="2.6" fill="#88844f" stroke="#c4ac7c" stroke-width="0.8"/>
<circle cx="596.2" cy="304.5" r="2.7" fill="#88844f" stroke="#c4ac7c" stroke-width="0.8"/>
<circle cx="601.9" cy="302.8" r="2.1" fill="#88844f" stroke="#c4ac7c" stroke-width="0.8"/>
<circle cx="601.7" cy="303.3" r="1.1" fill="#66b6c6"/>
<circle cx="606.9" cy="303.6" r="2.1" fill="#88844f" stroke="#c4ac7c" stroke-width="0.8"/>
<circle cx="613.2" cy="302.9" r="2.2" fill="#88844f" stroke="#c4ac7c" stroke-width="0.8"/>
<circle cx="617.8" cy="303.8" r="2.1" fill="#88844f" stroke="#c4ac7c" stroke-width="0.8"/>
<circle cx="617.6" cy="304.0" r="1.2" fill="#66b6c6"/>
<circle cx="624.7" cy="304.6" r="2.3" fill="#88844f" stroke="#c4ac7c" stroke-width="0.8"/>
<circle cx="624.7" cy="304.5" r="0.9" fill="#66b6c6"/>
<circle cx="630.5" cy="302.7" r="2.2" fill="#88844f" stroke="#c4ac7c" stroke-width="0.8"/>
<circle cx="631.1" cy="302.1" r="1.0" fill="#66b6c6"/>
<circle cx="635.1" cy="302.2" r="2.3" fill="#88844f" stroke="#c4ac7c" stroke-width="0.8"/>
<circle cx="635.6" cy="302.2" r="1.1" fill="#66b6c6"/>
<circle cx="640.5" cy="303.1" r="2.5" fill="#88844f" stroke="#c4ac7c" stroke-width="0.8"/>
<circle cx="646.6" cy="303.1" r="2.7" fill="#88844f" stroke="#c4ac7c" stroke-width="0.8"/>
<circle cx="652.3" cy="303.3" r="2.6" fill="#88844f" stroke="#c4ac7c" stroke-width="0.8"/>
<circle cx="652.5" cy="303.5" r="1.3" fill="#66b6c6"/>
<circle cx="659.2" cy="303.8" r="2.3" fill="#88844f" stroke="#c4ac7c" stroke-width="0.8"/>
<circle cx="664.2" cy="303.2" r="2.3" fill="#88844f" stroke="#c4ac7c" stroke-width="0.8"/>
<circle cx="663.8" cy="302.9" r="1.1" fill="#66b6c6"/>
<circle cx="545.2" cy="306.9" r="2.6" fill="#88844f" stroke="#c4ac7c" stroke-width="0.8"/>
<circle cx="545.7" cy="307.1" r="1.0" fill="#66b6c6"/>
<circle cx="553.0" cy="309.7" r="2.3" fill="#88844f" stroke="#c4ac7c" stroke-width="0.8"/>
<circle cx="553.2" cy="310.1" r="1.1" fill="#66b6c6"/>
<circle cx="558.5" cy="308.1" r="2.5" fill="#88844f" stroke="#c4ac7c" stroke-width="0.8"/>
<circle cx="558.4" cy="308.0" r="1.0" fill="#66b6c6"/>
<circle cx="563.1" cy="309.4" r="2.1" fill="#88844f" stroke="#c4ac7c" stroke-width="0.8"/>
<circle cx="562.8" cy="309.9" r="1.1" fill="#66b6c6"/>
<circle cx="567.8" cy="309.5" r="2.7" fill="#88844f" stroke="#c4ac7c" stroke-width="0.8"/>
<circle cx="574.5" cy="309.2" r="2.2" fill="#88844f" stroke="#c4ac7c" stroke-width="0.8"/>
<circle cx="575.0" cy="309.6" r="0.9" fill="#66b6c6"/>
<circle cx="582.0" cy="306.9" r="2.2" fill="#88844f" stroke="#c4ac7c" stroke-width="0.8"/>
<circle cx="581.6" cy="306.5" r="1.2" fill="#66b6c6"/>
<circle cx="585.9" cy="307.4" r="2.1" fill="#88844f" stroke="#c4ac7c" stroke-width="0.8"/>
<circle cx="586.4" cy="307.5" r="0.9" fill="#66b6c6"/>
<circle cx="593.0" cy="308.5" r="2.4" fill="#88844f" stroke="#c4ac7c" stroke-width="0.8"/>
<circle cx="598.7" cy="309.4" r="2.4" fill="#88844f" stroke="#c4ac7c" stroke-width="0.8"/>
<circle cx="603.9" cy="308.8" r="2.3" fill="#88844f" stroke="#c4ac7c" stroke-width="0.8"/>
<circle cx="609.9" cy="309.1" r="2.2" fill="#88844f" stroke="#c4ac7c" stroke-width="0.8"/>
<circle cx="615.6" cy="309.5" r="2.6" fill="#88844f" stroke="#c4ac7c" stroke-width="0.8"/>
<circle cx="622.0" cy="308.2" r="2.3" fill="#88844f" stroke="#c4ac7c" stroke-width="0.8"/>
<circle cx="628.0" cy="309.5" r="2.1" fill="#88844f" stroke="#c4ac7c" stroke-width="0.8"/>
<circle cx="627.5" cy="309.0" r="0.8" fill="#66b6c6"/>
<circle cx="631.4" cy="307.6" r="2.1" fill="#88844f" stroke="#c4ac7c" stroke-width="0.8"/>
<circle cx="639.2" cy="309.9" r="2.8" fill="#88844f" stroke="#c4ac7c" stroke-width="0.8"/>
<circle cx="646.0" cy="306.9" r="2.2" fill="#88844f" stroke="#c4ac7c" stroke-width="0.8"/>
<circle cx="650.3" cy="307.5" r="2.6" fill="#88844f" stroke="#c4ac7c" stroke-width="0.8"/>
<circle cx="656.3" cy="307.8" r="2.2" fill="#88844f" stroke="#c4ac7c" stroke-width="0.8"/>
<circle cx="656.5" cy="308.4" r="1.3" fill="#66b6c6"/>
<circle cx="662.8" cy="309.8" r="2.3" fill="#88844f" stroke="#c4ac7c" stroke-width="0.8"/>
<circle cx="663.4" cy="309.9" r="1.1" fill="#66b6c6"/>
<circle cx="547.2" cy="312.7" r="2.4" fill="#88844f" stroke="#c4ac7c" stroke-width="0.8"/>
<circle cx="555.6" cy="314.4" r="2.3" fill="#88844f" stroke="#c4ac7c" stroke-width="0.8"/>
<circle cx="556.1" cy="315.0" r="1.0" fill="#66b6c6"/>
<circle cx="559.4" cy="314.0" r="2.4" fill="#88844f" stroke="#c4ac7c" stroke-width="0.8"/>
<circle cx="559.1" cy="313.9" r="1.1" fill="#66b6c6"/>
<circle cx="565.0" cy="313.7" r="2.8" fill="#88844f" stroke="#c4ac7c" stroke-width="0.8"/>
<circle cx="571.2" cy="313.3" r="2.1" fill="#88844f" stroke="#c4ac7c" stroke-width="0.8"/>
<circle cx="578.2" cy="312.6" r="2.4" fill="#88844f" stroke="#c4ac7c" stroke-width="0.8"/>
<circle cx="583.8" cy="313.2" r="2.2" fill="#88844f" stroke="#c4ac7c" stroke-width="0.8"/>
<circle cx="584.4" cy="313.0" r="1.1" fill="#66b6c6"/>
<circle cx="589.3" cy="312.6" r="2.3" fill="#88844f" stroke="#c4ac7c" stroke-width="0.8"/>
<circle cx="589.1" cy="312.4" r="1.0" fill="#66b6c6"/>
<circle cx="596.6" cy="312.9" r="2.3" fill="#88844f" stroke="#c4ac7c" stroke-width="0.8"/>
<circle cx="600.7" cy="313.7" r="2.5" fill="#88844f" stroke="#c4ac7c" stroke-width="0.8"/>
<circle cx="600.9" cy="313.2" r="0.9" fill="#66b6c6"/>
<circle cx="607.8" cy="315.2" r="2.5" fill="#88844f" stroke="#c4ac7c" stroke-width="0.8"/>
<circle cx="607.7" cy="314.9" r="1.2" fill="#66b6c6"/>
<circle cx="611.7" cy="312.6" r="2.5" fill="#88844f" stroke="#c4ac7c" stroke-width="0.8"/>
<circle cx="618.7" cy="313.5" r="2.8" fill="#88844f" stroke="#c4ac7c" stroke-width="0.8"/>
<circle cx="625.6" cy="313.3" r="2.4" fill="#88844f" stroke="#c4ac7c" stroke-width="0.8"/>
<circle cx="625.9" cy="313.6" r="0.9" fill="#66b6c6"/>
<circle cx="630.1" cy="314.3" r="2.4" fill="#88844f" stroke="#c4ac7c" stroke-width="0.8"/>
<circle cx="636.2" cy="314.3" r="2.3" fill="#88844f" stroke="#c4ac7c" stroke-width="0.8"/>
<circle cx="635.6" cy="314.8" r="1.2" fill="#66b6c6"/>
<circle cx="641.2" cy="315.1" r="2.7" fill="#88844f" stroke="#c4ac7c" stroke-width="0.8"/>
<circle cx="641.7" cy="315.0" r="1.0" fill="#66b6c6"/>
<circle cx="646.6" cy="313.3" r="2.0" fill="#88844f" stroke="#c4ac7c" stroke-width="0.8"/>
<circle cx="646.2" cy="313.1" r="0.9" fill="#66b6c6"/>
<circle cx="652.0" cy="314.7" r="2.3" fill="#88844f" stroke="#c4ac7c" stroke-width="0.8"/>
<circle cx="659.3" cy="315.0" r="2.1" fill="#88844f" stroke="#c4ac7c" stroke-width="0.8"/>
<circle cx="659.8" cy="315.5" r="1.3" fill="#66b6c6"/>
<circle cx="664.9" cy="313.2" r="2.2" fill="#88844f" stroke="#c4ac7c" stroke-width="0.8"/>
<circle cx="546.8" cy="319.0" r="2.6" fill="#88844f" stroke="#c4ac7c" stroke-width="0.8"/>
<circle cx="546.9" cy="319.5" r="0.9" fill="#66b6c6"/>
<circle cx="552.2" cy="317.8" r="2.7" fill="#88844f" stroke="#c4ac7c" stroke-width="0.8"/>
<circle cx="558.1" cy="318.6" r="2.0" fill="#88844f" stroke="#c4ac7c" stroke-width="0.8"/>
<circle cx="562.9" cy="318.5" r="2.1" fill="#88844f" stroke="#c4ac7c" stroke-width="0.8"/>
<circle cx="569.3" cy="319.0" r="2.7" fill="#88844f" stroke="#c4ac7c" stroke-width="0.8"/>
<circle cx="575.2" cy="318.9" r="2.7" fill="#88844f" stroke="#c4ac7c" stroke-width="0.8"/>
<circle cx="575.6" cy="318.4" r="1.2" fill="#66b6c6"/>
<circle cx="580.9" cy="319.2" r="2.8" fill="#88844f" stroke="#c4ac7c" stroke-width="0.8"/>
<circle cx="580.8" cy="319.6" r="1.2" fill="#66b6c6"/>
<circle cx="586.7" cy="319.7" r="2.5" fill="#88844f" stroke="#c4ac7c" stroke-width="0.8"/>
<circle cx="592.9" cy="318.4" r="2.2" fill="#88844f" stroke="#c4ac7c" stroke-width="0.8"/>
<circle cx="592.4" cy="317.8" r="1.3" fill="#66b6c6"/>
<circle cx="597.1" cy="319.1" r="2.1" fill="#88844f" stroke="#c4ac7c" stroke-width="0.8"/>
<circle cx="604.1" cy="317.8" r="2.7" fill="#88844f" stroke="#c4ac7c" stroke-width="0.8"/>
<circle cx="611.3" cy="317.9" r="2.3" fill="#88844f" stroke="#c4ac7c" stroke-width="0.8"/>
<circle cx="614.9" cy="319.0" r="2.6" fill="#88844f" stroke="#c4ac7c" stroke-width="0.8"/>
<circle cx="622.4" cy="319.6" r="2.2" fill="#88844f" stroke="#c4ac7c" stroke-width="0.8"/>
<circle cx="627.0" cy="317.7" r="2.0" fill="#88844f" stroke="#c4ac7c" stroke-width="0.8"/>
<circle cx="632.5" cy="317.5" r="2.4" fill="#88844f" stroke="#c4ac7c" stroke-width="0.8"/>
<circle cx="638.2" cy="319.0" r="2.4" fill="#88844f" stroke="#c4ac7c" stroke-width="0.8"/>
<circle cx="646.2" cy="320.1" r="2.2" fill="#88844f" stroke="#c4ac7c" stroke-width="0.8"/>
<circle cx="649.8" cy="320.2" r="2.0" fill="#88844f" stroke="#c4ac7c" stroke-width="0.8"/>
<circle cx="650.3" cy="320.4" r="1.2" fill="#66b6c6"/>
<circle cx="655.3" cy="317.6" r="2.8" fill="#88844f" stroke="#c4ac7c" stroke-width="0.8"/>
<circle cx="654.9" cy="317.5" r="1.2" fill="#66b6c6"/>
<circle cx="662.6" cy="320.4" r="2.6" fill="#88844f" stroke="#c4ac7c" stroke-width="0.8"/>
<circle cx="550.1" cy="323.4" r="2.0" fill="#88844f" stroke="#c4ac7c" stroke-width="0.8"/>
<circle cx="555.8" cy="324.5" r="2.4" fill="#88844f" stroke="#c4ac7c" stroke-width="0.8"/>
<circle cx="555.5" cy="324.0" r="0.8" fill="#66b6c6"/>
<circle cx="560.3" cy="325.3" r="2.7" fill="#88844f" stroke="#c4ac7c" stroke-width="0.8"/>
<circle cx="566.8" cy="323.9" r="2.6" fill="#88844f" stroke="#c4ac7c" stroke-width="0.8"/>
<circle cx="573.6" cy="325.1" r="2.5" fill="#88844f" stroke="#c4ac7c" stroke-width="0.8"/>
<circle cx="576.7" cy="323.9" r="2.4" fill="#88844f" stroke="#c4ac7c" stroke-width="0.8"/>
<circle cx="576.4" cy="323.8" r="0.9" fill="#66b6c6"/>
<circle cx="584.0" cy="323.4" r="2.8" fill="#88844f" stroke="#c4ac7c" stroke-width="0.8"/>
<circle cx="589.5" cy="323.8" r="2.3" fill="#88844f" stroke="#c4ac7c" stroke-width="0.8"/>
<circle cx="590.0" cy="324.3" r="1.1" fill="#66b6c6"/>
<circle cx="595.7" cy="322.9" r="2.4" fill="#88844f" stroke="#c4ac7c" stroke-width="0.8"/>
<circle cx="595.5" cy="323.0" r="0.9" fill="#66b6c6"/>
<circle cx="600.1" cy="324.7" r="2.4" fill="#88844f" stroke="#c4ac7c" stroke-width="0.8"/>
<circle cx="605.7" cy="322.7" r="2.8" fill="#88844f" stroke="#c4ac7c" stroke-width="0.8"/>
<circle cx="613.2" cy="324.2" r="2.1" fill="#88844f" stroke="#c4ac7c" stroke-width="0.8"/>
<circle cx="618.4" cy="325.3" r="2.1" fill="#88844f" stroke="#c4ac7c" stroke-width="0.8"/>
<circle cx="618.4" cy="325.0" r="1.2" fill="#66b6c6"/>
<circle cx="623.4" cy="322.7" r="2.1" fill="#88844f" stroke="#c4ac7c" stroke-width="0.8"/>
<circle cx="624.0" cy="323.1" r="1.1" fill="#66b6c6"/>
<circle cx="629.8" cy="322.5" r="2.7" fill="#88844f" stroke="#c4ac7c" stroke-width="0.8"/>
<circle cx="629.4" cy="322.5" r="1.2" fill="#66b6c6"/>
<circle cx="634.8" cy="322.6" r="2.7" fill="#88844f" stroke="#c4ac7c" stroke-width="0.8"/>
<circle cx="635.1" cy="322.2" r="0.9" fill="#66b6c6"/>
<circle cx="640.7" cy="323.8" r="2.7" fill="#88844f" stroke="#c4ac7c" stroke-width="0.8"/>
<circle cx="647.5" cy="322.7" r="2.1" fill="#88844f" stroke="#c4ac7c" stroke-width="0.8"/>
<circle cx="647.9" cy="323.2" r="0.8" fill="#66b6c6"/>
<circle cx="652.7" cy="325.5" r="2.1" fill="#88844f" stroke="#c4ac7c" stroke-width="0.8"/>
<circle cx="652.4" cy="325.9" r="0.9" fill="#66b6c6"/>
<circle cx="659.7" cy="322.8" r="2.5" fill="#88844f" stroke="#c4ac7c" stroke-width="0.8"/>
<circle cx="659.8" cy="323.1" r="1.2" fill="#66b6c6"/>
<circle cx="664.6" cy="325.6" r="2.3" fill="#88844f" stroke="#c4ac7c" stroke-width="0.8"/>
<circle cx="547.3" cy="330.8" r="2.1" fill="#88844f" stroke="#c4ac7c" stroke-width="0.8"/>
<circle cx="547.6" cy="331.3" r="0.9" fill="#66b6c6"/>
<circle cx="552.7" cy="329.1" r="2.0" fill="#88844f" stroke="#c4ac7c" stroke-width="0.8"/>
<circle cx="552.1" cy="328.8" r="1.3" fill="#66b6c6"/>
<circle cx="558.2" cy="330.4" r="2.7" fill="#88844f" stroke="#c4ac7c" stroke-width="0.8"/>
<circle cx="558.4" cy="330.5" r="1.1" fill="#66b6c6"/>
<circle cx="562.1" cy="330.4" r="2.1" fill="#88844f" stroke="#c4ac7c" stroke-width="0.8"/>
<circle cx="569.8" cy="330.0" r="2.7" fill="#88844f" stroke="#c4ac7c" stroke-width="0.8"/>
<circle cx="569.6" cy="330.3" r="0.8" fill="#66b6c6"/>
<circle cx="576.2" cy="328.6" r="2.3" fill="#88844f" stroke="#c4ac7c" stroke-width="0.8"/>
<circle cx="576.5" cy="328.2" r="0.9" fill="#66b6c6"/>
<circle cx="579.4" cy="328.0" r="2.5" fill="#88844f" stroke="#c4ac7c" stroke-width="0.8"/>
<circle cx="585.0" cy="329.1" r="2.3" fill="#88844f" stroke="#c4ac7c" stroke-width="0.8"/>
<circle cx="584.8" cy="328.6" r="1.0" fill="#66b6c6"/>
<circle cx="591.7" cy="327.8" r="2.1" fill="#88844f" stroke="#c4ac7c" stroke-width="0.8"/>
<circle cx="598.9" cy="330.7" r="2.7" fill="#88844f" stroke="#c4ac7c" stroke-width="0.8"/>
<circle cx="603.1" cy="327.9" r="2.8" fill="#88844f" stroke="#c4ac7c" stroke-width="0.8"/>
<circle cx="610.5" cy="328.1" r="2.6" fill="#88844f" stroke="#c4ac7c" stroke-width="0.8"/>
<circle cx="614.3" cy="328.3" r="2.8" fill="#88844f" stroke="#c4ac7c" stroke-width="0.8"/>
<circle cx="620.1" cy="327.9" r="2.6" fill="#88844f" stroke="#c4ac7c" stroke-width="0.8"/>
<circle cx="620.1" cy="327.4" r="0.9" fill="#66b6c6"/>
<circle cx="627.2" cy="329.0" r="2.1" fill="#88844f" stroke="#c4ac7c" stroke-width="0.8"/>
<circle cx="627.1" cy="328.5" r="0.8" fill="#66b6c6"/>
<circle cx="632.9" cy="327.8" r="2.6" fill="#88844f" stroke="#c4ac7c" stroke-width="0.8"/>
<circle cx="639.5" cy="330.6" r="2.1" fill="#88844f" stroke="#c4ac7c" stroke-width="0.8"/>
<circle cx="644.3" cy="327.8" r="2.7" fill="#88844f" stroke="#c4ac7c" stroke-width="0.8"/>
<circle cx="644.9" cy="328.0" r="1.3" fill="#66b6c6"/>
<circle cx="649.0" cy="330.5" r="2.8" fill="#88844f" stroke="#c4ac7c" stroke-width="0.8"/>
<circle cx="656.5" cy="329.7" r="2.4" fill="#88844f" stroke="#c4ac7c" stroke-width="0.8"/>
<circle cx="662.3" cy="329.4" r="2.3" fill="#88844f" stroke="#c4ac7c" stroke-width="0.8"/>
<circle cx="549.1" cy="335.8" r="2.6" fill="#88844f" stroke="#c4ac7c" stroke-width="0.8"/>
<circle cx="549.3" cy="335.5" r="1.0" fill="#66b6c6"/>
<circle cx="554.7" cy="335.1" r="2.1" fill="#88844f" stroke="#c4ac7c" stroke-width="0.8"/>
<circle cx="554.3" cy="335.3" r="0.9" fill="#66b6c6"/>
<circle cx="560.6" cy="335.6" r="2.3" fill="#88844f" stroke="#c4ac7c" stroke-width="0.8"/>
<circle cx="560.7" cy="335.5" r="1.0" fill="#66b6c6"/>
<circle cx="565.2" cy="335.0" r="2.3" fill="#88844f" stroke="#c4ac7c" stroke-width="0.8"/>
<circle cx="572.0" cy="335.0" r="2.7" fill="#88844f" stroke="#c4ac7c" stroke-width="0.8"/>
<circle cx="576.3" cy="335.8" r="2.1" fill="#88844f" stroke="#c4ac7c" stroke-width="0.8"/>
<circle cx="584.5" cy="333.6" r="2.6" fill="#88844f" stroke="#c4ac7c" stroke-width="0.8"/>
<circle cx="589.2" cy="334.8" r="2.4" fill="#88844f" stroke="#c4ac7c" stroke-width="0.8"/>
<circle cx="595.8" cy="332.8" r="2.5" fill="#88844f" stroke="#c4ac7c" stroke-width="0.8"/>
<circle cx="602.2" cy="334.5" r="2.4" fill="#88844f" stroke="#c4ac7c" stroke-width="0.8"/>
<circle cx="601.8" cy="335.0" r="0.8" fill="#66b6c6"/>
<circle cx="608.1" cy="333.2" r="2.3" fill="#88844f" stroke="#c4ac7c" stroke-width="0.8"/>
<circle cx="611.1" cy="334.2" r="2.6" fill="#88844f" stroke="#c4ac7c" stroke-width="0.8"/>
<circle cx="610.7" cy="333.7" r="1.3" fill="#66b6c6"/>
<circle cx="617.1" cy="334.9" r="2.5" fill="#88844f" stroke="#c4ac7c" stroke-width="0.8"/>
<circle cx="617.2" cy="335.2" r="0.9" fill="#66b6c6"/>
<circle cx="623.4" cy="335.8" r="2.2" fill="#88844f" stroke="#c4ac7c" stroke-width="0.8"/>
<circle cx="629.9" cy="335.3" r="2.7" fill="#88844f" stroke="#c4ac7c" stroke-width="0.8"/>
<circle cx="636.2" cy="334.5" r="2.1" fill="#88844f" stroke="#c4ac7c" stroke-width="0.8"/>
<circle cx="641.4" cy="335.2" r="2.3" fill="#88844f" stroke="#c4ac7c" stroke-width="0.8"/>
<circle cx="641.2" cy="335.6" r="1.0" fill="#66b6c6"/>
<circle cx="647.9" cy="333.0" r="2.2" fill="#88844f" stroke="#c4ac7c" stroke-width="0.8"/>
<circle cx="647.9" cy="332.5" r="1.3" fill="#66b6c6"/>
<circle cx="652.7" cy="332.8" r="2.2" fill="#88844f" stroke="#c4ac7c" stroke-width="0.8"/>
<circle cx="659.4" cy="335.4" r="2.1" fill="#88844f" stroke="#c4ac7c" stroke-width="0.8"/>
<circle cx="665.9" cy="334.4" r="2.5" fill="#88844f" stroke="#c4ac7c" stroke-width="0.8"/>
<circle cx="665.5" cy="333.9" r="1.3" fill="#66b6c6"/>
<circle cx="547.2" cy="339.4" r="2.5" fill="#88844f" stroke="#c4ac7c" stroke-width="0.8"/>
<circle cx="552.4" cy="338.3" r="2.6" fill="#88844f" stroke="#c4ac7c" stroke-width="0.8"/>
<circle cx="552.5" cy="338.5" r="1.2" fill="#66b6c6"/>
<circle cx="558.0" cy="338.6" r="2.7" fill="#88844f" stroke="#c4ac7c" stroke-width="0.8"/>
<circle cx="558.0" cy="338.9" r="1.3" fill="#66b6c6"/>
<circle cx="562.1" cy="339.5" r="2.3" fill="#88844f" stroke="#c4ac7c" stroke-width="0.8"/>
<circle cx="568.9" cy="340.9" r="2.6" fill="#88844f" stroke="#c4ac7c" stroke-width="0.8"/>
<circle cx="575.8" cy="340.2" r="2.1" fill="#88844f" stroke="#c4ac7c" stroke-width="0.8"/>
<circle cx="575.4" cy="340.6" r="1.0" fill="#66b6c6"/>
<circle cx="580.2" cy="340.3" r="2.8" fill="#88844f" stroke="#c4ac7c" stroke-width="0.8"/>
<circle cx="580.4" cy="340.0" r="1.2" fill="#66b6c6"/>
<circle cx="587.4" cy="340.5" r="2.5" fill="#88844f" stroke="#c4ac7c" stroke-width="0.8"/>
<circle cx="587.8" cy="340.0" r="1.1" fill="#66b6c6"/>
<circle cx="593.9" cy="338.9" r="2.4" fill="#88844f" stroke="#c4ac7c" stroke-width="0.8"/>
<circle cx="598.7" cy="339.0" r="2.3" fill="#88844f" stroke="#c4ac7c" stroke-width="0.8"/>
<circle cx="604.7" cy="338.6" r="2.5" fill="#88844f" stroke="#c4ac7c" stroke-width="0.8"/>
<circle cx="610.1" cy="340.9" r="2.2" fill="#88844f" stroke="#c4ac7c" stroke-width="0.8"/>
<circle cx="610.6" cy="340.6" r="0.9" fill="#66b6c6"/>
<circle cx="614.5" cy="340.8" r="2.7" fill="#88844f" stroke="#c4ac7c" stroke-width="0.8"/>
<circle cx="614.8" cy="340.5" r="1.1" fill="#66b6c6"/>
<circle cx="619.8" cy="339.8" r="2.6" fill="#88844f" stroke="#c4ac7c" stroke-width="0.8"/>
<circle cx="627.6" cy="338.4" r="2.4" fill="#88844f" stroke="#c4ac7c" stroke-width="0.8"/>
<circle cx="632.6" cy="340.4" r="2.5" fill="#88844f" stroke="#c4ac7c" stroke-width="0.8"/>
<circle cx="639.6" cy="339.0" r="2.7" fill="#88844f" stroke="#c4ac7c" stroke-width="0.8"/>
<circle cx="644.4" cy="340.3" r="2.3" fill="#88844f" stroke="#c4ac7c" stroke-width="0.8"/>
<circle cx="649.8" cy="339.5" r="2.2" fill="#88844f" stroke="#c4ac7c" stroke-width="0.8"/>
<circle cx="656.6" cy="340.0" r="2.4" fill="#88844f" stroke="#c4ac7c" stroke-width="0.8"/>
<circle cx="661.0" cy="340.1" r="2.4" fill="#88844f" stroke="#c4ac7c" stroke-width="0.8"/>
<circle cx="661.0" cy="339.6" r="1.1" fill="#66b6c6"/>
<circle cx="549.7" cy="344.4" r="2.1" fill="#88844f" stroke="#c4ac7c" stroke-width="0.8"/>
<circle cx="555.0" cy="344.2" r="2.1" fill="#88844f" stroke="#c4ac7c" stroke-width="0.8"/>
<circle cx="559.5" cy="346.1" r="2.6" fill="#88844f" stroke="#c4ac7c" stroke-width="0.8"/>
<circle cx="559.4" cy="345.6" r="0.9" fill="#66b6c6"/>
<circle cx="566.4" cy="346.0" r="2.3" fill="#88844f" stroke="#c4ac7c" stroke-width="0.8"/>
<circle cx="571.2" cy="343.5" r="2.7" fill="#88844f" stroke="#c4ac7c" stroke-width="0.8"/>
<circle cx="571.0" cy="343.5" r="1.1" fill="#66b6c6"/>
<circle cx="576.9" cy="343.5" r="2.5" fill="#88844f" stroke="#c4ac7c" stroke-width="0.8"/>
<circle cx="583.8" cy="343.7" r="2.7" fill="#88844f" stroke="#c4ac7c" stroke-width="0.8"/>
<circle cx="589.5" cy="346.0" r="2.1" fill="#88844f" stroke="#c4ac7c" stroke-width="0.8"/>
<circle cx="595.0" cy="345.2" r="2.2" fill="#88844f" stroke="#c4ac7c" stroke-width="0.8"/>
<circle cx="594.6" cy="345.3" r="1.0" fill="#66b6c6"/>
<circle cx="602.4" cy="346.0" r="2.6" fill="#88844f" stroke="#c4ac7c" stroke-width="0.8"/>
<circle cx="607.8" cy="345.0" r="2.6" fill="#88844f" stroke="#c4ac7c" stroke-width="0.8"/>
<circle cx="611.4" cy="345.6" r="2.7" fill="#88844f" stroke="#c4ac7c" stroke-width="0.8"/>
<circle cx="617.9" cy="343.3" r="2.7" fill="#88844f" stroke="#c4ac7c" stroke-width="0.8"/>
<circle cx="617.3" cy="342.8" r="1.1" fill="#66b6c6"/>
<circle cx="624.8" cy="346.1" r="2.5" fill="#88844f" stroke="#c4ac7c" stroke-width="0.8"/>
<circle cx="625.3" cy="346.5" r="1.2" fill="#66b6c6"/>
<circle cx="631.3" cy="345.9" r="2.5" fill="#88844f" stroke="#c4ac7c" stroke-width="0.8"/>
<circle cx="634.3" cy="346.4" r="2.0" fill="#88844f" stroke="#c4ac7c" stroke-width="0.8"/>
<circle cx="641.8" cy="344.8" r="2.3" fill="#88844f" stroke="#c4ac7c" stroke-width="0.8"/>
<circle cx="646.8" cy="345.3" r="2.0" fill="#88844f" stroke="#c4ac7c" stroke-width="0.8"/>
<circle cx="647.0" cy="345.3" r="0.8" fill="#66b6c6"/>
<circle cx="653.1" cy="346.2" r="2.4" fill="#88844f" stroke="#c4ac7c" stroke-width="0.8"/>
<circle cx="658.6" cy="346.3" r="2.4" fill="#88844f" stroke="#c4ac7c" stroke-width="0.8"/>
<circle cx="665.2" cy="345.8" r="2.3" fill="#88844f" stroke="#c4ac7c" stroke-width="0.8"/>
<circle cx="547.6" cy="351.3" r="2.7" fill="#88844f" stroke="#c4ac7c" stroke-width="0.8"/>
<circle cx="547.4" cy="351.7" r="1.2" fill="#66b6c6"/>
<circle cx="552.1" cy="350.2" r="2.0" fill="#88844f" stroke="#c4ac7c" stroke-width="0.8"/>
<circle cx="556.2" cy="350.1" r="2.2" fill="#88844f" stroke="#c4ac7c" stroke-width="0.8"/>
<circle cx="562.3" cy="349.4" r="2.6" fill="#88844f" stroke="#c4ac7c" stroke-width="0.8"/>
<circle cx="568.0" cy="351.6" r="2.0" fill="#88844f" stroke="#c4ac7c" stroke-width="0.8"/>
<circle cx="575.7" cy="350.3" r="2.5" fill="#88844f" stroke="#c4ac7c" stroke-width="0.8"/>
<circle cx="579.5" cy="350.0" r="2.2" fill="#88844f" stroke="#c4ac7c" stroke-width="0.8"/>
<circle cx="586.5" cy="350.4" r="2.6" fill="#88844f" stroke="#c4ac7c" stroke-width="0.8"/>
<circle cx="592.2" cy="350.2" r="2.1" fill="#88844f" stroke="#c4ac7c" stroke-width="0.8"/>
<circle cx="597.8" cy="350.0" r="2.7" fill="#88844f" stroke="#c4ac7c" stroke-width="0.8"/>
<circle cx="605.6" cy="350.7" r="2.4" fill="#88844f" stroke="#c4ac7c" stroke-width="0.8"/>
<circle cx="610.7" cy="350.4" r="2.0" fill="#88844f" stroke="#c4ac7c" stroke-width="0.8"/>
<circle cx="616.1" cy="349.5" r="2.7" fill="#88844f" stroke="#c4ac7c" stroke-width="0.8"/>
<circle cx="622.6" cy="349.3" r="2.5" fill="#88844f" stroke="#c4ac7c" stroke-width="0.8"/>
<circle cx="626.7" cy="349.4" r="2.1" fill="#88844f" stroke="#c4ac7c" stroke-width="0.8"/>
<circle cx="632.3" cy="349.5" r="2.2" fill="#88844f" stroke="#c4ac7c" stroke-width="0.8"/>
<circle cx="638.8" cy="351.2" r="2.1" fill="#88844f" stroke="#c4ac7c" stroke-width="0.8"/>
<circle cx="639.2" cy="351.5" r="0.8" fill="#66b6c6"/>
<circle cx="644.4" cy="351.6" r="2.8" fill="#88844f" stroke="#c4ac7c" stroke-width="0.8"/>
<circle cx="644.7" cy="351.4" r="0.8" fill="#66b6c6"/>
<circle cx="651.7" cy="348.8" r="2.8" fill="#88844f" stroke="#c4ac7c" stroke-width="0.8"/>
<circle cx="657.3" cy="349.9" r="2.7" fill="#88844f" stroke="#c4ac7c" stroke-width="0.8"/>
<circle cx="661.0" cy="348.5" r="2.1" fill="#88844f" stroke="#c4ac7c" stroke-width="0.8"/>
<circle cx="547.6" cy="353.8" r="2.3" fill="#88844f" stroke="#c4ac7c" stroke-width="0.8"/>
<circle cx="547.3" cy="354.0" r="0.9" fill="#66b6c6"/>
<circle cx="555.5" cy="354.4" r="2.3" fill="#88844f" stroke="#c4ac7c" stroke-width="0.8"/>
<circle cx="561.5" cy="353.8" r="2.6" fill="#88844f" stroke="#c4ac7c" stroke-width="0.8"/>
<circle cx="562.1" cy="353.8" r="1.2" fill="#66b6c6"/>
<circle cx="566.2" cy="355.7" r="2.5" fill="#88844f" stroke="#c4ac7c" stroke-width="0.8"/>
<circle cx="565.9" cy="356.2" r="0.9" fill="#66b6c6"/>
<circle cx="571.2" cy="353.8" r="2.6" fill="#88844f" stroke="#c4ac7c" stroke-width="0.8"/>
<circle cx="576.3" cy="356.4" r="2.1" fill="#88844f" stroke="#c4ac7c" stroke-width="0.8"/>
<circle cx="583.6" cy="354.4" r="2.3" fill="#88844f" stroke="#c4ac7c" stroke-width="0.8"/>
<circle cx="590.3" cy="354.4" r="2.2" fill="#88844f" stroke="#c4ac7c" stroke-width="0.8"/>
<circle cx="594.4" cy="353.9" r="2.7" fill="#88844f" stroke="#c4ac7c" stroke-width="0.8"/>
<circle cx="600.1" cy="355.3" r="2.7" fill="#88844f" stroke="#c4ac7c" stroke-width="0.8"/>
<circle cx="599.9" cy="354.7" r="0.9" fill="#66b6c6"/>
<circle cx="607.1" cy="355.2" r="2.7" fill="#88844f" stroke="#c4ac7c" stroke-width="0.8"/>
<circle cx="611.9" cy="354.9" r="2.1" fill="#88844f" stroke="#c4ac7c" stroke-width="0.8"/>
<circle cx="619.0" cy="354.2" r="2.5" fill="#88844f" stroke="#c4ac7c" stroke-width="0.8"/>
<circle cx="624.8" cy="354.6" r="2.5" fill="#88844f" stroke="#c4ac7c" stroke-width="0.8"/>
<circle cx="624.4" cy="355.0" r="1.2" fill="#66b6c6"/>
<circle cx="630.4" cy="355.4" r="2.3" fill="#88844f" stroke="#c4ac7c" stroke-width="0.8"/>
<circle cx="635.8" cy="356.2" r="2.6" fill="#88844f" stroke="#c4ac7c" stroke-width="0.8"/>
<circle cx="636.2" cy="356.1" r="1.1" fill="#66b6c6"/>
<circle cx="642.7" cy="356.6" r="2.5" fill="#88844f" stroke="#c4ac7c" stroke-width="0.8"/>
<circle cx="642.3" cy="357.0" r="1.0" fill="#66b6c6"/>
<circle cx="646.3" cy="355.5" r="2.3" fill="#88844f" stroke="#c4ac7c" stroke-width="0.8"/>
<circle cx="652.2" cy="355.2" r="2.8" fill="#88844f" stroke="#c4ac7c" stroke-width="0.8"/>
<circle cx="652.0" cy="355.1" r="0.9" fill="#66b6c6"/>
<circle cx="657.9" cy="354.6" r="2.4" fill="#88844f" stroke="#c4ac7c" stroke-width="0.8"/>
<circle cx="658.0" cy="354.5" r="1.0" fill="#66b6c6"/>
<circle cx="665.9" cy="356.0" r="2.4" fill="#88844f" stroke="#c4ac7c" stroke-width="0.8"/>
<circle cx="665.9" cy="356.2" r="1.2" fill="#66b6c6"/>
<circle cx="546.5" cy="358.8" r="2.1" fill="#88844f" stroke="#c4ac7c" stroke-width="0.8"/>
<circle cx="551.9" cy="360.4" r="2.1" fill="#88844f" stroke="#c4ac7c" stroke-width="0.8"/>
<circle cx="558.6" cy="359.8" r="2.2" fill="#88844f" stroke="#c4ac7c" stroke-width="0.8"/>
<circle cx="558.4" cy="359.8" r="1.0" fill="#66b6c6"/>
<circle cx="561.8" cy="359.1" r="2.2" fill="#88844f" stroke="#c4ac7c" stroke-width="0.8"/>
<circle cx="570.7" cy="361.6" r="2.4" fill="#88844f" stroke="#c4ac7c" stroke-width="0.8"/>
<circle cx="571.2" cy="361.9" r="1.1" fill="#66b6c6"/>
<circle cx="575.6" cy="361.8" r="2.4" fill="#88844f" stroke="#c4ac7c" stroke-width="0.8"/>
<circle cx="575.9" cy="362.3" r="0.9" fill="#66b6c6"/>
<circle cx="580.4" cy="361.2" r="2.6" fill="#88844f" stroke="#c4ac7c" stroke-width="0.8"/>
<circle cx="580.8" cy="360.9" r="0.9" fill="#66b6c6"/>
<circle cx="585.2" cy="360.3" r="2.4" fill="#88844f" stroke="#c4ac7c" stroke-width="0.8"/>
<circle cx="585.4" cy="359.9" r="1.3" fill="#66b6c6"/>
<circle cx="594.0" cy="359.9" r="2.0" fill="#88844f" stroke="#c4ac7c" stroke-width="0.8"/>
<circle cx="594.0" cy="359.7" r="1.2" fill="#66b6c6"/>
<circle cx="597.9" cy="359.6" r="2.1" fill="#88844f" stroke="#c4ac7c" stroke-width="0.8"/>
<circle cx="604.8" cy="361.0" r="2.2" fill="#88844f" stroke="#c4ac7c" stroke-width="0.8"/>
<circle cx="610.6" cy="360.9" r="2.2" fill="#88844f" stroke="#c4ac7c" stroke-width="0.8"/>
<circle cx="611.0" cy="360.3" r="1.1" fill="#66b6c6"/>
<circle cx="616.3" cy="360.5" r="2.4" fill="#88844f" stroke="#c4ac7c" stroke-width="0.8"/>
<circle cx="620.8" cy="361.2" r="2.6" fill="#88844f" stroke="#c4ac7c" stroke-width="0.8"/>
<circle cx="625.8" cy="361.0" r="2.3" fill="#88844f" stroke="#c4ac7c" stroke-width="0.8"/>
<circle cx="626.3" cy="360.7" r="1.0" fill="#66b6c6"/>
<circle cx="632.4" cy="359.2" r="2.2" fill="#88844f" stroke="#c4ac7c" stroke-width="0.8"/>
<circle cx="639.2" cy="361.2" r="2.1" fill="#88844f" stroke="#c4ac7c" stroke-width="0.8"/>
<circle cx="639.6" cy="361.2" r="1.2" fill="#66b6c6"/>
<circle cx="644.5" cy="360.1" r="2.0" fill="#88844f" stroke="#c4ac7c" stroke-width="0.8"/>
<circle cx="651.7" cy="361.1" r="2.2" fill="#88844f" stroke="#c4ac7c" stroke-width="0.8"/>
<circle cx="656.8" cy="359.7" r="2.3" fill="#88844f" stroke="#c4ac7c" stroke-width="0.8"/>
<circle cx="661.2" cy="360.8" r="2.0" fill="#88844f" stroke="#c4ac7c" stroke-width="0.8"/>
<circle cx="660.7" cy="360.5" r="1.3" fill="#66b6c6"/>
<circle cx="549.0" cy="365.5" r="2.1" fill="#88844f" stroke="#c4ac7c" stroke-width="0.8"/>
<circle cx="553.4" cy="364.2" r="2.3" fill="#88844f" stroke="#c4ac7c" stroke-width="0.8"/>
<circle cx="553.8" cy="364.3" r="1.1" fill="#66b6c6"/>
<circle cx="559.7" cy="365.3" r="2.1" fill="#88844f" stroke="#c4ac7c" stroke-width="0.8"/>
<circle cx="560.3" cy="365.5" r="1.0" fill="#66b6c6"/>
<circle cx="566.6" cy="366.9" r="2.6" fill="#88844f" stroke="#c4ac7c" stroke-width="0.8"/>
<circle cx="570.9" cy="364.2" r="2.1" fill="#88844f" stroke="#c4ac7c" stroke-width="0.8"/>
<circle cx="578.7" cy="366.2" r="2.6" fill="#88844f" stroke="#c4ac7c" stroke-width="0.8"/>
<circle cx="578.8" cy="365.7" r="0.8" fill="#66b6c6"/>
<circle cx="584.0" cy="364.0" r="2.3" fill="#88844f" stroke="#c4ac7c" stroke-width="0.8"/>
<circle cx="584.4" cy="363.8" r="0.9" fill="#66b6c6"/>
<circle cx="590.0" cy="364.5" r="2.8" fill="#88844f" stroke="#c4ac7c" stroke-width="0.8"/>
<circle cx="596.8" cy="366.0" r="2.1" fill="#88844f" stroke="#c4ac7c" stroke-width="0.8"/>
<circle cx="597.0" cy="365.9" r="1.2" fill="#66b6c6"/>
<circle cx="600.1" cy="365.8" r="2.7" fill="#88844f" stroke="#c4ac7c" stroke-width="0.8"/>
<circle cx="600.5" cy="365.4" r="1.1" fill="#66b6c6"/>
<circle cx="605.3" cy="364.8" r="2.1" fill="#88844f" stroke="#c4ac7c" stroke-width="0.8"/>
<circle cx="605.4" cy="365.2" r="1.2" fill="#66b6c6"/>
<circle cx="613.9" cy="364.8" r="2.7" fill="#88844f" stroke="#c4ac7c" stroke-width="0.8"/>
<circle cx="618.9" cy="366.3" r="2.2" fill="#88844f" stroke="#c4ac7c" stroke-width="0.8"/>
<circle cx="618.9" cy="366.1" r="1.2" fill="#66b6c6"/>
<circle cx="625.4" cy="366.1" r="2.0" fill="#88844f" stroke="#c4ac7c" stroke-width="0.8"/>
<circle cx="630.9" cy="367.1" r="2.2" fill="#88844f" stroke="#c4ac7c" stroke-width="0.8"/>
<circle cx="635.5" cy="365.8" r="2.2" fill="#88844f" stroke="#c4ac7c" stroke-width="0.8"/>
<circle cx="635.4" cy="365.9" r="0.9" fill="#66b6c6"/>
<circle cx="641.8" cy="365.4" r="2.2" fill="#88844f" stroke="#c4ac7c" stroke-width="0.8"/>
<circle cx="646.8" cy="364.1" r="2.2" fill="#88844f" stroke="#c4ac7c" stroke-width="0.8"/>
<circle cx="653.6" cy="364.2" r="2.7" fill="#88844f" stroke="#c4ac7c" stroke-width="0.8"/>
<circle cx="654.1" cy="363.7" r="1.0" fill="#66b6c6"/>
<circle cx="658.5" cy="366.2" r="2.1" fill="#88844f" stroke="#c4ac7c" stroke-width="0.8"/>
<circle cx="658.9" cy="366.7" r="0.8" fill="#66b6c6"/>
<circle cx="663.5" cy="365.1" r="2.3" fill="#88844f" stroke="#c4ac7c" stroke-width="0.8"/>
<circle cx="547.4" cy="371.2" r="2.3" fill="#88844f" stroke="#c4ac7c" stroke-width="0.8"/>
<circle cx="546.9" cy="370.7" r="1.2" fill="#66b6c6"/>
<circle cx="553.0" cy="370.4" r="2.2" fill="#88844f" stroke="#c4ac7c" stroke-width="0.8"/>
<circle cx="556.7" cy="370.5" r="2.7" fill="#88844f" stroke="#c4ac7c" stroke-width="0.8"/>
<circle cx="556.6" cy="370.1" r="1.0" fill="#66b6c6"/>
<circle cx="564.8" cy="372.3" r="2.6" fill="#88844f" stroke="#c4ac7c" stroke-width="0.8"/>
<circle cx="568.8" cy="371.6" r="2.6" fill="#88844f" stroke="#c4ac7c" stroke-width="0.8"/>
<circle cx="574.6" cy="371.9" r="2.2" fill="#88844f" stroke="#c4ac7c" stroke-width="0.8"/>
<circle cx="582.2" cy="371.6" r="2.6" fill="#88844f" stroke="#c4ac7c" stroke-width="0.8"/>
<circle cx="582.1" cy="371.7" r="1.2" fill="#66b6c6"/>
<circle cx="585.8" cy="370.9" r="2.6" fill="#88844f" stroke="#c4ac7c" stroke-width="0.8"/>
<circle cx="591.6" cy="369.5" r="2.3" fill="#88844f" stroke="#c4ac7c" stroke-width="0.8"/>
<circle cx="591.7" cy="369.5" r="0.8" fill="#66b6c6"/>
<circle cx="599.6" cy="372.1" r="2.2" fill="#88844f" stroke="#c4ac7c" stroke-width="0.8"/>
<circle cx="600.1" cy="371.6" r="0.9" fill="#66b6c6"/>
<circle cx="603.6" cy="371.9" r="2.0" fill="#88844f" stroke="#c4ac7c" stroke-width="0.8"/>
<circle cx="610.6" cy="371.2" r="2.4" fill="#88844f" stroke="#c4ac7c" stroke-width="0.8"/>
<circle cx="616.3" cy="370.7" r="2.2" fill="#88844f" stroke="#c4ac7c" stroke-width="0.8"/>
<circle cx="622.4" cy="369.5" r="2.5" fill="#88844f" stroke="#c4ac7c" stroke-width="0.8"/>
<circle cx="626.1" cy="370.2" r="2.1" fill="#88844f" stroke="#c4ac7c" stroke-width="0.8"/>
<circle cx="633.2" cy="370.6" r="2.7" fill="#88844f" stroke="#c4ac7c" stroke-width="0.8"/>
<circle cx="638.5" cy="369.3" r="2.5" fill="#88844f" stroke="#c4ac7c" stroke-width="0.8"/>
<circle cx="638.6" cy="368.8" r="1.2" fill="#66b6c6"/>
<circle cx="645.7" cy="369.8" r="2.7" fill="#88844f" stroke="#c4ac7c" stroke-width="0.8"/>
<circle cx="645.3" cy="369.9" r="0.9" fill="#66b6c6"/>
<circle cx="650.1" cy="370.4" r="2.6" fill="#88844f" stroke="#c4ac7c" stroke-width="0.8"/>
<circle cx="657.4" cy="370.0" r="2.2" fill="#88844f" stroke="#c4ac7c" stroke-width="0.8"/>
<circle cx="661.7" cy="369.6" r="2.4" fill="#88844f" stroke="#c4ac7c" stroke-width="0.8"/>
<circle cx="661.8" cy="369.5" r="0.9" fill="#66b6c6"/>
<circle cx="549.6" cy="377.3" r="2.1" fill="#88844f" stroke="#c4ac7c" stroke-width="0.8"/>
<circle cx="549.6" cy="376.8" r="1.3" fill="#66b6c6"/>
<circle cx="554.4" cy="374.6" r="2.2" fill="#88844f" stroke="#c4ac7c" stroke-width="0.8"/>
<circle cx="554.1" cy="374.8" r="1.2" fill="#66b6c6"/>
<circle cx="560.1" cy="376.2" r="2.8" fill="#88844f" stroke="#c4ac7c" stroke-width="0.8"/>
<circle cx="565.8" cy="377.2" r="2.5" fill="#88844f" stroke="#c4ac7c" stroke-width="0.8"/>
<circle cx="573.0" cy="375.2" r="2.1" fill="#88844f" stroke="#c4ac7c" stroke-width="0.8"/>
<circle cx="572.8" cy="375.6" r="0.9" fill="#66b6c6"/>
<circle cx="576.4" cy="374.7" r="2.6" fill="#88844f" stroke="#c4ac7c" stroke-width="0.8"/>
<circle cx="585.0" cy="375.5" r="2.1" fill="#88844f" stroke="#c4ac7c" stroke-width="0.8"/>
<circle cx="585.3" cy="375.5" r="1.2" fill="#66b6c6"/>
<circle cx="590.8" cy="376.0" r="2.1" fill="#88844f" stroke="#c4ac7c" stroke-width="0.8"/>
<circle cx="596.4" cy="376.2" r="2.4" fill="#88844f" stroke="#c4ac7c" stroke-width="0.8"/>
<circle cx="600.5" cy="374.5" r="2.8" fill="#88844f" stroke="#c4ac7c" stroke-width="0.8"/>
<circle cx="606.3" cy="377.2" r="2.7" fill="#88844f" stroke="#c4ac7c" stroke-width="0.8"/>
<circle cx="613.4" cy="377.6" r="2.4" fill="#88844f" stroke="#c4ac7c" stroke-width="0.8"/>
<circle cx="619.8" cy="374.8" r="2.6" fill="#88844f" stroke="#c4ac7c" stroke-width="0.8"/>
<circle cx="619.6" cy="375.2" r="0.8" fill="#66b6c6"/>
<circle cx="625.5" cy="376.7" r="2.7" fill="#88844f" stroke="#c4ac7c" stroke-width="0.8"/>
<circle cx="630.3" cy="375.7" r="2.1" fill="#88844f" stroke="#c4ac7c" stroke-width="0.8"/>
<circle cx="636.7" cy="375.4" r="2.2" fill="#88844f" stroke="#c4ac7c" stroke-width="0.8"/>
<circle cx="641.1" cy="374.9" r="2.2" fill="#88844f" stroke="#c4ac7c" stroke-width="0.8"/>
<circle cx="648.4" cy="375.3" r="2.5" fill="#88844f" stroke="#c4ac7c" stroke-width="0.8"/>
<circle cx="653.7" cy="374.9" r="2.6" fill="#88844f" stroke="#c4ac7c" stroke-width="0.8"/>
<circle cx="653.3" cy="375.0" r="1.3" fill="#66b6c6"/>
<circle cx="659.6" cy="377.1" r="2.7" fill="#88844f" stroke="#c4ac7c" stroke-width="0.8"/>
<circle cx="666.2" cy="377.5" r="2.7" fill="#88844f" stroke="#c4ac7c" stroke-width="0.8"/>
<circle cx="665.9" cy="377.4" r="1.1" fill="#66b6c6"/>
<circle cx="545.9" cy="382.5" r="2.5" fill="#88844f" stroke="#c4ac7c" stroke-width="0.8"/>
<circle cx="553.4" cy="379.7" r="2.2" fill="#88844f" stroke="#c4ac7c" stroke-width="0.8"/>
<circle cx="556.3" cy="380.8" r="2.1" fill="#88844f" stroke="#c4ac7c" stroke-width="0.8"/>
<circle cx="563.3" cy="382.4" r="2.8" fill="#88844f" stroke="#c4ac7c" stroke-width="0.8"/>
<circle cx="568.6" cy="381.6" r="2.8" fill="#88844f" stroke="#c4ac7c" stroke-width="0.8"/>
<circle cx="574.8" cy="382.8" r="2.5" fill="#88844f" stroke="#c4ac7c" stroke-width="0.8"/>
<circle cx="574.9" cy="382.3" r="0.8" fill="#66b6c6"/>
<circle cx="582.0" cy="382.0" r="2.3" fill="#88844f" stroke="#c4ac7c" stroke-width="0.8"/>
<circle cx="585.7" cy="379.8" r="2.0" fill="#88844f" stroke="#c4ac7c" stroke-width="0.8"/>
<circle cx="591.6" cy="381.7" r="2.8" fill="#88844f" stroke="#c4ac7c" stroke-width="0.8"/>
<circle cx="599.3" cy="380.0" r="2.6" fill="#88844f" stroke="#c4ac7c" stroke-width="0.8"/>
<circle cx="599.7" cy="380.0" r="1.0" fill="#66b6c6"/>
<circle cx="603.6" cy="380.3" r="2.6" fill="#88844f" stroke="#c4ac7c" stroke-width="0.8"/>
<circle cx="608.7" cy="380.5" r="2.3" fill="#88844f" stroke="#c4ac7c" stroke-width="0.8"/>
<circle cx="608.2" cy="380.6" r="1.2" fill="#66b6c6"/>
<circle cx="614.0" cy="381.8" r="2.2" fill="#88844f" stroke="#c4ac7c" stroke-width="0.8"/>
<circle cx="622.4" cy="380.5" r="2.7" fill="#88844f" stroke="#c4ac7c" stroke-width="0.8"/>
<circle cx="622.2" cy="379.9" r="0.9" fill="#66b6c6"/>
<circle cx="627.8" cy="382.6" r="2.6" fill="#88844f" stroke="#c4ac7c" stroke-width="0.8"/>
<circle cx="627.9" cy="382.7" r="0.9" fill="#66b6c6"/>
<circle cx="631.6" cy="382.4" r="2.7" fill="#88844f" stroke="#c4ac7c" stroke-width="0.8"/>
<circle cx="631.1" cy="382.7" r="0.9" fill="#66b6c6"/>
<circle cx="637.4" cy="382.8" r="2.2" fill="#88844f" stroke="#c4ac7c" stroke-width="0.8"/>
<circle cx="637.5" cy="383.0" r="1.1" fill="#66b6c6"/>
<circle cx="643.5" cy="382.5" r="2.3" fill="#88844f" stroke="#c4ac7c" stroke-width="0.8"/>
<circle cx="643.9" cy="382.1" r="1.0" fill="#66b6c6"/>
<circle cx="649.6" cy="381.1" r="2.6" fill="#88844f" stroke="#c4ac7c" stroke-width="0.8"/>
<circle cx="650.2" cy="381.1" r="1.2" fill="#66b6c6"/>
<circle cx="656.0" cy="380.8" r="2.5" fill="#88844f" stroke="#c4ac7c" stroke-width="0.8"/>
<circle cx="655.7" cy="380.3" r="0.9" fill="#66b6c6"/>
<circle cx="661.3" cy="380.1" r="2.7" fill="#88844f" stroke="#c4ac7c" stroke-width="0.8"/>
<circle cx="661.0" cy="379.6" r="1.1" fill="#66b6c6"/>
<circle cx="550.0" cy="386.6" r="2.3" fill="#88844f" stroke="#c4ac7c" stroke-width="0.8"/>
<circle cx="554.9" cy="387.1" r="2.6" fill="#88844f" stroke="#c4ac7c" stroke-width="0.8"/>
<circle cx="554.4" cy="386.8" r="0.9" fill="#66b6c6"/>
<circle cx="561.2" cy="387.5" r="2.1" fill="#88844f" stroke="#c4ac7c" stroke-width="0.8"/>
<circle cx="566.3" cy="386.2" r="2.2" fill="#88844f" stroke="#c4ac7c" stroke-width="0.8"/>
<circle cx="573.0" cy="387.3" r="2.7" fill="#88844f" stroke="#c4ac7c" stroke-width="0.8"/>
<circle cx="579.0" cy="387.3" r="2.5" fill="#88844f" stroke="#c4ac7c" stroke-width="0.8"/>
<circle cx="578.8" cy="387.1" r="1.2" fill="#66b6c6"/>
<circle cx="582.1" cy="387.1" r="2.3" fill="#88844f" stroke="#c4ac7c" stroke-width="0.8"/>
<circle cx="582.0" cy="386.9" r="1.1" fill="#66b6c6"/>
<circle cx="588.6" cy="385.6" r="2.6" fill="#88844f" stroke="#c4ac7c" stroke-width="0.8"/>
<circle cx="589.0" cy="385.1" r="1.0" fill="#66b6c6"/>
<circle cx="594.2" cy="385.6" r="2.4" fill="#88844f" stroke="#c4ac7c" stroke-width="0.8"/>
<circle cx="601.0" cy="387.6" r="2.3" fill="#88844f" stroke="#c4ac7c" stroke-width="0.8"/>
<circle cx="601.4" cy="387.3" r="0.9" fill="#66b6c6"/>
<circle cx="607.4" cy="388.0" r="2.4" fill="#88844f" stroke="#c4ac7c" stroke-width="0.8"/>
<circle cx="611.7" cy="385.0" r="2.3" fill="#88844f" stroke="#c4ac7c" stroke-width="0.8"/>
<circle cx="611.8" cy="384.6" r="0.9" fill="#66b6c6"/>
<circle cx="617.7" cy="384.9" r="2.6" fill="#88844f" stroke="#c4ac7c" stroke-width="0.8"/>
<circle cx="617.9" cy="385.2" r="1.2" fill="#66b6c6"/>
<circle cx="624.3" cy="385.4" r="2.5" fill="#88844f" stroke="#c4ac7c" stroke-width="0.8"/>
<circle cx="624.0" cy="385.8" r="1.2" fill="#66b6c6"/>
<circle cx="631.1" cy="387.7" r="2.5" fill="#88844f" stroke="#c4ac7c" stroke-width="0.8"/>
<circle cx="636.2" cy="387.7" r="2.2" fill="#88844f" stroke="#c4ac7c" stroke-width="0.8"/>
<circle cx="635.7" cy="387.5" r="1.3" fill="#66b6c6"/>
<circle cx="641.8" cy="385.7" r="2.5" fill="#88844f" stroke="#c4ac7c" stroke-width="0.8"/>
<circle cx="641.9" cy="386.0" r="1.2" fill="#66b6c6"/>
<circle cx="647.7" cy="386.1" r="2.1" fill="#88844f" stroke="#c4ac7c" stroke-width="0.8"/>
<circle cx="647.2" cy="385.9" r="1.2" fill="#66b6c6"/>
<circle cx="654.4" cy="385.4" r="2.6" fill="#88844f" stroke="#c4ac7c" stroke-width="0.8"/>
<circle cx="654.2" cy="385.9" r="1.1" fill="#66b6c6"/>
<circle cx="659.2" cy="387.7" r="2.2" fill="#88844f" stroke="#c4ac7c" stroke-width="0.8"/>
<circle cx="658.7" cy="387.5" r="1.2" fill="#66b6c6"/>
<circle cx="663.4" cy="386.4" r="2.1" fill="#88844f" stroke="#c4ac7c" stroke-width="0.8"/>
<circle cx="544.6" cy="392.1" r="2.4" fill="#88844f" stroke="#c4ac7c" stroke-width="0.8"/>
<circle cx="551.0" cy="390.5" r="2.5" fill="#88844f" stroke="#c4ac7c" stroke-width="0.8"/>
<circle cx="551.5" cy="390.6" r="1.2" fill="#66b6c6"/>
<circle cx="557.9" cy="392.2" r="2.2" fill="#88844f" stroke="#c4ac7c" stroke-width="0.8"/>
<circle cx="562.5" cy="392.1" r="2.4" fill="#88844f" stroke="#c4ac7c" stroke-width="0.8"/>
<circle cx="569.5" cy="392.3" r="2.1" fill="#88844f" stroke="#c4ac7c" stroke-width="0.8"/>
<circle cx="575.9" cy="390.8" r="2.5" fill="#88844f" stroke="#c4ac7c" stroke-width="0.8"/>
<circle cx="580.3" cy="390.9" r="2.1" fill="#88844f" stroke="#c4ac7c" stroke-width="0.8"/>
<circle cx="580.1" cy="390.7" r="0.9" fill="#66b6c6"/>
<circle cx="587.8" cy="390.7" r="2.3" fill="#88844f" stroke="#c4ac7c" stroke-width="0.8"/>
<circle cx="587.7" cy="390.1" r="0.9" fill="#66b6c6"/>
<circle cx="593.5" cy="391.9" r="2.5" fill="#88844f" stroke="#c4ac7c" stroke-width="0.8"/>
<circle cx="598.5" cy="390.5" r="2.0" fill="#88844f" stroke="#c4ac7c" stroke-width="0.8"/>
<circle cx="603.1" cy="390.1" r="2.7" fill="#88844f" stroke="#c4ac7c" stroke-width="0.8"/>
<circle cx="610.6" cy="390.9" r="2.2" fill="#88844f" stroke="#c4ac7c" stroke-width="0.8"/>
<circle cx="614.6" cy="390.9" r="2.8" fill="#88844f" stroke="#c4ac7c" stroke-width="0.8"/>
<circle cx="622.3" cy="392.6" r="2.1" fill="#88844f" stroke="#c4ac7c" stroke-width="0.8"/>
<circle cx="622.0" cy="393.1" r="1.2" fill="#66b6c6"/>
<circle cx="625.9" cy="391.7" r="2.0" fill="#88844f" stroke="#c4ac7c" stroke-width="0.8"/>
<circle cx="634.0" cy="391.4" r="2.2" fill="#88844f" stroke="#c4ac7c" stroke-width="0.8"/>
<circle cx="634.4" cy="391.5" r="0.8" fill="#66b6c6"/>
<circle cx="637.9" cy="390.3" r="2.4" fill="#88844f" stroke="#c4ac7c" stroke-width="0.8"/>
<circle cx="637.8" cy="389.9" r="1.3" fill="#66b6c6"/>
<circle cx="645.4" cy="390.1" r="2.6" fill="#88844f" stroke="#c4ac7c" stroke-width="0.8"/>
<circle cx="645.7" cy="390.2" r="1.2" fill="#66b6c6"/>
<circle cx="650.2" cy="392.3" r="2.3" fill="#88844f" stroke="#c4ac7c" stroke-width="0.8"/>
<circle cx="655.5" cy="390.4" r="2.6" fill="#88844f" stroke="#c4ac7c" stroke-width="0.8"/>
<circle cx="662.4" cy="390.7" r="2.2" fill="#88844f" stroke="#c4ac7c" stroke-width="0.8"/>
<circle cx="662.3" cy="390.6" r="1.0" fill="#66b6c6"/>
<circle cx="549.1" cy="396.6" r="2.2" fill="#88844f" stroke="#c4ac7c" stroke-width="0.8"/>
<circle cx="549.3" cy="396.2" r="1.1" fill="#66b6c6"/>
<circle cx="553.4" cy="396.5" r="2.3" fill="#88844f" stroke="#c4ac7c" stroke-width="0.8"/>
<circle cx="559.3" cy="398.0" r="2.3" fill="#88844f" stroke="#c4ac7c" stroke-width="0.8"/>
<circle cx="559.3" cy="398.5" r="1.1" fill="#66b6c6"/>
<circle cx="565.2" cy="398.2" r="2.2" fill="#88844f" stroke="#c4ac7c" stroke-width="0.8"/>
<circle cx="572.8" cy="398.2" r="2.8" fill="#88844f" stroke="#c4ac7c" stroke-width="0.8"/>
<circle cx="578.4" cy="397.8" r="2.7" fill="#88844f" stroke="#c4ac7c" stroke-width="0.8"/>
<circle cx="578.7" cy="397.9" r="1.1" fill="#66b6c6"/>
<circle cx="583.2" cy="397.1" r="2.3" fill="#88844f" stroke="#c4ac7c" stroke-width="0.8"/>
<circle cx="583.3" cy="396.8" r="1.0" fill="#66b6c6"/>
<circle cx="590.5" cy="397.5" r="2.1" fill="#88844f" stroke="#c4ac7c" stroke-width="0.8"/>
<circle cx="593.9" cy="395.9" r="2.0" fill="#88844f" stroke="#c4ac7c" stroke-width="0.8"/>
<circle cx="600.4" cy="395.4" r="2.3" fill="#88844f" stroke="#c4ac7c" stroke-width="0.8"/>
<circle cx="606.2" cy="395.3" r="2.3" fill="#88844f" stroke="#c4ac7c" stroke-width="0.8"/>
<circle cx="613.5" cy="398.2" r="2.7" fill="#88844f" stroke="#c4ac7c" stroke-width="0.8"/>
<circle cx="617.6" cy="396.3" r="2.7" fill="#88844f" stroke="#c4ac7c" stroke-width="0.8"/>
<circle cx="624.4" cy="397.7" r="2.3" fill="#88844f" stroke="#c4ac7c" stroke-width="0.8"/>
<circle cx="624.5" cy="397.3" r="1.2" fill="#66b6c6"/>
<circle cx="630.8" cy="396.1" r="2.5" fill="#88844f" stroke="#c4ac7c" stroke-width="0.8"/>
<circle cx="630.4" cy="395.6" r="1.0" fill="#66b6c6"/>
<circle cx="635.3" cy="397.9" r="2.5" fill="#88844f" stroke="#c4ac7c" stroke-width="0.8"/>
<circle cx="642.3" cy="396.1" r="2.3" fill="#88844f" stroke="#c4ac7c" stroke-width="0.8"/>
<circle cx="646.6" cy="395.7" r="2.2" fill="#88844f" stroke="#c4ac7c" stroke-width="0.8"/>
<circle cx="654.7" cy="398.0" r="2.7" fill="#88844f" stroke="#c4ac7c" stroke-width="0.8"/>
<circle cx="655.2" cy="397.8" r="1.0" fill="#66b6c6"/>
<circle cx="658.4" cy="398.1" r="2.3" fill="#88844f" stroke="#c4ac7c" stroke-width="0.8"/>
<circle cx="664.0" cy="397.6" r="2.7" fill="#88844f" stroke="#c4ac7c" stroke-width="0.8"/>
<circle cx="546.6" cy="403.0" r="2.2" fill="#88844f" stroke="#c4ac7c" stroke-width="0.8"/>
<circle cx="551.2" cy="400.6" r="2.1" fill="#88844f" stroke="#c4ac7c" stroke-width="0.8"/>
<circle cx="556.4" cy="401.8" r="2.5" fill="#88844f" stroke="#c4ac7c" stroke-width="0.8"/>
<circle cx="556.7" cy="401.4" r="1.2" fill="#66b6c6"/>
<circle cx="564.0" cy="401.1" r="2.4" fill="#88844f" stroke="#c4ac7c" stroke-width="0.8"/>
<circle cx="564.2" cy="400.7" r="1.3" fill="#66b6c6"/>
<circle cx="567.8" cy="402.4" r="2.3" fill="#88844f" stroke="#c4ac7c" stroke-width="0.8"/>
<circle cx="576.0" cy="401.8" r="2.6" fill="#88844f" stroke="#c4ac7c" stroke-width="0.8"/>
<circle cx="582.0" cy="402.8" r="2.8" fill="#88844f" stroke="#c4ac7c" stroke-width="0.8"/>
<circle cx="586.4" cy="400.8" r="2.1" fill="#88844f" stroke="#c4ac7c" stroke-width="0.8"/>
<circle cx="586.6" cy="400.8" r="1.0" fill="#66b6c6"/>
<circle cx="591.3" cy="401.7" r="2.2" fill="#88844f" stroke="#c4ac7c" stroke-width="0.8"/>
<circle cx="591.3" cy="401.3" r="1.0" fill="#66b6c6"/>
<circle cx="598.0" cy="401.7" r="2.2" fill="#88844f" stroke="#c4ac7c" stroke-width="0.8"/>
<circle cx="605.5" cy="402.4" r="2.7" fill="#88844f" stroke="#c4ac7c" stroke-width="0.8"/>
<circle cx="608.3" cy="402.7" r="2.8" fill="#88844f" stroke="#c4ac7c" stroke-width="0.8"/>
<circle cx="608.6" cy="402.8" r="1.3" fill="#66b6c6"/>
<circle cx="615.6" cy="403.2" r="2.4" fill="#88844f" stroke="#c4ac7c" stroke-width="0.8"/>
<circle cx="615.7" cy="403.1" r="0.8" fill="#66b6c6"/>
<circle cx="620.8" cy="401.0" r="2.7" fill="#88844f" stroke="#c4ac7c" stroke-width="0.8"/>
<circle cx="627.3" cy="403.3" r="2.3" fill="#88844f" stroke="#c4ac7c" stroke-width="0.8"/>
<circle cx="633.6" cy="403.5" r="2.6" fill="#88844f" stroke="#c4ac7c" stroke-width="0.8"/>
<circle cx="633.6" cy="403.9" r="1.2" fill="#66b6c6"/>
<circle cx="638.0" cy="403.4" r="2.4" fill="#88844f" stroke="#c4ac7c" stroke-width="0.8"/>
<circle cx="646.0" cy="403.1" r="2.1" fill="#88844f" stroke="#c4ac7c" stroke-width="0.8"/>
<circle cx="649.1" cy="401.1" r="2.1" fill="#88844f" stroke="#c4ac7c" stroke-width="0.8"/>
<circle cx="648.7" cy="401.4" r="1.3" fill="#66b6c6"/>
<circle cx="656.9" cy="403.1" r="2.5" fill="#88844f" stroke="#c4ac7c" stroke-width="0.8"/>
<circle cx="661.8" cy="400.5" r="2.6" fill="#88844f" stroke="#c4ac7c" stroke-width="0.8"/>
<circle cx="662.3" cy="400.2" r="1.0" fill="#66b6c6"/>
<circle cx="549.2" cy="407.0" r="2.3" fill="#88844f" stroke="#c4ac7c" stroke-width="0.8"/>
<circle cx="555.6" cy="406.1" r="2.5" fill="#88844f" stroke="#c4ac7c" stroke-width="0.8"/>
<circle cx="559.7" cy="406.0" r="2.4" fill="#88844f" stroke="#c4ac7c" stroke-width="0.8"/>
<circle cx="559.7" cy="406.1" r="0.8" fill="#66b6c6"/>
<circle cx="566.5" cy="408.3" r="2.6" fill="#88844f" stroke="#c4ac7c" stroke-width="0.8"/>
<circle cx="571.0" cy="406.6" r="2.3" fill="#88844f" stroke="#c4ac7c" stroke-width="0.8"/>
<circle cx="578.9" cy="407.4" r="2.2" fill="#88844f" stroke="#c4ac7c" stroke-width="0.8"/>
<circle cx="585.0" cy="408.7" r="2.7" fill="#88844f" stroke="#c4ac7c" stroke-width="0.8"/>
<circle cx="585.5" cy="408.9" r="1.2" fill="#66b6c6"/>
<circle cx="588.3" cy="408.6" r="2.7" fill="#88844f" stroke="#c4ac7c" stroke-width="0.8"/>
<circle cx="595.8" cy="407.4" r="2.3" fill="#88844f" stroke="#c4ac7c" stroke-width="0.8"/>
<circle cx="601.7" cy="407.8" r="2.5" fill="#88844f" stroke="#c4ac7c" stroke-width="0.8"/>
<circle cx="606.6" cy="408.1" r="2.6" fill="#88844f" stroke="#c4ac7c" stroke-width="0.8"/>
<circle cx="612.3" cy="408.6" r="2.2" fill="#88844f" stroke="#c4ac7c" stroke-width="0.8"/>
<circle cx="618.4" cy="408.6" r="2.5" fill="#88844f" stroke="#c4ac7c" stroke-width="0.8"/>
<circle cx="618.0" cy="408.6" r="1.0" fill="#66b6c6"/>
<circle cx="623.7" cy="406.8" r="2.5" fill="#88844f" stroke="#c4ac7c" stroke-width="0.8"/>
<circle cx="628.7" cy="406.0" r="2.6" fill="#88844f" stroke="#c4ac7c" stroke-width="0.8"/>
<circle cx="636.8" cy="406.2" r="2.7" fill="#88844f" stroke="#c4ac7c" stroke-width="0.8"/>
<circle cx="642.0" cy="408.6" r="2.1" fill="#88844f" stroke="#c4ac7c" stroke-width="0.8"/>
<circle cx="649.0" cy="406.1" r="2.2" fill="#88844f" stroke="#c4ac7c" stroke-width="0.8"/>
<circle cx="652.4" cy="408.0" r="2.0" fill="#88844f" stroke="#c4ac7c" stroke-width="0.8"/>
<circle cx="652.6" cy="407.7" r="1.2" fill="#66b6c6"/>
<circle cx="659.5" cy="407.4" r="2.0" fill="#88844f" stroke="#c4ac7c" stroke-width="0.8"/>
<circle cx="663.5" cy="407.0" r="2.2" fill="#88844f" stroke="#c4ac7c" stroke-width="0.8"/>
<circle cx="663.3" cy="407.5" r="0.9" fill="#66b6c6"/>
<circle cx="547.1" cy="411.1" r="2.5" fill="#88844f" stroke="#c4ac7c" stroke-width="0.8"/>
<circle cx="551.5" cy="411.3" r="2.6" fill="#88844f" stroke="#c4ac7c" stroke-width="0.8"/>
<circle cx="551.4" cy="411.1" r="1.1" fill="#66b6c6"/>
<circle cx="556.7" cy="411.4" r="2.6" fill="#88844f" stroke="#c4ac7c" stroke-width="0.8"/>
<circle cx="564.3" cy="413.1" r="2.2" fill="#88844f" stroke="#c4ac7c" stroke-width="0.8"/>
<circle cx="569.4" cy="410.8" r="2.5" fill="#88844f" stroke="#c4ac7c" stroke-width="0.8"/>
<circle cx="573.5" cy="413.0" r="2.3" fill="#88844f" stroke="#c4ac7c" stroke-width="0.8"/>
<circle cx="573.5" cy="413.3" r="1.2" fill="#66b6c6"/>
<circle cx="582.2" cy="412.3" r="2.1" fill="#88844f" stroke="#c4ac7c" stroke-width="0.8"/>
<circle cx="586.3" cy="412.8" r="2.4" fill="#88844f" stroke="#c4ac7c" stroke-width="0.8"/>
<circle cx="592.8" cy="413.1" r="2.8" fill="#88844f" stroke="#c4ac7c" stroke-width="0.8"/>
<circle cx="597.8" cy="412.7" r="2.8" fill="#88844f" stroke="#c4ac7c" stroke-width="0.8"/>
<circle cx="597.2" cy="412.2" r="1.2" fill="#66b6c6"/>
<circle cx="605.5" cy="412.3" r="2.1" fill="#88844f" stroke="#c4ac7c" stroke-width="0.8"/>
<circle cx="605.5" cy="412.6" r="1.1" fill="#66b6c6"/>
<circle cx="610.9" cy="414.0" r="2.3" fill="#88844f" stroke="#c4ac7c" stroke-width="0.8"/>
<circle cx="610.4" cy="414.5" r="1.3" fill="#66b6c6"/>
<circle cx="615.2" cy="413.8" r="2.6" fill="#88844f" stroke="#c4ac7c" stroke-width="0.8"/>
<circle cx="622.2" cy="413.0" r="2.4" fill="#88844f" stroke="#c4ac7c" stroke-width="0.8"/>
<circle cx="622.1" cy="412.8" r="1.1" fill="#66b6c6"/>
<circle cx="626.4" cy="413.5" r="2.3" fill="#88844f" stroke="#c4ac7c" stroke-width="0.8"/>
<circle cx="626.4" cy="414.1" r="1.1" fill="#66b6c6"/>
<circle cx="632.5" cy="411.0" r="2.0" fill="#88844f" stroke="#c4ac7c" stroke-width="0.8"/>
<circle cx="632.9" cy="411.1" r="1.1" fill="#66b6c6"/>
<circle cx="637.3" cy="412.1" r="2.2" fill="#88844f" stroke="#c4ac7c" stroke-width="0.8"/>
<circle cx="644.3" cy="411.6" r="2.8" fill="#88844f" stroke="#c4ac7c" stroke-width="0.8"/>
<circle cx="643.8" cy="411.8" r="1.2" fill="#66b6c6"/>
<circle cx="649.8" cy="411.8" r="2.1" fill="#88844f" stroke="#c4ac7c" stroke-width="0.8"/>
<circle cx="656.7" cy="412.2" r="2.0" fill="#88844f" stroke="#c4ac7c" stroke-width="0.8"/>
<circle cx="656.8" cy="412.0" r="1.1" fill="#66b6c6"/>
<circle cx="663.5" cy="412.2" r="2.8" fill="#88844f" stroke="#c4ac7c" stroke-width="0.8"/>
<circle cx="663.2" cy="411.7" r="1.2" fill="#66b6c6"/>
<circle cx="548.4" cy="416.9" r="2.2" fill="#88844f" stroke="#c4ac7c" stroke-width="0.8"/>
<circle cx="553.0" cy="418.2" r="2.1" fill="#88844f" stroke="#c4ac7c" stroke-width="0.8"/>
<circle cx="560.8" cy="417.5" r="2.0" fill="#88844f" stroke="#c4ac7c" stroke-width="0.8"/>
<circle cx="560.7" cy="417.8" r="1.1" fill="#66b6c6"/>
<circle cx="566.4" cy="416.8" r="2.6" fill="#88844f" stroke="#c4ac7c" stroke-width="0.8"/>
<circle cx="572.9" cy="418.8" r="2.7" fill="#88844f" stroke="#c4ac7c" stroke-width="0.8"/>
<circle cx="573.1" cy="419.1" r="1.1" fill="#66b6c6"/>
<circle cx="577.7" cy="417.7" r="2.1" fill="#88844f" stroke="#c4ac7c" stroke-width="0.8"/>
<circle cx="584.6" cy="418.8" r="2.3" fill="#88844f" stroke="#c4ac7c" stroke-width="0.8"/>
<circle cx="589.2" cy="418.6" r="2.7" fill="#88844f" stroke="#c4ac7c" stroke-width="0.8"/>
<circle cx="595.7" cy="417.8" r="2.7" fill="#88844f" stroke="#c4ac7c" stroke-width="0.8"/>
<circle cx="595.3" cy="418.4" r="1.2" fill="#66b6c6"/>
<circle cx="602.6" cy="418.1" r="2.8" fill="#88844f" stroke="#c4ac7c" stroke-width="0.8"/>
<circle cx="605.8" cy="418.3" r="2.7" fill="#88844f" stroke="#c4ac7c" stroke-width="0.8"/>
<circle cx="613.0" cy="418.9" r="2.7" fill="#88844f" stroke="#c4ac7c" stroke-width="0.8"/>
<circle cx="612.6" cy="419.5" r="1.3" fill="#66b6c6"/>
<circle cx="617.9" cy="416.2" r="2.6" fill="#88844f" stroke="#c4ac7c" stroke-width="0.8"/>
<circle cx="625.8" cy="418.7" r="2.1" fill="#88844f" stroke="#c4ac7c" stroke-width="0.8"/>
<circle cx="630.0" cy="416.0" r="2.7" fill="#88844f" stroke="#c4ac7c" stroke-width="0.8"/>
<circle cx="635.5" cy="417.3" r="2.6" fill="#88844f" stroke="#c4ac7c" stroke-width="0.8"/>
<circle cx="640.6" cy="418.7" r="2.5" fill="#88844f" stroke="#c4ac7c" stroke-width="0.8"/>
<circle cx="645.9" cy="416.8" r="2.7" fill="#88844f" stroke="#c4ac7c" stroke-width="0.8"/>
<circle cx="653.2" cy="418.3" r="2.2" fill="#88844f" stroke="#c4ac7c" stroke-width="0.8"/>
<circle cx="659.9" cy="418.9" r="2.4" fill="#88844f" stroke="#c4ac7c" stroke-width="0.8"/>
<circle cx="660.1" cy="419.3" r="1.2" fill="#66b6c6"/>
<circle cx="665.5" cy="418.5" r="2.5" fill="#88844f" stroke="#c4ac7c" stroke-width="0.8"/>
<circle cx="664.9" cy="418.5" r="1.2" fill="#66b6c6"/>
<circle cx="545.4" cy="422.9" r="2.3" fill="#88844f" stroke="#c4ac7c" stroke-width="0.8"/>
<circle cx="551.4" cy="422.2" r="2.4" fill="#88844f" stroke="#c4ac7c" stroke-width="0.8"/>
<circle cx="551.9" cy="422.7" r="1.0" fill="#66b6c6"/>
<circle cx="556.7" cy="423.6" r="2.3" fill="#88844f" stroke="#c4ac7c" stroke-width="0.8"/>
<circle cx="561.9" cy="423.7" r="2.5" fill="#88844f" stroke="#c4ac7c" stroke-width="0.8"/>
<circle cx="567.7" cy="421.5" r="2.7" fill="#88844f" stroke="#c4ac7c" stroke-width="0.8"/>
<circle cx="574.2" cy="423.2" r="2.7" fill="#88844f" stroke="#c4ac7c" stroke-width="0.8"/>
<circle cx="581.3" cy="421.5" r="2.1" fill="#88844f" stroke="#c4ac7c" stroke-width="0.8"/>
<circle cx="586.8" cy="421.4" r="2.2" fill="#88844f" stroke="#c4ac7c" stroke-width="0.8"/>
<circle cx="587.0" cy="420.9" r="1.0" fill="#66b6c6"/>
<circle cx="592.0" cy="424.3" r="2.2" fill="#88844f" stroke="#c4ac7c" stroke-width="0.8"/>
<circle cx="592.0" cy="424.6" r="1.3" fill="#66b6c6"/>
<circle cx="598.5" cy="421.4" r="2.7" fill="#88844f" stroke="#c4ac7c" stroke-width="0.8"/>
<circle cx="598.4" cy="421.2" r="1.2" fill="#66b6c6"/>
<circle cx="603.7" cy="422.6" r="2.0" fill="#88844f" stroke="#c4ac7c" stroke-width="0.8"/>
<circle cx="604.3" cy="422.1" r="0.8" fill="#66b6c6"/>
<circle cx="610.2" cy="423.0" r="2.2" fill="#88844f" stroke="#c4ac7c" stroke-width="0.8"/>
<circle cx="610.3" cy="422.6" r="1.0" fill="#66b6c6"/>
<circle cx="614.7" cy="423.9" r="2.6" fill="#88844f" stroke="#c4ac7c" stroke-width="0.8"/>
<circle cx="621.2" cy="422.5" r="2.4" fill="#88844f" stroke="#c4ac7c" stroke-width="0.8"/>
<circle cx="621.8" cy="422.1" r="1.2" fill="#66b6c6"/>
<circle cx="627.8" cy="421.7" r="2.7" fill="#88844f" stroke="#c4ac7c" stroke-width="0.8"/>
<circle cx="632.1" cy="422.0" r="2.4" fill="#88844f" stroke="#c4ac7c" stroke-width="0.8"/>
<circle cx="639.8" cy="424.1" r="2.3" fill="#88844f" stroke="#c4ac7c" stroke-width="0.8"/>
<circle cx="640.0" cy="424.1" r="1.0" fill="#66b6c6"/>
<circle cx="646.0" cy="424.0" r="2.1" fill="#88844f" stroke="#c4ac7c" stroke-width="0.8"/>
<circle cx="645.5" cy="423.8" r="0.8" fill="#66b6c6"/>
<circle cx="651.7" cy="422.6" r="2.1" fill="#88844f" stroke="#c4ac7c" stroke-width="0.8"/>
<circle cx="651.9" cy="422.3" r="0.8" fill="#66b6c6"/>
<circle cx="655.1" cy="422.8" r="2.2" fill="#88844f" stroke="#c4ac7c" stroke-width="0.8"/>
<circle cx="655.0" cy="423.3" r="0.9" fill="#66b6c6"/>
<circle cx="661.0" cy="422.7" r="2.6" fill="#88844f" stroke="#c4ac7c" stroke-width="0.8"/>
<circle cx="548.0" cy="429.0" r="2.0" fill="#88844f" stroke="#c4ac7c" stroke-width="0.8"/>
<circle cx="553.6" cy="427.1" r="2.1" fill="#88844f" stroke="#c4ac7c" stroke-width="0.8"/>
<circle cx="560.1" cy="429.4" r="2.7" fill="#88844f" stroke="#c4ac7c" stroke-width="0.8"/>
<circle cx="560.4" cy="429.1" r="1.1" fill="#66b6c6"/>
<circle cx="567.6" cy="428.7" r="2.6" fill="#88844f" stroke="#c4ac7c" stroke-width="0.8"/>
<circle cx="570.5" cy="429.1" r="2.1" fill="#88844f" stroke="#c4ac7c" stroke-width="0.8"/>
<circle cx="578.5" cy="428.6" r="2.6" fill="#88844f" stroke="#c4ac7c" stroke-width="0.8"/>
<circle cx="583.0" cy="426.6" r="2.6" fill="#88844f" stroke="#c4ac7c" stroke-width="0.8"/>
<circle cx="590.9" cy="428.1" r="2.2" fill="#88844f" stroke="#c4ac7c" stroke-width="0.8"/>
<circle cx="594.7" cy="429.3" r="2.2" fill="#88844f" stroke="#c4ac7c" stroke-width="0.8"/>
<circle cx="600.1" cy="429.2" r="2.2" fill="#88844f" stroke="#c4ac7c" stroke-width="0.8"/>
<circle cx="599.5" cy="429.7" r="1.2" fill="#66b6c6"/>
<circle cx="606.5" cy="426.7" r="2.2" fill="#88844f" stroke="#c4ac7c" stroke-width="0.8"/>
<circle cx="611.2" cy="426.9" r="2.0" fill="#88844f" stroke="#c4ac7c" stroke-width="0.8"/>
<circle cx="617.3" cy="427.3" r="2.7" fill="#88844f" stroke="#c4ac7c" stroke-width="0.8"/>
<circle cx="623.4" cy="428.8" r="2.6" fill="#88844f" stroke="#c4ac7c" stroke-width="0.8"/>
<circle cx="631.4" cy="427.3" r="2.5" fill="#88844f" stroke="#c4ac7c" stroke-width="0.8"/>
<circle cx="636.8" cy="426.8" r="2.8" fill="#88844f" stroke="#c4ac7c" stroke-width="0.8"/>
<circle cx="640.9" cy="428.0" r="2.4" fill="#88844f" stroke="#c4ac7c" stroke-width="0.8"/>
<circle cx="647.2" cy="426.8" r="2.7" fill="#88844f" stroke="#c4ac7c" stroke-width="0.8"/>
<circle cx="654.6" cy="428.9" r="2.2" fill="#88844f" stroke="#c4ac7c" stroke-width="0.8"/>
<circle cx="654.2" cy="428.6" r="0.9" fill="#66b6c6"/>
<circle cx="659.2" cy="427.0" r="2.4" fill="#88844f" stroke="#c4ac7c" stroke-width="0.8"/>
<circle cx="665.8" cy="427.8" r="2.7" fill="#88844f" stroke="#c4ac7c" stroke-width="0.8"/>
<circle cx="666.1" cy="428.1" r="1.3" fill="#66b6c6"/>
</g>
<path d="M612.4,300.0 C620.4,301.7 634.4,305.2 642.8,313.8 C651.2,322.4 660.0,341.2 663.0,351.8 C666.0,362.4 664.0,369.6 660.6,377.2 C657.2,384.8 650.0,391.1 642.8,397.5 C635.6,403.9 627.5,410.7 617.4,415.3 C607.2,419.9 592.0,424.1 581.9,425.4 C571.8,426.7 562.0,426.7 556.5,422.9 C551.0,419.1 549.8,411.1 548.9,402.6 C548.0,394.1 549.7,382.2 551.4,372.1 C553.1,362.0 554.8,351.0 559.0,341.7 C563.2,332.4 570.9,322.6 576.8,316.3 C582.7,310.0 588.7,306.3 594.6,303.6 C600.5,300.9 604.4,298.3 612.4,300.0Z" fill="none" stroke="#b070a8" stroke-width="1.6" opacity="0.85"/>
<g filter="url(#fglow)">
<ellipse cx="487.2" cy="258.3" rx="9.7" ry="9.7" fill="#d8e69a"/>
<ellipse cx="501.3" cy="263" rx="9.7" ry="9.7" fill="#d8e69a"/>
<ellipse cx="516.9" cy="258.3" rx="10.9" ry="10.9" fill="#d8e69a"/>
<ellipse cx="480.9" cy="284.8" rx="9.7" ry="9.7" fill="#d8e69a"/>
<ellipse cx="499.7" cy="278.6" rx="9.7" ry="9.7" fill="#d8e69a"/>
<ellipse cx="516.9" cy="281.7" rx="8.7" ry="8.7" fill="#d8e69a"/>
<ellipse cx="535.6" cy="266" rx="8.7" ry="8.7" fill="#d8e69a"/>
<ellipse cx="545" cy="283.3" rx="8.1" ry="8.1" fill="#d8e69a"/>
<ellipse cx="563.8" cy="264.5" rx="11.5" ry="11.5" fill="#d8e69a"/>
<ellipse cx="579.4" cy="264.5" rx="9.7" ry="9.7" fill="#d8e69a"/>
<ellipse cx="593.4" cy="261.4" rx="10.9" ry="10.9" fill="#d8e69a"/>
<ellipse cx="588.8" cy="278.6" rx="8.7" ry="8.7" fill="#d8e69a"/>
<ellipse cx="554.4" cy="277" rx="8.7" ry="8.7" fill="#d8e69a"/>
<ellipse cx="660.6" cy="273.9" rx="11.5" ry="11.5" fill="#d8e69a"/>
<ellipse cx="671.6" cy="261.4" rx="8.7" ry="8.7" fill="#d8e69a"/>
<ellipse cx="677.8" cy="277" rx="8.1" ry="8.1" fill="#d8e69a"/>
<ellipse cx="662" cy="296" rx="7.8" ry="7.2" fill="#dfe6a0"/>
<ellipse cx="526.3" cy="347.3" rx="10.5" ry="10.5" fill="#d8e69a"/>
<ellipse cx="496.6" cy="364.3" rx="9.7" ry="9.7" fill="#d8e69a"/>
<ellipse cx="510.6" cy="376.8" rx="8.7" ry="13.2" fill="#d8e69a"/>
<ellipse cx="501.3" cy="390.8" rx="8.7" ry="10.9" fill="#d8e69a"/>
<ellipse cx="524.7" cy="369" rx="7.3" ry="9.7" fill="#d8e69a"/>
<ellipse cx="540.3" cy="367.4" rx="8.1" ry="11.5" fill="#d8e69a"/>
<ellipse cx="531" cy="392.4" rx="8.7" ry="11.5" fill="#d8e69a"/>
<ellipse cx="523.1" cy="408" rx="8.7" ry="11.5" fill="#d8e69a"/>
<ellipse cx="537.2" cy="423.6" rx="9.7" ry="11.5" fill="#d8e69a"/>
<ellipse cx="516.9" cy="425.2" rx="8.7" ry="10.9" fill="#d8e69a"/>
<ellipse cx="535.6" cy="439.3" rx="7.3" ry="8.7" fill="#d8e69a"/>
<ellipse cx="518.4" cy="440.8" rx="8.1" ry="8.1" fill="#d8e69a"/>
<ellipse cx="509" cy="451.8" rx="9.7" ry="10.9" fill="#d8e69a"/>
<ellipse cx="543.4" cy="453.3" rx="9.7" ry="9.7" fill="#d8e69a"/>
<ellipse cx="479.4" cy="458" rx="9.7" ry="9.7" fill="#d8e69a"/>
<ellipse cx="588.8" cy="450.2" rx="9.7" ry="8.7" fill="#d8e69a"/>
<ellipse cx="477.8" cy="365.8" rx="7.7" ry="8.8" fill="#d8e69a"/>
</g><g filter="url(#fsoft)">
<ellipse cx="487.2" cy="258.3" rx="7.2" ry="7.2" fill="#aa84b2"/>
<ellipse cx="501.3" cy="263" rx="7.2" ry="7.2" fill="#aa84b2"/>
<ellipse cx="516.9" cy="258.3" rx="8.4" ry="8.4" fill="#aa84b2"/>
<ellipse cx="480.9" cy="284.8" rx="7.2" ry="7.2" fill="#aa84b2"/>
<ellipse cx="499.7" cy="278.6" rx="7.2" ry="7.2" fill="#aa84b2"/>
<ellipse cx="516.9" cy="281.7" rx="6.2" ry="6.2" fill="#aa84b2"/>
<ellipse cx="535.6" cy="266" rx="6.2" ry="6.2" fill="#aa84b2"/>
<ellipse cx="545" cy="283.3" rx="5.6" ry="5.6" fill="#aa84b2"/>
<ellipse cx="563.8" cy="264.5" rx="9.0" ry="9.0" fill="#aa84b2"/>
<ellipse cx="579.4" cy="264.5" rx="7.2" ry="7.2" fill="#aa84b2"/>
<ellipse cx="593.4" cy="261.4" rx="8.4" ry="8.4" fill="#aa84b2"/>
<ellipse cx="588.8" cy="278.6" rx="6.2" ry="6.2" fill="#aa84b2"/>
<ellipse cx="554.4" cy="277" rx="6.2" ry="6.2" fill="#aa84b2"/>
<ellipse cx="612.2" cy="275.4" rx="7.1" ry="7.1" fill="#a27aac"/>
<ellipse cx="641.9" cy="267.6" rx="8.7" ry="8.7" fill="#a27aac"/>
<ellipse cx="660.6" cy="273.9" rx="9.0" ry="9.0" fill="#aa84b2"/>
<ellipse cx="671.6" cy="261.4" rx="6.2" ry="6.2" fill="#aa84b2"/>
<ellipse cx="677.8" cy="277" rx="5.6" ry="5.6" fill="#aa84b2"/>
<ellipse cx="476.3" cy="313" rx="8.4" ry="10.6" fill="#a27aac"/>
<ellipse cx="526.3" cy="347.3" rx="8.0" ry="8.0" fill="#aa84b2"/>
<ellipse cx="496.6" cy="364.3" rx="7.2" ry="7.2" fill="#aa84b2"/>
<ellipse cx="510.6" cy="376.8" rx="6.2" ry="10.7" fill="#aa84b2"/>
<ellipse cx="501.3" cy="390.8" rx="6.2" ry="8.4" fill="#aa84b2"/>
<ellipse cx="524.7" cy="369" rx="4.8" ry="7.2" fill="#aa84b2"/>
<ellipse cx="540.3" cy="367.4" rx="5.6" ry="9.0" fill="#aa84b2"/>
<ellipse cx="531" cy="392.4" rx="6.2" ry="9.0" fill="#aa84b2"/>
<ellipse cx="523.1" cy="408" rx="6.2" ry="9.0" fill="#aa84b2"/>
<ellipse cx="537.2" cy="423.6" rx="7.2" ry="9.0" fill="#aa84b2"/>
<ellipse cx="516.9" cy="425.2" rx="6.2" ry="8.4" fill="#aa84b2"/>
<ellipse cx="504.4" cy="419" rx="5.3" ry="6.3" fill="#a27aac"/>
<ellipse cx="557.5" cy="437.7" rx="7.1" ry="6.3" fill="#a27aac"/>
<ellipse cx="535.6" cy="439.3" rx="4.8" ry="6.2" fill="#aa84b2"/>
<ellipse cx="518.4" cy="440.8" rx="5.6" ry="5.6" fill="#aa84b2"/>
<ellipse cx="509" cy="451.8" rx="7.2" ry="8.4" fill="#aa84b2"/>
<ellipse cx="543.4" cy="453.3" rx="7.2" ry="7.2" fill="#aa84b2"/>
<ellipse cx="479.4" cy="458" rx="7.2" ry="7.2" fill="#aa84b2"/>
<ellipse cx="588.8" cy="450.2" rx="7.2" ry="6.2" fill="#aa84b2"/>
<ellipse cx="612.2" cy="440.8" rx="7.1" ry="7.1" fill="#a27aac"/>
<ellipse cx="659" cy="439.3" rx="7.1" ry="7.1" fill="#a27aac"/>
<ellipse cx="477.8" cy="365.8" rx="5.2" ry="6.3" fill="#aa84b2"/>
</g>
<g filter="url(#fsoft)" fill="#a8ecec">
<circle cx="479.6" cy="254.7" r="1.2"/>
<circle cx="490.6" cy="250.6" r="1.0"/>
<circle cx="496.4" cy="256.1" r="1.3"/>
<circle cx="508.4" cy="258.4" r="0.9"/>
<circle cx="511.4" cy="250.6" r="1.2"/>
<circle cx="507.4" cy="258.1" r="1.4"/>
<circle cx="472.6" cy="283.3" r="1.1"/>
<circle cx="488.8" cy="281.9" r="1.2"/>
<circle cx="497.0" cy="286.6" r="1.0"/>
<circle cx="491.3" cy="278.8" r="0.8"/>
<circle cx="511.1" cy="277.0" r="1.2"/>
<circle cx="510.2" cy="285.0" r="1.3"/>
<circle cx="542.3" cy="262.7" r="1.1"/>
<circle cx="532.5" cy="259.2" r="0.9"/>
<circle cx="551.4" cy="285.6" r="1.4"/>
<circle cx="543.5" cy="289.9" r="0.9"/>
<circle cx="571.9" cy="258.4" r="1.2"/>
<circle cx="571.1" cy="271.6" r="1.0"/>
<circle cx="579.8" cy="272.9" r="1.0"/>
<circle cx="587.8" cy="264.8" r="1.1"/>
<circle cx="590.2" cy="270.4" r="1.0"/>
<circle cx="597.2" cy="270.1" r="0.9"/>
<circle cx="596.1" cy="280.1" r="1.3"/>
<circle cx="588.7" cy="271.1" r="1.1"/>
<circle cx="559.7" cy="282.2" r="0.9"/>
<circle cx="559.8" cy="282.1" r="1.0"/>
<circle cx="670.1" cy="277.5" r="1.0"/>
<circle cx="663.6" cy="283.6" r="0.9"/>
<circle cx="667.4" cy="255.3" r="1.1"/>
<circle cx="664.3" cy="262.6" r="1.0"/>
<circle cx="671.2" cy="275.3" r="1.3"/>
<circle cx="675.4" cy="283.4" r="0.8"/>
<circle cx="517.2" cy="348.4" r="1.0"/>
<circle cx="528.0" cy="338.3" r="0.9"/>
<circle cx="502.5" cy="358.3" r="0.8"/>
<circle cx="488.5" cy="362.1" r="1.1"/>
<circle cx="507.6" cy="387.6" r="1.3"/>
<circle cx="508.4" cy="365.6" r="0.9"/>
<circle cx="493.9" cy="391.1" r="1.2"/>
<circle cx="508.6" cy="392.8" r="0.9"/>
<circle cx="519.8" cy="364.0" r="1.2"/>
<circle cx="518.8" cy="371.0" r="1.1"/>
<circle cx="533.5" cy="367.0" r="1.0"/>
<circle cx="545.2" cy="360.3" r="1.4"/>
<circle cx="523.6" cy="393.6" r="0.8"/>
<circle cx="525.1" cy="398.5" r="1.3"/>
<circle cx="519.7" cy="417.0" r="0.9"/>
<circle cx="526.0" cy="417.3" r="1.2"/>
<circle cx="531.1" cy="416.6" r="1.0"/>
<circle cx="531.2" cy="416.5" r="1.3"/>
<circle cx="524.2" cy="423.2" r="1.3"/>
<circle cx="510.1" cy="429.0" r="1.3"/>
<circle cx="541.0" cy="435.9" r="1.3"/>
<circle cx="535.6" cy="431.8" r="1.2"/>
<circle cx="511.6" cy="440.3" r="1.3"/>
<circle cx="513.6" cy="436.0" r="1.2"/>
<circle cx="510.2" cy="461.2" r="0.9"/>
<circle cx="507.9" cy="461.2" r="1.2"/>
<circle cx="535.8" cy="449.6" r="0.9"/>
<circle cx="546.6" cy="461.1" r="1.4"/>
<circle cx="487.0" cy="461.7" r="1.4"/>
<circle cx="480.6" cy="449.7" r="1.1"/>
<circle cx="597.2" cy="450.0" r="1.2"/>
<circle cx="597.2" cy="450.5" r="1.4"/>
<circle cx="472.3" cy="369.7" r="1.3"/>
<circle cx="480.3" cy="358.8" r="0.9"/>
</g>
</g>
<rect x="470.3" y="252.4" width="213.1" height="212.8" fill="none" stroke="#555" stroke-width="0.8"/>
<rect x="635.1" y="448.2" width="43.8" height="1.7" fill="#111"/>
<text x="657.8" y="460.5" font-size="9.3" text-anchor="middle" font-weight="normal" fill="#111">250μm</text>
<text x="459.0" y="249.6" font-size="14" text-anchor="start" font-weight="bold" fill="#111">f</text>
</svg></body></html>
